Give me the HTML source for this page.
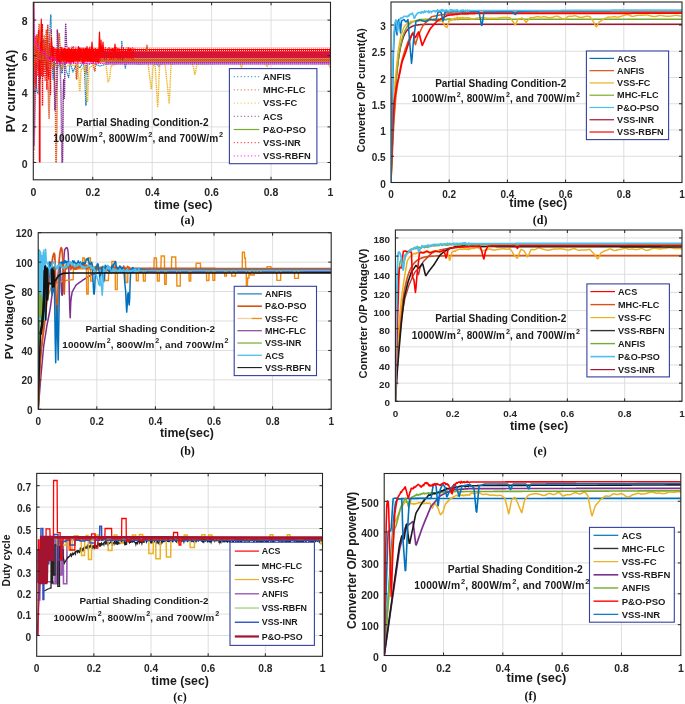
<!DOCTYPE html><html><head><meta charset="utf-8"><style>html,body{margin:0;padding:0;background:#fff;}svg{display:block;will-change:transform;filter:blur(0.3px);}</style></head><body>
<svg width="685" height="704" viewBox="0 0 685 704">
<rect width="685" height="704" fill="#fff"/>
<defs>

<pattern id="pA" patternUnits="userSpaceOnUse" width="2" height="2"><rect width="2" height="2" fill="#FF0000"/><rect x="0" y="0" width="1" height="1" fill="#FFD0D0"/></pattern>
<pattern id="pB" patternUnits="userSpaceOnUse" width="2" height="2"><rect width="2" height="2" fill="#FF0808"/><rect x="1" y="0" width="1" height="1" fill="#8A2A9A"/><rect x="0" y="1" width="1" height="1" fill="#D01840"/></pattern>
<pattern id="pC" patternUnits="userSpaceOnUse" width="2" height="2"><rect width="2" height="2" fill="#F03A10"/><rect x="1" y="0" width="1" height="1" fill="#7AA830"/><rect x="0" y="1" width="1" height="1" fill="#E06020"/></pattern>
<pattern id="pD" patternUnits="userSpaceOnUse" width="2" height="2"><rect width="2" height="2" fill="#C850D0"/><rect x="0" y="0" width="1" height="1" fill="#8E3A9E"/><rect x="1" y="1" width="1" height="1" fill="#E070E0"/></pattern>
<pattern id="pF" patternUnits="userSpaceOnUse" width="2" height="2"><rect width="2" height="2" fill="#FFB0B0"/><rect x="0" y="0" width="1" height="1" fill="#FFFFFF"/></pattern>

<clipPath id="clipa"><rect x="33.3" y="2.3" width="297.2" height="177.5"/></clipPath>
<clipPath id="clipd"><rect x="391" y="2" width="291" height="180.5"/></clipPath>
<clipPath id="clipb"><rect x="38.2" y="232.7" width="293" height="176.6"/></clipPath>
<clipPath id="clipe"><rect x="395.4" y="230" width="286.6" height="171.3"/></clipPath>
<clipPath id="clipc"><rect x="36.7" y="473.4" width="285.8" height="182.9"/></clipPath>
<clipPath id="clipf"><rect x="384.2" y="473.5" width="296.6" height="182"/></clipPath>
</defs>
<path d="M92.74 2.3V179.8M152.18 2.3V179.8M211.62 2.3V179.8M271.06 2.3V179.8M33.3 162.5H330.5M33.3 126.9H330.5M33.3 91.3H330.5M33.3 55.7H330.5M33.3 20.1H330.5" stroke="#D6D6D6" stroke-width="0.8" fill="none"/>
<g clip-path="url(#clipa)">
<polyline points="33.4,2.3 33.8,135.7 34.2,127 34.6,69 35,45.7 35.4,57.1 35.8,69 36.2,81 36.6,90.2 37,91.2 37.4,92.1 37.8,93.1 38.2,94 38.6,77 39,60 39.4,57 39.8,54 40.2,51 40.6,48 41,45 41.4,50 41.8,55 42.2,60 42.6,65 43,70 43.4,67 43.8,64 44.2,61 44.6,58 45,55 45.4,59 45.8,63 46.2,67 46.6,71 47,75 47.4,70 47.8,65 48.2,60 48.6,55 49,50 49.4,41.4 49.8,32.7 50.2,24.1 50.6,15.5 51,14.9 51.4,38.3 51.8,54.3 52.2,62.9 52.6,71.4 53,80 53.4,76.4 53.8,72.8 54.2,69.2 54.6,65.6 55,62 55.4,63.6 55.8,65.2 56.2,66.8 56.6,68.4 57,70 57.4,68.7 57.8,67.3 58.2,66 58.6,64.7 59,63.3 59.4,62 59.8,60.7 60.2,61.5 60.6,64.5 61,67.5 61.4,70.5 61.8,73.5 62.2,73.3 62.6,69.9 63,66.5 63.4,63.1 63.8,59.7 64.2,59.2 64.6,61.6 65,64 65.4,66.4 65.8,68.8 66.2,70.6 66.6,71.7 67,72.9 67.4,74 67.8,75.1 68.2,76.3 68.6,77.4 69,75.3 69.4,70 69.8,64.7 70.2,62.7 70.6,64 71,65.3 71.4,66.7 71.8,68 72.2,69.3 72.6,70.7 73,72 73.4,71.1 73.8,70.1 74.2,69.2 74.6,68.3 75,67.3 75.4,66.4 75.8,65.5 76.2,65.1 76.6,65.4 77,65.7 77.4,66 77.8,66.3 78.2,66.6 78.6,66.9 79,67.2 79.4,67.5 79.8,67.8 80.2,67.6 80.6,66.8 81,66 81.4,65.2 81.8,64.4 82.2,63.6 82.6,62.8 83,62 83.4,64.1 83.8,66.3 84.2,68.4 84.6,72.7 85,83.6 85.4,94.4 85.8,105.3 86.2,104.6 86.6,92.4 87,80.2 87.4,68 87.8,64.9 88.2,64.7 88.6,64.5 89,64.3 89.4,64.2 89.8,64 90.2,63.8 90.6,63.6 91,63.4 91.4,63.3 91.8,63.1 92.2,63.1 92.6,63.2 93,63.4 93.4,63.5 93.8,63.7 94.2,63.8 94.6,64 95,64.1 95.4,64.3 95.8,64.4 96.2,64.6 96.6,64.7 97,64.9 97.4,65 97.8,65.2 98.2,65.3 98.6,65.5 99,65.6 99.4,65.8 99.8,65.9 100.2,65.9 100.6,65.8 101,65.7 101.4,65.6 101.8,65.5 102.2,65.3 102.6,65.2 103,65.1 103.4,65 103.8,64.9 104.2,64.7 104.6,64.6 105,64.5 105.4,64.4 105.8,64.3 106.2,64.1 106.6,64 107,63.9 107.4,63.8 107.8,63.7 108.2,63.5 108.6,63.4 109,63.3 109.4,63.2 109.8,63.1 110.2,63 110.6,62.9 111,62.9 111.4,62.8 111.8,62.8 112.2,62.7 112.6,62.7 113,62.6 113.4,62.6 113.8,62.5 114.2,62.5 114.6,62.4 115,62.4 115.4,62.3 115.8,62.3 116.2,62.2 116.6,62.2 117,62.1 117.4,62.1 117.8,62 118.2,61.6 118.6,60.7 119,59.8 119.4,58.9 119.8,58.1 120.2,57.2 120.6,56.3 121,55.4 121.4,50.5 121.8,41.4 122.2,45.9 122.6,55 123,56.5 123.4,57.9 123.8,59.4 124.2,60.9 124.6,62.8 125,65.8 125.4,68.9 125.8,65.8 126.2,62.8 126.6,62.1 127,62.2 127.4,62.3 127.8,62.4 128.2,62.5 128.6,62.6 129,62.7 129.4,62.8 129.8,62.9 130.2,63 130.6,63.1 131,63.1 131.4,63.1 131.8,63.2 132.2,63.2 132.6,63.3 133,63.3 133.4,63.3 133.8,63.4 134.2,63.4 134.6,63.5 135,63.5 135.4,63.5 135.8,63.6 136.2,63.6 136.6,63.7 137,63.7 137.4,63.7 137.8,63.8 138.2,63.8 138.6,63.9 139,63.9 139.4,63.9 139.8,64 140.2,64 140.6,63.9 141,63.9 141.4,63.9 141.8,63.8 142.2,63.8 142.6,63.7 143,63.7 143.4,63.7 143.8,63.6 144.2,63.6 144.6,63.5 145,63.5 145.4,63.5 145.8,63.4 146.2,63.4 146.6,63.3 147,63.3 147.4,63.3 147.8,63.2 148.2,63.2 148.6,63.1 149,63.1 149.4,63.1 149.8,63 150.2,63 150.6,63.1 151,63.1 151.4,63.2 151.8,63.3 152.2,63.3 152.6,63.4 153,63.4 153.4,63.5 153.8,63.5 154.2,63.6 154.6,63.7 155,63.7 155.4,63.8 155.8,63.8 156.2,63.9 156.6,63.9 157,64 157.4,64.5 157.8,65 158.2,65.5 158.6,66 159,66.5 159.4,65.6 159.8,64.7 160.2,63.8 160.6,62.9 161,62" fill="none" stroke="#0072BD" stroke-width="1.2" stroke-linejoin="round" stroke-dasharray="1.2 0.7"/>
<polyline points="33.5,2.3 33.9,96.7 34.3,83.3 34.7,70 35.1,59.5 35.5,57.5 35.9,55.5 36.3,53.5 36.7,51.5 37.1,48.8 37.5,43.9 37.9,38.9 38.3,34 38.7,29.1 39.1,24.2 39.5,24.1 39.9,38.5 40.3,52.8 40.7,57.3 41.1,52 41.5,46.7 41.9,41.3 42.3,43.7 42.7,48.7 43.1,53.7 43.5,58.7 43.9,63.7 44.3,60.5 44.7,54.4 45.1,48.4 45.5,42.4 45.9,36.3 46.3,30.3 46.7,34.6 47.1,42.3 47.5,50 47.9,74 48.3,92.8 48.7,109.9 49.1,119.1 49.5,104.9 49.9,90.7 50.3,76.3 50.7,61.3 51.1,51 51.5,55 51.9,59 52.3,63 52.7,67 53.1,69.3 53.5,66.7 53.9,64 54.3,61.3 54.7,68.9 55.1,86.7 55.5,115.6 55.9,162.5 56.3,162.5 56.7,141.3 57.1,108 57.5,60 57.9,53.4 58.3,46.8 58.7,40.2 59.1,33.6 59.5,37.3 59.9,44.4 60.3,51.5 60.7,57 61.1,61 61.5,65 61.9,69 62.3,66.7 62.7,62.3 63.1,57.9 63.5,53.5 63.9,49.1 64.3,50.5 64.7,53.9 65.1,57.3 65.5,60.7 65.9,64.1 66.3,62.8 66.7,59.8 67.1,56.8 67.5,53.8 67.9,50.8 68.3,51.8 68.7,54.2 69.1,56.6 69.5,59 69.9,61.4 70.3,60.2 70.7,57.8 71.1,55.4 71.5,53 71.9,50.6 72.3,50.9 72.7,52 73.1,53.1 73.5,54.3 73.9,55.4 74.3,56.6 74.7,57.7 75.1,58.9 75.5,60 75.9,69 76.3,77.9 76.7,79 77.1,72.1 77.5,65.2 77.9,59.8 78.3,58.9 78.7,58 79.1,57 79.5,56.1 79.9,55.2 80.3,55.4 80.7,56 81.1,56.5 81.5,57.1 81.9,57.7 82.3,58.2 82.7,58.8 83.1,59.3 83.5,59.9 83.9,60.5 84.3,61 84.7,61.6 85.1,63.3 85.5,68.5 85.9,73.7 86.3,70.5 86.7,64.5 87.1,59.4 87.5,57 87.9,54.6 88.3,54.4 88.7,55 89.1,55.6 89.5,56.2 89.9,56.8 90.3,57.4 90.7,58 91.1,58.6 91.5,59.2 91.9,59.8 92.3,61.2 92.7,62.8 93.1,64.4 93.5,66 93.9,67.6 94.3,69.2 94.7,70.8 95.1,70.6 95.5,65 95.9,59.4 96.3,57.4 96.7,56.6 97.1,55.8 97.5,55 97.9,54.2 98.3,53.4 98.7,52.6 99.1,51.8 99.5,51 99.9,50.2 100.3,50.7 100.7,51.7 101.1,52.6 101.5,53.6 101.9,54.6 102.3,55.5 102.7,56.5 103.1,57.4 103.5,58.4 103.9,59.4 104.3,60.3 104.7,61.3 105.1,61.8 105.5,61 105.9,60.2 106.3,59.4 106.7,58.6 107.1,57.8 107.5,57 107.9,56.2 108.3,55.4 108.7,54.6 109.1,53.8 109.5,53 109.9,52.2" fill="none" stroke="#D95319" stroke-width="1.5" stroke-linejoin="round" stroke-dasharray="1.3 0.7"/>
<polyline points="33.6,2.3 34,130 34.4,106 34.8,82 35.2,69.7 35.6,69 36,68.4 36.4,67.8 36.8,67.1 37.2,66.5 37.6,65.8 38,65.2 38.4,64.6 38.8,63.9 39.2,63.3 39.6,62.6 40,62 40.4,62.1 40.8,62.2 41.2,62.2 41.6,62.3 42,62.4 42.4,62.5 42.8,62.6 43.2,62.6 43.6,62.7 44,62.8 44.4,62.9 44.8,63 45.2,63 45.6,63.1 46,63.2 46.4,63.3 46.8,63.4 47.2,63.4 47.6,63.5 48,63.6 48.4,63.7 48.8,63.8 49.2,63.8 49.6,63.9 50,64 50.4,64.1 50.8,64.2 51.2,64.2 51.6,64.3 52,64.4 52.4,64.5 52.8,64.6 53.2,64.6 53.6,64.7 54,64.8 54.4,64.9 54.8,65 55.2,65 55.6,65.1 56,65.2 56.4,65.3 56.8,65.4 57.2,65.4 57.6,65.5 58,65.6 58.4,65.7 58.8,65.8 59.2,65.8 59.6,65.9 60,66 60.4,66.2 60.8,66.3 61.2,66.5 61.6,66.6 62,66.8 62.4,67 62.8,67.1 63.2,67.3 63.6,67.4 64,67.6 64.4,67.8 64.8,67.9 65.2,67.8 65.6,67.5 66,67.2 66.4,66.9 66.8,66.6 67.2,66.2 67.6,65.9 68,65.6 68.4,65.3 68.8,65 69.2,64.6 69.6,64.3 70,64 70.4,64.2 70.8,64.3 71.2,64.5 71.6,64.6 72,64.8 72.4,65 72.8,65.1 73.2,65.3 73.6,65.4 74,65.6 74.4,65.8 74.8,65.9 75.2,65.9 75.6,65.6 76,65.3 76.4,65.1 76.8,64.8 77.2,64.5 77.6,64.3 78,64 78.4,70.8 78.8,77.6 79.2,84.4 79.6,91.2 80,90.5 80.4,82.3 80.8,74.1 81.2,69.8 81.6,69.4 82,69 82.4,68.6 82.8,68.2 83.2,67.8 83.6,67.4 84,67 84.4,66.6 84.8,66.2 85.2,69.1 85.6,75.3 86,81.5 86.4,87.7 86.8,93.9 87.2,100.1 87.6,102.3 88,92.5 88.4,82.7 88.8,72.9 89.2,67.9 89.6,67.6 90,67.3 90.4,67.1 90.8,66.8 91.2,66.5 91.6,66.3 92,66 92.4,65.7 92.8,65.5 93.2,65.2 93.6,64.9 94,64.7 94.4,64.4 94.8,64.1 95.2,63.9 95.6,63.8 96,63.6 96.4,63.4 96.8,63.3 97.2,63.1 97.6,63 98,62.8 98.4,62.6 98.8,62.5 99.2,62.3 99.6,62.2 100,62 100.4,62.1 100.8,62.3 101.2,62.4 101.6,62.5 102,62.7 102.4,62.8 102.8,62.9 103.2,63.1 103.6,63.2 104,63.3 104.4,63.5 104.8,63.6 105.2,63.7 105.6,63.9 106,64 106.4,67.6 106.8,71.1 107.2,74.7 107.6,78.2 108,81.8 108.4,81.2 108.8,80.5 109.2,79.9 109.6,78.5 110,74.9 110.4,71.4 110.8,67.8 111.2,65.9 111.6,65.7 112,65.6 112.4,65.4 112.8,65.2 113.2,65 113.6,64.8 114,64.7 114.4,64.5 114.8,64.3 115.2,64.1 115.6,64 116,63.8 116.4,63.6 116.8,63.4 117.2,63.2 117.6,63.1 118,62.9 118.4,62.7 118.8,62.5 119.2,62.4 119.6,62.2 120,62 120.4,62 120.8,62 121.2,62.1 121.6,62.1 122,62.1 122.4,62.1 122.8,62.1 123.2,62.2 123.6,62.2 124,62.2 124.4,62.2 124.8,62.2 125.2,62.3 125.6,62.3 126,62.3 126.4,62.3 126.8,62.3 127.2,62.4 127.6,62.4 128,62.4 128.4,62.4 128.8,62.4 129.2,62.5 129.6,62.5 130,62.5 130.4,62.5 130.8,62.5 131.2,62.6 131.6,62.6 132,62.6 132.4,62.6 132.8,62.6 133.2,62.7 133.6,62.7 134,62.7 134.4,62.7 134.8,62.7 135.2,62.8 135.6,62.8 136,62.8 136.4,62.8 136.8,62.8 137.2,62.9 137.6,62.9 138,62.9 138.4,62.9 138.8,62.9 139.2,63 139.6,63 140,63 140.4,63 140.8,63 141.2,63 141.6,63 142,63 142.4,63 142.8,63 143.2,63 143.6,63 144,63 144.4,63 144.8,63 145.2,63 145.6,63 146,63 146.4,63 146.8,63 147.2,63 147.6,63 148,63 148.4,66.3 148.8,69.5 149.2,72.8 149.6,76 150,79.3 150.4,82.6 150.8,85.8 151.2,89.1 151.6,87.6 152,81.4 152.4,75.3 152.8,69.1 153.2,65.7 153.6,65.1 154,64.5 154.4,63.9 154.8,63.3 155.2,66.4 155.6,73.1 156,79.8 156.4,86.5 156.8,93.2 157.2,99.9 157.6,106.6 158,104.7 158.4,94.1 158.8,83.5 159.2,72.9 159.6,65 160,64.8 160.4,64.7 160.8,64.5 161.2,64.4 161.6,64.2 162,64.1 162.4,63.9 162.8,63.8 163.2,63.7 163.6,63.5 164,63.4 164.4,63.2 164.8,63.1 165.2,64.9 165.6,68.8 166,72.7 166.4,76.6 166.8,80.5 167.2,84.4 167.6,88.3 168,92.2 168.4,96.1 168.8,99.9 169.2,103.8 169.6,97.6 170,88 170.4,78.4 170.8,68.8 171.2,64 171.6,63.9 172,63.9 172.4,63.8 172.8,63.8 173.2,63.8 173.6,63.7 174,63.7 174.4,63.6 174.8,63.6 175.2,63.5 175.6,63.5 176,63.4 176.4,63.4 176.8,63.4 177.2,63.3 177.6,63.3 178,63.2 178.4,63.2 178.8,63.1 179.2,63.1 179.6,63 180,63 180.4,63 180.8,63 181.2,63 181.6,63 182,63 182.4,63 182.8,63 183.2,63 183.6,63 184,63 184.4,63 184.8,63 185.2,63 185.6,63 186,63 186.4,63 186.8,63 187.2,63 187.6,63 188,63 188.4,63 188.8,63 189.2,63 189.6,63 190,63 190.4,63.3 190.8,63.5 191.2,63.8 191.6,64.1 192,64.3 192.4,64.6 192.8,64.9 193.2,66.1 193.6,68.3 194,70.5 194.4,72.7 194.8,74.9 195.2,73.8 195.6,71.6 196,69.4 196.4,67.3 196.8,65.1 197.2,64 197.6,64 198,64 198.4,64 198.8,63.9 199.2,63.9 199.6,63.9 200,63.9 200.4,63.9 200.8,63.9 201.2,63.9 201.6,63.9 202,63.8 202.4,63.8 202.8,63.8 203.2,63.8 203.6,63.8 204,63.8 204.4,63.8 204.8,63.8 205.2,63.8 205.6,63.7 206,63.7 206.4,63.7 206.8,63.7 207.2,63.7 207.6,63.7 208,63.7 208.4,63.7 208.8,63.6 209.2,63.6 209.6,63.6 210,63.6 210.4,63.6 210.8,63.6 211.2,63.6 211.6,63.6 212,63.5 212.4,63.5 212.8,63.5 213.2,63.5 213.6,63.5 214,63.5 214.4,63.5 214.8,63.5 215.2,63.4 215.6,63.4 216,63.4 216.4,63.4 216.8,63.4 217.2,63.4 217.6,63.4 218,63.4 218.4,63.4 218.8,63.3 219.2,63.3 219.6,63.3 220,63.3 220.4,63.3 220.8,63.3 221.2,63.3 221.6,63.3 222,63.2 222.4,63.2 222.8,63.2 223.2,63.2 223.6,63.2 224,63.2 224.4,63.2 224.8,63.2 225.2,63.1 225.6,63.1 226,63.1 226.4,63.1 226.8,63.1 227.2,63.1 227.6,63.1 228,63.1 228.4,63 228.8,63 229.2,63 229.6,63 230,63 230.4,63 230.8,63 231.2,63.1 231.6,63.1 232,63.1 232.4,63.1 232.8,63.1 233.2,63.2 233.6,63.2 234,63.2 234.4,63.2 234.8,63.2 235.2,63.3 235.6,63.3 236,63.3 236.4,63.3 236.8,63.3 237.2,63.4 237.6,63.4 238,63.4 238.4,63.4 238.8,63.4 239.2,63.5 239.6,63.5 240,63.5 240.4,64.8 240.8,66.1 241.2,67.4 241.6,67.4 242,66.1 242.4,64.9 242.8,63.6 243.2,63 243.6,63 244,63 244.4,63 244.8,63 245.2,63 245.6,63 246,63 246.4,63 246.8,63 247.2,63 247.6,63 248,63 248.4,63 248.8,63 249.2,63 249.6,63 250,63 250.4,63 250.8,63 251.2,63 251.6,63 252,63 252.4,63 252.8,63 253.2,63 253.6,63 254,63 254.4,63 254.8,63 255.2,63 255.6,63 256,63 256.4,63 256.8,63 257.2,63 257.6,63 258,63 258.4,63 258.8,63 259.2,63 259.6,63 260,63 260.4,63 260.8,63 261.2,63 261.6,63 262,63 262.4,63 262.8,63 263.2,63 263.6,63 264,63 264.4,63 264.8,63 265.2,63.4 265.6,64.2 266,65 266.4,65.8 266.8,66.6 267.2,66.6 267.6,65.8 268,65 268.4,64.2 268.8,63.4 269.2,63 269.6,63 270,63 270.4,63 270.8,63 271.2,63 271.6,63 272,63 272.4,63 272.8,63 273.2,63 273.6,63 274,63 274.4,63 274.8,63 275.2,63 275.6,63 276,63 276.4,63 276.8,63 277.2,63 277.6,63 278,63 278.4,63 278.8,63 279.2,63 279.6,63 280,63 280.4,63 280.8,63 281.2,63 281.6,63 282,63 282.4,63 282.8,63 283.2,63 283.6,63 284,63 284.4,63 284.8,63 285.2,63 285.6,63 286,63 286.4,63 286.8,63 287.2,63 287.6,63 288,63 288.4,63 288.8,63 289.2,63 289.6,63 290,63 290.4,63 290.8,63 291.2,63 291.6,63 292,63 292.4,63 292.8,63 293.2,63 293.6,63 294,63 294.4,63 294.8,63 295.2,63 295.6,63 296,63 296.4,63 296.8,63 297.2,63 297.6,63 298,63 298.4,63 298.8,63 299.2,63 299.6,63 300,63 300.4,63 300.8,63 301.2,63 301.6,63 302,63 302.4,63 302.8,63 303.2,63 303.6,63 304,63 304.4,63 304.8,63 305.2,63 305.6,63 306,63 306.4,63 306.8,63 307.2,63 307.6,63 308,63 308.4,63 308.8,63 309.2,63 309.6,63 310,63 310.4,63 310.8,63 311.2,63 311.6,63 312,63 312.4,63 312.8,63 313.2,63 313.6,63 314,63 314.4,63 314.8,63 315.2,63 315.6,63 316,63 316.4,63 316.8,63 317.2,63 317.6,63 318,63 318.4,63 318.8,63 319.2,63 319.6,63 320,63 320.4,63 320.8,63 321.2,63 321.6,63 322,63 322.4,63 322.8,63 323.2,63 323.6,63 324,63 324.4,63 324.8,63 325.2,63 325.6,63 326,63 326.4,63 326.8,63 327.2,63 327.6,63 328,63 328.4,64 328.8,65 329.2,66 329.6,67 330,68" fill="none" stroke="#EDB120" stroke-width="1.4" stroke-linejoin="round" stroke-dasharray="1.2 0.7"/>
<polyline points="33.7,2.3 34.1,146 34.5,130 34.9,114 35.3,98 35.7,82 36.1,69.3 36.5,66.3 36.9,63.3 37.3,60.3 37.7,57.3 38.1,56.2 38.5,61.2 38.9,66.2 39.3,71.2 39.7,76.2 40.1,78.5 40.5,72.5 40.9,66.5 41.3,60.5 41.7,54.5 42.1,49.4 42.5,47 42.9,44.6 43.3,42.2 43.7,39.8 44.1,39.6 44.5,46 44.9,52.4 45.3,58.8 45.7,65.2 46.1,69.3 46.5,66.3 46.9,63.3 47.3,60.3 47.7,57.3 48.1,55.2 48.5,56.2 48.9,57.2 49.3,58.2 49.7,59.2 50.1,59.3 50.5,56.3 50.9,53.3 51.3,50.3 51.7,47.3 52.1,45.8 52.5,48.9 52.9,52.1 53.3,55.3 53.7,58.4 54.1,70 54.5,90 54.9,110 55.3,109.5 55.7,102.1 56.1,94.7 56.5,87.4 56.9,80 57.3,30 57.7,36.7 58.1,43.3 58.5,50 58.9,53.2 59.3,56.4 59.7,59.6 60.1,65.2 60.5,77.8 60.9,90.5 61.3,110.4 61.7,152.1 62.1,162.5 62.5,162.5 62.9,131.3 63.3,90 63.7,79.7 64.1,99.2 64.5,95 64.9,67 65.3,40.9 65.7,24.3 66.1,34.6 66.5,45 66.9,46.3 67.3,47.7 67.7,49 68.1,49.9 68.5,49.6 68.9,49.3 69.3,49 69.7,48.7 70.1,48.4 70.5,48.1 70.9,47.8 71.3,47.5 71.7,47.2 72.1,47 72.5,47.1 72.9,47.1 73.3,47.2 73.7,47.2 74.1,47.3 74.5,47.3 74.9,47.4 75.3,47.4 75.7,47.5 76.1,47.5 76.5,47.6 76.9,47.6 77.3,47.7 77.7,47.7 78.1,47.8 78.5,47.8 78.9,47.9 79.3,47.9 79.7,48 80.1,48 80.5,48 80.9,48.1 81.3,48.1 81.7,48.2 82.1,48.2 82.5,48.2 82.9,48.3 83.3,48.3 83.7,48.4 84.1,48.4 84.5,48.4 84.9,48.5 85.3,48.5 85.7,48.6 86.1,48.6 86.5,48.6 86.9,48.7 87.3,48.7 87.7,48.8 88.1,48.8 88.5,48.8 88.9,48.9 89.3,48.9 89.7,49 90.1,49 90.5,49 90.9,49.1 91.3,49.1 91.7,49.2 92.1,49.2 92.5,49.2 92.9,49.3 93.3,49.3 93.7,49.4 94.1,49.4 94.5,49.4 94.9,49.5 95.3,49.5 95.7,49.6 96.1,49.6 96.5,49.6 96.9,49.7 97.3,49.7 97.7,49.8 98.1,49.8 98.5,49.8 98.9,49.9 99.3,49.9 99.7,50 100.1,50 100.5,50.2 100.9,50.3 101.3,50.4 101.7,50.6 102.1,50.7 102.5,50.8 102.9,51 103.3,51.1 103.7,51.2 104.1,51.4 104.5,51.5 104.9,51.6 105.3,51.8 105.7,51.9" fill="none" stroke="#7E2F8E" stroke-width="1.5" stroke-linejoin="round" stroke-dasharray="1.3 0.7"/>
<rect x="60" y="47.3" width="271" height="1.6" fill="url(#pF)"/>
<rect x="60" y="48.8" width="271" height="3" fill="url(#pA)"/>
<rect x="60" y="51.8" width="271" height="6.6" fill="url(#pB)"/>
<rect x="60" y="58.4" width="271" height="3.5" fill="url(#pC)"/>
<rect x="105" y="61.9" width="226" height="2.7" fill="url(#pD)"/>
<polyline points="33.4,38.5 34.3,84 35.2,36.7 36.1,88.5 37,34.8 37.9,76 38.8,29.6 39.7,84.2 40.6,43 41.5,75.4 42.4,23.9 43.3,76.9 44.2,43.8 45.1,81.2 46,40.3 46.9,89.9 47.8,24.5 48.7,79 49.6,42.9 50.5,94.6 51.4,30" fill="none" stroke="#FF0000" stroke-width="1.3" stroke-linejoin="round" stroke-dasharray="1.4 0.8"/>
<polyline points="33.8,37.4 35.1,62.6 36.4,34.6 37.7,69.9 39,36.5 40.3,67.3 41.6,35.1 42.9,65.5 44.2,35.2 45.5,69.6 46.8,35.7 48.1,67 49.4,34.7" fill="none" stroke="#D95319" stroke-width="1.1" stroke-linejoin="round" stroke-dasharray="1.2 0.8"/>
<polyline points="39.7,60 39.7,162.5" fill="none" stroke="#FF0000" stroke-width="1.8" stroke-linejoin="round"/>
<polyline points="42.5,60 42.5,106" fill="none" stroke="#FF0000" stroke-width="1.5" stroke-linejoin="round" stroke-dasharray="1.5 0.5"/>
<polyline points="52,48.8 52.7,61.3 53.4,47.3 54.1,60.6 54.8,47.8 55.5,61 56.2,48.8 56.9,62.9 57.6,48.9 58.3,61.7 59,48.9 59.7,61.9 60.4,46.9 61.1,62.9 61.8,47.5 62.5,60.2 63.2,48.6 63.9,61.2 64.6,48.3 65.3,60.1 66,49 66.7,62.4 67.4,49.5 68.1,62.1 68.8,47.4 69.5,62.2 70.2,49.3 70.9,62.8 71.6,48.7 72.3,61.8 73,47.3 73.7,63 74.4,49.5 75.1,60.4 75.8,48.8 76.5,60.3 77.2,48.7 77.9,61.3 78.6,46.7 79.3,60.7 80,48.2 80.7,60.6 81.4,48.6 82.1,62.6 82.8,48.3 83.5,62.9 84.2,48.8 84.9,61.8 85.6,48.3 86.3,60 87,46.7 87.7,61.2 88.4,48.4 89.1,61 89.8,47.1 90.5,61.7 91.2,49.1 91.9,61.4 92.6,48.6 93.3,62.1 94,48.7 94.7,61.3 95.4,48.1 96.1,62.2 96.8,49.3 97.5,62.5 98.2,48.6 98.9,62.8 99.6,47.6" fill="none" stroke="#FF0000" stroke-width="1.3" stroke-linejoin="round" stroke-dasharray="1.6 0.4"/>
<polyline points="100,48.3 100.9,59.3 101.8,47.5 102.7,58.2 103.6,47.9 104.5,59.1 105.4,47.5 106.3,59 107.2,49 108.1,58.1 109,47.5 109.9,59.3 110.8,48.8 111.7,58.7 112.6,47.7 113.5,58.9 114.4,47.6 115.3,58.9 116.2,47 117.1,59.3 118,47.5 118.9,58.9 119.8,48.7 120.7,59.4 121.6,47.1 122.5,59.9 123.4,47.2 124.3,58.9 125.2,48.8 126.1,58.6 127,47.7 127.9,58.1 128.8,47.2 129.7,58.2 130.6,48.4 131.5,59.1 132.4,47.9 133.3,59.8 134.2,48" fill="none" stroke="#FF0000" stroke-width="1.1" stroke-linejoin="round" stroke-dasharray="1.2 0.8"/>
<polyline points="40.6,52 41.3,19.2 42,52" fill="none" stroke="#FF0000" stroke-width="1.2" stroke-linejoin="round"/>
<polyline points="50.8,52 51.5,37 52.2,52" fill="none" stroke="#FF0000" stroke-width="1.2" stroke-linejoin="round"/>
<polyline points="98.8,52 99.5,32 100.2,52" fill="none" stroke="#FF0000" stroke-width="1.2" stroke-linejoin="round"/>
<polyline points="100.3,52 101,40 101.7,52" fill="none" stroke="#FF0000" stroke-width="1.2" stroke-linejoin="round"/>
<polyline points="102.3,52 103,42 103.7,52" fill="none" stroke="#FF0000" stroke-width="1.2" stroke-linejoin="round"/>
<polyline points="91.3,52 92,42 92.7,52" fill="none" stroke="#FF0000" stroke-width="1.2" stroke-linejoin="round"/>
<polyline points="114.3,52 115,44 115.7,52" fill="none" stroke="#FF0000" stroke-width="1.2" stroke-linejoin="round"/>
<polyline points="146.3,52 147,45 147.7,52" fill="none" stroke="#D95319" stroke-width="1.2" stroke-linejoin="round"/>
<polyline points="33.7,2.5 33.7,162.5" fill="none" stroke="#FF0000" stroke-width="1.2" stroke-linejoin="round" stroke-dasharray="1.2 1.0"/>
<polyline points="34.6,30 34.6,150" fill="none" stroke="#F06080" stroke-width="1.0" stroke-linejoin="round" stroke-dasharray="1 1.2"/>
<polyline points="33.5,2.5 33.9,16.5 34.3,33.2 34.7,42.2 35.1,42.5 35.5,42.9 35.9,43.3 36.3,43.6 36.7,44 37.1,44.6 37.5,45.4 37.9,46.1 38.3,46.8 38.7,47.6 39.1,48.3 39.5,49 39.9,49.7 40.3,50.5 40.7,51.2 41.1,51.3 41.5,51.5 41.9,51.6 42.3,51.7 42.7,51.8 43.1,52 43.5,52.1 43.9,52.2 44.3,52.3 44.7,52.7 45.1,53.3 45.5,53.9 45.9,54.5 46.3,55.1 46.7,55.7 47.1,56.3 47.5,56.9 47.9,57.5 48.3,58.1 48.7,58.7 49.1,59.3 49.5,59.9 49.9,59.8 50.3,59.4 50.7,59 51.1,58.6 51.5,58.2 51.9,57.8 52.3,57.6 52.7,57.8 53.1,58 53.5,58.3 53.9,58.5 54.3,58.8 54.7,59 55.1,59.4 55.5,59.8 55.9,60.1 56.3,60.5 56.7,60.9 57.1,61.3 57.5,61.7 57.9,62 58.3,62.4 58.7,62.7 59.1,62.8 59.5,62.9 59.9,62.9 60.3,63 60.7,63.1 61.1,63.1 61.5,63.2 61.9,63.3 62.3,63.3 62.7,63.3 63.1,63.3 63.5,63.3 63.9,63.3 64.3,63.3 64.7,63.3 65.1,63.3 65.5,63.3 65.9,63.3 66.3,63.3 66.7,63.3 67.1,63.3 67.5,63.3 67.9,63.3 68.3,63.3 68.7,63.3 69.1,63.3 69.5,63.3 69.9,63.3 70.3,63.3 70.7,63.3 71.1,63.3 71.5,63.3 71.9,63.3 72.3,63.3 72.7,63.3 73.1,63.3 73.5,63.3 73.9,63.3 74.3,63.3 74.7,63.3 75.1,63.3 75.5,63.3 75.9,63.3 76.3,63.3 76.7,63.3 77.1,63.3 77.5,63.3 77.9,63.3 78.3,63.3 78.7,63.3 79.1,63.3 79.5,63.3 79.9,63.3 80.3,63.3 80.7,63.3 81.1,63.3 81.5,63.3 81.9,63.3 82.3,63.3 82.7,63.3 83.1,63.3 83.5,63.3 83.9,63.3 84.3,63.3 84.7,63.3 85.1,63.3 85.5,63.3 85.9,63.3 86.3,63.3 86.7,63.3 87.1,63.3 87.5,63.3 87.9,63.3 88.3,63.3 88.7,63.3 89.1,63.3 89.5,63.3 89.9,63.3 90.3,63.3 90.7,63.3 91.1,63.3 91.5,63.3 91.9,63.3 92.3,63.3 92.7,63.3 93.1,63.3 93.5,63.3 93.9,63.3 94.3,63.3 94.7,63.3 95.1,63.3 95.5,63.3 95.9,63.3 96.3,63.3 96.7,63.3 97.1,63.3 97.5,63.3 97.9,63.3 98.3,63.3 98.7,63.3 99.1,63.3 99.5,63.3 99.9,63.3 100.3,63.3 100.7,63.3 101.1,63.3 101.5,63.3 101.9,63.3 102.3,63.3 102.7,63.3 103.1,63.3 103.5,63.3 103.9,63.3 104.3,63.3 104.7,63.3" fill="none" stroke="#FF00FF" stroke-width="1.4" stroke-linejoin="round" stroke-dasharray="1 0.8"/>
</g>
<rect x="33.3" y="2.3" width="297.2" height="177.5" fill="none" stroke="#262626" stroke-width="1.1"/>
<path d="M92.74 179.8v-3M92.74 2.3v3M152.18 179.8v-3M152.18 2.3v3M211.62 179.8v-3M211.62 2.3v3M271.06 179.8v-3M271.06 2.3v3M33.3 162.5h3M330.5 162.5h-3M33.3 126.9h3M330.5 126.9h-3M33.3 91.3h3M330.5 91.3h-3M33.3 55.7h3M330.5 55.7h-3M33.3 20.1h3M330.5 20.1h-3" stroke="#262626" stroke-width="1" fill="none"/>
<text x="33.3" y="195.8" font-size="10.5" text-anchor="middle" font-weight="bold" font-family="Liberation Sans" fill="#262626">0</text>
<text x="92.74" y="195.8" font-size="10.5" text-anchor="middle" font-weight="bold" font-family="Liberation Sans" fill="#262626">0.2</text>
<text x="152.18" y="195.8" font-size="10.5" text-anchor="middle" font-weight="bold" font-family="Liberation Sans" fill="#262626">0.4</text>
<text x="211.62" y="195.8" font-size="10.5" text-anchor="middle" font-weight="bold" font-family="Liberation Sans" fill="#262626">0.6</text>
<text x="271.06" y="195.8" font-size="10.5" text-anchor="middle" font-weight="bold" font-family="Liberation Sans" fill="#262626">0.8</text>
<text x="330.5" y="195.8" font-size="10.5" text-anchor="middle" font-weight="bold" font-family="Liberation Sans" fill="#262626">1</text>
<text x="27.5" y="167.88" font-size="10.5" text-anchor="end" font-weight="bold" font-family="Liberation Sans" fill="#262626">0</text>
<text x="27.5" y="132.28" font-size="10.5" text-anchor="end" font-weight="bold" font-family="Liberation Sans" fill="#262626">2</text>
<text x="27.5" y="96.68" font-size="10.5" text-anchor="end" font-weight="bold" font-family="Liberation Sans" fill="#262626">4</text>
<text x="27.5" y="61.08" font-size="10.5" text-anchor="end" font-weight="bold" font-family="Liberation Sans" fill="#262626">6</text>
<text x="27.5" y="25.48" font-size="10.5" text-anchor="end" font-weight="bold" font-family="Liberation Sans" fill="#262626">8</text>
<text transform="translate(15.21,91) rotate(-90)" font-size="12.8" text-anchor="middle" font-weight="bold" font-family="Liberation Sans" fill="#1a1a1a">PV current(A)</text>
<text x="183.3" y="209" font-size="12.5" text-anchor="middle" font-weight="bold" font-family="Liberation Sans" fill="#1a1a1a">time (sec)</text>
<text x="187.5" y="223.8" font-size="12.0" text-anchor="middle" font-weight="bold" font-family="Liberation Serif" fill="#111">(a)</text>
<rect x="229.4" y="68.6" width="87.5" height="95.1" fill="#fff" stroke="#34409E" stroke-width="1.1"/>
<line x1="233.7" y1="76.7" x2="259.3" y2="76.7" stroke="#0072BD" stroke-width="1" stroke-dasharray="1 2.5"/>
<text x="263.1" y="80.05" font-size="9.3" text-anchor="start" font-weight="bold" font-family="Liberation Sans" fill="#1a1a1a">ANFIS</text>
<line x1="233.7" y1="89.9" x2="259.3" y2="89.9" stroke="#D95319" stroke-width="1" stroke-dasharray="1 2.5"/>
<text x="263.1" y="93.25" font-size="9.3" text-anchor="start" font-weight="bold" font-family="Liberation Sans" fill="#1a1a1a">MHC-FLC</text>
<line x1="233.7" y1="103.1" x2="259.3" y2="103.1" stroke="#EDB120" stroke-width="1" stroke-dasharray="1 2.5"/>
<text x="263.1" y="106.45" font-size="9.3" text-anchor="start" font-weight="bold" font-family="Liberation Sans" fill="#1a1a1a">VSS-FC</text>
<line x1="233.7" y1="116.3" x2="259.3" y2="116.3" stroke="#7E2F8E" stroke-width="1" stroke-dasharray="1 2.5"/>
<text x="263.1" y="119.65" font-size="9.3" text-anchor="start" font-weight="bold" font-family="Liberation Sans" fill="#1a1a1a">ACS</text>
<line x1="233.7" y1="129.5" x2="259.3" y2="129.5" stroke="#77AC30" stroke-width="1.2"/>
<text x="263.1" y="132.85" font-size="9.3" text-anchor="start" font-weight="bold" font-family="Liberation Sans" fill="#1a1a1a">P&amp;O-PSO</text>
<line x1="233.7" y1="142.7" x2="259.3" y2="142.7" stroke="#FF0000" stroke-width="1" stroke-dasharray="1 2.5"/>
<text x="263.1" y="146.05" font-size="9.3" text-anchor="start" font-weight="bold" font-family="Liberation Sans" fill="#1a1a1a">VSS-INR</text>
<line x1="233.7" y1="155.9" x2="259.3" y2="155.9" stroke="#FF00FF" stroke-width="1" stroke-dasharray="1 2.5"/>
<text x="263.1" y="159.25" font-size="9.3" text-anchor="start" font-weight="bold" font-family="Liberation Sans" fill="#1a1a1a">VSS-RBFN</text>
<text x="142.4" y="126.2" font-size="10.1" text-anchor="middle" font-weight="bold" font-family="Liberation Sans" fill="#1a1a1a">Partial Shading Condition-2</text>
<text x="138.3" y="142.4" font-size="10.1" text-anchor="middle" font-weight="bold" font-family="Liberation Sans" fill="#1a1a1a" letter-spacing="0.11">1000W/m<tspan font-size="7.27" dy="-5.05" dx="0.81">2</tspan><tspan dy="5.05">, 800W/m</tspan><tspan font-size="7.27" dy="-5.05" dx="0.81">2</tspan><tspan dy="5.05">, and 700W/m</tspan><tspan font-size="7.27" dy="-5.05" dx="0.81">2</tspan></text>
<path d="M449.2 2V182.5M507.4 2V182.5M565.6 2V182.5M623.8 2V182.5M391 156.25H682M391 130H682M391 103.75H682M391 77.5H682M391 51.25H682M391 25H682" stroke="#D6D6D6" stroke-width="0.8" fill="none"/>
<g clip-path="url(#clipd)">
<polyline points="391,182.5 391.5,167.3 392,153.5 392.5,141.1 393,129.9 393.5,119.7 394,110.5 394.5,102.2 395,94.7 395.5,87.9 396,81.8 396.5,76.3 397,71.3 397.5,66.7 398,62.7 398.5,59 399,55.6 399.5,52.6 400,49.9 400.5,47.4 401,45.2 401.5,43.2 402,41.3 402.5,39.7 403,38.2 403.5,36.9 404,35.6 404.5,34.5 405,33.5 405.5,32.6 406,31.8 406.5,31.1 407,30.4 407.5,29.8 408,29.3 408.5,28.8 409,28.4 409.5,28 410,27.6 410.5,27.3 411,27 411.5,26.7 412,26.5 412.5,26.3 413,26.1 413.5,25.9 414,25.7 414.5,25.6 415,25.4 415.5,25.3 416,25.2 416.5,25.1 417,25 417.5,24.9 418,24.9 418.5,24.8 419,24.8 419.5,24.7 420,24.7 420.5,24.6 421,24.6 421.5,24.5 422,24.5 422.5,24.5 423,24.4 423.5,24.4 424,24.4 424.5,24.4 425,24.4 425.5,24.3 426,24.3 426.5,24.3 427,24.3 427.5,24.3 428,24.3 428.5,24.3 429,24.3 429.5,24.3 430,24.3 430.5,24.3 431,24.2 431.5,24.2 432,24.2 432.5,24.2 433,24.2 433.5,24.2 434,24.2 434.5,24.2 435,24.2 435.5,24.2 436,24.2 436.5,24.2 437,24.2 437.5,24.2 438,24.2 438.5,24.2 439,24.2 439.5,24.2 440,24.2 440.5,24.2 441,24.2 441.5,24.2 442,24.2 442.5,24.2 443,24.2 443.5,24.2 444,24.2 444.5,24.2 445,24.2 445.5,24.2 446,24.2 446.5,24.2 447,24.2 447.5,24.2 448,24.2 448.5,24.2 449,24.2 449.5,24.2 450,24.2 450.5,24.2 451,24.2 451.5,24.2 452,24.2 452.5,24.2 453,24.2 453.5,24.2 454,24.2 454.5,24.2 455,24.2 455.5,24.2 456,24.2 456.5,24.2 457,24.2 457.5,24.2 458,24.2 458.5,24.2 459,24.2 459.5,24.2 460,24.2 460.5,24.2 461,24.2 461.5,24.2 462,24.2 462.5,24.2 463,24.2 463.5,24.2 464,24.2 464.5,24.2 465,24.2 465.5,24.2 466,24.2 466.5,24.2 467,24.2 467.5,24.2 468,24.2 468.5,24.2 469,24.2 469.5,24.2 470,24.2 470.5,24.2 471,24.2 471.5,24.2 472,24.2 472.5,24.2 473,24.2 473.5,24.2 474,24.2 474.5,24.2 475,24.2 475.5,24.2 476,24.2 476.5,24.2 477,24.2 477.5,24.2 478,24.2 478.5,24.2 479,24.2 479.5,24.2 480,24.2 480.5,24.2 481,24.2 481.5,24.2 482,24.2 482.5,24.2 483,24.2 483.5,24.2 484,24.2 484.5,24.2 485,24.2 485.5,24.2 486,24.2 486.5,24.2 487,24.2 487.5,24.2 488,24.2 488.5,24.2 489,24.2 489.5,24.2 490,24.2 490.5,24.2 491,24.2 491.5,24.2 492,24.2 492.5,24.2 493,24.2 493.5,24.2 494,24.2 494.5,24.2 495,24.2 495.5,24.2 496,24.2 496.5,24.2 497,24.2 497.5,24.2 498,24.2 498.5,24.2 499,24.2 499.5,24.2 500,24.2 500.5,24.2 501,24.2 501.5,24.2 502,24.2 502.5,24.2 503,24.2 503.5,24.2 504,24.2 504.5,24.2 505,24.2 505.5,24.2 506,24.2 506.5,24.2 507,24.2 507.5,24.2 508,24.2 508.5,24.2 509,24.2 509.5,24.2 510,24.2 510.5,24.2 511,24.2 511.5,24.2 512,24.2 512.5,24.2 513,24.2 513.5,24.2 514,24.2 514.5,24.2 515,24.2 515.5,24.2 516,24.2 516.5,24.2 517,24.2 517.5,24.2 518,24.2 518.5,24.2 519,24.2 519.5,24.2 520,24.2 520.5,24.2 521,24.2 521.5,24.2 522,24.2 522.5,24.2 523,24.2 523.5,24.2 524,24.2 524.5,24.2 525,24.2 525.5,24.2 526,24.2 526.5,24.2 527,24.2 527.5,24.2 528,24.2 528.5,24.2 529,24.2 529.5,24.2 530,24.2 530.5,24.2 531,24.2 531.5,24.2 532,24.2 532.5,24.2 533,24.2 533.5,24.2 534,24.2 534.5,24.2 535,24.2 535.5,24.2 536,24.2 536.5,24.2 537,24.2 537.5,24.2 538,24.2 538.5,24.2 539,24.2 539.5,24.2 540,24.2 540.5,24.2 541,24.2 541.5,24.2 542,24.2 542.5,24.2 543,24.2 543.5,24.2 544,24.2 544.5,24.2 545,24.2 545.5,24.2 546,24.2 546.5,24.2 547,24.2 547.5,24.2 548,24.2 548.5,24.2 549,24.2 549.5,24.2 550,24.2 550.5,24.2 551,24.2 551.5,24.2 552,24.2 552.5,24.2 553,24.2 553.5,24.2 554,24.2 554.5,24.2 555,24.2 555.5,24.2 556,24.2 556.5,24.2 557,24.2 557.5,24.2 558,24.2 558.5,24.2 559,24.2 559.5,24.2 560,24.2 560.5,24.2 561,24.2 561.5,24.2 562,24.2 562.5,24.2 563,24.2 563.5,24.2 564,24.2 564.5,24.2 565,24.2 565.5,24.2 566,24.2 566.5,24.2 567,24.2 567.5,24.2 568,24.2 568.5,24.2 569,24.2 569.5,24.2 570,24.2 570.5,24.2 571,24.2 571.5,24.2 572,24.2 572.5,24.2 573,24.2 573.5,24.2 574,24.2 574.5,24.2 575,24.2 575.5,24.2 576,24.2 576.5,24.2 577,24.2 577.5,24.2 578,24.2 578.5,24.2 579,24.2 579.5,24.2 580,24.2 580.5,24.2 581,24.2 581.5,24.2 582,24.2 582.5,24.2 583,24.2 583.5,24.2 584,24.2 584.5,24.2 585,24.2 585.5,24.2 586,24.2 586.5,24.2 587,24.2 587.5,24.2 588,24.2 588.5,24.2 589,24.2 589.5,24.2 590,24.2 590.5,24.2 591,24.2 591.5,24.2 592,24.2 592.5,24.2 593,24.2 593.5,24.2 594,24.2 594.5,24.2 595,24.2 595.5,24.2 596,24.2 596.5,24.2 597,24.2 597.5,24.2 598,24.2 598.5,24.2 599,24.2 599.5,24.2 600,24.2 600.5,24.2 601,24.2 601.5,24.2 602,24.2 602.5,24.2 603,24.2 603.5,24.2 604,24.2 604.5,24.2 605,24.2 605.5,24.2 606,24.2 606.5,24.2 607,24.2 607.5,24.2 608,24.2 608.5,24.2 609,24.2 609.5,24.2 610,24.2 610.5,24.2 611,24.2 611.5,24.2 612,24.2 612.5,24.2 613,24.2 613.5,24.2 614,24.2 614.5,24.2 615,24.2 615.5,24.2 616,24.2 616.5,24.2 617,24.2 617.5,24.2 618,24.2 618.5,24.2 619,24.2 619.5,24.2 620,24.2 620.5,24.2 621,24.2 621.5,24.2 622,24.2 622.5,24.2 623,24.2 623.5,24.2 624,24.2 624.5,24.2 625,24.2 625.5,24.2 626,24.2 626.5,24.2 627,24.2 627.5,24.2 628,24.2 628.5,24.2 629,24.2 629.5,24.2 630,24.2 630.5,24.2 631,24.2 631.5,24.2 632,24.2 632.5,24.2 633,24.2 633.5,24.2 634,24.2 634.5,24.2 635,24.2 635.5,24.2 636,24.2 636.5,24.2 637,24.2 637.5,24.2 638,24.2 638.5,24.2 639,24.2 639.5,24.2 640,24.2 640.5,24.2 641,24.2 641.5,24.2 642,24.2 642.5,24.2 643,24.2 643.5,24.2 644,24.2 644.5,24.2 645,24.2 645.5,24.2 646,24.2 646.5,24.2 647,24.2 647.5,24.2 648,24.2 648.5,24.2 649,24.2 649.5,24.2 650,24.2 650.5,24.2 651,24.2 651.5,24.2 652,24.2 652.5,24.2 653,24.2 653.5,24.2 654,24.2 654.5,24.2 655,24.2 655.5,24.2 656,24.2 656.5,24.2 657,24.2 657.5,24.2 658,24.2 658.5,24.2 659,24.2 659.5,24.2 660,24.2 660.5,24.2 661,24.2 661.5,24.2 662,24.2 662.5,24.2 663,24.2 663.5,24.2 664,24.2 664.5,24.2 665,24.2 665.5,24.2 666,24.2 666.5,24.2 667,24.2 667.5,24.2 668,24.2 668.5,24.2 669,24.2 669.5,24.2 670,24.2 670.5,24.2 671,24.2 671.5,24.2 672,24.2 672.5,24.2 673,24.2 673.5,24.2 674,24.2 674.5,24.2 675,24.2 675.5,24.2 676,24.2 676.5,24.2 677,24.2 677.5,24.2 678,24.2 678.5,24.2 679,24.2 679.5,24.2 680,24.2 680.5,24.2 681,24.2 681.5,24.2 682,24.2" fill="none" stroke="#A2142F" stroke-width="1.5" stroke-linejoin="round"/>
<polyline points="391,182.5 391.5,167.6 392,154.1 392.5,141.9 393,130.7 393.5,120.6 394,111.3 394.5,103 395,95.3 395.5,88.4 396,82.1 396.5,76.4 397,71.2 397.5,66.5 398,62.2 398.5,58.3 399,54.7 399.5,51.5 400,48.6 400.5,45.9 401,43.5 401.5,41.3 402,39.3 402.5,37.5 403,35.8 403.5,34.3 404,32.9 404.5,31.7 405,30.6 405.5,29.5 406,28.6 406.5,27.8 407,27 407.5,26.3 408,25.7 408.5,25.1 409,24.6 409.5,24.1 410,23.6 410.5,22.8 411,23 411.5,22.7 412,22.2 412.5,21.7 413,21.8 413.5,21.5 414,21.7 414.5,21.3 415,21 415.5,21.1 416,20.6 416.5,20.3 417,20.6 417.5,20.5 418,20.2 418.5,20 419,20.1 419.5,19.4 420,20.1 420.5,20 421,19.4 421.5,19.8 422,19.5 422.5,19.9 423,19.2 423.5,19.4 424,19.8 424.5,19.9 425,19 425.5,19.4 426,19.6 426.5,19.3 427,19.9 427.5,19.2 428,19.5 428.5,19.2 429,19.8 429.5,19.4 430,19.3 430.5,19 431,19.8 431.5,19.6 432,19.6 432.5,19.6 433,19.4 433.5,19.2 434,19.1 434.5,19.1 435,19.7 435.5,19 436,19.2 436.5,19.2 437,19.4 437.5,19.5 438,19 438.5,18.9 439,19.3 439.5,19.6 440,19.5 440.5,19.4 441,19.2 441.5,19.4 442,19.2 442.5,19.5 443,19.1 443.5,19.3 444,19.3 444.5,19.4 445,19.4 445.5,19.9 446,19.7 446.5,19.7 447,18.8 447.5,19.2 448,19.2 448.5,19.4 449,18.7 449.5,19.6 450,19.6 450.5,19 451,19.1 451.5,19.1 452,19.3 452.5,19.5 453,19.8 453.5,19.3 454,19.5 454.5,19.3 455,19.7 455.5,19.5 456,19.6 456.5,19 457,19.3 457.5,19.1 458,19.7 458.5,19.5 459,19.2 459.5,19.2 460,19.3 460.5,19.3 461,19.3 461.5,19.3 462,19.3 462.5,19.3 463,19.3 463.5,19.3 464,19.3 464.5,19.3 465,19.3 465.5,19.3 466,19.3 466.5,19.3 467,19.3 467.5,19.3 468,19.3 468.5,19.3 469,19.3 469.5,19.3 470,19.3 470.5,19.3 471,19.3 471.5,19.3 472,19.3 472.5,19.3 473,19.3 473.5,19.3 474,19.3 474.5,19.3 475,19.3 475.5,19.3 476,19.3 476.5,19.3 477,19.3 477.5,19.3 478,19.3 478.5,19.3 479,19.3 479.5,19.3 480,19.3 480.5,19.3 481,19.3 481.5,19.3 482,19.3 482.5,19.3 483,19.3 483.5,19.3 484,19.3 484.5,19.3 485,19.3 485.5,19.3 486,19.3 486.5,19.3 487,19.3 487.5,19.3 488,19.3 488.5,19.3 489,19.3 489.5,19.3 490,19.3 490.5,19.3 491,19.3 491.5,19.3 492,19.3 492.5,19.3 493,19.3 493.5,19.3 494,19.3 494.5,19.3 495,19.3 495.5,19.3 496,19.3 496.5,19.3 497,19.3 497.5,19.3 498,19.3 498.5,19.3 499,19.3 499.5,19.3 500,19.3 500.5,19.3 501,19.3 501.5,19.3 502,19.3 502.5,19.3 503,19.3 503.5,19.3 504,19.3 504.5,19.3 505,19.3 505.5,19.3 506,19.3 506.5,19.3 507,19.3 507.5,19.3 508,19.3 508.5,19.3 509,19.3 509.5,19.3 510,19.3 510.5,19.3 511,19.3 511.5,19.3 512,19.3 512.5,19.3 513,19.3 513.5,19.3 514,19.3 514.5,19.3 515,19.3 515.5,19.3 516,19.3 516.5,19.3 517,19.3 517.5,19.3 518,19.3 518.5,19.3 519,19.3 519.5,19.3 520,19.3 520.5,19.3 521,19.3 521.5,19.3 522,19.3 522.5,19.3 523,19.3 523.5,19.3 524,19.3 524.5,19.3 525,19.3 525.5,19.3 526,19.3 526.5,19.3 527,19.3 527.5,19.3 528,19.3 528.5,19.3 529,19.3 529.5,19.3 530,19.3 530.5,19.3 531,19.3 531.5,19.3 532,19.3 532.5,19.3 533,19.3 533.5,19.3 534,19.3 534.5,19.3 535,19.3 535.5,19.3 536,19.3 536.5,19.3 537,19.3 537.5,19.3 538,19.3 538.5,19.3 539,19.3 539.5,19.3 540,19.3 540.5,19.3 541,19.3 541.5,19.3 542,19.3 542.5,19.3 543,19.3 543.5,19.3 544,19.3 544.5,19.3 545,19.3 545.5,19.3 546,19.3 546.5,19.3 547,19.3 547.5,19.3 548,19.3 548.5,19.3 549,19.3 549.5,19.3 550,19.3 550.5,19.3 551,19.3 551.5,19.3 552,19.3 552.5,19.3 553,19.3 553.5,19.3 554,19.3 554.5,19.3 555,19.3 555.5,19.3 556,19.3 556.5,19.3 557,19.3 557.5,19.3 558,19.3 558.5,19.3 559,19.3 559.5,19.3 560,19.3 560.5,19.3 561,19.3 561.5,19.3 562,19.3 562.5,19.3 563,19.3 563.5,19.3 564,19.3 564.5,19.3 565,19.3 565.5,19.3 566,19.3 566.5,19.3 567,19.3 567.5,19.3 568,19.3 568.5,19.3 569,19.3 569.5,19.3 570,19.3 570.5,19.3 571,19.3 571.5,19.3 572,19.3 572.5,19.3 573,19.3 573.5,19.3 574,19.3 574.5,19.3 575,19.3 575.5,19.3 576,19.3 576.5,19.3 577,19.3 577.5,19.3 578,19.3 578.5,19.3 579,19.3 579.5,19.3 580,19.3 580.5,19.3 581,19.3 581.5,19.3 582,19.3 582.5,19.3 583,19.3 583.5,19.3 584,19.3 584.5,19.3 585,19.3 585.5,19.3 586,19.3 586.5,19.3 587,19.3 587.5,19.3 588,19.3 588.5,19.3 589,19.3 589.5,19.3 590,19.3 590.5,19.3 591,19.3 591.5,19.3 592,19.3 592.5,19.3 593,19.3 593.5,19.3 594,19.3 594.5,19.3 595,19.3 595.5,19.3 596,19.3 596.5,19.3 597,19.3 597.5,19.3 598,19.3 598.5,19.3 599,19.3 599.5,19.3 600,19.3 600.5,19.3 601,19.3 601.5,19.3 602,19.3 602.5,19.3 603,19.3 603.5,19.3 604,19.3 604.5,19.3 605,19.3 605.5,19.3 606,19.3 606.5,19.3 607,19.3 607.5,19.3 608,19.3 608.5,19.3 609,19.3 609.5,19.3 610,19.3 610.5,19.3 611,19.3 611.5,19.3 612,19.3 612.5,19.3 613,19.3 613.5,19.3 614,19.3 614.5,19.3 615,19.3 615.5,19.3 616,19.3 616.5,19.3 617,19.3 617.5,19.3 618,19.3 618.5,19.3 619,19.3 619.5,19.3 620,19.3 620.5,19.3 621,19.3 621.5,19.3 622,19.3 622.5,19.3 623,19.3 623.5,19.3 624,19.3 624.5,19.3 625,19.3 625.5,19.3 626,19.3 626.5,19.3 627,19.3 627.5,19.3 628,19.3 628.5,19.3 629,19.3 629.5,19.3 630,19.3 630.5,19.3 631,19.3 631.5,19.3 632,19.3 632.5,19.3 633,19.3 633.5,19.3 634,19.3 634.5,19.3 635,19.3 635.5,19.3 636,19.3 636.5,19.3 637,19.3 637.5,19.3 638,19.3 638.5,19.3 639,19.3 639.5,19.3 640,19.3 640.5,19.3 641,19.3 641.5,19.3 642,19.3 642.5,19.3 643,19.3 643.5,19.3 644,19.3 644.5,19.3 645,19.3 645.5,19.3 646,19.3 646.5,19.3 647,19.3 647.5,19.3 648,19.3 648.5,19.3 649,19.3 649.5,19.3 650,19.3 650.5,19.3 651,19.3 651.5,19.3 652,19.3 652.5,19.3 653,19.3 653.5,19.3 654,19.3 654.5,19.3 655,19.3 655.5,19.3 656,19.3 656.5,19.3 657,19.3 657.5,19.3 658,19.3 658.5,19.3 659,19.3 659.5,19.3 660,19.3 660.5,19.3 661,19.3 661.5,19.3 662,19.3 662.5,19.3 663,19.3 663.5,19.3 664,19.3 664.5,19.3 665,19.3 665.5,19.3 666,19.3 666.5,19.3 667,19.3 667.5,19.3 668,19.3 668.5,19.3 669,19.3 669.5,19.3 670,19.3 670.5,19.3 671,19.3 671.5,19.3 672,19.3 672.5,19.3 673,19.3 673.5,19.3 674,19.3 674.5,19.3 675,19.3 675.5,19.3 676,19.3 676.5,19.3 677,19.3 677.5,19.3 678,19.3 678.5,19.3 679,19.3 679.5,19.3 680,19.3 680.5,19.3 681,19.3 681.5,19.3 682,19.3" fill="none" stroke="#77AC30" stroke-width="1.5" stroke-linejoin="round"/>
<polyline points="391,182.5 391.5,166.2 392,150 392.5,135 393,120 393.5,110.5 394,101 394.5,91.5 395,82 395.5,77 396,72 396.5,67 397,62 397.5,57 398,52 398.5,49.2 399,46.3 399.5,43.5 400,40.7 400.5,37.8 401,35 401.5,33.7 402,32.3 402.5,31 403,29.7 403.5,28.3 404,27 404.5,26.4 405,25.9 405.5,25.3 406,24.8 406.5,24.2 407,23.6 407.5,23.1 408,22.5 408.5,22.4 409,22.3 409.5,22.2 410,22.1 410.5,21.9 411,21 411.5,22 412,21.4 412.5,21.6 413,21.4 413.5,21.6 414,21.1 414.5,20.8 415,21.2 415.5,21.5 416,20.8 416.5,21.4 417,21 417.5,20.7 418,21.4 418.5,20.5 419,21.2 419.5,20.6 420,20.9 420.5,20.3 421,20.4 421.5,21 422,20.7 422.5,20.6 423,20.4 423.5,20.7 424,20.1 424.5,20.1 425,20.4 425.5,20.2 426,20.2 426.5,20.4 427,20.4 427.5,20.3 428,20.9 428.5,20.7 429,20.7 429.5,20.3 430,20.1 430.5,19.7 431,20.1 431.5,19.4 432,19.9 432.5,20.4 433,20.7 433.5,20.4 434,19.7 434.5,20.2 435,19.7 435.5,20.4 436,20.1 436.5,20.5 437,21.2 437.5,20.7 438,21.2 438.5,20.6 439,20.5 439.5,21.1 440,21.3 440.5,20.6 441,20.9 441.5,20.4 442,20.9 442.5,22.1 443,22.6 443.5,23.3 444,23.8 444.5,25.3 445,26.3 445.5,26.7 446,27 446.5,27 447,27.7 447.5,25.5 448,24 448.5,22.8 449,20.2 449.5,20.8 450,20.5 450.5,20.5 451,20.6 451.5,20.1 452,19.1 452.5,19.4 453,19.4 453.5,19.2 454,18.5 454.5,18.1 455,18.7 455.5,18.6 456,18.4 456.5,17.7 457,18.9 457.5,17.2 458,18.1 458.5,18.9 459,18 459.5,18.1 460,17.6 460.5,18.5 461,17.5 461.5,18.1 462,18 462.5,17.6 463,18.3 463.5,17.5 464,17.7 464.5,17.9 465,17.8 465.5,18.1 466,18.3 466.5,17.8 467,17.7 467.5,17.7 468,17.8 468.5,18.2 469,17.8 469.5,18 470,17.9 470.5,18.8 471,18.8 471.5,18.8 472,18.9 472.5,18.9 473,18.9 473.5,18.9 474,18.8 474.5,18.7 475,18.6 475.5,18.4 476,18.3 476.5,18.2 477,18.1 477.5,18 478,17.9 478.5,17.9 479,17.9 479.5,17.8 480,17.8 480.5,17.8 481,17.8 481.5,17.7 482,17.7 482.5,17.7 483,17.7 483.5,17.7 484,17.8 484.5,17.8 485,17.9 485.5,17.9 486,18 486.5,18.1 487,18.2 487.5,18.2 488,18.3 488.5,18.3 489,18.3 489.5,18.3 490,18.2 490.5,18.2 491,18.2 491.5,18.1 492,18.1 492.5,18.1 493,18.2 493.5,18.2 494,18.3 494.5,18.3 495,18.3 495.5,18.3 496,18.3 496.5,18.2 497,18.1 497.5,18.1 498,18 498.5,17.9 499,17.9 499.5,17.8 500,17.8 500.5,17.7 501,17.7 501.5,17.6 502,17.6 502.5,17.5 503,17.5 503.5,17.5 504,17.4 504.5,17.4 505,17.4 505.5,17.4 506,17.4 506.5,17.4 507,17.5 507.5,17.5 508,17.5 508.5,17.6 509,17.6 509.5,17.6 510,17.6 510.5,18.4 511,19.1 511.5,19.8 512,20.4 512.5,21 513,21.6 513.5,22.3 514,23.1 514.5,23.9 515,24.9 515.5,24.9 516,23.7 516.5,22.5 517,21.4 517.5,20.2 518,18.9 518.5,19 519,18.9 519.5,18.9 520,18.7 520.5,18.5 521,18.3 521.5,18.1 522,17.8 522.5,18.3 523,18.7 523.5,19.2 524,19.7 524.5,20.3 525,21 525.5,21.7 526,22.6 526.5,21.9 527,21.3 527.5,20.7 528,20.2 528.5,19.6 529,19 529.5,18.4 530,17.7 530.5,17.8 531,17.8 531.5,17.8 532,17.8 532.5,17.7 533,17.6 533.5,17.5 534,17.4 534.5,17.3 535,17.1 535.5,17 536,16.9 536.5,16.8 537,16.8 537.5,16.8 538,16.8 538.5,16.8 539,16.9 539.5,17 540,17.1 540.5,17.1 541,17.1 541.5,17.1 542,17 542.5,16.9 543,16.9 543.5,16.8 544,16.8 544.5,16.8 545,16.8 545.5,16.9 546,17 546.5,17.1 547,17.3 547.5,17.4 548,17.6 548.5,17.7 549,17.8 549.5,17.8 550,17.8 550.5,17.7 551,17.6 551.5,17.5 552,17.4 552.5,17.3 553,17.1 553.5,17 554,16.8 554.5,16.6 555,16.5 555.5,16.3 556,16.2 556.5,16.1 557,16.1 557.5,16.2 558,16.4 558.5,16.6 559,16.9 559.5,17.2 560,17.4 560.5,17.7 561,18 561.5,18.3 562,18.5 562.5,18.7 563,18.8 563.5,18.9 564,18.9 564.5,18.8 565,18.6 565.5,18.3 566,18 566.5,17.6 567,17.2 567.5,16.9 568,16.6 568.5,16.4 569,16.3 569.5,16.2 570,16.2 570.5,16.2 571,16.3 571.5,16.3 572,16.2 572.5,16.2 573,16.1 573.5,16 574,15.9 574.5,15.8 575,15.8 575.5,15.9 576,16 576.5,16.2 577,16.4 577.5,16.6 578,16.8 578.5,17 579,17.2 579.5,17.3 580,17.3 580.5,17.4 581,17.4 581.5,17.4 582,17.3 582.5,17.3 583,17.2 583.5,17 584,16.9 584.5,16.7 585,16.6 585.5,16.4 586,16.3 586.5,16.2 587,16.2 587.5,16.2 588,16.3 588.5,16.4 589,16.5 589.5,16.6 590,16.7 590.5,17.5 591,18.3 591.5,19.1 592,19.7 592.5,20.4 593,21 593.5,21.9 594,22.8 594.5,23.7 595,24.7 595.5,25.7 596,26.8 596.5,26.7 597,25.7 597.5,24.8 598,23.9 598.5,23 599,22.2 599.5,21.8 600,21.5 600.5,21.2 601,20.8 601.5,20.5 602,20.1 602.5,19.8 603,19.4 603.5,19 604,18.6 604.5,18.5 605,18.4 605.5,18.3 606,18.1 606.5,17.8 607,17.6 607.5,17.3 608,17.2 608.5,17.1 609,17 609.5,17 610,17.1 610.5,17.1 611,17.1 611.5,17.1 612,17 612.5,16.9 613,16.8 613.5,16.7 614,16.7 614.5,16.7 615,16.7 615.5,16.8 616,17 616.5,17 617,17.1 617.5,17.1 618,17.1 618.5,17 619,16.9 619.5,16.8 620,16.7 620.5,16.5 621,16.4 621.5,16.2 622,16 622.5,15.9 623,15.7 623.5,15.5 624,15.4 624.5,15.2 625,15.1 625.5,15 626,14.9 626.5,14.8 627,14.7 627.5,14.8 628,14.8 628.5,14.9 629,15.1 629.5,15.3 630,15.5 630.5,15.8 631,16 631.5,16.2 632,16.3 632.5,16.4 633,16.4 633.5,16.3 634,16.2 634.5,16 635,15.9 635.5,15.7 636,15.6 636.5,15.5 637,15.5 637.5,15.4 638,15.4 638.5,15.4 639,15.4 639.5,15.3 640,15.3 640.5,15.3 641,15.2 641.5,15.2 642,15.2 642.5,15.2 643,15.2 643.5,15.2 644,15.2 644.5,15.1 645,15.1 645.5,15 646,14.9 646.5,14.9 647,15 647.5,15 648,15.1 648.5,15.3 649,15.4 649.5,15.6 650,15.8 650.5,15.9 651,16 651.5,16.2 652,16.2 652.5,16.3 653,16.4 653.5,16.4 654,16.5 654.5,16.5 655,16.5 655.5,16.4 656,16.3 656.5,16.2 657,16.1 657.5,16 658,15.8 658.5,15.7 659,15.5 659.5,15.5 660,15.4 660.5,15.4 661,15.5 661.5,15.6 662,15.6 662.5,15.7 663,15.8 663.5,15.9 664,16 664.5,16 665,16.1 665.5,16.1 666,16.2 666.5,16.3 667,16.3 667.5,16.3 668,16.3 668.5,16.3 669,16.3 669.5,16.2 670,16.2 670.5,16.1 671,16.1 671.5,16 672,16 672.5,15.9 673,15.8 673.5,15.7 674,15.6 674.5,15.5 675,15.5 675.5,15.4 676,15.4 676.5,15.4 677,15.5 677.5,15.5 678,15.6 678.5,15.7 679,15.8 679.5,15.9 680,16 680.5,16.1 681,16.1 681.5,16.1 682,16" fill="none" stroke="#EDB120" stroke-width="1.4" stroke-linejoin="round"/>
<polyline points="391,182.5 391.5,171.7 392,160.8 392.5,150 393,140 393.5,130 394,120 394.5,113.8 395,107.5 395.5,101.2 396,95 396.5,91.7 397,88.3 397.5,85 398,81.7 398.5,78.3 399,75 399.5,72.5 400,70 400.5,67.5 401,65 401.5,62.5 402,60 402.5,58.3 403,56.7 403.5,55 404,53.3 404.5,51.7 405,50 405.5,48.6 406,47.2 406.5,45.9 407,44.5 407.5,43.1 408,41.7 408.5,40.6 409,39.7 409.5,38.8 410,37.9 410.5,37 411,36 411.5,35.1 412,34.2 412.5,33.3 413,32.3 413.5,32.4 414,36.3 414.5,40.2 415,44 415.5,44.6 416,42.9 416.5,41.1 417,39.4 417.5,37.7 418,36 418.5,34.9 419,33.9 419.5,32.8 420,31.8 420.5,30.7 421,29.6 421.5,28.6 422,27.5 422.5,26.5 423,25.4 423.5,24.9 424,24.4 424.5,23.9 425,23.4 425.5,22.9 426,22.4 426.5,21.9 427,21.4 427.5,20.9 428,20.4 428.5,19.9 429,19.4 429.5,18.9 430,18.4 430.5,17.9 431,17.4 431.5,16.9 432,16.6 432.5,16.5 433,16.4 433.5,16.3 434,16.2 434.5,16.1 435,16 435.5,15.9 436,15.8 436.5,15.7 437,15.6 437.5,15.5 438,15.4 438.5,15.3 439,15.2 439.5,15.1 440,15 440.5,14.9 441,14.8 441.5,14.8 442,14.7 442.5,14.6 443,14.6 443.5,14.5 444,14.4 444.5,14.3 445,14.2 445.5,14.2 446,14.1 446.5,14 447,14 447.5,13.9 448,13.8 448.5,13.8 449,13.7 449.5,13.7 450,13.7 450.5,13.6 451,13.6 451.5,13.6 452,13.5 452.5,13.5 453,13.5 453.5,13.5 454,13.4 454.5,13.4 455,13.4 455.5,13.3 456,13.3 456.5,13.3 457,13.2 457.5,13.2 458,13.2 458.5,13.1 459,13.1 459.5,13.1 460,13 460.5,13 461,13 461.5,12.9 462,12.9 462.5,12.9 463,12.8 463.5,12.8 464,12.8 464.5,12.8 465,12.7 465.5,12.7 466,12.7 466.5,12.6 467,12.6 467.5,12.6 468,12.5 468.5,12.5 469,12.5 469.5,12.4 470,12.4 470.5,12.4 471,12.4 471.5,12.4 472,12.4 472.5,12.4 473,12.4 473.5,12.4 474,12.3 474.5,12.3 475,12.3 475.5,12.3 476,12.3 476.5,12.3 477,12.3 477.5,12.3 478,12.3 478.5,12.3 479,12.3 479.5,12.3 480,12.3 480.5,12.3 481,12.3 481.5,12.2 482,12.2 482.5,12.2 483,12.2 483.5,12.2 484,12.2 484.5,12.2 485,12.2 485.5,12.2 486,12.2 486.5,12.2 487,12.2 487.5,12.2 488,12.2 488.5,12.2 489,12.1 489.5,12.1 490,12.1 490.5,12.1 491,12.1 491.5,12.1 492,12.1 492.5,12.1 493,12.1 493.5,12.1 494,12.1 494.5,12.1 495,12.1 495.5,12.1 496,12.1 496.5,12 497,12 497.5,12 498,12 498.5,12 499,12 499.5,12 500,12 500.5,12 501,12 501.5,12 502,12 502.5,12 503,12 503.5,12 504,12 504.5,12 505,12 505.5,12 506,12 506.5,12 507,12 507.5,12 508,12 508.5,12 509,12 509.5,12 510,12 510.5,12 511,12 511.5,12 512,12 512.5,12 513,12 513.5,12 514,12 514.5,12 515,12 515.5,12 516,12 516.5,12 517,12 517.5,12 518,12 518.5,12 519,12 519.5,12 520,12 520.5,12 521,12 521.5,12 522,12 522.5,12 523,12 523.5,12 524,12 524.5,12 525,12 525.5,12 526,12 526.5,12 527,12 527.5,12 528,12 528.5,12 529,12 529.5,12 530,12 530.5,12 531,12 531.5,12 532,12 532.5,12 533,12 533.5,12 534,12 534.5,12 535,12 535.5,12 536,12 536.5,12 537,12 537.5,12 538,12 538.5,12 539,12 539.5,12 540,12 540.5,12 541,12 541.5,12 542,12 542.5,12 543,12 543.5,12 544,12 544.5,12 545,12 545.5,12 546,12 546.5,12 547,12 547.5,12 548,12 548.5,12 549,12 549.5,12 550,12 550.5,12 551,12 551.5,12 552,12 552.5,12 553,12 553.5,12 554,12 554.5,12 555,12 555.5,12 556,12 556.5,12 557,12 557.5,12 558,12 558.5,12 559,12 559.5,12 560,12 560.5,12 561,12 561.5,12 562,12 562.5,12 563,12 563.5,12 564,12 564.5,12 565,12 565.5,12 566,12 566.5,12 567,12 567.5,12 568,12 568.5,12 569,12 569.5,12 570,12 570.5,12 571,12 571.5,12 572,12 572.5,12 573,12 573.5,12 574,12 574.5,12 575,12 575.5,12 576,12 576.5,12 577,12 577.5,12 578,12 578.5,12 579,12 579.5,12 580,12 580.5,12 581,12 581.5,12 582,12 582.5,12 583,12 583.5,12 584,12 584.5,12 585,12 585.5,12 586,12 586.5,12 587,12 587.5,12 588,12 588.5,12 589,12 589.5,12 590,12 590.5,12 591,11.9 591.5,11.9 592,11.9 592.5,11.9 593,11.9 593.5,11.9 594,11.9 594.5,11.9 595,11.9 595.5,11.9 596,11.9 596.5,11.9 597,11.9 597.5,11.9 598,11.9 598.5,11.9 599,11.9 599.5,11.9 600,11.9 600.5,11.9 601,11.9 601.5,11.9 602,11.9 602.5,11.9 603,11.9 603.5,11.9 604,11.9 604.5,11.9 605,11.9 605.5,11.9 606,11.9 606.5,11.9 607,11.9 607.5,11.9 608,11.9 608.5,11.9 609,11.9 609.5,11.9 610,11.9 610.5,11.9 611,11.9 611.5,11.9 612,11.9 612.5,11.9 613,11.9 613.5,11.9 614,11.9 614.5,11.9 615,11.9 615.5,11.9 616,11.9 616.5,11.9 617,11.9 617.5,11.9 618,11.9 618.5,11.9 619,11.9 619.5,11.9 620,11.9 620.5,11.9 621,11.9 621.5,11.9 622,11.9 622.5,11.9 623,11.9 623.5,11.9 624,11.9 624.5,11.9 625,11.9 625.5,11.9 626,11.9 626.5,11.9 627,11.9 627.5,11.9 628,11.9 628.5,11.9 629,11.9 629.5,11.9 630,11.9 630.5,11.9 631,11.9 631.5,11.9 632,11.9 632.5,11.9 633,11.9 633.5,11.9 634,11.9 634.5,11.9 635,11.9 635.5,11.9 636,11.9 636.5,11.9 637,11.9 637.5,11.9 638,11.9 638.5,11.9 639,11.9 639.5,11.9 640,11.9 640.5,11.9 641,11.9 641.5,11.9 642,11.9 642.5,11.9 643,11.9 643.5,11.9 644,11.9 644.5,11.9 645,11.9 645.5,11.9 646,11.9 646.5,11.9 647,11.9 647.5,11.9 648,11.9 648.5,11.9 649,11.9 649.5,11.9 650,11.9 650.5,11.9 651,11.9 651.5,11.9 652,11.9 652.5,11.9 653,11.9 653.5,11.9 654,11.9 654.5,11.9 655,11.9 655.5,11.9 656,11.9 656.5,11.9 657,11.9 657.5,11.9 658,11.9 658.5,11.9 659,11.9 659.5,11.9 660,11.9 660.5,11.9 661,11.9 661.5,11.9 662,11.9 662.5,11.9 663,11.9 663.5,11.9 664,11.9 664.5,11.9 665,11.9 665.5,11.9 666,11.9 666.5,11.9 667,11.9 667.5,11.9 668,11.9 668.5,11.9 669,11.9 669.5,11.9 670,11.9 670.5,11.9 671,11.9 671.5,11.9 672,11.9 672.5,11.9 673,11.9 673.5,11.9 674,11.9 674.5,11.9 675,11.9 675.5,11.9 676,11.9 676.5,11.9 677,11.9 677.5,11.9 678,11.9 678.5,11.9 679,11.9 679.5,11.9 680,11.9 680.5,11.9 681,11.9 681.5,11.9 682,11.9" fill="none" stroke="#D95319" stroke-width="1.5" stroke-linejoin="round"/>
<polyline points="390.8,182.5 391.3,165.6 391.8,150.1 392.3,136.7 392.8,125.4 393.3,117 393.8,108.6 394.3,101.2 394.8,97.8 395.3,94.3 395.8,90.8 396.3,87.4 396.8,84.9 397.3,83 397.8,81.1 398.3,79.2 398.8,77.3 399.3,75.4 399.8,73 400.3,70.5 400.8,68 401.3,65.5 401.8,63 402.3,61.2 402.8,59.9 403.3,58.5 403.8,57.2 404.3,55.9 404.8,54.5 405.3,53.2 405.8,51.8 406.3,50.3 406.8,48.7 407.3,47.2 407.8,45.7 408.3,44.1 408.8,42.6 409.3,41.3 409.8,40 410.3,38.8 410.8,37.5 411.3,36.3 411.8,35 412.3,33.8 412.8,33.8 413.3,34.6 413.8,35.4 414.3,36.2 414.8,37 415.3,37.5 415.8,36.7 416.3,35.8 416.8,34.9 417.3,34 417.8,33.2 418.3,32.3 418.8,32 419.3,34 419.8,36 420.3,38 420.8,40 421.3,42 421.8,44 422.3,45.4 422.8,44.2 423.3,43.1 423.8,42 424.3,40.8 424.8,39.7 425.3,38.6 425.8,37.5 426.3,36.4 426.8,35.4 427.3,34.4 427.8,33.4 428.3,32.5 428.8,31.5 429.3,30.5 429.8,29.5 430.3,28.7 430.8,28.1 431.3,27.5 431.8,27 432.3,26.4 432.8,25.9 433.3,25.3 433.8,24.7 434.3,24.2 434.8,23.6 435.3,23 435.8,22.5 436.3,21.9 436.8,21.3 437.3,20.9 437.8,20.6 438.3,20.3 438.8,20.1 439.3,19.8 439.8,19.5 440.3,19.3 440.8,19 441.3,18.7 441.8,18.4 442.3,18.2 442.8,17.9 443.3,17.6 443.8,17.4 444.3,17.1 444.8,16.8 445.3,16.5 445.8,16.3 446.3,16 446.8,15.7 447.3,15.5 447.8,15.3 448.3,15.2 448.8,15.2 449.3,15.1 449.8,15.1 450.3,15 450.8,15 451.3,14.9 451.8,14.9 452.3,14.8 452.8,14.8 453.3,14.7 453.8,14.7 454.3,14.6 454.8,14.5 455.3,14.5 455.8,14.4 456.3,14.4 456.8,14.3 457.3,14.3 457.8,14.2 458.3,14.2 458.8,14.1 459.3,14.1 459.8,14 460.3,14 460.8,14 461.3,14 461.8,13.9 462.3,13.9 462.8,13.9 463.3,13.9 463.8,13.9 464.3,13.9 464.8,13.9 465.3,13.8 465.8,13.8 466.3,13.8 466.8,13.8 467.3,13.8 467.8,13.8 468.3,13.8 468.8,13.7 469.3,13.7 469.8,13.7 470.3,13.7 470.8,13.7 471.3,13.7 471.8,13.6 472.3,13.6 472.8,13.6 473.3,13.6 473.8,13.6 474.3,13.6 474.8,13.6 475.3,13.5 475.8,13.5 476.3,13.5 476.8,13.5 477.3,13.5 477.8,13.5 478.3,13.5 478.8,13.4 479.3,13.4 479.8,13.4 480.3,13.4 480.8,13.4 481.3,13.4 481.8,13.4 482.3,13.4 482.8,13.4 483.3,13.4 483.8,13.4 484.3,13.4 484.8,13.4 485.3,13.4 485.8,13.4 486.3,13.4 486.8,13.4 487.3,13.4 487.8,13.4 488.3,13.4 488.8,13.4 489.3,13.4 489.8,13.4 490.3,13.4 490.8,13.4 491.3,13.4 491.8,13.4 492.3,13.4 492.8,13.4 493.3,13.4 493.8,13.4 494.3,13.4 494.8,13.4 495.3,13.4 495.8,13.4 496.3,13.4 496.8,13.4 497.3,13.4 497.8,13.4 498.3,13.4 498.8,13.4 499.3,13.4 499.8,13.4 500.3,13.4 500.8,13.4 501.3,13.4 501.8,13.4 502.3,13.4 502.8,13.4 503.3,13.4 503.8,13.4 504.3,13.4 504.8,13.4 505.3,13.4 505.8,13.4 506.3,13.4 506.8,13.4 507.3,13.4 507.8,13.4 508.3,13.4 508.8,13.4 509.3,13.4 509.8,13.4 510.3,13.4 510.8,13.4 511.3,13.4 511.8,13.4 512.3,13.4 512.8,13.4 513.3,13.4 513.8,13.4 514.3,13.4 514.8,13.4 515.3,13.4 515.8,13.4 516.3,13.4 516.8,13.4 517.3,13.4 517.8,13.4 518.3,13.4 518.8,13.4 519.3,13.4 519.8,13.4 520.3,13.4 520.8,13.4 521.3,13.4 521.8,13.4 522.3,13.4 522.8,13.4 523.3,13.4 523.8,13.4 524.3,13.4 524.8,13.4 525.3,13.4 525.8,13.4 526.3,13.4 526.8,13.4 527.3,13.4 527.8,13.4 528.3,13.4 528.8,13.4 529.3,13.4 529.8,13.4 530.3,13.4 530.8,13.3 531.3,13.3 531.8,13.3 532.3,13.3 532.8,13.3 533.3,13.3 533.8,13.3 534.3,13.3 534.8,13.3 535.3,13.3 535.8,13.3 536.3,13.3 536.8,13.3 537.3,13.3 537.8,13.3 538.3,13.3 538.8,13.3 539.3,13.3 539.8,13.3 540.3,13.3 540.8,13.3 541.3,13.3 541.8,13.3 542.3,13.3 542.8,13.3 543.3,13.3 543.8,13.3 544.3,13.3 544.8,13.3 545.3,13.3 545.8,13.3 546.3,13.3 546.8,13.3 547.3,13.3 547.8,13.3 548.3,13.3 548.8,13.3 549.3,13.3 549.8,13.3 550.3,13.3 550.8,13.3 551.3,13.3 551.8,13.3 552.3,13.3 552.8,13.3 553.3,13.3 553.8,13.3 554.3,13.3 554.8,13.3 555.3,13.3 555.8,13.3 556.3,13.3 556.8,13.3 557.3,13.3 557.8,13.3 558.3,13.3 558.8,13.3 559.3,13.3 559.8,13.3 560.3,13.3 560.8,13.3 561.3,13.3 561.8,13.3 562.3,13.3 562.8,13.3 563.3,13.3 563.8,13.3 564.3,13.3 564.8,13.3 565.3,13.3 565.8,13.3 566.3,13.3 566.8,13.3 567.3,13.3 567.8,13.3 568.3,13.3 568.8,13.3 569.3,13.3 569.8,13.3 570.3,13.3 570.8,13.3 571.3,13.3 571.8,13.3 572.3,13.3 572.8,13.3 573.3,13.3 573.8,13.3 574.3,13.3 574.8,13.3 575.3,13.3 575.8,13.3 576.3,13.3 576.8,13.3 577.3,13.3 577.8,13.3 578.3,13.3 578.8,13.3 579.3,13.3 579.8,13.3 580.3,13.3 580.8,13.3 581.3,13.3 581.8,13.3 582.3,13.3 582.8,13.3 583.3,13.3 583.8,13.3 584.3,13.3 584.8,13.3 585.3,13.3 585.8,13.3 586.3,13.3 586.8,13.3 587.3,13.3 587.8,13.3 588.3,13.3 588.8,13.3 589.3,13.3 589.8,13.3 590.3,13.3 590.8,13.3 591.3,13.3 591.8,13.3 592.3,13.3 592.8,13.3 593.3,13.3 593.8,13.3 594.3,13.3 594.8,13.3 595.3,13.3 595.8,13.3 596.3,13.3 596.8,13.3 597.3,13.3 597.8,13.3 598.3,13.3 598.8,13.3 599.3,13.3 599.8,13.3 600.3,13.3 600.8,13.3 601.3,13.3 601.8,13.3 602.3,13.3 602.8,13.3 603.3,13.3 603.8,13.3 604.3,13.3 604.8,13.3 605.3,13.3 605.8,13.3 606.3,13.3 606.8,13.3 607.3,13.3 607.8,13.3 608.3,13.3 608.8,13.3 609.3,13.3 609.8,13.3 610.3,13.3 610.8,13.3 611.3,13.3 611.8,13.3 612.3,13.3 612.8,13.3 613.3,13.3 613.8,13.3 614.3,13.3 614.8,13.3 615.3,13.3 615.8,13.3 616.3,13.3 616.8,13.3 617.3,13.3 617.8,13.3 618.3,13.3 618.8,13.3 619.3,13.3 619.8,13.3 620.3,13.3 620.8,13.3 621.3,13.3 621.8,13.3 622.3,13.3 622.8,13.3 623.3,13.3 623.8,13.3 624.3,13.3 624.8,13.3 625.3,13.3 625.8,13.3 626.3,13.3 626.8,13.3 627.3,13.3 627.8,13.3 628.3,13.3 628.8,13.3 629.3,13.3 629.8,13.3 630.3,13.3 630.8,13.3 631.3,13.3 631.8,13.2 632.3,13.2 632.8,13.2 633.3,13.2 633.8,13.2 634.3,13.2 634.8,13.2 635.3,13.2 635.8,13.2 636.3,13.2 636.8,13.2 637.3,13.2 637.8,13.2 638.3,13.2 638.8,13.2 639.3,13.2 639.8,13.2 640.3,13.2 640.8,13.2 641.3,13.2 641.8,13.2 642.3,13.2 642.8,13.2 643.3,13.2 643.8,13.2 644.3,13.2 644.8,13.2 645.3,13.2 645.8,13.2 646.3,13.2 646.8,13.2 647.3,13.2 647.8,13.2 648.3,13.2 648.8,13.2 649.3,13.2 649.8,13.2 650.3,13.2 650.8,13.2 651.3,13.2 651.8,13.2 652.3,13.2 652.8,13.2 653.3,13.2 653.8,13.2 654.3,13.2 654.8,13.2 655.3,13.2 655.8,13.2 656.3,13.2 656.8,13.2 657.3,13.2 657.8,13.2 658.3,13.2 658.8,13.2 659.3,13.2 659.8,13.2 660.3,13.2 660.8,13.2 661.3,13.2 661.8,13.2 662.3,13.2 662.8,13.2 663.3,13.2 663.8,13.2 664.3,13.2 664.8,13.2 665.3,13.2 665.8,13.2 666.3,13.2 666.8,13.2 667.3,13.2 667.8,13.2 668.3,13.2 668.8,13.2 669.3,13.2 669.8,13.2 670.3,13.2 670.8,13.2 671.3,13.2 671.8,13.2 672.3,13.2 672.8,13.2 673.3,13.2 673.8,13.2 674.3,13.2 674.8,13.2 675.3,13.2 675.8,13.2 676.3,13.2 676.8,13.2 677.3,13.2 677.8,13.2 678.3,13.2 678.8,13.2 679.3,13.2 679.8,13.2 680.3,13.2 680.8,13.2 681.3,13.2 681.8,13.2" fill="none" stroke="#FF0000" stroke-width="1.7" stroke-linejoin="round"/>
<polyline points="391,182.5 391.5,155.9 392,128.6 392.5,100 393,71.4 393.5,52.5 394,40 394.5,32.2 395,27.6 395.5,23 396,21.3 396.5,31.6 397,34.9 397.5,28 398,21 398.5,20.2 399,19.3 399.5,22.2 400,27.6 400.5,33 401,27 401.5,21 402,20.7 402.5,20.4 403,20.1 403.5,19.8 404,19.5 404.5,20.1 405,20.8 405.5,21.4 406,22 406.5,21.4 407,20.8 407.5,20.2 408,19.6 408.5,26.4 409,33.2 409.5,40 410,45.9 410.5,51.7 411,57.6 411.5,63.4 412,59.4 412.5,52.9 413,46.5 413.5,40 414,36.2 414.5,32.4 415,28.6 415.5,24.8 416,21 416.5,20.9 417,20.8 417.5,20.6 418,20.5 418.5,20.4 419,20.2 419.5,20.1 420,20 420.5,20.1 421,20.3 421.5,20.4 422,20.6 422.5,20.8 423,20.9 423.5,21.1 424,21.2 424.5,21.4 425,21.5 425.5,21.3 426,21.1 426.5,20.9 427,20.7 427.5,20.5 428,20.3 428.5,20.1 429,19.9 429.5,19.7 430,19.5 430.5,19.5 431,19.6 431.5,19.6 432,19.7 432.5,19.7 433,19.8 433.5,19.8 434,19.8 434.5,19.9 435,19.9 435.5,20 436,20 436.5,18 437,16 437.5,14 438,12 438.5,12 439,12 439.5,12 440,12 440.5,12 441,12 441.5,14.3 442,16.5 442.5,18.8 443,21.1 443.5,20.3 444,17.6 444.5,14.8 445,12 445.5,12 446,12 446.5,12 447,12 447.5,11.9 448,11.9 448.5,11.9 449,11.9 449.5,11.9 450,11.9 450.5,11.9 451,11.9 451.5,11.9 452,11.9 452.5,11.8 453,11.8 453.5,11.8 454,11.8 454.5,11.8 455,11.8 455.5,11.8 456,11.8 456.5,11.8 457,11.8 457.5,11.8 458,11.7 458.5,11.7 459,11.7 459.5,11.7 460,11.7 460.5,11.7 461,11.7 461.5,11.7 462,11.7 462.5,11.7 463,11.6 463.5,11.6 464,11.6 464.5,11.6 465,11.6 465.5,11.6 466,11.6 466.5,11.6 467,11.6 467.5,11.6 468,11.5 468.5,11.5 469,11.5 469.5,11.5 470,11.5 470.5,11.5 471,11.5 471.5,11.5 472,11.5 472.5,11.6 473,11.6 473.5,11.6 474,11.6 474.5,11.6 475,11.6 475.5,11.6 476,11.6 476.5,11.6 477,11.7 477.5,11.7 478,11.7 478.5,11.7 479,11.7 479.5,14.4 480,17.1 480.5,19.8 481,22.6 481.5,25.3 482,25.5 482.5,22.2 483,18.8 483.5,15.4 484,12 484.5,12 485,12 485.5,12 486,12 486.5,12 487,12 487.5,12 488,12 488.5,12 489,11.9 489.5,11.9 490,11.9 490.5,11.9 491,11.9 491.5,11.9 492,11.9 492.5,11.9 493,11.9 493.5,11.9 494,11.9 494.5,11.9 495,11.9 495.5,11.9 496,11.9 496.5,11.9 497,11.9 497.5,11.9 498,11.8 498.5,11.8 499,11.8 499.5,11.8 500,11.8 500.5,11.8 501,11.8 501.5,11.8 502,11.8 502.5,11.8 503,11.8 503.5,11.8 504,11.8 504.5,11.8 505,11.8 505.5,11.8 506,11.8 506.5,11.8 507,11.8 507.5,11.7 508,11.7 508.5,11.7 509,11.7 509.5,11.7 510,11.7 510.5,11.7 511,11.7 511.5,11.7 512,11.7 512.5,12.1 513,12.6 513.5,13 514,13.5 514.5,13.9 515,14.3 515.5,14.4 516,13.8 516.5,13.2 517,12.6 517.5,12.1 518,11.5 518.5,11.5 519,11.5 519.5,11.5 520,11.4 520.5,11.4 521,11.4 521.5,11.4 522,11.4 522.5,11.4 523,11.3 523.5,11.3 524,11.3 524.5,11.3 525,11.3 525.5,11.3 526,11.2 526.5,11.2 527,11.2 527.5,11.2 528,11.2 528.5,11.2 529,11.2 529.5,11.1 530,11.1 530.5,11.1 531,11.1 531.5,11.1 532,11.1 532.5,11 533,11 533.5,11 534,11 534.5,11 535,11 535.5,10.9 536,10.9 536.5,10.9 537,10.9 537.5,10.9 538,10.9 538.5,10.8 539,10.8 539.5,10.8 540,10.8 540.5,10.8 541,10.8 541.5,10.8 542,10.8 542.5,10.8 543,10.8 543.5,10.8 544,10.8 544.5,10.8 545,10.8 545.5,10.8 546,10.8 546.5,10.8 547,10.8 547.5,10.8 548,10.8 548.5,10.8 549,10.8 549.5,10.8 550,10.8 550.5,10.8 551,10.8 551.5,10.8 552,10.8 552.5,10.8 553,10.8 553.5,10.8 554,10.8 554.5,10.8 555,10.8 555.5,10.8 556,10.8 556.5,10.8 557,10.8 557.5,10.8 558,10.8 558.5,10.8 559,10.8 559.5,10.8 560,10.8 560.5,10.8 561,10.8 561.5,10.8 562,10.8 562.5,10.8 563,10.8 563.5,10.8 564,10.7 564.5,10.7 565,10.7 565.5,10.7 566,10.7 566.5,10.7 567,10.7 567.5,10.7 568,10.7 568.5,10.7 569,10.7 569.5,10.7 570,10.7 570.5,10.7 571,10.7 571.5,10.7 572,10.7 572.5,10.7 573,10.7 573.5,10.7 574,10.7 574.5,10.7 575,10.7 575.5,10.7 576,10.7 576.5,10.7 577,10.7 577.5,10.7 578,10.7 578.5,10.7 579,10.7 579.5,10.7 580,10.7 580.5,10.7 581,10.7 581.5,10.7 582,10.7 582.5,10.7 583,10.7 583.5,10.7 584,10.7 584.5,10.7 585,10.7 585.5,10.7 586,10.7 586.5,10.7 587,10.7 587.5,10.7 588,10.7 588.5,10.7 589,10.7 589.5,10.7 590,10.7 590.5,10.7 591,10.7 591.5,10.7 592,10.7 592.5,10.7 593,10.7 593.5,10.7 594,10.7 594.5,10.7 595,10.7 595.5,10.7 596,10.7 596.5,10.7 597,10.7 597.5,10.7 598,10.7 598.5,10.7 599,10.7 599.5,10.7 600,10.7 600.5,10.7 601,10.7 601.5,10.7 602,10.7 602.5,10.7 603,10.7 603.5,10.7 604,10.7 604.5,10.7 605,10.7 605.5,10.7 606,10.7 606.5,10.7 607,10.7 607.5,10.7 608,10.7 608.5,10.7 609,10.7 609.5,10.7 610,10.7 610.5,10.7 611,10.7 611.5,10.6 612,10.6 612.5,10.6 613,10.6 613.5,10.6 614,10.6 614.5,10.6 615,10.6 615.5,10.6 616,10.6 616.5,10.6 617,10.6 617.5,10.6 618,10.6 618.5,10.6 619,10.6 619.5,10.6 620,10.6 620.5,10.6 621,10.6 621.5,10.6 622,10.6 622.5,10.6 623,10.6 623.5,10.6 624,10.6 624.5,10.6 625,10.6 625.5,10.6 626,10.6 626.5,10.6 627,10.6 627.5,10.6 628,10.6 628.5,10.6 629,10.6 629.5,10.6 630,10.6 630.5,10.6 631,10.6 631.5,10.6 632,10.6 632.5,10.6 633,10.6 633.5,10.6 634,10.6 634.5,10.6 635,10.6 635.5,10.6 636,10.6 636.5,10.6 637,10.6 637.5,10.6 638,10.6 638.5,10.6 639,10.6 639.5,10.6 640,10.6 640.5,10.6 641,10.6 641.5,10.6 642,10.6 642.5,10.6 643,10.6 643.5,10.6 644,10.6 644.5,10.6 645,10.6 645.5,10.6 646,10.6 646.5,10.6 647,10.6 647.5,10.6 648,10.6 648.5,10.6 649,10.6 649.5,10.6 650,10.6 650.5,10.6 651,10.6 651.5,10.6 652,10.6 652.5,10.6 653,10.6 653.5,10.6 654,10.6 654.5,10.6 655,10.6 655.5,10.6 656,10.6 656.5,10.6 657,10.6 657.5,10.6 658,10.6 658.5,10.5 659,10.5 659.5,10.5 660,10.5 660.5,10.5 661,10.5 661.5,10.5 662,10.5 662.5,10.5 663,10.5 663.5,10.5 664,10.5 664.5,10.5 665,10.5 665.5,10.5 666,10.5 666.5,10.5 667,10.5 667.5,10.5 668,10.5 668.5,10.5 669,10.5 669.5,10.5 670,10.5 670.5,10.5 671,10.5 671.5,10.5 672,10.5 672.5,10.5 673,10.5 673.5,10.5 674,10.5 674.5,10.5 675,10.5 675.5,10.5 676,10.5 676.5,10.5 677,10.5 677.5,10.5 678,10.5 678.5,10.5 679,10.5 679.5,10.5 680,10.5 680.5,10.5 681,10.5 681.5,10.5 682,10.5" fill="none" stroke="#0072BD" stroke-width="1.5" stroke-linejoin="round"/>
<polyline points="391,182.5 391.5,120 392,95 392.5,73.3 393,56.7 393.5,43.3 394,32.2 394.5,26.7 395,22.6 395.5,20.5 396,19.8 396.5,21.4 397,26.7 397.5,31.9 398,29.9 398.5,25.9 399,22 399.5,20.6 400,19.2 400.5,18.4 401,17.9 401.5,18.4 402,17.8 402.5,17.3 403,17.6 403.5,17 404,16.2 404.5,16.3 405,16.3 405.5,16.3 406,16.5 406.5,16.7 407,16.3 407.5,16.8 408,16.2 408.5,15.1 409,16 409.5,15.4 410,14.1 410.5,14.2 411,14.4 411.5,13.5 412,13.7 412.5,13 413,14.8 413.5,15.9 414,18 414.5,18.2 415,17.8 415.5,15.3 416,15.4 416.5,14.9 417,13.5 417.5,13 418,13.3 418.5,12.4 419,12.4 419.5,12.6 420,12.6 420.5,13.2 421,12 421.5,13.1 422,11.5 422.5,11.9 423,12.3 423.5,12.9 424,11.8 424.5,10.8 425,12.3 425.5,12 426,11.3 426.5,11.2 427,11.4 427.5,11.8 428,12.1 428.5,10.7 429,12.9 429.5,11.5 430,11.2 430.5,11.8 431,11.4 431.5,12.7 432,11.9 432.5,11 433,10.9 433.5,10.8 434,10.9 434.5,11.4 435,10.6 435.5,11.9 436,10.9 436.5,10.8 437,11.4 437.5,9.6 438,10.2 438.5,11.1 439,10.7 439.5,10.6 440,10.8 440.5,10.2 441,10.4 441.5,9.7 442,9.4 442.5,11.3 443,10 443.5,10.1 444,11.4 444.5,11.2 445,10.2 445.5,10.2 446,10.5 446.5,9.9 447,10.8 447.5,10.6 448,10.6 448.5,11 449,10.9 449.5,11.6 450,11.4 450.5,9.5 451,11 451.5,9.8 452,9.7 452.5,10.9 453,10.1 453.5,10.3 454,11.1 454.5,10.1 455,10 455.5,10.7 456,11.2 456.5,10.8 457,9.6 457.5,10.1 458,10.4 458.5,11.7 459,11 459.5,11 460,11.2 460.5,10.3 461,10.8 461.5,10.8 462,9.9 462.5,10.5 463,10.8 463.5,9.8 464,11 464.5,10.9 465,11.1 465.5,10 466,10.6 466.5,11.4 467,11 467.5,10 468,10.6 468.5,11.3 469,10.4 469.5,10.7 470,10.5 470.5,10.5 471,10.5 471.5,10.5 472,10.5 472.5,10.5 473,10.5 473.5,10.5 474,10.5 474.5,10.5 475,10.5 475.5,10.5 476,10.5 476.5,10.5 477,10.5 477.5,10.5 478,10.5 478.5,10.5 479,10.5 479.5,10.5 480,10.5 480.5,10.5 481,10.4 481.5,10.4 482,10.4 482.5,10.4 483,10.4 483.5,10.4 484,10.4 484.5,10.4 485,10.4 485.5,10.4 486,10.4 486.5,10.4 487,10.4 487.5,10.4 488,10.4 488.5,10.4 489,10.4 489.5,10.4 490,10.4 490.5,10.4 491,10.4 491.5,10.4 492,10.4 492.5,10.4 493,10.4 493.5,10.4 494,10.4 494.5,10.4 495,10.4 495.5,10.4 496,10.4 496.5,10.4 497,10.4 497.5,10.4 498,10.4 498.5,10.4 499,10.4 499.5,10.4 500,10.4 500.5,10.4 501,10.4 501.5,10.4 502,10.4 502.5,10.4 503,10.4 503.5,10.4 504,10.4 504.5,10.4 505,10.4 505.5,10.4 506,10.4 506.5,10.4 507,10.4 507.5,10.4 508,10.4 508.5,10.4 509,10.4 509.5,10.4 510,10.4 510.5,10.4 511,10.4 511.5,10.4 512,10.4 512.5,10.4 513,10.4 513.5,10.4 514,10.4 514.5,10.4 515,10.4 515.5,10.4 516,10.4 516.5,10.4 517,10.4 517.5,10.4 518,10.4 518.5,10.4 519,10.4 519.5,10.4 520,10.4 520.5,10.4 521,10.4 521.5,10.4 522,10.4 522.5,10.4 523,10.4 523.5,10.4 524,10.4 524.5,10.4 525,10.4 525.5,10.4 526,10.4 526.5,10.4 527,10.4 527.5,10.4 528,10.4 528.5,10.4 529,10.4 529.5,10.4 530,10.4 530.5,10.4 531,10.4 531.5,10.4 532,10.4 532.5,10.4 533,10.4 533.5,10.4 534,10.4 534.5,10.4 535,10.4 535.5,10.4 536,10.4 536.5,10.4 537,10.4 537.5,10.4 538,10.4 538.5,10.4 539,10.4 539.5,10.4 540,10.4 540.5,10.4 541,10.4 541.5,10.4 542,10.4 542.5,10.4 543,10.4 543.5,10.4 544,10.4 544.5,10.4 545,10.4 545.5,10.4 546,10.4 546.5,10.4 547,10.4 547.5,10.4 548,10.4 548.5,10.4 549,10.4 549.5,10.4 550,10.4 550.5,10.4 551,10.4 551.5,10.4 552,10.4 552.5,10.4 553,10.4 553.5,10.4 554,10.4 554.5,10.4 555,10.4 555.5,10.4 556,10.4 556.5,10.4 557,10.4 557.5,10.4 558,10.4 558.5,10.4 559,10.4 559.5,10.4 560,10.4 560.5,10.4 561,10.4 561.5,10.3 562,10.3 562.5,10.3 563,10.3 563.5,10.3 564,10.3 564.5,10.3 565,10.3 565.5,10.3 566,10.3 566.5,10.3 567,10.3 567.5,10.3 568,10.3 568.5,10.3 569,10.3 569.5,10.3 570,10.3 570.5,10.3 571,10.3 571.5,10.3 572,10.3 572.5,10.3 573,10.3 573.5,10.3 574,10.3 574.5,10.3 575,10.3 575.5,10.3 576,10.3 576.5,10.3 577,10.3 577.5,10.3 578,10.3 578.5,10.3 579,10.3 579.5,10.3 580,10.3 580.5,10.3 581,10.3 581.5,10.3 582,10.3 582.5,10.3 583,10.3 583.5,10.3 584,10.3 584.5,10.3 585,10.3 585.5,10.3 586,10.3 586.5,10.3 587,10.3 587.5,10.3 588,10.3 588.5,10.3 589,10.3 589.5,10.3 590,10.3 590.5,10.3 591,10.3 591.5,10.3 592,10.3 592.5,10.3 593,10.3 593.5,10.3 594,10.3 594.5,10.3 595,10.3 595.5,10.3 596,10.3 596.5,10.3 597,10.3 597.5,10.3 598,10.3 598.5,10.3 599,10.3 599.5,10.3 600,10.3 600.5,10.3 601,10.3 601.5,10.3 602,10.3 602.5,10.3 603,10.3 603.5,10.3 604,10.3 604.5,10.3 605,10.3 605.5,10.3 606,10.3 606.5,10.3 607,10.3 607.5,10.3 608,10.3 608.5,10.3 609,10.3 609.5,10.3 610,10.3 610.5,10.3 611,10.3 611.5,10.3 612,10.3 612.5,10.3 613,10.3 613.5,10.3 614,10.3 614.5,10.3 615,10.3 615.5,10.3 616,10.3 616.5,10.3 617,10.3 617.5,10.3 618,10.3 618.5,10.3 619,10.3 619.5,10.3 620,10.3 620.5,10.3 621,10.3 621.5,10.3 622,10.3 622.5,10.3 623,10.3 623.5,10.3 624,10.3 624.5,10.3 625,10.3 625.5,10.3 626,10.3 626.5,10.3 627,10.3 627.5,10.3 628,10.3 628.5,10.3 629,10.3 629.5,10.3 630,10.3 630.5,10.3 631,10.3 631.5,10.3 632,10.3 632.5,10.3 633,10.3 633.5,10.3 634,10.3 634.5,10.3 635,10.3 635.5,10.3 636,10.3 636.5,10.3 637,10.3 637.5,10.3 638,10.3 638.5,10.3 639,10.3 639.5,10.3 640,10.3 640.5,10.3 641,10.3 641.5,10.3 642,10.2 642.5,10.2 643,10.2 643.5,10.2 644,10.2 644.5,10.2 645,10.2 645.5,10.2 646,10.2 646.5,10.2 647,10.2 647.5,10.2 648,10.2 648.5,10.2 649,10.2 649.5,10.2 650,10.2 650.5,10.2 651,10.2 651.5,10.2 652,10.2 652.5,10.2 653,10.2 653.5,10.2 654,10.2 654.5,10.2 655,10.2 655.5,10.2 656,10.2 656.5,10.2 657,10.2 657.5,10.2 658,10.2 658.5,10.2 659,10.2 659.5,10.2 660,10.2 660.5,10.2 661,10.2 661.5,10.2 662,10.2 662.5,10.2 663,10.2 663.5,10.2 664,10.2 664.5,10.2 665,10.2 665.5,10.2 666,10.2 666.5,10.2 667,10.2 667.5,10.2 668,10.2 668.5,10.2 669,10.2 669.5,10.2 670,10.2 670.5,10.2 671,10.2 671.5,10.2 672,10.2 672.5,10.2 673,10.2 673.5,10.2 674,10.2 674.5,10.2 675,10.2 675.5,10.2 676,10.2 676.5,10.2 677,10.2 677.5,10.2 678,10.2 678.5,10.2 679,10.2 679.5,10.2 680,10.2 680.5,10.2 681,10.2 681.5,10.2 682,10.2" fill="none" stroke="#4DBEEE" stroke-width="1.5" stroke-linejoin="round"/>
</g>
<rect x="391" y="2" width="291" height="180.5" fill="none" stroke="#262626" stroke-width="1.1"/>
<path d="M449.2 182.5v-3M449.2 2v3M507.4 182.5v-3M507.4 2v3M565.6 182.5v-3M565.6 2v3M623.8 182.5v-3M623.8 2v3M391 182.5h3M682 182.5h-3M391 156.25h3M682 156.25h-3M391 130h3M682 130h-3M391 103.75h3M682 103.75h-3M391 77.5h3M682 77.5h-3M391 51.25h3M682 51.25h-3M391 25h3M682 25h-3" stroke="#262626" stroke-width="1" fill="none"/>
<text x="391" y="197.5" font-size="10.0" text-anchor="middle" font-weight="bold" font-family="Liberation Sans" fill="#262626">0</text>
<text x="449.2" y="197.5" font-size="10.0" text-anchor="middle" font-weight="bold" font-family="Liberation Sans" fill="#262626">0.2</text>
<text x="507.4" y="197.5" font-size="10.0" text-anchor="middle" font-weight="bold" font-family="Liberation Sans" fill="#262626">0.4</text>
<text x="565.6" y="197.5" font-size="10.0" text-anchor="middle" font-weight="bold" font-family="Liberation Sans" fill="#262626">0.6</text>
<text x="623.8" y="197.5" font-size="10.0" text-anchor="middle" font-weight="bold" font-family="Liberation Sans" fill="#262626">0.8</text>
<text x="682" y="197.5" font-size="10.0" text-anchor="middle" font-weight="bold" font-family="Liberation Sans" fill="#262626">1</text>
<text x="385.7" y="187.7" font-size="10.0" text-anchor="end" font-weight="bold" font-family="Liberation Sans" fill="#262626">0</text>
<text x="385.7" y="161.45" font-size="10.0" text-anchor="end" font-weight="bold" font-family="Liberation Sans" fill="#262626">0.5</text>
<text x="385.7" y="135.2" font-size="10.0" text-anchor="end" font-weight="bold" font-family="Liberation Sans" fill="#262626">1</text>
<text x="385.7" y="108.95" font-size="10.0" text-anchor="end" font-weight="bold" font-family="Liberation Sans" fill="#262626">1.5</text>
<text x="385.7" y="82.7" font-size="10.0" text-anchor="end" font-weight="bold" font-family="Liberation Sans" fill="#262626">2</text>
<text x="385.7" y="56.45" font-size="10.0" text-anchor="end" font-weight="bold" font-family="Liberation Sans" fill="#262626">2.5</text>
<text x="385.7" y="30.2" font-size="10.0" text-anchor="end" font-weight="bold" font-family="Liberation Sans" fill="#262626">3</text>
<text transform="translate(364.78,90.2) rotate(-90)" font-size="10.5" text-anchor="middle" font-weight="bold" font-family="Liberation Sans" fill="#1a1a1a">Converter O/P current(A)</text>
<text x="538.2" y="207.4" font-size="12.4" text-anchor="middle" font-weight="bold" font-family="Liberation Sans" fill="#1a1a1a">time (sec)</text>
<text x="540.2" y="223.8" font-size="12.0" text-anchor="middle" font-weight="bold" font-family="Liberation Serif" fill="#111">(d)</text>
<rect x="586.4" y="51" width="82.2" height="88.6" fill="#fff" stroke="#34409E" stroke-width="1.1"/>
<line x1="589.5" y1="58.4" x2="614" y2="58.4" stroke="#0072BD" stroke-width="1.2"/>
<text x="617.1" y="61.68" font-size="9.1" text-anchor="start" font-weight="bold" font-family="Liberation Sans" fill="#1a1a1a">ACS</text>
<line x1="589.5" y1="70.67" x2="614" y2="70.67" stroke="#D95319" stroke-width="1.2"/>
<text x="617.1" y="73.95" font-size="9.1" text-anchor="start" font-weight="bold" font-family="Liberation Sans" fill="#1a1a1a">ANFIS</text>
<line x1="589.5" y1="82.94" x2="614" y2="82.94" stroke="#EDB120" stroke-width="1.2"/>
<text x="617.1" y="86.22" font-size="9.1" text-anchor="start" font-weight="bold" font-family="Liberation Sans" fill="#1a1a1a">VSS-FC</text>
<line x1="589.5" y1="95.21" x2="614" y2="95.21" stroke="#77AC30" stroke-width="1.2"/>
<text x="617.1" y="98.49" font-size="9.1" text-anchor="start" font-weight="bold" font-family="Liberation Sans" fill="#1a1a1a">MHC-FLC</text>
<line x1="589.5" y1="107.48" x2="614" y2="107.48" stroke="#4DBEEE" stroke-width="1.2"/>
<text x="617.1" y="110.76" font-size="9.1" text-anchor="start" font-weight="bold" font-family="Liberation Sans" fill="#1a1a1a">P&amp;O-PSO</text>
<line x1="589.5" y1="119.75" x2="614" y2="119.75" stroke="#A2142F" stroke-width="1.2"/>
<text x="617.1" y="123.03" font-size="9.1" text-anchor="start" font-weight="bold" font-family="Liberation Sans" fill="#1a1a1a">VSS-INR</text>
<line x1="589.5" y1="132.02" x2="614" y2="132.02" stroke="#FF0000" stroke-width="1.2"/>
<text x="617.1" y="135.3" font-size="9.1" text-anchor="start" font-weight="bold" font-family="Liberation Sans" fill="#1a1a1a">VSS-RBFN</text>
<text x="500.7" y="87" font-size="10.0" text-anchor="middle" font-weight="bold" font-family="Liberation Sans" fill="#1a1a1a">Partial Shading Condition-2</text>
<text x="496" y="102" font-size="10.0" text-anchor="middle" font-weight="bold" font-family="Liberation Sans" fill="#1a1a1a" letter-spacing="0.11">1000W/m<tspan font-size="7.2" dy="-5" dx="0.8">2</tspan><tspan dy="5">, 800W/m</tspan><tspan font-size="7.2" dy="-5" dx="0.8">2</tspan><tspan dy="5">, and 700W/m</tspan><tspan font-size="7.2" dy="-5" dx="0.8">2</tspan></text>
<path d="M96.8 232.7V409.3M155.4 232.7V409.3M214 232.7V409.3M272.6 232.7V409.3M38.2 379.87H331.2M38.2 350.43H331.2M38.2 321H331.2M38.2 291.56H331.2M38.2 262.13H331.2" stroke="#D6D6D6" stroke-width="0.8" fill="none"/>
<g clip-path="url(#clipb)">
<polyline points="38.2,409.3 38.7,384.9 39.2,348 39.7,323.3 40.2,308.7 40.7,298 41.2,293 41.7,291.3 42.2,294.7 42.7,298 43.2,297 43.7,289.5 44.2,284 44.7,281.5 45.2,278.5 45.7,277.1 46.2,275.3 46.7,272.3 47.2,270.6 47.7,269.9 48.2,267 48.7,266.2 49.2,268.5 49.7,267.2 50.2,265.7 50.7,267 51.2,267.4 51.7,266.6 52.2,266.2 52.7,268 53.2,268.9 53.7,267.5 54.2,266.8 54.7,268.1 55.2,268.5 55.7,267.2 56.2,268.1 56.7,268.7 57.2,267.1 57.7,266.3 58.2,267.6 58.7,267.5 59.2,268.4 59.7,265.5 60.2,266.2 60.7,266 61.2,264.9 61.7,267.1 62.2,267.5 62.7,266 63.2,268.5 63.7,267.8 64.2,267.5 64.7,267.2 65.2,267.9 65.7,265.1 66.2,267.4 66.7,267.4 67.2,264.5 67.7,267 68.2,266.3 68.7,267.5 69.2,266 69.7,266.5 70.2,266.9 70.7,265.4 71.2,267.2 71.7,266.3 72.2,267 72.7,265.7 73.2,267.6 73.7,267 74.2,266.1 74.7,267 75.2,267.8 75.7,268.4 76.2,264.3 76.7,267.2 77.2,266.7 77.7,266 78.2,264.9 78.7,267.6 79.2,264.5 79.7,266.7 80.2,267.6 80.7,264.2 81.2,265.8 81.7,264.6 82.2,266.6 82.7,268.2 83.2,268.8 83.7,264.3 84.2,265.8 84.7,267.4 85.2,268.5 85.7,267.2 86.2,265.9 86.7,267.2 87.2,266.9 87.7,266.7 88.2,266.1 88.7,267.6 89.2,267.5 89.7,267.1 90.2,267 90.7,265.8 91.2,266.8 91.7,268.9 92.2,267.3 92.7,265.9 93.2,269.3 93.7,268.3 94.2,270.3 94.7,267.9 95.2,267.3 95.7,266.2 96.2,269.6 96.7,271.2 97.2,267.2 97.7,267.4 98.2,269 98.7,267.3 99.2,268.1 99.7,268 100.2,268.8 100.7,269.9 101.2,268.7 101.7,269.8 102.2,268.3 102.7,269.2 103.2,266.3 103.7,267.2 104.2,270 104.7,268.4 105.2,269.8 105.7,269.9 106.2,270.9 106.7,270.3 107.2,270.6 107.7,269.3 108.2,268.7 108.7,268.7 109.2,269.1 109.7,268.4 110.2,269.1 110.7,269.7 111.2,270.2 111.7,269.6 112.2,267.7 112.7,270 113.2,270.4 113.7,271.5 114.2,271 114.7,269.6 115.2,269.5 115.7,272.9 116.2,271.4 116.7,272.8 117.2,273.2 117.7,269.7 118.2,271.2 118.7,271.4 119.2,271.6 119.7,271.6 120.2,271.2 120.7,271.2 121.2,269.2 121.7,270.8 122.2,270.1 122.7,271.2 123.2,270.4 123.7,271.7 124.2,272 124.7,271.4 125.2,271.4 125.7,271.1 126.2,270.5 126.7,270.8 127.2,270.4 127.7,271.5 128.2,271 128.7,271.7 129.2,269.4 129.7,272.1 130.2,270.1 130.7,270.1 131.2,270.8 131.7,270.3 132.2,271.4 132.7,270.3 133.2,269.7 133.7,270 134.2,272.6 134.7,271.1 135.2,269.6 135.7,271 136.2,269.2 136.7,273.2 137.2,269.2 137.7,271.6 138.2,271.7 138.7,269.3 139.2,271.4 139.7,272.2 140.2,271.6 140.7,271.3 141.2,272.2 141.7,271.2 142.2,271.4 142.7,270.9 143.2,271.8 143.7,269.9 144.2,272 144.7,270.4 145.2,269.7 145.7,271.5 146.2,273.1 146.7,272.2 147.2,270.4 147.7,271.9 148.2,270.5 148.7,270.9 149.2,271.1 149.7,268.3 150.2,271 150.7,271 151.2,271 151.7,271 152.2,271 152.7,271 153.2,271 153.7,271 154.2,271 154.7,271 155.2,271.1 155.7,271.1 156.2,271.1 156.7,271.1 157.2,271.1 157.7,271.1 158.2,271.1 158.7,271.1 159.2,271.1 159.7,271.1 160.2,271.1 160.7,271.1 161.2,271.1 161.7,271.1 162.2,271.1 162.7,271.1 163.2,271.1 163.7,271.1 164.2,271.1 164.7,271.1 165.2,271.1 165.7,271.1 166.2,271.1 166.7,271.1 167.2,271.1 167.7,271.1 168.2,271.1 168.7,271.1 169.2,271.1 169.7,271.1 170.2,271.1 170.7,271.1 171.2,271.1 171.7,271.1 172.2,271.1 172.7,271.1 173.2,271.1 173.7,271.1 174.2,271.1 174.7,271.1 175.2,271.1 175.7,271.1 176.2,271.1 176.7,271.1 177.2,271.1 177.7,271.1 178.2,271.1 178.7,271.1 179.2,271.1 179.7,271.1 180.2,271.1 180.7,271.1 181.2,271.1 181.7,271.1 182.2,271.1 182.7,271.1 183.2,271.1 183.7,271.1 184.2,271.1 184.7,271.1 185.2,271.1 185.7,271.1 186.2,271.1 186.7,271.1 187.2,271.1 187.7,271.1 188.2,271.1 188.7,271.1 189.2,271.1 189.7,271.1 190.2,271.1 190.7,271.1 191.2,271.1 191.7,271.1 192.2,271.1 192.7,271.1 193.2,271.1 193.7,271.1 194.2,271.1 194.7,271.1 195.2,271.1 195.7,271.1 196.2,271.1 196.7,271.1 197.2,271.1 197.7,271.1 198.2,271.1 198.7,271.1 199.2,271.1 199.7,271.1 200.2,271.1 200.7,271.1 201.2,271.1 201.7,271.1 202.2,271.1 202.7,271.1 203.2,271.1 203.7,271.1 204.2,271.1 204.7,271.1 205.2,271.1 205.7,271.1 206.2,271.1 206.7,271.1 207.2,271.1 207.7,271.1 208.2,271.1 208.7,271.1 209.2,271.1 209.7,271.1 210.2,271.1 210.7,271.1 211.2,271.1 211.7,271.1 212.2,271.1 212.7,271.1 213.2,271.1 213.7,271.1 214.2,271.1 214.7,271.1 215.2,271.1 215.7,271.1 216.2,271.1 216.7,271.1 217.2,271.1 217.7,271.1 218.2,271.1 218.7,271.1 219.2,271.1 219.7,271.1 220.2,271.1 220.7,271.1 221.2,271.1 221.7,271.1 222.2,271.1 222.7,271.1 223.2,271.1 223.7,271.1 224.2,271.1 224.7,271.1 225.2,271.1 225.7,271.2 226.2,271.2 226.7,271.2 227.2,271.2 227.7,271.2 228.2,271.2 228.7,271.2 229.2,271.2 229.7,271.2 230.2,271.2 230.7,271.2 231.2,271.2 231.7,271.2 232.2,271.2 232.7,271.2 233.2,271.2 233.7,271.2 234.2,271.2 234.7,271.2 235.2,271.2 235.7,271.2 236.2,271.2 236.7,271.2 237.2,271.2 237.7,271.2 238.2,271.2 238.7,271.2 239.2,271.2 239.7,271.2 240.2,271.2 240.7,271.2 241.2,271.2 241.7,271.2 242.2,271.2 242.7,271.2 243.2,271.2 243.7,271.2 244.2,271.2 244.7,271.2 245.2,271.2 245.7,271.2 246.2,271.2 246.7,271.2 247.2,271.2 247.7,271.2 248.2,271.2 248.7,271.2 249.2,271.2 249.7,271.2 250.2,271.2 250.7,271.2 251.2,271.2 251.7,271.2 252.2,271.2 252.7,271.2 253.2,271.2 253.7,271.2 254.2,271.2 254.7,271.2 255.2,271.2 255.7,271.2 256.2,271.2 256.7,271.2 257.2,271.2 257.7,271.2 258.2,271.2 258.7,271.2 259.2,271.2 259.7,271.2 260.2,271.2 260.7,271.2 261.2,271.2 261.7,271.2 262.2,271.2 262.7,271.2 263.2,271.2 263.7,271.2 264.2,271.2 264.7,271.2 265.2,271.2 265.7,271.2 266.2,271.2 266.7,271.2 267.2,271.2 267.7,271.2 268.2,271.2 268.7,271.2 269.2,271.2 269.7,271.2 270.2,271.2 270.7,271.2 271.2,271.2 271.7,271.2 272.2,271.2 272.7,271.2 273.2,271.2 273.7,271.2 274.2,271.2 274.7,271.2 275.2,271.2 275.7,271.2 276.2,271.2 276.7,271.2 277.2,271.2 277.7,271.2 278.2,271.2 278.7,271.2 279.2,271.2 279.7,271.2 280.2,271.2 280.7,271.2 281.2,271.2 281.7,271.2 282.2,271.2 282.7,271.2 283.2,271.2 283.7,271.2 284.2,271.2 284.7,271.2 285.2,271.2 285.7,271.2 286.2,271.2 286.7,271.2 287.2,271.2 287.7,271.2 288.2,271.2 288.7,271.2 289.2,271.2 289.7,271.2 290.2,271.2 290.7,271.2 291.2,271.2 291.7,271.2 292.2,271.2 292.7,271.2 293.2,271.2 293.7,271.2 294.2,271.2 294.7,271.2 295.2,271.2 295.7,271.2 296.2,271.3 296.7,271.3 297.2,271.3 297.7,271.3 298.2,271.3 298.7,271.3 299.2,271.3 299.7,271.3 300.2,271.3 300.7,271.3 301.2,271.3 301.7,271.3 302.2,271.3 302.7,271.3 303.2,271.3 303.7,271.3 304.2,271.3 304.7,271.3 305.2,271.3 305.7,271.3 306.2,271.3 306.7,271.3 307.2,271.3 307.7,271.3 308.2,271.3 308.7,271.3 309.2,271.3 309.7,271.3 310.2,271.3 310.7,271.3 311.2,271.3 311.7,271.3 312.2,271.3 312.7,271.3 313.2,271.3 313.7,271.3 314.2,271.3 314.7,271.3 315.2,271.3 315.7,271.3 316.2,271.3 316.7,271.3 317.2,271.3 317.7,271.3 318.2,271.3 318.7,271.3 319.2,271.3 319.7,271.3 320.2,271.3 320.7,271.3 321.2,271.3 321.7,271.3 322.2,271.3 322.7,271.3 323.2,271.3 323.7,271.3 324.2,271.3 324.7,271.3 325.2,271.3 325.7,271.3 326.2,271.3 326.7,271.3 327.2,271.3 327.7,271.3 328.2,271.3 328.7,271.3 329.2,271.3 329.7,271.3 330.2,271.3 330.7,271.3" fill="none" stroke="#77AC30" stroke-width="1.5" stroke-linejoin="round"/>
<polyline points="38.2,409.3 38.7,403.2 39.2,397.1 39.7,390.9 40.2,384.8 40.7,378.7 41.2,372.9 41.7,367.5 42.2,362.1 42.7,356.7 43.2,351.4 43.7,346 44.2,342.8 44.7,339.6 45.2,336.5 45.7,333.3 46.2,330.1 46.7,326.9 47.2,324 47.7,321.5 48.2,319 48.7,316.5 49.2,314 49.7,311.5 50.2,308.5 50.7,304.8 51.2,301 51.7,297.2 52.2,294.3 52.7,292.7 53.2,291 53.7,289.3 54.2,287.7 54.7,286 55.2,284.3 55.7,282.7 56.2,281 56.7,279.3 57.2,277.7 57.7,276 58.2,273.7 58.7,270.4 59.2,267.2 59.7,263.9 60.2,265.8 60.7,275.3 61.2,284.8 61.7,294.3 62.2,295.3 62.7,283.7 63.2,272 63.7,262 64.2,254.5 64.7,249.7 65.2,249.1 65.7,248.4 66.2,247.8 66.7,247.6 67.2,247.9 67.7,249.4 68.2,252.9 68.7,264 69.2,286.5 69.7,306.9 70.2,317.7 70.7,303 71.2,297.7 71.7,294.8 72.2,291.9 72.7,291 73.2,290.1 73.7,289.2 74.2,288.3 74.7,287.4 75.2,286.5 75.7,285.5 76.2,284.9 76.7,284.5 77.2,284.1 77.7,283.8 78.2,283.4 78.7,283.1 79.2,282.7 79.7,282.3 80.2,282 80.7,281.6 81.2,281.3 81.7,280.9 82.2,280.6 82.7,280.2 83.2,279.9 83.7,279.6 84.2,279.3 84.7,279 85.2,278.6 85.7,278.3 86.2,278 86.7,277.7 87.2,277.4 87.7,277.1 88.2,276.8 88.7,276.5 89.2,276.1 89.7,275.8 90.2,275.5 90.7,275.2 91.2,274.9 91.7,274.6 92.2,274.4 92.7,274.2 93.2,274.1 93.7,274 94.2,273.9 94.7,273.8 95.2,273.6 95.7,273.5 96.2,273.4 96.7,273.3 97.2,273.2 97.7,273 98.2,272.9 98.7,272.8 99.2,272.7 99.7,272.6 100.2,272.5 100.7,272.5 101.2,272.5 101.7,272.5 102.2,272.5 102.7,272.5 103.2,272.5 103.7,272.4 104.2,272.4 104.7,272.4 105.2,272.4 105.7,272.4 106.2,272.4 106.7,272.4 107.2,272.4 107.7,272.4 108.2,272.4 108.7,272.4 109.2,272.4 109.7,272.4 110.2,272.3 110.7,272.3 111.2,272.3 111.7,272.3 112.2,272.3 112.7,272.3 113.2,272.3 113.7,272.3 114.2,272.3 114.7,272.3 115.2,272.3 115.7,272.3 116.2,272.3 116.7,272.2 117.2,272.2 117.7,272.2 118.2,272.2 118.7,272.2 119.2,272.2 119.7,272.2 120.2,272.2 120.7,272.2 121.2,272.2 121.7,272.2 122.2,272.2 122.7,272.2 123.2,272.2 123.7,272.2 124.2,272.2 124.7,272.2 125.2,272.2 125.7,272.2 126.2,272.2 126.7,272.2 127.2,272.2 127.7,272.2 128.2,272.2 128.7,272.2 129.2,272.2 129.7,272.2 130.2,272.2 130.7,272.2 131.2,272.2 131.7,272.2 132.2,272.2 132.7,272.2 133.2,272.2 133.7,272.2 134.2,272.2 134.7,272.2 135.2,272.2 135.7,272.2 136.2,272.2 136.7,272.2 137.2,272.2 137.7,272.2 138.2,272.2 138.7,272.2 139.2,272.2 139.7,272.2 140.2,272.2 140.7,272.2 141.2,272.2 141.7,272.2 142.2,272.2 142.7,272.2 143.2,272.2 143.7,272.2 144.2,272.2 144.7,272.2 145.2,272.2 145.7,272.2 146.2,272.2 146.7,272.1 147.2,272.1 147.7,272.1 148.2,272.1 148.7,272.1 149.2,272.1 149.7,272.1 150.2,272.1 150.7,272.1 151.2,272.1 151.7,272.1 152.2,272.1 152.7,272.1 153.2,272.1 153.7,272.1 154.2,272.1 154.7,272.1 155.2,272.1 155.7,272.1 156.2,272.1 156.7,272.1 157.2,272.1 157.7,272.1 158.2,272.1 158.7,272.1 159.2,272.1 159.7,272.1 160.2,272.1 160.7,272.1 161.2,272.1 161.7,272.1 162.2,272.1 162.7,272.1 163.2,272.1 163.7,272.1 164.2,272.1 164.7,272.1 165.2,272.1 165.7,272.1 166.2,272.1 166.7,272.1 167.2,272.1 167.7,272.1 168.2,272.1 168.7,272.1 169.2,272.1 169.7,272.1 170.2,272.1 170.7,272.1 171.2,272.1 171.7,272.1 172.2,272.1 172.7,272.1 173.2,272.1 173.7,272.1 174.2,272.1 174.7,272.1 175.2,272.1 175.7,272.1 176.2,272.1 176.7,272.1 177.2,272.1 177.7,272.1 178.2,272.1 178.7,272.1 179.2,272.1 179.7,272.1 180.2,272.1 180.7,272.1 181.2,272.1 181.7,272.1 182.2,272.1 182.7,272.1 183.2,272.1 183.7,272.1 184.2,272.1 184.7,272.1 185.2,272.1 185.7,272.1 186.2,272.1 186.7,272.1 187.2,272.1 187.7,272.1 188.2,272.1 188.7,272.1 189.2,272.1 189.7,272.1 190.2,272.1 190.7,272.1 191.2,272.1 191.7,272.1 192.2,272.1 192.7,272.1 193.2,272.1 193.7,272.1 194.2,272.1 194.7,272.1 195.2,272.1 195.7,272.1 196.2,272.1 196.7,272.1 197.2,272.1 197.7,272.1 198.2,272.1 198.7,272.1 199.2,272 199.7,272 200.2,272 200.7,272 201.2,272 201.7,272 202.2,272 202.7,272 203.2,272 203.7,272 204.2,272 204.7,272 205.2,272 205.7,272 206.2,272 206.7,272 207.2,272 207.7,272 208.2,272 208.7,272 209.2,272 209.7,272 210.2,272 210.7,272 211.2,272 211.7,272 212.2,272 212.7,272 213.2,272 213.7,272 214.2,272 214.7,272 215.2,272 215.7,272 216.2,272 216.7,272 217.2,272 217.7,272 218.2,272 218.7,272 219.2,272 219.7,272 220.2,272 220.7,272 221.2,272 221.7,272 222.2,272 222.7,272 223.2,272 223.7,272 224.2,272 224.7,272 225.2,272 225.7,272 226.2,272 226.7,272 227.2,272 227.7,272 228.2,272 228.7,272 229.2,272 229.7,272 230.2,272 230.7,272 231.2,272 231.7,272 232.2,272 232.7,272 233.2,272 233.7,272 234.2,272 234.7,272 235.2,272 235.7,272 236.2,272 236.7,272 237.2,272 237.7,272 238.2,272 238.7,272 239.2,272 239.7,272 240.2,272 240.7,272 241.2,272 241.7,272 242.2,272 242.7,272 243.2,272 243.7,272 244.2,272 244.7,272 245.2,272 245.7,272 246.2,272 246.7,272 247.2,272 247.7,272 248.2,272 248.7,272 249.2,272 249.7,272 250.2,272 250.7,272 251.2,272 251.7,272 252.2,271.9 252.7,271.9 253.2,271.9 253.7,271.9 254.2,271.9 254.7,271.9 255.2,271.9 255.7,271.9 256.2,271.9 256.7,271.9 257.2,271.9 257.7,271.9 258.2,271.9 258.7,271.9 259.2,271.9 259.7,271.9 260.2,271.9 260.7,271.9 261.2,271.9 261.7,271.9 262.2,271.9 262.7,271.9 263.2,271.9 263.7,271.9 264.2,271.9 264.7,271.9 265.2,271.9 265.7,271.9 266.2,271.9 266.7,271.9 267.2,271.9 267.7,271.9 268.2,271.9 268.7,271.9 269.2,271.9 269.7,271.9 270.2,271.9 270.7,271.9 271.2,271.9 271.7,271.9 272.2,271.9 272.7,271.9 273.2,271.9 273.7,271.9 274.2,271.9 274.7,271.9 275.2,271.9 275.7,271.9 276.2,271.9 276.7,271.9 277.2,271.9 277.7,271.9 278.2,271.9 278.7,271.9 279.2,271.9 279.7,271.9 280.2,271.9 280.7,271.9 281.2,271.9 281.7,271.9 282.2,271.9 282.7,271.9 283.2,271.9 283.7,271.9 284.2,271.9 284.7,271.9 285.2,271.9 285.7,271.9 286.2,271.9 286.7,271.9 287.2,271.9 287.7,271.9 288.2,271.9 288.7,271.9 289.2,271.9 289.7,271.9 290.2,271.9 290.7,271.9 291.2,271.9 291.7,271.9 292.2,271.9 292.7,271.9 293.2,271.9 293.7,271.9 294.2,271.9 294.7,271.9 295.2,271.9 295.7,271.9 296.2,271.9 296.7,271.9 297.2,271.9 297.7,271.9 298.2,271.9 298.7,271.9 299.2,271.9 299.7,271.9 300.2,271.9 300.7,271.9 301.2,271.9 301.7,271.9 302.2,271.9 302.7,271.9 303.2,271.9 303.7,271.9 304.2,271.9 304.7,271.8 305.2,271.8 305.7,271.8 306.2,271.8 306.7,271.8 307.2,271.8 307.7,271.8 308.2,271.8 308.7,271.8 309.2,271.8 309.7,271.8 310.2,271.8 310.7,271.8 311.2,271.8 311.7,271.8 312.2,271.8 312.7,271.8 313.2,271.8 313.7,271.8 314.2,271.8 314.7,271.8 315.2,271.8 315.7,271.8 316.2,271.8 316.7,271.8 317.2,271.8 317.7,271.8 318.2,271.8 318.7,271.8 319.2,271.8 319.7,271.8 320.2,271.8 320.7,271.8 321.2,271.8 321.7,271.8 322.2,271.8 322.7,271.8 323.2,271.8 323.7,271.8 324.2,271.8 324.7,271.8 325.2,271.8 325.7,271.8 326.2,271.8 326.7,271.8 327.2,271.8 327.7,271.8 328.2,271.8 328.7,271.8 329.2,271.8 329.7,271.8 330.2,271.8 330.7,271.8" fill="none" stroke="#7E2F8E" stroke-width="1.5" stroke-linejoin="round"/>
<polyline points="38.2,409.3 38.5,403.7 38.7,398 39,392.4 39.2,386.8 39.5,381.1 39.7,376.5 40,372.1 40.2,367.7 40.5,363.4 40.7,359 41,354.6 41.2,350.2 41.5,345.9 41.7,342.8 42,340.1 42.2,337.4 42.5,334.7 42.7,332 43,329.3 43.2,326.6 43.5,323.9 43.7,321.2 44,318.5 44.2,316.8 44.5,315.3 44.7,313.8 45,312.3 45.2,310.8 45.5,309.3 45.7,307.8 46,306.3 46.2,304.8 46.5,303.3 46.7,301.8 47,300.3 47.2,299.3 47.5,298.5 47.7,297.7 48,296.8 48.2,296 48.5,295.2 48.7,294.3 49,293.5 49.2,292.7 49.5,291.8 49.7,291 50,290.2 50.2,289.6 50.5,289.1 50.7,288.6 51,288.1 51.2,287.6 51.5,287.1 51.7,286.6 52,286.1 52.2,285.6 52.5,285.1 52.7,284.6 53,284.1 53.2,283.9 53.5,283.8 53.7,283.8 54,283.7 54.2,283.6 54.5,283.5 54.7,283.4 55,283.3 55.2,283.2 55.5,283.1 55.7,283.1 56,283 56.2,282.9 56.5,282.8 56.7,282.7 57,282.6 57.2,282.6 57.5,282.5 57.7,282.4 58,282.4 58.2,282.3 58.5,282.3 58.7,282.2 59,282.1 59.2,282.1 59.5,282 59.7,282 60,281.9 60.2,281.9 60.5,281.8 60.7,281.7 61,281.7 61.2,281.6 61.5,281.6 61.7,281.5 62,281.4 62.2,281.4 62.5,281.3 62.7,281.3 63,281.2 63.2,281.2 63.5,281.1 63.7,281 64,281 64.2,280.9 64.5,280.9 64.7,280.8 65,280.7 65.2,280.7 65.5,280.6 65.7,280.6 66,280.5 66.2,280.5 66.5,280.4 66.7,280.4 67,280.4 67.2,280.4 67.5,280.3 67.7,280.3 68,280.3 68.2,280.2 68.5,280.2 68.7,280.2 69,280.1 69.2,280.1 69.5,280.1 69.7,280.1 70,280 70.2,280 70.5,280 70.7,279.9 71,279.9 71.2,279.9 71.5,279.8 71.7,279.8 72,279.8 72.2,279.7 72.5,279.7 72.7,279.7 73,279.7 73.2,279.6 73.4,268.8 73.7,268.8 73.9,268.8 74.2,268.8 74.4,268.8 74.7,268.8 74.9,268.8 75.2,268.8 75.4,268.8 75.7,268.8 75.9,268.8 76.2,268.8 76.4,268.8 76.7,268.8 76.9,268.8 77.2,268.8 77.4,268.8 77.7,268.8 77.9,268.8 78.2,268.8 78.4,268.8 78.7,268.8 78.9,268.8 79.2,268.8 79.4,268.8 79.7,268.8 79.9,268.8 80.2,268.8 80.4,268.8 80.7,268.8 80.9,268.8 81.2,268.8 81.4,268.8 81.7,268.8 81.9,268.8 82.2,268.8 82.4,268.8 82.7,258 82.9,258 83.2,258 83.4,258 83.7,258 83.9,258 84.2,258 84.4,258 84.7,266 84.9,266 85.2,266 85.4,266 85.7,266 85.9,266 86.2,266 86.4,266 86.7,294 86.9,294 87.2,294 87.4,294 87.7,294 87.9,294 88.2,294 88.4,258 88.7,258 88.9,258 89.2,258 89.4,258 89.7,258 89.9,258 90.2,258 90.4,258 90.7,281 90.9,281 91.2,281 91.4,281 91.7,281 91.9,281 92.2,281 92.4,281 92.7,268.8 92.9,268.8 93.2,268.8 93.4,268.8 93.7,268.8 93.9,268.8 94.2,268.8 94.4,268.8 94.7,268.8 94.9,268.8 95.2,268.8 95.4,268.8 95.7,268.8 95.9,268.8 96.2,268.8 96.4,268.8 96.7,268.8 96.9,268.8 97.2,268.8 97.4,268.8 97.7,268.8 97.9,268.8 98.2,268.8 98.4,268.8 98.7,268.8 98.9,268.8 99.2,268.8 99.4,268.8 99.7,268.8 99.9,268.8 100.2,268.8 100.4,268.8 100.7,268.8 100.9,268.8 101.2,268.8 101.4,268.8 101.7,268.8 101.9,268.8 102.2,268.8 102.4,268.8 102.7,268.8 102.9,268.8 103.2,268.8 103.4,268.8 103.7,268.8 103.9,268.8 104.2,268.8 104.4,268.8 104.7,268.8 104.9,280.5 105.2,280.5 105.4,280.5 105.7,280.5 105.9,280.5 106.2,280.5 106.4,280.5 106.7,280.5 106.9,280.5 107.2,280.5 107.4,280.5 107.7,280.5 107.9,280.5 108.2,280.5 108.4,280.5 108.7,268.8 108.9,268.8 109.2,268.8 109.4,268.8 109.7,268.8 109.9,268.8 110.2,268.8 110.4,268.8 110.7,268.8 110.9,268.8 111.2,268.8 111.4,268.8 111.7,268.8 111.9,261.5 112.2,261.5 112.4,261.5 112.7,261.5 112.9,261.5 113.2,261.5 113.4,261.5 113.7,261.5 113.9,261.5 114.2,261.5 114.4,261.5 114.7,261.5 114.9,261.5 115.2,261.5 115.4,289.6 115.7,289.6 115.9,289.6 116.2,289.6 116.4,289.6 116.7,289.6 116.9,289.6 117.2,289.6 117.4,268.8 117.7,268.8 117.9,268.8 118.2,268.8 118.4,268.8 118.7,268.8 118.9,268.8 119.2,268.8 119.4,268.8 119.7,268.8 119.9,268.8 120.2,268.8 120.4,268.8 120.7,268.8 120.9,268.8 121.2,268.8 121.4,268.8 121.7,268.8 121.9,268.8 122.2,268.8 122.4,268.8 122.7,268.8 122.9,268.8 123.2,268.8 123.4,268.8 123.7,268.8 123.9,268.8 124.2,268.8 124.4,268.8 124.7,268.8 124.9,268.8 125.2,268.8 125.4,268.8 125.7,268.8 125.9,282.5 126.2,282.5 126.4,282.5 126.7,282.5 126.9,282.5 127.2,282.5 127.4,282.5 127.7,282.5 127.9,268.8 128.2,268.8 128.4,268.8 128.7,268.8 128.9,268.8 129.2,268.8 129.4,268.8 129.7,268.8 129.9,268.8 130.2,268.8 130.4,268.8 130.7,268.8 130.9,268.8 131.2,268.8 131.4,268.8 131.7,268.8 131.9,268.8 132.2,268.8 132.4,268.8 132.7,268.8 132.9,268.8 133.2,268.8 133.4,268.8 133.7,268.8 133.9,268.8 134.2,268.8 134.4,268.8 134.7,268.8 134.9,268.8 135.2,268.8 135.4,268.8 135.7,268.8 135.9,268.8 136.2,268.8 136.4,280.8 136.7,280.8 136.9,280.8 137.2,280.8 137.4,280.8 137.7,280.8 137.9,280.8 138.2,280.8 138.4,268.8 138.7,268.8 138.9,268.8 139.2,268.8 139.4,268.8 139.7,268.8 139.9,268.8 140.2,268.8 140.4,268.8 140.7,268.8 140.9,268.8 141.2,268.8 141.4,268.8 141.7,268.8 141.9,268.8 142.2,268.8 142.4,268.8 142.7,268.8 142.9,268.8 143.2,268.8 143.4,281 143.7,281 143.9,281 144.2,281 144.4,281 144.7,281 144.9,281 145.2,281 145.4,268.8 145.7,268.8 145.9,268.8 146.2,268.8 146.4,268.8 146.7,268.8 146.9,268.8 147.2,268.8 147.4,268.8 147.7,268.8 147.9,268.8 148.2,268.8 148.4,268.8 148.7,268.8 148.9,268.8 149.2,268.8 149.4,268.8 149.7,268.8 149.9,268.8 150.2,268.8 150.4,268.8 150.7,268.8 150.9,268.8 151.2,268.8 151.4,268.8 151.7,268.8 151.9,268.8 152.2,268.8 152.4,268.8 152.7,268.8 152.9,268.8 153.2,268.8 153.4,268.8 153.7,268.8 153.9,268.8 154.2,258 154.4,258 154.7,258 154.9,258 155.2,258 155.4,258 155.7,258 155.9,258 156.2,258 156.4,258 156.7,268.8 156.9,268.8 157.2,268.8 157.4,281 157.7,281 157.9,281 158.2,281 158.4,281 158.7,281 158.9,281 159.2,281 159.4,268.8 159.7,268.8 159.9,268.8 160.2,268.8 160.4,268.8 160.7,268.8 160.9,268.8 161.2,256 161.4,256 161.7,256 161.9,256 162.2,256 162.4,256 162.7,256 162.9,256 163.2,256 163.4,256 163.7,256 163.9,256 164.2,256 164.4,256 164.7,284.3 164.9,284.3 165.2,284.3 165.4,284.3 165.7,284.3 165.9,284.3 166.2,284.3 166.4,268.8 166.7,268.8 166.9,268.8 167.2,268.8 167.4,268.8 167.7,268.8 167.9,268.8 168.2,268.8 168.4,268.8 168.7,268.8 168.9,268.8 169.2,268.8 169.4,268.8 169.7,268.8 169.9,268.8 170.2,268.8 170.4,268.8 170.7,268.8 170.9,268.8 171.2,268.8 171.4,268.8 171.7,257 171.9,257 172.2,257 172.4,257 172.7,257 172.9,257 173.2,257 173.4,257 173.7,257 173.9,257 174.2,257 174.4,257 174.7,257 174.9,257 175.2,257 175.4,257 175.7,257 175.9,268.8 176.2,268.8 176.4,268.8 176.7,268.8 176.9,286 177.2,286 177.4,286 177.7,286 177.9,286 178.2,286 178.4,286 178.7,286 178.9,286 179.2,286 179.4,286 179.7,286 179.9,286 180.2,286 180.4,268.8 180.7,268.8 180.9,268.8 181.2,268.8 181.4,268.8 181.7,268.8 181.9,268.8 182.2,268.8 182.4,268.8 182.7,268.8 182.9,268.8 183.2,268.8 183.4,268.8 183.7,268.8 183.9,268.8 184.2,268.8 184.4,268.8 184.7,268.8 184.9,268.8 185.2,268.8 185.4,268.8 185.7,268.8 185.9,268.8 186.2,268.8 186.4,268.8 186.7,268.8 186.9,268.8 187.2,268.8 187.4,268.8 187.7,268.8 187.9,268.8 188.2,268.8 188.4,268.8 188.7,268.8 188.9,268.8 189.2,281 189.4,281 189.7,281 189.9,281 190.2,281 190.4,281 190.7,281 190.9,268.8 191.2,268.8 191.4,268.8 191.7,268.8 191.9,268.8 192.2,268.8 192.4,268.8 192.7,268.8 192.9,268.8 193.2,268.8 193.4,268.8 193.7,268.8 193.9,268.8 194.2,268.8 194.4,268.8 194.7,268.8 194.9,268.8 195.2,268.8 195.4,268.8 195.7,268.8 195.9,268.8 196.2,263.3 196.4,263.3 196.7,263.3 196.9,263.3 197.2,263.3 197.4,263.3 197.7,263.3 197.9,263.3 198.2,263.3 198.4,263.3 198.7,263.3 198.9,263.3 199.2,263.3 199.4,263.3 199.7,263.3 199.9,263.3 200.2,263.3 200.4,263.3 200.7,268.8 200.9,268.8 201.2,268.8 201.4,268.8 201.7,268.8 201.9,268.8 202.2,268.8 202.4,268.8 202.7,268.8 202.9,268.8 203.2,268.8 203.4,268.8 203.7,268.8 203.9,268.8 204.2,268.8 204.4,268.8 204.7,268.8 204.9,268.8 205.2,268.8 205.4,268.8 205.7,268.8 205.9,268.8 206.2,268.8 206.4,268.8 206.7,280.5 206.9,280.5 207.2,280.5 207.4,280.5 207.7,280.5 207.9,280.5 208.2,280.5 208.4,280.5 208.7,280.5 208.9,280.5 209.2,268.8 209.4,268.8 209.7,268.8 209.9,268.8 210.2,268.8 210.4,268.8 210.7,268.8 210.9,268.8 211.2,268.8 211.4,268.8 211.7,268.8 211.9,268.8 212.2,268.8 212.4,268.8 212.7,268.8 212.9,280.4 213.2,280.4 213.4,280.4 213.7,280.4 213.9,280.4 214.2,280.4 214.4,280.4 214.7,280.4 214.9,268.8 215.2,268.8 215.4,268.8 215.7,268.8 215.9,268.8 216.2,268.8 216.4,268.8 216.7,268.8 216.9,268.8 217.2,268.8 217.4,268.8 217.7,268.8 217.9,268.8 218.2,268.8 218.4,268.8 218.7,268.8 218.9,268.8 219.2,268.8 219.4,268.8 219.7,268.8 219.9,268.8 220.2,268.8 220.4,268.8 220.7,268.8 220.9,268.8 221.2,268.8 221.4,268.8 221.7,268.8 221.9,268.8 222.2,268.8 222.4,268.8 222.7,268.8 222.9,268.8 223.2,268.8 223.4,268.8 223.7,268.8 223.9,268.8 224.2,268.8 224.4,268.8 224.7,276 224.9,276 225.2,276 225.4,276 225.7,276 225.9,276 226.2,276 226.4,276 226.7,268.8 226.9,268.8 227.2,268.8 227.4,268.8 227.7,268.8 227.9,268.8 228.2,268.8 228.4,268.8 228.7,268.8 228.9,268.8 229.2,268.8 229.4,268.8 229.7,268.8 229.9,268.8 230.2,268.8 230.4,268.8 230.7,268.8 230.9,268.8 231.2,268.8 231.4,268.8 231.7,276 231.9,276 232.2,276 232.4,276 232.7,276 232.9,276 233.2,276 233.4,276 233.7,276 233.9,276 234.2,276 234.4,276 234.7,276 234.9,276 235.2,276 235.4,276 235.7,268.8 235.9,268.8 236.2,268.8 236.4,268.8 236.7,268.8 236.9,268.8 237.2,268.8 237.4,268.8 237.7,268.8 237.9,268.8 238.2,268.8 238.4,268.8 238.7,268.8 238.9,268.8 239.2,268.8 239.4,268.8 239.7,268.8 239.9,268.8 240.2,268.8 240.4,268.8 240.7,268.8 240.9,268.8 241.2,268.8 241.4,268.8 241.7,268.8 241.9,268.8 242.2,268.8 242.4,252.2 242.7,252.2 242.9,252.2 243.2,252.2 243.4,252.2 243.7,252.2 243.9,252.2 244.2,252.2 244.4,252.2 244.7,258 244.9,258 245.2,258 245.4,258 245.7,268.8 245.9,268.8 246.2,268.8 246.4,285.3 246.7,285.3 246.9,285.3 247.2,285.3 247.4,285.3 247.7,278 247.9,278 248.2,278 248.4,278 248.7,278 248.9,278 249.2,268.8 249.4,268.8 249.7,268.8 249.9,268.8 250.2,268.8 250.4,275 250.7,275 250.9,275 251.2,275 251.4,275 251.7,275 251.9,275 252.2,275 252.4,275 252.7,275 252.9,275 253.2,275 253.4,275 253.7,275 253.9,275 254.2,275 254.4,268.8 254.7,268.8 254.9,268.8 255.2,268.8 255.4,268.8 255.7,268.8 255.9,268.8 256.1,268.8 256.4,268.8 256.6,268.8 256.9,268.8 257.1,268.8 257.4,273 257.6,273 257.9,273 258.1,273 258.4,273 258.6,273 258.9,273 259.1,273 259.4,273 259.6,273 259.9,273 260.1,273 260.4,273 260.6,273 260.9,273 261.1,268.8 261.4,268.8 261.6,268.8 261.9,268.8 262.1,268.8 262.4,268.8 262.6,268.8 262.9,268.8 263.1,268.8 263.4,268.8 263.6,268.8 263.9,268.8 264.1,268.8 264.4,268.8 264.6,268.8 264.9,268.8 265.1,268.8 265.4,268.8 265.6,268.8 265.9,268.8 266.1,268.8 266.4,268.8 266.6,268.8 266.9,268.8 267.1,266.6 267.4,266.6 267.6,266.6 267.9,266.6 268.1,266.6 268.4,266.6 268.6,266.6 268.9,266.6 269.1,266.6 269.4,266.6 269.6,266.6 269.9,266.6 270.1,266.6 270.4,266.6 270.6,266.6 270.9,266.6 271.1,268.8 271.4,268.8 271.6,268.8 271.9,268.8 272.1,268.8 272.4,268.8 272.6,268.8 272.9,268.8 273.1,268.8 273.4,268.8 273.6,268.8 273.9,268.8 274.1,268.8 274.4,268.8 274.6,268.8 274.9,268.8 275.1,268.8 275.4,268.8 275.6,268.8 275.9,268.8 276.1,268.8 276.4,268.8 276.6,268.8 276.9,280.4 277.1,280.4 277.4,280.4 277.6,280.4 277.9,280.4 278.1,280.4 278.4,280.4 278.6,280.4 278.9,280.4 279.1,280.4 279.4,280.4 279.6,280.4 279.9,280.4 280.1,280.4 280.4,280.4 280.6,280.4 280.9,268.8 281.1,268.8 281.4,268.8 281.6,268.8 281.9,268.8 282.1,268.8 282.4,268.8 282.6,268.8 282.9,268.8 283.1,268.8 283.4,268.8 283.6,268.8 283.9,268.8 284.1,268.8 284.4,268.8 284.6,268.8 284.9,268.8 285.1,268.8 285.4,268.8 285.6,268.8 285.9,268.8 286.1,268.8 286.4,268.8 286.6,268.8 286.9,268.8 287.1,268.8 287.4,268.8 287.6,268.8 287.9,268.8 288.1,268.8 288.4,268.8 288.6,268.8 288.9,268.8 289.1,268.8 289.4,268.8 289.6,268.8 289.9,268.8 290.1,268.8 290.4,268.8 290.6,268.8 290.9,268.8 291.1,268.8 291.4,268.8 291.6,268.8 291.9,268.8 292.1,268.8 292.4,268.8 292.6,268.8 292.9,268.8 293.1,268.8 293.4,268.8 293.6,268.8 293.9,268.8 294.1,268.8 294.4,268.8 294.6,278.4 294.9,278.4 295.1,278.4 295.4,278.4 295.6,278.4 295.9,278.4 296.1,278.4 296.4,278.4 296.6,278.4 296.9,278.4 297.1,278.4 297.4,278.4 297.6,278.4 297.9,278.4 298.1,278.4 298.4,278.4 298.6,268.8 298.9,268.8 299.1,268.8 299.4,268.8 299.6,268.8 299.9,268.8 300.1,268.8 300.4,268.8 300.6,268.8 300.9,268.8 301.1,268.8 301.4,268.8 301.6,268.8 301.9,268.8 302.1,268.8 302.4,268.8 302.6,268.8 302.9,268.8 303.1,268.8 303.4,268.8 303.6,268.8 303.9,268.8 304.1,268.8 304.4,268.8 304.6,268.8 304.9,268.8 305.1,268.8 305.4,268.8 305.6,268.8 305.9,268.8 306.1,268.8 306.4,268.8 306.6,268.8 306.9,268.8 307.1,268.8 307.4,268.8 307.6,268.8 307.9,268.8 308.1,268.8 308.4,268.8 308.6,268.8 308.9,268.8 309.1,268.8 309.4,268.8 309.6,268.8 309.9,268.8 310.1,268.8 310.4,268.8 310.6,268.8 310.9,268.8 311.1,268.8 311.4,268.8 311.6,268.8 311.9,268.8 312.1,268.8 312.4,268.8 312.6,268.8 312.9,268.8 313.1,268.8 313.4,268.8 313.6,268.8 313.9,268.8 314.1,268.8 314.4,268.8 314.6,268.8 314.9,268.8 315.1,268.8 315.4,268.8 315.6,268.8 315.9,268.8 316.1,268.8 316.4,268.8 316.6,268.8 316.9,268.8 317.1,268.8 317.4,268.8 317.6,268.8 317.9,268.8 318.1,268.8 318.4,268.8 318.6,268.8 318.9,268.8 319.1,268.8 319.4,268.8 319.6,268.8 319.9,268.8 320.1,268.8 320.4,268.8 320.6,268.8 320.9,268.8 321.1,268.8 321.4,268.8 321.6,268.8 321.9,268.8 322.1,268.8 322.4,268.8 322.6,268.8 322.9,268.8 323.1,268.8 323.4,268.8 323.6,268.8 323.9,268.8 324.1,268.8 324.4,268.8 324.6,268.8 324.9,268.8 325.1,268.8 325.4,268.8 325.6,268.8 325.9,268.8 326.1,268.8 326.4,268.8 326.6,268.8 326.9,268.8 327.1,268.8 327.4,268.8 327.6,268.8 327.9,268.8 328.1,268.8 328.4,268.8 328.6,268.8 328.9,268.8 329.1,268.8 329.4,268.8 329.6,268.8 329.9,268.8 330.1,268.8 330.4,268.8 330.6,268.8 330.9,268.8 331.1,268.8" fill="none" stroke="#EE8A12" stroke-width="1.4" stroke-linejoin="miter"/>
<polyline points="38.2,409.3 38.7,397.1 39.2,384.9 39.7,372.7 40.2,360.4 40.7,354.8 41.2,350.7 41.7,346.6 42.2,342.6 42.7,338.5 43.2,334.5 43.7,330.5 44.2,326.4 44.7,322.4 45.2,318 45.7,313 46.2,308 46.7,303 47.2,298.5 47.7,294.8 48.2,291 48.7,287.2 49.2,283 49.7,278 50.2,273 50.7,268.9 51.2,266.3 51.7,263.6 52.2,260.8 52.7,257.8 53.2,255.4 53.7,254 54.2,253.2 54.7,254.9 55.2,264.8 55.7,286.8 56.2,306 56.7,321 57.2,322 57.7,302 58.2,284.4 58.7,270.4 59.2,260 59.7,255 60.2,251.2 60.7,249.1 61.2,247.7 61.7,248.5 62.2,251.6 62.7,258.1 63.2,269.6 63.7,288.6 64.2,294 64.7,279 65.2,269.5 65.7,268.2 66.2,267.5 66.7,268.7 67.2,264.4 67.7,265.6 68.2,267.3 68.7,262.9 69.2,263.5 69.7,264.4 70.2,266 70.7,269.5 71.2,267.1 71.7,268.4 72.2,266.8 72.7,264.1 73.2,264.6 73.7,269.2 74.2,268.2 74.7,266.1 75.2,269.1 75.7,265.4 76.2,268.7 76.7,269 77.2,265.9 77.7,265.3 78.2,267.7 78.7,265 79.2,267.4 79.7,264.5 80.2,267.1 80.7,266.2 81.2,265.6 81.7,265 82.2,266.5 82.7,263.8 83.2,266 83.7,265.9 84.2,267.3 84.7,264.8 85.2,268.7 85.7,266.2 86.2,265.1 86.7,268.5 87.2,268.9 87.7,266.5 88.2,265.7 88.7,266.9 89.2,266 89.7,266.6 90.2,269.1 90.7,267.6 91.2,267.4 91.7,267.7 92.2,267.3 92.7,268.5 93.2,268.6 93.7,267.1 94.2,267.8 94.7,270.8 95.2,268.3 95.7,267.6 96.2,270.6 96.7,268 97.2,266.7 97.7,269 98.2,267.1 98.7,267.7 99.2,268.8 99.7,268.3 100.2,267.5 100.7,267.8 101.2,267.7 101.7,270 102.2,267.6 102.7,267.8 103.2,271.2 103.7,267.8 104.2,270.4 104.7,270.2 105.2,268.3 105.7,266.7 106.2,269.1 106.7,269.4 107.2,269.8 107.7,268.6 108.2,270.1 108.7,270.3 109.2,267.1 109.7,270.4 110.2,268.7 110.7,267.8 111.2,268.1 111.7,270.9 112.2,269.8 112.7,266.2 113.2,268.6 113.7,268.3 114.2,268.3 114.7,267.8 115.2,266.6 115.7,269.6 116.2,267.3 116.7,268 117.2,267.7 117.7,267.6 118.2,269.5 118.7,269 119.2,267.6 119.7,267.3 120.2,267.9 120.7,269.8 121.2,268.7 121.7,268.8 122.2,268.1 122.7,268.2 123.2,268.8 123.7,266.1 124.2,270.6 124.7,267.5 125.2,267.8 125.7,270.3 126.2,268.8 126.7,268.6 127.2,267.8 127.7,266.5 128.2,268.8 128.7,270.1 129.2,267.3 129.7,270.3 130.2,268.5 130.7,268.5 131.2,268.5 131.7,268.5 132.2,268.5 132.7,268.5 133.2,268.5 133.7,268.5 134.2,268.5 134.7,268.5 135.2,268.5 135.7,268.5 136.2,268.5 136.7,268.5 137.2,268.5 137.7,268.5 138.2,268.5 138.7,268.5 139.2,268.5 139.7,268.5 140.2,268.5 140.7,268.5 141.2,268.5 141.7,268.5 142.2,268.5 142.7,268.5 143.2,268.5 143.7,268.5 144.2,268.5 144.7,268.5 145.2,268.5 145.7,268.5 146.2,268.5 146.7,268.5 147.2,268.5 147.7,268.5 148.2,268.5 148.7,268.5 149.2,268.5 149.7,268.5 150.2,268.5 150.7,268.5 151.2,268.5 151.7,268.5 152.2,268.5 152.7,268.5 153.2,268.5 153.7,268.5 154.2,268.5 154.7,268.5 155.2,268.5 155.7,268.5 156.2,268.5 156.7,268.5 157.2,268.5 157.7,268.5 158.2,268.5 158.7,268.5 159.2,268.5 159.7,268.5 160.2,268.5 160.7,268.5 161.2,268.5 161.7,268.5 162.2,268.5 162.7,268.5 163.2,268.5 163.7,268.5 164.2,268.5 164.7,268.5 165.2,268.5 165.7,268.5 166.2,268.5 166.7,268.5 167.2,268.5 167.7,268.5 168.2,268.5 168.7,268.5 169.2,268.5 169.7,268.5 170.2,268.5 170.7,268.5 171.2,268.5 171.7,268.5 172.2,268.5 172.7,268.5 173.2,268.5 173.7,268.5 174.2,268.5 174.7,268.5 175.2,268.5 175.7,268.5 176.2,268.5 176.7,268.5 177.2,268.5 177.7,268.5 178.2,268.5 178.7,268.5 179.2,268.5 179.7,268.5 180.2,268.5 180.7,268.5 181.2,268.5 181.7,268.5 182.2,268.5 182.7,268.5 183.2,268.5 183.7,268.5 184.2,268.5 184.7,268.5 185.2,268.5 185.7,268.5 186.2,268.5 186.7,268.5 187.2,268.5 187.7,268.5 188.2,268.5 188.7,268.5 189.2,268.5 189.7,268.5 190.2,268.5 190.7,268.5 191.2,268.5 191.7,268.5 192.2,268.5 192.7,268.5 193.2,268.5 193.7,268.5 194.2,268.5 194.7,268.5 195.2,268.5 195.7,268.5 196.2,268.5 196.7,268.5 197.2,268.5 197.7,268.5 198.2,268.5 198.7,268.5 199.2,268.5 199.7,268.5 200.2,268.5 200.7,268.5 201.2,268.5 201.7,268.5 202.2,268.5 202.7,268.5 203.2,268.5 203.7,268.5 204.2,268.5 204.7,268.5 205.2,268.5 205.7,268.5 206.2,268.5 206.7,268.5 207.2,268.5 207.7,268.5 208.2,268.5 208.7,268.5 209.2,268.5 209.7,268.5 210.2,268.5 210.7,268.5 211.2,268.5 211.7,268.5 212.2,268.5 212.7,268.5 213.2,268.5 213.7,268.5 214.2,268.5 214.7,268.5 215.2,268.5 215.7,268.6 216.2,268.6 216.7,268.6 217.2,268.6 217.7,268.6 218.2,268.6 218.7,268.6 219.2,268.6 219.7,268.6 220.2,268.6 220.7,268.6 221.2,268.6 221.7,268.6 222.2,268.6 222.7,268.6 223.2,268.6 223.7,268.6 224.2,268.6 224.7,268.6 225.2,268.6 225.7,268.6 226.2,268.6 226.7,268.6 227.2,268.6 227.7,268.6 228.2,268.6 228.7,268.6 229.2,268.6 229.7,268.6 230.2,268.6 230.7,268.6 231.2,268.6 231.7,268.6 232.2,268.6 232.7,268.6 233.2,268.6 233.7,268.6 234.2,268.6 234.7,268.6 235.2,268.6 235.7,268.6 236.2,268.6 236.7,268.6 237.2,268.6 237.7,268.6 238.2,268.6 238.7,268.6 239.2,268.6 239.7,268.6 240.2,268.6 240.7,268.6 241.2,268.6 241.7,268.6 242.2,268.6 242.7,268.6 243.2,268.6 243.7,268.6 244.2,268.6 244.7,268.6 245.2,268.6 245.7,268.6 246.2,268.6 246.7,268.6 247.2,268.6 247.7,268.6 248.2,268.6 248.7,268.6 249.2,268.6 249.7,268.6 250.2,268.6 250.7,268.6 251.2,268.6 251.7,268.6 252.2,268.6 252.7,268.6 253.2,268.6 253.7,268.6 254.2,268.6 254.7,268.6 255.2,268.6 255.7,268.6 256.2,268.6 256.7,268.6 257.2,268.6 257.7,268.6 258.2,268.6 258.7,268.6 259.2,268.6 259.7,268.6 260.2,268.6 260.7,268.6 261.2,268.6 261.7,268.6 262.2,268.6 262.7,268.6 263.2,268.6 263.7,268.6 264.2,268.6 264.7,268.6 265.2,268.6 265.7,268.6 266.2,268.6 266.7,268.6 267.2,268.6 267.7,268.6 268.2,268.6 268.7,268.6 269.2,268.6 269.7,268.6 270.2,268.6 270.7,268.6 271.2,268.6 271.7,268.6 272.2,268.6 272.7,268.6 273.2,268.6 273.7,268.6 274.2,268.6 274.7,268.6 275.2,268.6 275.7,268.6 276.2,268.6 276.7,268.6 277.2,268.6 277.7,268.6 278.2,268.6 278.7,268.6 279.2,268.6 279.7,268.6 280.2,268.6 280.7,268.6 281.2,268.6 281.7,268.6 282.2,268.6 282.7,268.6 283.2,268.6 283.7,268.6 284.2,268.6 284.7,268.6 285.2,268.6 285.7,268.6 286.2,268.6 286.7,268.6 287.2,268.6 287.7,268.6 288.2,268.6 288.7,268.6 289.2,268.6 289.7,268.6 290.2,268.6 290.7,268.6 291.2,268.6 291.7,268.6 292.2,268.6 292.7,268.6 293.2,268.6 293.7,268.6 294.2,268.6 294.7,268.6 295.2,268.6 295.7,268.6 296.2,268.6 296.7,268.6 297.2,268.6 297.7,268.6 298.2,268.6 298.7,268.6 299.2,268.6 299.7,268.6 300.2,268.6 300.7,268.6 301.2,268.6 301.7,268.6 302.2,268.6 302.7,268.6 303.2,268.6 303.7,268.6 304.2,268.6 304.7,268.6 305.2,268.6 305.7,268.6 306.2,268.6 306.7,268.6 307.2,268.6 307.7,268.6 308.2,268.6 308.7,268.6 309.2,268.6 309.7,268.6 310.2,268.6 310.7,268.6 311.2,268.6 311.7,268.6 312.2,268.6 312.7,268.6 313.2,268.6 313.7,268.6 314.2,268.6 314.7,268.6 315.2,268.6 315.7,268.6 316.2,268.6 316.7,268.6 317.2,268.6 317.7,268.6 318.2,268.6 318.7,268.6 319.2,268.6 319.7,268.6 320.2,268.6 320.7,268.6 321.2,268.6 321.7,268.6 322.2,268.6 322.7,268.6 323.2,268.6 323.7,268.6 324.2,268.6 324.7,268.6 325.2,268.6 325.7,268.6 326.2,268.6 326.7,268.6 327.2,268.6 327.7,268.6 328.2,268.6 328.7,268.6 329.2,268.6 329.7,268.6 330.2,268.6 330.7,268.6" fill="none" stroke="#D95319" stroke-width="1.8" stroke-linejoin="round"/>
<polyline points="38.2,409.3 38.7,249.8 39.2,250.7 39.7,251.5 40.2,254 40.7,259 41.2,269.6 41.7,288.6 42.2,293 42.7,275.5 43.2,264.4 43.7,262.9 44.2,262.8 44.7,264.8 45.2,266.8 45.7,268.8 46.2,274 46.7,284 47.2,294 47.7,294.9 48.2,282.3 48.7,269.6 49.2,262 49.7,262 50.2,262 50.7,267.1 51.2,279.7 51.7,292.4 52.2,294.9 52.7,282.3 53.2,269.6 53.7,267.6 54.2,281.6 54.7,304.3 55.2,339.9 55.7,362.7 56.2,334.2 56.7,305.7 57.2,317.1 57.7,338.5 58.2,359.9 58.7,329.9 59.2,300 59.7,276.2 60.2,262.5 60.7,262.9 61.2,263.1 61.7,262 62.2,264 62.7,262.2 63.2,263 63.7,263.3 64.2,261.9 64.7,260.5 65.2,262.9 65.7,261.1 66.2,261.7 66.7,261.8 67.2,264.5 67.7,263.6 68.2,261.2 68.7,264.5 69.2,265.9 69.7,265.3 70.2,262.2 70.7,262.7 71.2,263 71.7,263.2 72.2,262.1 72.7,260.8 73.2,263.2 73.7,263.2 74.2,260.9 74.7,262.2 75.2,263.1 75.7,262.9 76.2,263.6 76.7,263.8 77.2,263.3 77.7,262.4 78.2,260.8 78.7,263.1 79.2,263.9 79.7,264.4 80.2,262 80.7,262.2 81.2,264.2 81.7,264.4 82.2,263.3 82.7,263.9 83.2,262.4 83.7,264.2 84.2,262.7 84.7,263.7 85.2,263.4 85.7,262 86.2,259 86.7,259.6 87.2,260 87.7,258.5 88.2,258.2 88.7,260.9 89.2,263 89.7,265 90.2,263.8 90.7,264.3 91.2,263.4 91.7,262.2 92.2,264.8 92.7,275.5 93.2,283.5 93.7,293.8 94.2,294.1 94.7,288.2 95.2,276.4 95.7,271.7 96.2,266.9 96.7,266.4 97.2,264.3 97.7,263.7 98.2,264.6 98.7,270.2 99.2,271.5 99.7,277.4 100.2,280.7 100.7,275.2 101.2,272.6 101.7,268.7 102.2,266.5 102.7,273.8 103.2,279.6 103.7,281.9 104.2,278.8 104.7,271.3 105.2,265.3 105.7,266.9 106.2,267.3 106.7,266.4 107.2,267.7 107.7,265.5 108.2,269.7 108.7,269.6 109.2,271.7 109.7,272.7 110.2,271.2 110.7,270.4 111.2,268.5 111.7,266.1 112.2,267.4 112.7,266.8 113.2,264.3 113.7,265.4 114.2,263.7 114.7,263.1 115.2,261.6 115.7,261.7 116.2,266.1 116.7,267.2 117.2,267.7 117.7,268.7 118.2,269.4 118.7,269.1 119.2,268.2 119.7,265.9 120.2,269 120.7,266.5 121.2,268.2 121.7,268.5 122.2,269.4 122.7,267.4 123.2,271 123.7,270.6 124.2,273.9 124.7,282 125.2,287 125.7,291.7 126.2,303.4 126.7,312.1 127.2,306 127.7,294.8 128.2,292.7 128.7,300.3 129.2,305 129.7,298.3 130.2,280.1 130.7,271.8 131.2,269.1 131.7,271.6 132.2,269.6 132.7,267.5 133.2,272.1 133.7,268.1 134.2,269.9 134.7,271.1 135.2,269 135.7,269 136.2,269.1 136.7,269.1 137.2,269.1 137.7,269.2 138.2,269.2 138.7,269.2 139.2,269.3 139.7,269.3 140.2,269.3 140.7,269.4 141.2,269.4 141.7,269.4 142.2,269.5 142.7,269.5 143.2,269.5 143.7,269.6 144.2,269.6 144.7,269.6 145.2,269.7 145.7,269.7 146.2,269.7 146.7,269.8 147.2,269.8 147.7,269.8 148.2,269.9 148.7,269.9 149.2,269.9 149.7,270 150.2,270 150.7,270 151.2,270 151.7,270 152.2,270 152.7,270 153.2,270 153.7,270 154.2,270 154.7,270 155.2,270 155.7,270 156.2,270 156.7,270 157.2,270 157.7,270 158.2,270 158.7,270 159.2,270 159.7,270 160.2,270 160.7,270 161.2,270 161.7,270 162.2,270 162.7,270 163.2,270 163.7,270 164.2,270 164.7,270 165.2,270 165.7,270 166.2,270 166.7,270 167.2,270 167.7,270 168.2,270 168.7,270 169.2,270 169.7,270 170.2,270 170.7,270 171.2,270 171.7,270 172.2,270 172.7,270 173.2,270 173.7,270 174.2,270 174.7,270 175.2,270 175.7,270 176.2,270 176.7,270 177.2,270 177.7,270 178.2,270 178.7,270 179.2,270 179.7,270 180.2,270 180.7,270 181.2,270 181.7,270 182.2,270 182.7,270 183.2,270 183.7,270 184.2,270 184.7,270 185.2,270 185.7,270 186.2,270 186.7,270 187.2,270 187.7,270 188.2,270 188.7,270 189.2,270 189.7,270 190.2,270 190.7,270 191.2,270 191.7,270 192.2,270 192.7,270 193.2,270 193.7,270 194.2,270 194.7,270 195.2,270 195.7,270 196.2,270 196.7,270 197.2,270 197.7,270 198.2,270 198.7,270 199.2,270 199.7,270 200.2,270 200.7,270 201.2,270 201.7,270 202.2,270 202.7,270 203.2,270 203.7,270 204.2,270 204.7,270 205.2,270 205.7,270 206.2,270 206.7,270 207.2,270 207.7,270 208.2,270 208.7,270 209.2,270 209.7,270 210.2,270 210.7,270 211.2,270 211.7,270 212.2,270 212.7,270 213.2,270 213.7,270 214.2,270 214.7,270 215.2,270 215.7,270 216.2,270 216.7,270 217.2,270 217.7,270 218.2,270 218.7,270 219.2,270 219.7,270 220.2,270 220.7,270 221.2,270 221.7,270 222.2,270 222.7,270 223.2,270 223.7,270 224.2,270 224.7,270 225.2,270 225.7,270 226.2,270 226.7,270 227.2,270 227.7,270 228.2,270 228.7,270 229.2,270 229.7,270 230.2,270 230.7,270 231.2,270 231.7,270 232.2,270 232.7,270 233.2,270 233.7,270 234.2,270 234.7,270 235.2,270 235.7,270 236.2,270 236.7,270 237.2,270 237.7,270 238.2,270 238.7,270 239.2,270 239.7,270 240.2,270 240.7,270 241.2,270 241.7,270 242.2,270 242.7,270 243.2,270 243.7,270 244.2,270 244.7,270 245.2,270 245.7,270 246.2,270 246.7,270 247.2,270 247.7,270 248.2,270 248.7,270 249.2,270 249.7,270 250.2,270 250.7,270 251.2,270 251.7,270 252.2,270 252.7,270 253.2,270 253.7,270 254.2,270 254.7,270 255.2,270 255.7,270 256.2,270 256.7,270 257.2,270 257.7,270 258.2,270 258.7,270 259.2,270 259.7,270 260.2,270 260.7,270 261.2,270 261.7,270 262.2,270 262.7,270 263.2,270 263.7,270 264.2,270 264.7,270 265.2,270 265.7,270 266.2,270 266.7,270 267.2,270 267.7,270 268.2,270 268.7,270 269.2,270 269.7,270 270.2,270 270.7,270 271.2,270 271.7,270 272.2,270 272.7,270 273.2,270 273.7,270 274.2,270 274.7,270 275.2,270 275.7,270 276.2,270 276.7,270 277.2,270 277.7,270 278.2,270 278.7,270 279.2,270 279.7,270 280.2,270 280.7,270 281.2,270 281.7,270 282.2,270 282.7,270 283.2,270 283.7,270 284.2,270 284.7,270 285.2,270 285.7,270 286.2,270 286.7,270 287.2,270 287.7,270 288.2,270 288.7,270 289.2,270 289.7,270 290.2,270 290.7,270 291.2,270 291.7,270 292.2,270 292.7,270 293.2,270 293.7,270 294.2,270 294.7,270 295.2,270 295.7,270 296.2,270 296.7,270 297.2,270 297.7,270 298.2,270 298.7,270 299.2,270 299.7,270 300.2,270 300.7,270 301.2,270 301.7,270 302.2,270 302.7,270 303.2,270 303.7,270 304.2,270 304.7,270 305.2,270 305.7,270 306.2,270 306.7,270 307.2,270 307.7,270 308.2,270 308.7,270 309.2,270 309.7,270 310.2,270 310.7,270 311.2,270 311.7,270 312.2,270 312.7,270 313.2,270 313.7,270 314.2,270 314.7,270 315.2,270 315.7,270 316.2,270 316.7,270 317.2,270 317.7,270 318.2,270 318.7,270 319.2,270 319.7,270 320.2,270 320.7,270 321.2,270 321.7,270 322.2,270 322.7,270 323.2,270 323.7,270 324.2,270 324.7,270 325.2,270 325.7,270 326.2,270 326.7,270 327.2,270 327.7,270 328.2,270 328.7,270 329.2,270 329.7,270 330.2,270 330.7,270" fill="none" stroke="#0072BD" stroke-width="1.5" stroke-linejoin="round"/>
<polyline points="38.4,250.4 38.8,315.2 39.2,250.8 39.6,319.6 40,251.1 40.4,313.7 40.8,252.6 41.2,321.4 41.6,255.5 42,314.9 42.4,255.8 42.8,312.7 43.2,251.9 43.6,318.1 44,249.7 44.4,320.1 44.8,253.9 45.2,317.7" fill="none" stroke="#4DBEEE" stroke-width="1.4" stroke-linejoin="round"/>
<polyline points="45.2,300 45.7,249.2 46.2,260.5 46.7,261.8 47.2,263 47.7,264.2 48.2,264.5 48.7,267.9 49.2,268.5 49.7,269 50.2,267.8 50.7,267.5 51.2,266.7 51.7,266.2 52.2,263.7 52.7,263.8 53.2,262.5 53.7,262.6 54.2,261.5 54.7,264.1 55.2,264.8 55.7,267.2 56.2,268.1 56.7,268.8 57.2,267 57.7,265.5 58.2,268.6 58.7,266.2 59.2,265.3 59.7,264.9 60.2,263.7 60.7,266 61.2,266 61.7,267.5 62.2,267.3 62.7,267.4 63.2,268.1 63.7,266.9 64.2,267 64.7,267.7 65.2,266.5 65.7,267.1 66.2,266.4 66.7,266.9 67.2,265.7 67.7,263.3 68.2,264.8 68.7,265.7 69.2,261.9 69.7,262.5 70.2,263.1 70.7,262 71.2,263.1 71.7,264 72.2,262.9 72.7,264.9 73.2,265.3 73.7,263.9 74.2,265.5 74.7,266.9 75.2,265.7 75.7,266.1 76.2,266.1 76.7,265 77.2,266.1 77.7,265.3 78.2,263.7 78.7,265 79.2,265.1 79.7,264.9 80.2,263.5 80.7,265 81.2,266.3 81.7,265.6 82.2,266.9 82.7,267.4 83.2,266.5 83.7,267.6 84.2,267 84.7,268.8 85.2,267.8 85.7,267 86.2,267.2 86.7,266.9 87.2,267 87.7,266.8 88.2,264.9 88.7,265.1 89.2,265.8 89.7,265.6 90.2,265.3 90.7,268.3 91.2,267.3 91.7,266.6 92.2,267.9 92.7,269 93.2,268.6 93.7,266.9 94.2,269.3 94.7,269.7 95.2,272.8 95.7,270.6 96.2,275.7 96.7,275.8 97.2,278.6 97.7,279.1 98.2,281.3 98.7,284 99.2,284.7 99.7,285.8 100.2,278.6 100.7,277 101.2,283.2 101.7,288.9 102.2,295.3 102.7,289.1 103.2,275.5 103.7,268.3 104.2,269.7 104.7,271.2 105.2,270.3 105.7,270.4 106.2,270.1 106.7,267.9 107.2,268.5 107.7,265.5 108.2,267.6 108.7,269.2 109.2,267.4 109.7,267.2 110.2,268.4 110.7,270.3 111.2,271.6 111.7,273.4 112.2,272.4 112.7,269.4 113.2,268.6 113.7,271 114.2,271.8 114.7,269.1 115.2,270.1 115.7,270.1 116.2,270.6 116.7,270.3 117.2,270.9 117.7,271.4 118.2,270.3 118.7,271 119.2,272.1 119.7,269.1 120.2,269 120.7,270.6 121.2,272 121.7,270.3 122.2,271.3 122.7,269.9 123.2,271.1 123.7,269.6 124.2,271 124.7,270.7 125.2,270.7 125.7,271.7 126.2,271.5 126.7,269.8 127.2,271.3 127.7,268.8 128.2,271.5 128.7,273.3 129.2,271.1 129.7,271.1 130.2,270.7 130.7,271.4 131.2,270.2 131.7,271.3 132.2,270.3 132.7,270.2 133.2,270.7 133.7,270.6 134.2,268.9 134.7,272.7 135.2,270.8 135.7,268.9 136.2,271.7 136.7,270.6 137.2,270.8 137.7,271.3 138.2,269.7 138.7,267.7 139.2,270.5 139.7,270.9 140.2,270.5 140.7,270.5 141.2,270.5 141.7,270.5 142.2,270.5 142.7,270.5 143.2,270.5 143.7,270.5 144.2,270.5 144.7,270.5 145.2,270.5 145.7,270.5 146.2,270.5 146.7,270.5 147.2,270.5 147.7,270.5 148.2,270.5 148.7,270.5 149.2,270.5 149.7,270.5 150.2,270.5 150.7,270.5 151.2,270.5 151.7,270.5 152.2,270.5 152.7,270.5 153.2,270.5 153.7,270.5 154.2,270.5 154.7,270.5 155.2,270.5 155.7,270.5 156.2,270.5 156.7,270.5 157.2,270.5 157.7,270.5 158.2,270.5 158.7,270.5 159.2,270.5 159.7,270.5 160.2,270.5 160.7,270.5 161.2,270.5 161.7,270.5 162.2,270.5 162.7,270.5 163.2,270.5 163.7,270.5 164.2,270.5 164.7,270.5 165.2,270.5 165.7,270.5 166.2,270.5 166.7,270.5 167.2,270.5 167.7,270.5 168.2,270.5 168.7,270.5 169.2,270.5 169.7,270.5 170.2,270.5 170.7,270.5 171.2,270.5 171.7,270.5 172.2,270.5 172.7,270.5 173.2,270.5 173.7,270.5 174.2,270.5 174.7,270.5 175.2,270.5 175.7,270.5 176.2,270.5 176.7,270.5 177.2,270.5 177.7,270.5 178.2,270.5 178.7,270.5 179.2,270.5 179.7,270.5 180.2,270.5 180.7,270.5 181.2,270.5 181.7,270.5 182.2,270.5 182.7,270.5 183.2,270.5 183.7,270.5 184.2,270.5 184.7,270.5 185.2,270.5 185.7,270.5 186.2,270.5 186.7,270.5 187.2,270.5 187.7,270.5 188.2,270.5 188.7,270.5 189.2,270.5 189.7,270.5 190.2,270.5 190.7,270.5 191.2,270.5 191.7,270.5 192.2,270.5 192.7,270.5 193.2,270.5 193.7,270.5 194.2,270.5 194.7,270.5 195.2,270.5 195.7,270.5 196.2,270.5 196.7,270.5 197.2,270.5 197.7,270.5 198.2,270.5 198.7,270.5 199.2,270.5 199.7,270.5 200.2,270.5 200.7,270.5 201.2,270.5 201.7,270.5 202.2,270.5 202.7,270.5 203.2,270.5 203.7,270.5 204.2,270.5 204.7,270.5 205.2,270.5 205.7,270.5 206.2,270.5 206.7,270.5 207.2,270.5 207.7,270.5 208.2,270.5 208.7,270.5 209.2,270.5 209.7,270.5 210.2,270.5 210.7,270.5 211.2,270.5 211.7,270.5 212.2,270.5 212.7,270.5 213.2,270.5 213.7,270.5 214.2,270.5 214.7,270.5 215.2,270.5 215.7,270.5 216.2,270.5 216.7,270.5 217.2,270.5 217.7,270.5 218.2,270.5 218.7,270.5 219.2,270.5 219.7,270.5 220.2,270.5 220.7,270.5 221.2,270.5 221.7,270.5 222.2,270.5 222.7,270.5 223.2,270.5 223.7,270.5 224.2,270.5 224.7,270.5 225.2,270.5 225.7,270.5 226.2,270.5 226.7,270.5 227.2,270.5 227.7,270.5 228.2,270.5 228.7,270.5 229.2,270.5 229.7,270.5 230.2,270.5 230.7,270.5 231.2,270.5 231.7,270.5 232.2,270.5 232.7,270.5 233.2,270.5 233.7,270.5 234.2,270.5 234.7,270.5 235.2,270.5 235.7,270.5 236.2,270.5 236.7,270.5 237.2,270.5 237.7,270.5 238.2,270.5 238.7,270.5 239.2,270.5 239.7,270.5 240.2,270.5 240.7,270.5 241.2,270.5 241.7,270.5 242.2,270.5 242.7,270.5 243.2,270.5 243.7,270.5 244.2,270.5 244.7,270.5 245.2,270.5 245.7,270.5 246.2,270.5 246.7,270.5 247.2,270.5 247.7,270.5 248.2,270.5 248.7,270.5 249.2,270.5 249.7,270.5 250.2,270.5 250.7,270.5 251.2,270.5 251.7,270.5 252.2,270.5 252.7,270.5 253.2,270.5 253.7,270.5 254.2,270.5 254.7,270.5 255.2,270.5 255.7,270.5 256.2,270.5 256.7,270.5 257.2,270.5 257.7,270.5 258.2,270.5 258.7,270.5 259.2,270.5 259.7,270.5 260.2,270.5 260.7,270.5 261.2,270.5 261.7,270.5 262.2,270.5 262.7,270.5 263.2,270.5 263.7,270.5 264.2,270.5 264.7,270.5 265.2,270.5 265.7,270.5 266.2,270.5 266.7,270.5 267.2,270.5 267.7,270.5 268.2,270.5 268.7,270.5 269.2,270.5 269.7,270.5 270.2,270.5 270.7,270.5 271.2,270.5 271.7,270.5 272.2,270.5 272.7,270.5 273.2,270.5 273.7,270.5 274.2,270.5 274.7,270.5 275.2,270.5 275.7,270.5 276.2,270.5 276.7,270.5 277.2,270.5 277.7,270.5 278.2,270.5 278.7,270.5 279.2,270.5 279.7,270.5 280.2,270.5 280.7,270.5 281.2,270.5 281.7,270.5 282.2,270.5 282.7,270.5 283.2,270.5 283.7,270.5 284.2,270.5 284.7,270.5 285.2,270.5 285.7,270.5 286.2,270.5 286.7,270.5 287.2,270.5 287.7,270.5 288.2,270.5 288.7,270.5 289.2,270.5 289.7,270.5 290.2,270.5 290.7,270.5 291.2,270.5 291.7,270.5 292.2,270.5 292.7,270.5 293.2,270.5 293.7,270.5 294.2,270.5 294.7,270.5 295.2,270.5 295.7,270.5 296.2,270.5 296.7,270.5 297.2,270.5 297.7,270.5 298.2,270.5 298.7,270.5 299.2,270.5 299.7,270.5 300.2,270.5 300.7,270.5 301.2,270.5 301.7,270.5 302.2,270.5 302.7,270.5 303.2,270.5 303.7,270.5 304.2,270.5 304.7,270.5 305.2,270.5 305.7,270.5 306.2,270.5 306.7,270.5 307.2,270.5 307.7,270.5 308.2,270.5 308.7,270.5 309.2,270.5 309.7,270.5 310.2,270.5 310.7,270.5 311.2,270.5 311.7,270.5 312.2,270.5 312.7,270.5 313.2,270.5 313.7,270.5 314.2,270.5 314.7,270.5 315.2,270.5 315.7,270.5 316.2,270.5 316.7,270.5 317.2,270.5 317.7,270.5 318.2,270.5 318.7,270.5 319.2,270.5 319.7,270.5 320.2,270.5 320.7,270.5 321.2,270.5 321.7,270.5 322.2,270.5 322.7,270.5 323.2,270.5 323.7,270.5 324.2,270.5 324.7,270.5 325.2,270.5 325.7,270.5 326.2,270.5 326.7,270.5 327.2,270.5 327.7,270.5 328.2,270.5 328.7,270.5 329.2,270.5 329.7,270.5 330.2,270.5 330.7,270.5" fill="none" stroke="#4DBEEE" stroke-width="1.5" stroke-linejoin="round"/>
<polyline points="38.8,318 39.5,292 40.2,318 41,295 41.8,318 42.5,300" fill="none" stroke="#77AC30" stroke-width="1.3" stroke-linejoin="round"/>
<polyline points="38.2,409.3 39.4,361.6 40.5,334.5 42,325 43.5,310 44.3,290 44.8,266.4 45.6,266 46.2,300 45.8,320 46.6,285 47.2,268 47.7,300 48.3,283 50,283.5 51.6,284 52.1,268.6 52.8,286.8 53.4,270 54,286.8 54.7,281.4 57,278 59.4,275 62.9,273.4 70,273 331,272.9" fill="none" stroke="#111" stroke-width="1.6" stroke-linejoin="round"/>
<polyline points="40.5,334.5 42,325 43.5,310 44.3,290 44.8,270" fill="none" stroke="#111" stroke-width="2.6" stroke-linejoin="round"/>
<polyline points="52.1,270 52.8,286.8 53.4,271 54,286" fill="none" stroke="#111" stroke-width="2.2" stroke-linejoin="round"/>
</g>
<rect x="38.2" y="232.7" width="293" height="176.6" fill="none" stroke="#262626" stroke-width="1.1"/>
<path d="M96.8 409.3v-3M96.8 232.7v3M155.4 409.3v-3M155.4 232.7v3M214 409.3v-3M214 232.7v3M272.6 409.3v-3M272.6 232.7v3M38.2 409.3h3M331.2 409.3h-3M38.2 379.87h3M331.2 379.87h-3M38.2 350.43h3M331.2 350.43h-3M38.2 321h3M331.2 321h-3M38.2 291.56h3M331.2 291.56h-3M38.2 262.13h3M331.2 262.13h-3M38.2 232.7h3M331.2 232.7h-3" stroke="#262626" stroke-width="1" fill="none"/>
<text x="38.2" y="424.7" font-size="10.0" text-anchor="middle" font-weight="bold" font-family="Liberation Sans" fill="#262626">0</text>
<text x="96.8" y="424.7" font-size="10.0" text-anchor="middle" font-weight="bold" font-family="Liberation Sans" fill="#262626">0.2</text>
<text x="155.4" y="424.7" font-size="10.0" text-anchor="middle" font-weight="bold" font-family="Liberation Sans" fill="#262626">0.4</text>
<text x="214" y="424.7" font-size="10.0" text-anchor="middle" font-weight="bold" font-family="Liberation Sans" fill="#262626">0.6</text>
<text x="272.6" y="424.7" font-size="10.0" text-anchor="middle" font-weight="bold" font-family="Liberation Sans" fill="#262626">0.8</text>
<text x="331.2" y="424.7" font-size="10.0" text-anchor="middle" font-weight="bold" font-family="Liberation Sans" fill="#262626">1</text>
<text x="32.5" y="413.7" font-size="10.0" text-anchor="end" font-weight="bold" font-family="Liberation Sans" fill="#262626">0</text>
<text x="32.5" y="384.27" font-size="10.0" text-anchor="end" font-weight="bold" font-family="Liberation Sans" fill="#262626">20</text>
<text x="32.5" y="354.83" font-size="10.0" text-anchor="end" font-weight="bold" font-family="Liberation Sans" fill="#262626">40</text>
<text x="32.5" y="325.4" font-size="10.0" text-anchor="end" font-weight="bold" font-family="Liberation Sans" fill="#262626">60</text>
<text x="32.5" y="295.96" font-size="10.0" text-anchor="end" font-weight="bold" font-family="Liberation Sans" fill="#262626">80</text>
<text x="32.5" y="266.53" font-size="10.0" text-anchor="end" font-weight="bold" font-family="Liberation Sans" fill="#262626">100</text>
<text x="32.5" y="237.1" font-size="10.0" text-anchor="end" font-weight="bold" font-family="Liberation Sans" fill="#262626">120</text>
<text transform="translate(13.21,321.6) rotate(-90)" font-size="11.7" text-anchor="middle" font-weight="bold" font-family="Liberation Sans" fill="#1a1a1a">PV voltage(V)</text>
<text x="186.9" y="437.4" font-size="12.3" text-anchor="middle" font-weight="bold" font-family="Liberation Sans" fill="#1a1a1a">time(sec)</text>
<text x="187.5" y="454.6" font-size="12.0" text-anchor="middle" font-weight="bold" font-family="Liberation Serif" fill="#111">(b)</text>
<rect x="234.2" y="286.3" width="82.3" height="89.3" fill="#fff" stroke="#34409E" stroke-width="1.1"/>
<line x1="237.4" y1="293.9" x2="261.9" y2="293.9" stroke="#0072BD" stroke-width="1.1"/>
<text x="265.1" y="297.14" font-size="9.0" text-anchor="start" font-weight="bold" font-family="Liberation Sans" fill="#1a1a1a">ANFIS</text>
<line x1="237.4" y1="306.18" x2="261.9" y2="306.18" stroke="#D95319" stroke-width="1.6"/>
<text x="265.1" y="309.42" font-size="9.0" text-anchor="start" font-weight="bold" font-family="Liberation Sans" fill="#1a1a1a">P&amp;O-PSO</text>
<line x1="237.4" y1="318.46" x2="251.65" y2="318.46" stroke="#F6CFA0" stroke-width="1.3"/>
<line x1="251.65" y1="318.46" x2="261.9" y2="318.46" stroke="#EE8A12" stroke-width="1.3"/>
<text x="265.1" y="321.7" font-size="9.0" text-anchor="start" font-weight="bold" font-family="Liberation Sans" fill="#1a1a1a">VSS-FC</text>
<line x1="237.4" y1="330.74" x2="261.9" y2="330.74" stroke="#7E2F8E" stroke-width="1.1"/>
<text x="265.1" y="333.98" font-size="9.0" text-anchor="start" font-weight="bold" font-family="Liberation Sans" fill="#1a1a1a">MHC-FLC</text>
<line x1="237.4" y1="343.02" x2="261.9" y2="343.02" stroke="#77AC30" stroke-width="1.2"/>
<text x="265.1" y="346.26" font-size="9.0" text-anchor="start" font-weight="bold" font-family="Liberation Sans" fill="#1a1a1a">VSS-INR</text>
<line x1="237.4" y1="355.3" x2="261.9" y2="355.3" stroke="#4DBEEE" stroke-width="1.3"/>
<text x="265.1" y="358.54" font-size="9.0" text-anchor="start" font-weight="bold" font-family="Liberation Sans" fill="#1a1a1a">ACS</text>
<line x1="237.4" y1="367.58" x2="261.9" y2="367.58" stroke="#1a1a1a" stroke-width="1.1"/>
<text x="265.1" y="370.82" font-size="9.0" text-anchor="start" font-weight="bold" font-family="Liberation Sans" fill="#1a1a1a">VSS-RBFN</text>
<text x="150.2" y="331.8" font-size="9.9" text-anchor="middle" font-weight="bold" font-family="Liberation Sans" fill="#1a1a1a">Partial Shading Condition-2</text>
<text x="145.5" y="348.4" font-size="9.9" text-anchor="middle" font-weight="bold" font-family="Liberation Sans" fill="#1a1a1a" letter-spacing="0.11">1000W/m<tspan font-size="7.13" dy="-4.95" dx="0.79">2</tspan><tspan dy="4.95">, 800W/m</tspan><tspan font-size="7.13" dy="-4.95" dx="0.79">2</tspan><tspan dy="4.95">, and 700W/m</tspan><tspan font-size="7.13" dy="-4.95" dx="0.79">2</tspan></text>
<path d="M452.72 230V401.3M510.04 230V401.3M567.36 230V401.3M624.68 230V401.3M395.4 383.15H682M395.4 365H682M395.4 346.85H682M395.4 328.7H682M395.4 310.55H682M395.4 292.4H682M395.4 274.25H682M395.4 256.1H682M395.4 237.95H682" stroke="#D6D6D6" stroke-width="0.8" fill="none"/>
<g clip-path="url(#clipe)">
<polyline points="395.4,401.3 395.9,390.2 396.4,380 396.9,370.5 397.4,361.8 397.9,353.7 398.4,346.2 398.9,339.3 399.4,333 399.9,327.1 400.4,321.7 400.9,316.6 401.4,312 401.9,307.7 402.4,303.7 402.9,300.1 403.4,296.7 403.9,293.6 404.4,290.7 404.9,288 405.4,285.6 405.9,283.3 406.4,281.2 406.9,279.3 407.4,277.5 407.9,275.8 408.4,274.3 408.9,272.9 409.4,271.6 409.9,270.3 410.4,269.2 410.9,268.2 411.4,267.3 411.9,266.4 412.4,265.6 412.9,264.8 413.4,264.1 413.9,263.5 414.4,262.9 414.9,262.3 415.4,261.8 415.9,261.4 416.4,260.9 416.9,260.5 417.4,260.2 417.9,259.8 418.4,259.5 418.9,259.2 419.4,259 419.9,258.7 420.4,258.5 420.9,258.3 421.4,258.1 421.9,257.9 422.4,257.7 422.9,257.6 423.4,257.4 423.9,257.3 424.4,257.2 424.9,257.1 425.4,257 425.9,256.9 426.4,256.8 426.9,256.7 427.4,256.6 427.9,256.5 428.4,256.5 428.9,256.4 429.4,256.4 429.9,256.3 430.4,256.3 430.9,256.2 431.4,256.2 431.9,256.1 432.4,256.1 432.9,256.1 433.4,256.1 433.9,256 434.4,256 434.9,256 435.4,256 435.9,255.9 436.4,255.9 436.9,255.9 437.4,255.9 437.9,255.9 438.4,255.9 438.9,255.8 439.4,255.8 439.9,255.8 440.4,255.8 440.9,255.8 441.4,255.8 441.9,255.8 442.4,255.8 442.9,255.8 443.4,255.8 443.9,255.8 444.4,255.8 444.9,255.8 445.4,255.8 445.9,255.7 446.4,255.7 446.9,255.7 447.4,255.7 447.9,255.7 448.4,255.7 448.9,255.7 449.4,255.7 449.9,255.7 450.4,255.7 450.9,255.7 451.4,255.7 451.9,255.7 452.4,255.7 452.9,255.7 453.4,255.7 453.9,255.7 454.4,255.7 454.9,255.7 455.4,255.7 455.9,255.7 456.4,255.7 456.9,255.7 457.4,255.7 457.9,255.7 458.4,255.7 458.9,255.7 459.4,255.7 459.9,255.7 460.4,255.7 460.9,255.7 461.4,255.7 461.9,255.7 462.4,255.7 462.9,255.7 463.4,255.7 463.9,255.7 464.4,255.7 464.9,255.7 465.4,255.7 465.9,255.7 466.4,255.7 466.9,255.7 467.4,255.7 467.9,255.7 468.4,255.7 468.9,255.7 469.4,255.7 469.9,255.7 470.4,255.7 470.9,255.7 471.4,255.7 471.9,255.7 472.4,255.7 472.9,255.7 473.4,255.7 473.9,255.7 474.4,255.7 474.9,255.7 475.4,255.7 475.9,255.7 476.4,255.7 476.9,255.7 477.4,255.7 477.9,255.7 478.4,255.7 478.9,255.7 479.4,255.7 479.9,255.7 480.4,255.7 480.9,255.7 481.4,255.7 481.9,255.7 482.4,255.7 482.9,255.7 483.4,255.7 483.9,255.7 484.4,255.7 484.9,255.7 485.4,255.7 485.9,255.7 486.4,255.7 486.9,255.7 487.4,255.7 487.9,255.7 488.4,255.7 488.9,255.7 489.4,255.7 489.9,255.7 490.4,255.7 490.9,255.7 491.4,255.7 491.9,255.7 492.4,255.7 492.9,255.7 493.4,255.7 493.9,255.7 494.4,255.7 494.9,255.7 495.4,255.7 495.9,255.7 496.4,255.7 496.9,255.7 497.4,255.7 497.9,255.7 498.4,255.7 498.9,255.7 499.4,255.7 499.9,255.7 500.4,255.7 500.9,255.7 501.4,255.7 501.9,255.7 502.4,255.7 502.9,255.7 503.4,255.7 503.9,255.7 504.4,255.7 504.9,255.7 505.4,255.7 505.9,255.7 506.4,255.7 506.9,255.7 507.4,255.7 507.9,255.7 508.4,255.7 508.9,255.7 509.4,255.7 509.9,255.7 510.4,255.7 510.9,255.7 511.4,255.7 511.9,255.7 512.4,255.7 512.9,255.7 513.4,255.7 513.9,255.7 514.4,255.7 514.9,255.7 515.4,255.7 515.9,255.7 516.4,255.7 516.9,255.7 517.4,255.7 517.9,255.7 518.4,255.7 518.9,255.7 519.4,255.7 519.9,255.7 520.4,255.7 520.9,255.7 521.4,255.7 521.9,255.7 522.4,255.7 522.9,255.7 523.4,255.7 523.9,255.7 524.4,255.7 524.9,255.7 525.4,255.7 525.9,255.7 526.4,255.7 526.9,255.7 527.4,255.7 527.9,255.7 528.4,255.7 528.9,255.7 529.4,255.7 529.9,255.7 530.4,255.7 530.9,255.7 531.4,255.7 531.9,255.7 532.4,255.7 532.9,255.7 533.4,255.7 533.9,255.7 534.4,255.7 534.9,255.7 535.4,255.7 535.9,255.7 536.4,255.7 536.9,255.7 537.4,255.7 537.9,255.7 538.4,255.7 538.9,255.7 539.4,255.7 539.9,255.7 540.4,255.7 540.9,255.7 541.4,255.7 541.9,255.7 542.4,255.7 542.9,255.7 543.4,255.7 543.9,255.7 544.4,255.7 544.9,255.7 545.4,255.7 545.9,255.7 546.4,255.7 546.9,255.7 547.4,255.7 547.9,255.7 548.4,255.7 548.9,255.7 549.4,255.7 549.9,255.7 550.4,255.7 550.9,255.7 551.4,255.7 551.9,255.7 552.4,255.7 552.9,255.7 553.4,255.7 553.9,255.7 554.4,255.7 554.9,255.7 555.4,255.7 555.9,255.7 556.4,255.7 556.9,255.7 557.4,255.7 557.9,255.7 558.4,255.7 558.9,255.7 559.4,255.7 559.9,255.7 560.4,255.7 560.9,255.7 561.4,255.7 561.9,255.7 562.4,255.7 562.9,255.7 563.4,255.7 563.9,255.7 564.4,255.7 564.9,255.7 565.4,255.7 565.9,255.7 566.4,255.7 566.9,255.7 567.4,255.7 567.9,255.7 568.4,255.7 568.9,255.7 569.4,255.7 569.9,255.7 570.4,255.7 570.9,255.7 571.4,255.7 571.9,255.7 572.4,255.7 572.9,255.7 573.4,255.7 573.9,255.7 574.4,255.7 574.9,255.7 575.4,255.7 575.9,255.7 576.4,255.7 576.9,255.7 577.4,255.7 577.9,255.7 578.4,255.7 578.9,255.7 579.4,255.7 579.9,255.7 580.4,255.7 580.9,255.7 581.4,255.7 581.9,255.7 582.4,255.7 582.9,255.7 583.4,255.7 583.9,255.7 584.4,255.7 584.9,255.7 585.4,255.7 585.9,255.7 586.4,255.7 586.9,255.7 587.4,255.7 587.9,255.7 588.4,255.7 588.9,255.7 589.4,255.7 589.9,255.7 590.4,255.7 590.9,255.7 591.4,255.7 591.9,255.7 592.4,255.7 592.9,255.7 593.4,255.7 593.9,255.7 594.4,255.7 594.9,255.7 595.4,255.7 595.9,255.7 596.4,255.7 596.9,255.7 597.4,255.7 597.9,255.7 598.4,255.7 598.9,255.7 599.4,255.7 599.9,255.7 600.4,255.7 600.9,255.7 601.4,255.7 601.9,255.7 602.4,255.7 602.9,255.7 603.4,255.7 603.9,255.7 604.4,255.7 604.9,255.7 605.4,255.7 605.9,255.7 606.4,255.7 606.9,255.7 607.4,255.7 607.9,255.7 608.4,255.7 608.9,255.7 609.4,255.7 609.9,255.7 610.4,255.7 610.9,255.7 611.4,255.7 611.9,255.7 612.4,255.7 612.9,255.7 613.4,255.7 613.9,255.7 614.4,255.7 614.9,255.7 615.4,255.7 615.9,255.7 616.4,255.7 616.9,255.7 617.4,255.7 617.9,255.7 618.4,255.7 618.9,255.7 619.4,255.7 619.9,255.7 620.4,255.7 620.9,255.7 621.4,255.7 621.9,255.7 622.4,255.7 622.9,255.7 623.4,255.7 623.9,255.7 624.4,255.7 624.9,255.7 625.4,255.7 625.9,255.7 626.4,255.7 626.9,255.7 627.4,255.7 627.9,255.7 628.4,255.7 628.9,255.7 629.4,255.7 629.9,255.7 630.4,255.7 630.9,255.7 631.4,255.7 631.9,255.7 632.4,255.7 632.9,255.7 633.4,255.7 633.9,255.7 634.4,255.7 634.9,255.7 635.4,255.7 635.9,255.7 636.4,255.7 636.9,255.7 637.4,255.7 637.9,255.7 638.4,255.7 638.9,255.7 639.4,255.7 639.9,255.7 640.4,255.7 640.9,255.7 641.4,255.7 641.9,255.7 642.4,255.7 642.9,255.7 643.4,255.7 643.9,255.7 644.4,255.7 644.9,255.7 645.4,255.7 645.9,255.7 646.4,255.7 646.9,255.7 647.4,255.7 647.9,255.7 648.4,255.7 648.9,255.7 649.4,255.7 649.9,255.7 650.4,255.7 650.9,255.7 651.4,255.7 651.9,255.7 652.4,255.7 652.9,255.7 653.4,255.7 653.9,255.7 654.4,255.7 654.9,255.7 655.4,255.7 655.9,255.7 656.4,255.7 656.9,255.7 657.4,255.7 657.9,255.7 658.4,255.7 658.9,255.7 659.4,255.7 659.9,255.7 660.4,255.7 660.9,255.7 661.4,255.7 661.9,255.7 662.4,255.7 662.9,255.7 663.4,255.7 663.9,255.7 664.4,255.7 664.9,255.7 665.4,255.7 665.9,255.7 666.4,255.7 666.9,255.7 667.4,255.7 667.9,255.7 668.4,255.7 668.9,255.7 669.4,255.7 669.9,255.7 670.4,255.7 670.9,255.7 671.4,255.7 671.9,255.7 672.4,255.7 672.9,255.7 673.4,255.7 673.9,255.7 674.4,255.7 674.9,255.7 675.4,255.7 675.9,255.7 676.4,255.7 676.9,255.7 677.4,255.7 677.9,255.7 678.4,255.7 678.9,255.7 679.4,255.7 679.9,255.7 680.4,255.7 680.9,255.7 681.4,255.7 681.9,255.7" fill="none" stroke="#D95319" stroke-width="1.7" stroke-linejoin="round"/>
<polyline points="395.4,401.3 395.9,391.5 396.4,381.7 396.9,372 397.4,364 397.9,356.5 398.4,349 398.9,341.5 399.4,336.7 399.9,332.5 400.4,328.3 400.9,324.2 401.4,320 401.9,315.8 402.4,312.7 402.9,309.9 403.4,307.1 403.9,304.2 404.4,301.4 404.9,298.6 405.4,296.7 405.9,295.1 406.4,293.5 406.9,291.8 407.4,290.2 407.9,288.6 408.4,287 408.9,285.3 409.4,284.1 409.9,282.9 410.4,281.7 410.9,280.6 411.4,279.4 411.9,278.2 412.4,277.2 412.9,276.2 413.4,275.2 413.9,274.2 414.4,273.2 414.9,272.2 415.4,271.6 415.9,271.1 416.4,270.6 416.9,270.1 417.4,271.3 417.9,273 418.4,274.7 418.9,273.1 419.4,270.8 419.9,268.5 420.4,267.2 420.9,266.2 421.4,265.2 421.9,264.2 422.4,263.2 422.9,262.2 423.4,261.6 423.9,261.1 424.4,260.6 424.9,260.1 425.4,259.6 425.9,259.1 426.4,258.6 426.9,258.1 427.4,257.6 427.9,257.1 428.4,256.6 428.9,256.1 429.4,255.6 429.9,255.1 430.4,254.6 430.9,254.1 431.4,253.6 431.9,253.1 432.4,252.9 432.9,252.7 433.4,252.5 433.9,252.3 434.4,252.1 434.9,251.9 435.4,251.7 435.9,251.5 436.4,251.4 436.9,251.2 437.4,251 437.9,250.8 438.4,250.6 438.9,250.4 439.4,250.2 439.9,250 440.4,249.9 440.9,249.8 441.4,249.7 441.9,249.6 442.4,249.5 442.9,249.4 443.4,249.3 443.9,249.2 444.4,249.1 444.9,249 445.4,248.9 445.9,248.8 446.4,248.7 446.9,248.6 447.4,248.5 447.9,248.4 448.4,248.3 448.9,248.2 449.4,248.1 449.9,248 450.4,248 450.9,247.9 451.4,247.9 451.9,247.9 452.4,247.8 452.9,247.8 453.4,247.7 453.9,247.7 454.4,247.7 454.9,247.6 455.4,247.6 455.9,247.6 456.4,247.5 456.9,247.5 457.4,247.4 457.9,247.4 458.4,247.4 458.9,247.3 459.4,247.3 459.9,247.3 460.4,247.2 460.9,247.2 461.4,247.1 461.9,247.1 462.4,247.1 462.9,247 463.4,247 463.9,247 464.4,246.9 464.9,246.9 465.4,246.8 465.9,246.8 466.4,246.8 466.9,246.7 467.4,246.7 467.9,246.7 468.4,246.6 468.9,246.6 469.4,246.5 469.9,246.5 470.4,246.5 470.9,246.5 471.4,246.5 471.9,246.5 472.4,246.5 472.9,246.5 473.4,246.5 473.9,246.5 474.4,246.5 474.9,246.5 475.4,246.5 475.9,246.5 476.4,246.5 476.9,246.5 477.4,246.5 477.9,246.5 478.4,246.5 478.9,246.5 479.4,246.5 479.9,246.5 480.4,246.5 480.9,246.5 481.4,246.5 481.9,246.5 482.4,246.5 482.9,246.5 483.4,246.5 483.9,246.5 484.4,246.5 484.9,246.5 485.4,246.4 485.9,246.4 486.4,246.4 486.9,246.4 487.4,246.4 487.9,246.4 488.4,246.4 488.9,246.4 489.4,246.4 489.9,246.4 490.4,246.4 490.9,246.4 491.4,246.4 491.9,246.4 492.4,246.4 492.9,246.4 493.4,246.4 493.9,246.4 494.4,246.4 494.9,246.4 495.4,246.4 495.9,246.4 496.4,246.4 496.9,246.4 497.4,246.4 497.9,246.4 498.4,246.4 498.9,246.4 499.4,246.4 499.9,246.4 500.4,246.4 500.9,246.4 501.4,246.4 501.9,246.4 502.4,246.4 502.9,246.4 503.4,246.4 503.9,246.4 504.4,246.4 504.9,246.4 505.4,246.4 505.9,246.4 506.4,246.4 506.9,246.4 507.4,246.4 507.9,246.4 508.4,246.4 508.9,246.4 509.4,246.4 509.9,246.4 510.4,246.4 510.9,246.4 511.4,246.4 511.9,246.4 512.4,246.4 512.9,246.4 513.4,246.4 513.9,246.4 514.4,246.4 514.9,246.4 515.4,246.4 515.9,246.3 516.4,246.3 516.9,246.3 517.4,246.3 517.9,246.3 518.4,246.3 518.9,246.3 519.4,246.3 519.9,246.3 520.4,246.3 520.9,246.3 521.4,246.3 521.9,246.3 522.4,246.3 522.9,246.3 523.4,246.3 523.9,246.3 524.4,246.3 524.9,246.3 525.4,246.3 525.9,246.3 526.4,246.3 526.9,246.3 527.4,246.3 527.9,246.3 528.4,246.3 528.9,246.3 529.4,246.3 529.9,246.3 530.4,246.3 530.9,246.3 531.4,246.3 531.9,246.3 532.4,246.3 532.9,246.3 533.4,246.3 533.9,246.3 534.4,246.3 534.9,246.3 535.4,246.3 535.9,246.3 536.4,246.3 536.9,246.3 537.4,246.3 537.9,246.3 538.4,246.3 538.9,246.3 539.4,246.3 539.9,246.3 540.4,246.3 540.9,246.3 541.4,246.3 541.9,246.3 542.4,246.3 542.9,246.3 543.4,246.3 543.9,246.3 544.4,246.3 544.9,246.3 545.4,246.3 545.9,246.2 546.4,246.2 546.9,246.2 547.4,246.2 547.9,246.2 548.4,246.2 548.9,246.2 549.4,246.2 549.9,246.2 550.4,246.2 550.9,246.2 551.4,246.2 551.9,246.2 552.4,246.2 552.9,246.2 553.4,246.2 553.9,246.2 554.4,246.2 554.9,246.2 555.4,246.2 555.9,246.2 556.4,246.2 556.9,246.2 557.4,246.2 557.9,246.2 558.4,246.2 558.9,246.2 559.4,246.2 559.9,246.2 560.4,246.2 560.9,246.2 561.4,246.2 561.9,246.2 562.4,246.2 562.9,246.2 563.4,246.2 563.9,246.2 564.4,246.2 564.9,246.2 565.4,246.2 565.9,246.2 566.4,246.2 566.9,246.2 567.4,246.2 567.9,246.2 568.4,246.2 568.9,246.2 569.4,246.2 569.9,246.2 570.4,246.2 570.9,246.2 571.4,246.2 571.9,246.2 572.4,246.2 572.9,246.2 573.4,246.2 573.9,246.2 574.4,246.2 574.9,246.2 575.4,246.2 575.9,246.2 576.4,246.1 576.9,246.1 577.4,246.1 577.9,246.1 578.4,246.1 578.9,246.1 579.4,246.1 579.9,246.1 580.4,246.1 580.9,246.1 581.4,246.1 581.9,246.1 582.4,246.1 582.9,246.1 583.4,246.1 583.9,246.1 584.4,246.1 584.9,246.1 585.4,246.1 585.9,246.1 586.4,246.1 586.9,246.1 587.4,246.1 587.9,246.1 588.4,246.1 588.9,246.1 589.4,246.1 589.9,246.1 590.4,246.1 590.9,246.1 591.4,246.1 591.9,246.1 592.4,246.1 592.9,246.1 593.4,246.1 593.9,246.1 594.4,246.1 594.9,246.1 595.4,246.1 595.9,246.1 596.4,246.1 596.9,246.1 597.4,246.1 597.9,246.1 598.4,246.1 598.9,246.1 599.4,246.1 599.9,246.1 600.4,246.1 600.9,246.1 601.4,246.1 601.9,246.1 602.4,246.1 602.9,246.1 603.4,246.1 603.9,246.1 604.4,246.1 604.9,246.1 605.4,246.1 605.9,246.1 606.4,246 606.9,246 607.4,246 607.9,246 608.4,246 608.9,246 609.4,246 609.9,246 610.4,246 610.9,246 611.4,246 611.9,246 612.4,246 612.9,246 613.4,246 613.9,246 614.4,246 614.9,246 615.4,246 615.9,246 616.4,246 616.9,246 617.4,246 617.9,246 618.4,246 618.9,246 619.4,246 619.9,246 620.4,246 620.9,246 621.4,246 621.9,246 622.4,246 622.9,246 623.4,246 623.9,246 624.4,246 624.9,246 625.4,246 625.9,246 626.4,246 626.9,246 627.4,246 627.9,246 628.4,246 628.9,246 629.4,246 629.9,246 630.4,246 630.9,246 631.4,246 631.9,246 632.4,246 632.9,246 633.4,246 633.9,246 634.4,246 634.9,246 635.4,246 635.9,246 636.4,246 636.9,245.9 637.4,245.9 637.9,245.9 638.4,245.9 638.9,245.9 639.4,245.9 639.9,245.9 640.4,245.9 640.9,245.9 641.4,245.9 641.9,245.9 642.4,245.9 642.9,245.9 643.4,245.9 643.9,245.9 644.4,245.9 644.9,245.9 645.4,245.9 645.9,245.9 646.4,245.9 646.9,245.9 647.4,245.9 647.9,245.9 648.4,245.9 648.9,245.9 649.4,245.9 649.9,245.9 650.4,245.9 650.9,245.9 651.4,245.9 651.9,245.9 652.4,245.9 652.9,245.9 653.4,245.9 653.9,245.9 654.4,245.9 654.9,245.9 655.4,245.9 655.9,245.9 656.4,245.9 656.9,245.9 657.4,245.9 657.9,245.9 658.4,245.9 658.9,245.9 659.4,245.9 659.9,245.9 660.4,245.9 660.9,245.9 661.4,245.9 661.9,245.9 662.4,245.9 662.9,245.9 663.4,245.9 663.9,245.9 664.4,245.9 664.9,245.9 665.4,245.9 665.9,245.9 666.4,245.9 666.9,245.8 667.4,245.8 667.9,245.8 668.4,245.8 668.9,245.8 669.4,245.8 669.9,245.8 670.4,245.8 670.9,245.8 671.4,245.8 671.9,245.8 672.4,245.8 672.9,245.8 673.4,245.8 673.9,245.8 674.4,245.8 674.9,245.8 675.4,245.8 675.9,245.8 676.4,245.8 676.9,245.8 677.4,245.8 677.9,245.8 678.4,245.8 678.9,245.8 679.4,245.8 679.9,245.8 680.4,245.8 680.9,245.8 681.4,245.8 681.9,245.8" fill="none" stroke="#C0392B" stroke-width="1.4" stroke-linejoin="round"/>
<polyline points="395.4,401.3 395.9,388.4 396.4,375.5 396.9,362.6 397.4,353 397.9,344.3 398.4,335.5 398.9,326.8 399.4,320.7 399.9,315.3 400.4,309.9 400.9,304.5 401.4,299.1 401.9,295.1 402.4,291.5 402.9,287.9 403.4,284.3 403.9,280.7 404.4,277.7 404.9,274.7 405.4,271.6 405.9,269.1 406.4,265.9 406.9,262.9 407.4,260.7 407.9,260.1 408.4,258.7 408.9,258.4 409.4,257.5 409.9,257.1 410.4,256.3 410.9,256.2 411.4,255.8 411.9,255.2 412.4,254.6 412.9,254.3 413.4,253.7 413.9,253.5 414.4,253.8 414.9,253.3 415.4,253.9 415.9,253.6 416.4,252.7 416.9,253.3 417.4,252.8 417.9,253 418.4,252.9 418.9,252.2 419.4,252.6 419.9,252.4 420.4,252.8 420.9,252.1 421.4,252.7 421.9,252.1 422.4,252.3 422.9,252.1 423.4,252.8 423.9,252.5 424.4,253 424.9,252.4 425.4,252.5 425.9,252.5 426.4,252 426.9,252.1 427.4,252.5 427.9,252 428.4,252.1 428.9,252 429.4,252.2 429.9,251.9 430.4,251.9 430.9,252 431.4,251.9 431.9,251.6 432.4,252 432.9,251.3 433.4,251.3 433.9,251.2 434.4,251.9 434.9,251.4 435.4,251.2 435.9,251.1 436.4,251.5 436.9,251 437.4,250.9 437.9,251.4 438.4,250.8 438.9,251 439.4,251.1 439.9,250.9 440.4,251 440.9,251.3 441.4,250.7 441.9,250.5 442.4,250.3 442.9,250.7 443.4,250.7 443.9,250.8 444.4,250.5 444.9,250.5 445.4,250.4 445.9,250.4 446.4,250.6 446.9,250.4 447.4,252 447.9,254.5 448.4,255.9 448.9,257.2 449.4,260.1 449.9,260 450.4,257.8 450.9,256.4 451.4,254.3 451.9,252.2 452.4,251.7 452.9,251.4 453.4,251.5 453.9,251.6 454.4,251 454.9,251 455.4,251.3 455.9,250.2 456.4,250.4 456.9,250.1 457.4,249.7 457.9,249.5 458.4,249.6 458.9,249.5 459.4,249.1 459.9,249.1 460.4,249.2 460.9,249.1 461.4,249.3 461.9,249.1 462.4,249.1 462.9,249.5 463.4,249.2 463.9,249 464.4,249.2 464.9,248.7 465.4,248.9 465.9,249.2 466.4,249.2 466.9,249.5 467.4,249 467.9,248.6 468.4,249.6 468.9,249.3 469.4,248.7 469.9,249.4 470.4,248.3 470.9,248.3 471.4,248.4 471.9,248.4 472.4,248.5 472.9,248.5 473.4,248.4 473.9,248.4 474.4,248.3 474.9,248.1 475.4,248 475.9,247.8 476.4,247.7 476.9,247.7 477.4,247.7 477.9,247.8 478.4,248 478.9,248.2 479.4,248.5 479.9,248.9 480.4,249.2 480.9,249.5 481.4,249.8 481.9,250.1 482.4,250.3 482.9,250.4 483.4,250.5 483.9,250.5 484.4,250.4 484.9,250.3 485.4,250.2 485.9,250 486.4,249.8 486.9,249.7 487.4,249.5 487.9,249.3 488.4,249.1 488.9,249 489.4,249 489.9,249 490.4,249.1 490.9,249.3 491.4,249.5 491.9,249.7 492.4,249.9 492.9,250 493.4,250.1 493.9,250.1 494.4,250.1 494.9,250 495.4,249.9 495.9,249.8 496.4,249.7 496.9,249.6 497.4,249.6 497.9,249.5 498.4,249.4 498.9,249.3 499.4,249.3 499.9,249.2 500.4,249.1 500.9,249.1 501.4,249 501.9,248.9 502.4,248.8 502.9,248.7 503.4,248.7 503.9,248.7 504.4,248.8 504.9,248.9 505.4,249 505.9,249.2 506.4,249.3 506.9,249.3 507.4,249.3 507.9,249.3 508.4,249.1 508.9,249 509.4,248.8 509.9,248.7 510.4,249.2 510.9,249.9 511.4,250.6 511.9,251.4 512.4,252.2 512.9,253 513.4,253.8 513.9,254.6 514.4,255.3 514.9,255.8 515.4,256.4 515.9,256.9 516.4,257.4 516.9,257.8 517.4,258.3 517.9,257 518.4,255.7 518.9,254.4 519.4,253.1 519.9,251.9 520.4,250.6 520.9,249.5 521.4,249.4 521.9,249.7 522.4,249.9 522.9,250.2 523.4,250.4 523.9,250.6 524.4,251.4 524.9,252.3 525.4,253.2 525.9,254 526.4,255 526.9,255.9 527.4,256.9 527.9,256.6 528.4,255.5 528.9,254.3 529.4,253.2 529.9,252 530.4,250.9 530.9,249.7 531.4,249.5 531.9,249.5 532.4,249.6 532.9,249.7 533.4,249.7 533.9,249.7 534.4,249.7 534.9,249.6 535.4,249.4 535.9,249.1 536.4,248.9 536.9,248.6 537.4,248.4 537.9,248.2 538.4,248 538.9,248 539.4,248 539.9,248.1 540.4,248.2 540.9,248.4 541.4,248.6 541.9,248.8 542.4,249 542.9,249.2 543.4,249.3 543.9,249.4 544.4,249.5 544.9,249.6 545.4,249.7 545.9,249.8 546.4,249.9 546.9,250 547.4,250.1 547.9,250.2 548.4,250.2 548.9,250.2 549.4,250.1 549.9,250 550.4,249.8 550.9,249.7 551.4,249.5 551.9,249.4 552.4,249.3 552.9,249.2 553.4,249.1 553.9,249.1 554.4,249 554.9,249 555.4,249 555.9,249 556.4,249 556.9,249 557.4,248.9 557.9,248.9 558.4,248.9 558.9,248.8 559.4,248.8 559.9,248.8 560.4,248.8 560.9,248.8 561.4,248.9 561.9,248.9 562.4,248.9 562.9,249 563.4,249.1 563.9,249.2 564.4,249.3 564.9,249.4 565.4,249.5 565.9,249.7 566.4,249.8 566.9,249.9 567.4,249.9 567.9,249.9 568.4,249.9 568.9,249.9 569.4,249.8 569.9,249.7 570.4,249.6 570.9,249.5 571.4,249.3 571.9,249.1 572.4,248.9 572.9,248.8 573.4,248.7 573.9,248.7 574.4,248.7 574.9,248.8 575.4,249 575.9,249.2 576.4,249.4 576.9,249.7 577.4,249.9 577.9,250.1 578.4,250.2 578.9,250.2 579.4,250.2 579.9,250.2 580.4,250.1 580.9,250.1 581.4,250 581.9,250 582.4,249.9 582.9,249.9 583.4,249.9 583.9,249.9 584.4,249.9 584.9,249.9 585.4,249.9 585.9,249.9 586.4,249.8 586.9,249.8 587.4,249.7 587.9,249.7 588.4,249.6 588.9,249.6 589.4,249.5 589.9,249.4 590.4,249.9 590.9,250.5 591.4,251.1 591.9,251.6 592.4,252.2 592.9,252.7 593.4,253.2 593.9,253.8 594.4,254.4 594.9,255 595.4,255.6 595.9,256.3 596.4,257.1 596.9,257.9 597.4,258.7 597.9,258.8 598.4,257.9 598.9,257 599.4,256 599.9,255.1 600.4,254 600.9,253 601.4,252.6 601.9,252.3 602.4,252.1 602.9,251.8 603.4,251.5 603.9,251.3 604.4,251.1 604.9,250.8 605.4,250.6 605.9,250.4 606.4,250.3 606.9,250.1 607.4,249.9 607.9,249.7 608.4,249.5 608.9,249.3 609.4,249.1 609.9,248.9 610.4,249 610.9,249.1 611.4,249.3 611.9,249.5 612.4,249.7 612.9,250 613.4,250.2 613.9,250.4 614.4,250.5 614.9,250.5 615.4,250.4 615.9,250.3 616.4,250.2 616.9,250 617.4,249.9 617.9,249.8 618.4,249.7 618.9,249.6 619.4,249.6 619.9,249.5 620.4,249.5 620.9,249.4 621.4,249.3 621.9,249.1 622.4,248.9 622.9,248.8 623.4,248.6 623.9,248.4 624.4,248.3 624.9,248.3 625.4,248.3 625.9,248.4 626.4,248.5 626.9,248.7 627.4,248.9 627.9,249 628.4,249.2 628.9,249.3 629.4,249.3 629.9,249.3 630.4,249.3 630.9,249.2 631.4,249.1 631.9,249.1 632.4,249.1 632.9,249.1 633.4,249.2 633.9,249.3 634.4,249.4 634.9,249.5 635.4,249.6 635.9,249.6 636.4,249.6 636.9,249.5 637.4,249.4 637.9,249.3 638.4,249.2 638.9,249.1 639.4,248.9 639.9,248.8 640.4,248.6 640.9,248.5 641.4,248.5 641.9,248.5 642.4,248.6 642.9,248.8 643.4,249.1 643.9,249.4 644.4,249.6 644.9,249.9 645.4,250.1 645.9,250.3 646.4,250.3 646.9,250.3 647.4,250.3 647.9,250.2 648.4,250 648.9,249.9 649.4,249.7 649.9,249.5 650.4,249.3 650.9,249.1 651.4,248.9 651.9,248.7 652.4,248.5 652.9,248.4 653.4,248.3 653.9,248.2 654.4,248.2 654.9,248.2 655.4,248.3 655.9,248.3 656.4,248.4 656.9,248.5 657.4,248.6 657.9,248.6 658.4,248.7 658.9,248.8 659.4,248.8 659.9,248.9 660.4,248.9 660.9,248.8 661.4,248.8 661.9,248.7 662.4,248.7 662.9,248.6 663.4,248.6 663.9,248.5 664.4,248.5 664.9,248.4 665.4,248.3 665.9,248.3 666.4,248.2 666.9,248.1 667.4,248 667.9,247.9 668.4,247.8 668.9,247.7 669.4,247.7 669.9,247.7 670.4,247.7 670.9,247.7 671.4,247.8 671.9,247.9 672.4,248 672.9,248.2 673.4,248.3 673.9,248.4 674.4,248.5 674.9,248.6 675.4,248.6 675.9,248.6 676.4,248.6 676.9,248.6 677.4,248.6 677.9,248.6 678.4,248.6 678.9,248.6 679.4,248.6 679.9,248.6 680.4,248.6 680.9,248.7 681.4,248.7 681.9,248.7" fill="none" stroke="#EDB120" stroke-width="1.5" stroke-linejoin="round"/>
<polyline points="395.4,401.3 395.9,393.1 396.4,384.9 396.9,376.6 397.4,370 397.9,363.8 398.4,357.5 398.9,351.3 399.4,345.5 399.9,339.9 400.4,334.3 400.9,328.7 401.4,323.1 401.9,318.4 402.4,313.8 402.9,309.3 403.4,304.8 403.9,300.2 404.4,296.7 404.9,294.6 405.4,292.6 405.9,290.6 406.4,288.5 406.9,286.5 407.4,284.4 407.9,282.4 408.4,280.8 408.9,279.4 409.4,277.9 409.9,276.4 410.4,274.9 410.9,273.5 411.4,272 411.9,271.3 412.4,270.5 412.9,269.8 413.4,269.1 413.9,268.4 414.4,267.6 414.9,266.9 415.4,266.2 415.9,265.4 416.4,265.8 416.9,266.4 417.4,267 417.9,267.7 418.4,268.3 418.9,267.9 419.4,267.3 419.9,266.7 420.4,266 420.9,265.4 421.4,264.8 421.9,264.2 422.4,263.5 422.9,264.5 423.4,266.6 423.9,268.6 424.4,270.7 424.9,272.7 425.4,274.8 425.9,275.7 426.4,274.9 426.9,274.2 427.4,273.4 427.9,272.7 428.4,271.9 428.9,271.2 429.4,270.5 429.9,269.9 430.4,269.2 430.9,268.6 431.4,268 431.9,267.3 432.4,266.7 432.9,266.1 433.4,265.4 433.9,264.8 434.4,264 434.9,263.2 435.4,262.4 435.9,261.6 436.4,260.8 436.9,260 437.4,259.2 437.9,258.4 438.4,257.6 438.9,256.8 439.4,256 439.9,255.2 440.4,254.7 440.9,254.3 441.4,253.9 441.9,253.5 442.4,253.1 442.9,252.7 443.4,252.3 443.9,251.9 444.4,251.5 444.9,251.1 445.4,250.8 445.9,250.6 446.4,250.3 446.9,250.1 447.4,249.8 447.9,249.6 448.4,249.3 448.9,249.1 449.4,248.8 449.9,248.6 450.4,248.3 450.9,248.2 451.4,248 451.9,247.9 452.4,247.7 452.9,247.6 453.4,247.4 453.9,247.3 454.4,247.1 454.9,246.9 455.4,246.8 455.9,246.6 456.4,246.6 456.9,246.5 457.4,246.4 457.9,246.4 458.4,246.3 458.9,246.3 459.4,246.2 459.9,246.2 460.4,246.1 460.9,246 461.4,246 461.9,245.9 462.4,245.9 462.9,245.8 463.4,245.8 463.9,245.9 464.4,245.9 464.9,245.9 465.4,245.9 465.9,246 466.4,246 466.9,246 467.4,246.1 467.9,246.1 468.4,246.1 468.9,246.1 469.4,246.2 469.9,246.2 470.4,246.2 470.9,246.3 471.4,246.3 471.9,246.3 472.4,246.3 472.9,246.4 473.4,246.4 473.9,246.4 474.4,246.5 474.9,246.5 475.4,246.5 475.9,246.5 476.4,246.5 476.9,246.5 477.4,246.5 477.9,246.5 478.4,246.5 478.9,246.5 479.4,246.5 479.9,246.5 480.4,246.5 480.9,246.5 481.4,246.5 481.9,246.5 482.4,246.5 482.9,246.5 483.4,246.5 483.9,246.5 484.4,246.5 484.9,246.5 485.4,246.5 485.9,246.5 486.4,246.5 486.9,246.5 487.4,246.5 487.9,246.5 488.4,246.5 488.9,246.5 489.4,246.5 489.9,246.5 490.4,246.5 490.9,246.5 491.4,246.5 491.9,246.5 492.4,246.5 492.9,246.5 493.4,246.5 493.9,246.5 494.4,246.5 494.9,246.5 495.4,246.5 495.9,246.6 496.4,246.6 496.9,246.6 497.4,246.6 497.9,246.6 498.4,246.6 498.9,246.6 499.4,246.6 499.9,246.6 500.4,246.6 500.9,246.6 501.4,246.6 501.9,246.6 502.4,246.6 502.9,246.6 503.4,246.6 503.9,246.6 504.4,246.6 504.9,246.6 505.4,246.6 505.9,246.6 506.4,246.6 506.9,246.6 507.4,246.6 507.9,246.6 508.4,246.6 508.9,246.6 509.4,246.6 509.9,246.6 510.4,246.6 510.9,246.6 511.4,246.6 511.9,246.6 512.4,246.6 512.9,246.6 513.4,246.6 513.9,246.6 514.4,246.6 514.9,246.6 515.4,246.6 515.9,246.6 516.4,246.6 516.9,246.6 517.4,246.6 517.9,246.6 518.4,246.6 518.9,246.6 519.4,246.6 519.9,246.6 520.4,246.6 520.9,246.6 521.4,246.6 521.9,246.6 522.4,246.6 522.9,246.6 523.4,246.6 523.9,246.6 524.4,246.6 524.9,246.6 525.4,246.6 525.9,246.6 526.4,246.6 526.9,246.6 527.4,246.6 527.9,246.6 528.4,246.6 528.9,246.6 529.4,246.6 529.9,246.6 530.4,246.6 530.9,246.6 531.4,246.6 531.9,246.6 532.4,246.6 532.9,246.6 533.4,246.6 533.9,246.6 534.4,246.6 534.9,246.6 535.4,246.6 535.9,246.6 536.4,246.6 536.9,246.6 537.4,246.7 537.9,246.7 538.4,246.7 538.9,246.7 539.4,246.7 539.9,246.7 540.4,246.7 540.9,246.7 541.4,246.7 541.9,246.7 542.4,246.7 542.9,246.7 543.4,246.7 543.9,246.7 544.4,246.7 544.9,246.7 545.4,246.7 545.9,246.7 546.4,246.7 546.9,246.7 547.4,246.7 547.9,246.7 548.4,246.7 548.9,246.7 549.4,246.7 549.9,246.7 550.4,246.7 550.9,246.7 551.4,246.7 551.9,246.7 552.4,246.7 552.9,246.7 553.4,246.7 553.9,246.7 554.4,246.7 554.9,246.7 555.4,246.7 555.9,246.7 556.4,246.7 556.9,246.7 557.4,246.7 557.9,246.7 558.4,246.7 558.9,246.7 559.4,246.7 559.9,246.7 560.4,246.7 560.9,246.7 561.4,246.7 561.9,246.7 562.4,246.7 562.9,246.7 563.4,246.7 563.9,246.7 564.4,246.7 564.9,246.7 565.4,246.7 565.9,246.7 566.4,246.7 566.9,246.7 567.4,246.7 567.9,246.7 568.4,246.7 568.9,246.7 569.4,246.7 569.9,246.7 570.4,246.7 570.9,246.7 571.4,246.7 571.9,246.7 572.4,246.7 572.9,246.7 573.4,246.7 573.9,246.7 574.4,246.7 574.9,246.7 575.4,246.7 575.9,246.7 576.4,246.7 576.9,246.7 577.4,246.7 577.9,246.7 578.4,246.7 578.9,246.8 579.4,246.8 579.9,246.8 580.4,246.8 580.9,246.8 581.4,246.8 581.9,246.8 582.4,246.8 582.9,246.8 583.4,246.8 583.9,246.8 584.4,246.8 584.9,246.8 585.4,246.8 585.9,246.8 586.4,246.8 586.9,246.8 587.4,246.8 587.9,246.8 588.4,246.8 588.9,246.8 589.4,246.8 589.9,246.8 590.4,246.8 590.9,246.8 591.4,246.8 591.9,246.8 592.4,246.8 592.9,246.8 593.4,246.8 593.9,246.8 594.4,246.8 594.9,246.8 595.4,246.8 595.9,246.8 596.4,246.8 596.9,246.8 597.4,246.8 597.9,246.8 598.4,246.8 598.9,246.8 599.4,246.8 599.9,246.8 600.4,246.8 600.9,246.8 601.4,246.8 601.9,246.8 602.4,246.8 602.9,246.8 603.4,246.8 603.9,246.8 604.4,246.8 604.9,246.8 605.4,246.8 605.9,246.8 606.4,246.8 606.9,246.8 607.4,246.8 607.9,246.8 608.4,246.8 608.9,246.8 609.4,246.8 609.9,246.8 610.4,246.8 610.9,246.8 611.4,246.8 611.9,246.8 612.4,246.8 612.9,246.8 613.4,246.8 613.9,246.8 614.4,246.8 614.9,246.8 615.4,246.8 615.9,246.8 616.4,246.8 616.9,246.8 617.4,246.8 617.9,246.8 618.4,246.8 618.9,246.8 619.4,246.8 619.9,246.8 620.4,246.9 620.9,246.9 621.4,246.9 621.9,246.9 622.4,246.9 622.9,246.9 623.4,246.9 623.9,246.9 624.4,246.9 624.9,246.9 625.4,246.9 625.9,246.9 626.4,246.9 626.9,246.9 627.4,246.9 627.9,246.9 628.4,246.9 628.9,246.9 629.4,246.9 629.9,246.9 630.4,246.9 630.9,246.9 631.4,246.9 631.9,246.9 632.4,246.9 632.9,246.9 633.4,246.9 633.9,246.9 634.4,246.9 634.9,246.9 635.4,246.9 635.9,246.9 636.4,246.9 636.9,246.9 637.4,246.9 637.9,246.9 638.4,246.9 638.9,246.9 639.4,246.9 639.9,246.9 640.4,246.9 640.9,246.9 641.4,246.9 641.9,246.9 642.4,246.9 642.9,246.9 643.4,246.9 643.9,246.9 644.4,246.9 644.9,246.9 645.4,246.9 645.9,246.9 646.4,246.9 646.9,246.9 647.4,246.9 647.9,246.9 648.4,246.9 648.9,246.9 649.4,246.9 649.9,246.9 650.4,246.9 650.9,246.9 651.4,246.9 651.9,246.9 652.4,246.9 652.9,246.9 653.4,246.9 653.9,246.9 654.4,246.9 654.9,246.9 655.4,246.9 655.9,246.9 656.4,246.9 656.9,246.9 657.4,246.9 657.9,246.9 658.4,246.9 658.9,246.9 659.4,246.9 659.9,246.9 660.4,246.9 660.9,246.9 661.4,247 661.9,247 662.4,247 662.9,247 663.4,247 663.9,247 664.4,247 664.9,247 665.4,247 665.9,247 666.4,247 666.9,247 667.4,247 667.9,247 668.4,247 668.9,247 669.4,247 669.9,247 670.4,247 670.9,247 671.4,247 671.9,247 672.4,247 672.9,247 673.4,247 673.9,247 674.4,247 674.9,247 675.4,247 675.9,247 676.4,247 676.9,247 677.4,247 677.9,247 678.4,247 678.9,247 679.4,247 679.9,247 680.4,247 680.9,247 681.4,247 681.9,247" fill="none" stroke="#1a1a1a" stroke-width="1.6" stroke-linejoin="round"/>
<polyline points="395.4,401.3 395.9,373.4 396.4,345.6 396.9,324 397.4,304 397.9,290 398.4,277.5 398.9,271.5 399.4,267.2 399.9,262.9 400.4,261.2 400.9,260.2 401.4,259.2 401.9,258.2 402.4,259.9 402.9,262.2 403.4,264.5 403.9,263.1 404.4,260.8 404.9,258.5 405.4,256.7 405.9,255.6 406.4,253.4 406.9,252.4 407.4,252.1 407.9,251.3 408.4,251.8 408.9,250.5 409.4,250.5 409.9,249.9 410.4,249.6 410.9,249.2 411.4,249.2 411.9,249.2 412.4,248.8 412.9,249.1 413.4,249.2 413.9,247.9 414.4,248.5 414.9,248.1 415.4,248 415.9,248.8 416.4,248.3 416.9,247.9 417.4,247.8 417.9,247 418.4,247.9 418.9,247.3 419.4,247.6 419.9,247.5 420.4,247.8 420.9,248.1 421.4,247.6 421.9,247.7 422.4,247.1 422.9,247.2 423.4,247.3 423.9,246.4 424.4,247.6 424.9,246.5 425.4,246.2 425.9,247.2 426.4,247.3 426.9,246.2 427.4,246.2 427.9,247.4 428.4,246.3 428.9,245.5 429.4,245.9 429.9,246.7 430.4,246.2 430.9,246.2 431.4,246.3 431.9,246 432.4,245.6 432.9,245.2 433.4,245.8 433.9,245.2 434.4,245.5 434.9,246.1 435.4,245.6 435.9,245.4 436.4,245.4 436.9,245.6 437.4,245.6 437.9,244.7 438.4,245.2 438.9,245.7 439.4,245.3 439.9,244.7 440.4,244.8 440.9,244.3 441.4,244.7 441.9,245.5 442.4,244.9 442.9,244.6 443.4,244.7 443.9,244.9 444.4,244.9 444.9,244.8 445.4,244.6 445.9,245.1 446.4,245.4 446.9,244.6 447.4,244.6 447.9,245.2 448.4,244.3 448.9,244.6 449.4,244.6 449.9,244.8 450.4,244.6 450.9,244.4 451.4,244.8 451.9,244.3 452.4,244.1 452.9,244 453.4,244.9 453.9,244 454.4,244.8 454.9,244.9 455.4,244.9 455.9,244.5 456.4,244.4 456.9,244.6 457.4,244.4 457.9,244.1 458.4,245 458.9,244.2 459.4,245.1 459.9,244.7 460.4,244.3 460.9,244.7 461.4,244.9 461.9,244 462.4,244.2 462.9,244.1 463.4,244.6 463.9,244.6 464.4,244.5 464.9,244.2 465.4,244.3 465.9,244.9 466.4,244.9 466.9,244.5 467.4,244 467.9,244.7 468.4,244.6 468.9,244.6 469.4,245.1 469.9,244.8 470.4,244.5 470.9,244.5 471.4,244.5 471.9,244.5 472.4,244.5 472.9,244.5 473.4,244.5 473.9,244.5 474.4,244.5 474.9,244.5 475.4,244.5 475.9,244.5 476.4,244.5 476.9,244.5 477.4,244.5 477.9,244.5 478.4,244.5 478.9,244.5 479.4,244.5 479.9,244.5 480.4,244.5 480.9,244.5 481.4,244.5 481.9,244.5 482.4,244.5 482.9,244.5 483.4,244.5 483.9,244.5 484.4,244.5 484.9,244.5 485.4,244.5 485.9,244.5 486.4,244.5 486.9,244.5 487.4,244.5 487.9,244.5 488.4,244.5 488.9,244.5 489.4,244.5 489.9,244.5 490.4,244.5 490.9,244.5 491.4,244.5 491.9,244.5 492.4,244.5 492.9,244.5 493.4,244.5 493.9,244.5 494.4,244.5 494.9,244.5 495.4,244.5 495.9,244.5 496.4,244.5 496.9,244.5 497.4,244.5 497.9,244.5 498.4,244.5 498.9,244.5 499.4,244.5 499.9,244.5 500.4,244.5 500.9,244.5 501.4,244.5 501.9,244.5 502.4,244.5 502.9,244.5 503.4,244.5 503.9,244.5 504.4,244.5 504.9,244.5 505.4,244.5 505.9,244.5 506.4,244.5 506.9,244.5 507.4,244.5 507.9,244.5 508.4,244.5 508.9,244.5 509.4,244.5 509.9,244.5 510.4,244.5 510.9,244.5 511.4,244.5 511.9,244.5 512.4,244.5 512.9,244.5 513.4,244.5 513.9,244.5 514.4,244.5 514.9,244.5 515.4,244.5 515.9,244.4 516.4,244.4 516.9,244.4 517.4,244.4 517.9,244.4 518.4,244.4 518.9,244.4 519.4,244.4 519.9,244.4 520.4,244.4 520.9,244.4 521.4,244.4 521.9,244.4 522.4,244.4 522.9,244.4 523.4,244.4 523.9,244.4 524.4,244.4 524.9,244.4 525.4,244.4 525.9,244.4 526.4,244.4 526.9,244.4 527.4,244.4 527.9,244.4 528.4,244.4 528.9,244.4 529.4,244.4 529.9,244.4 530.4,244.4 530.9,244.4 531.4,244.4 531.9,244.4 532.4,244.4 532.9,244.4 533.4,244.4 533.9,244.4 534.4,244.4 534.9,244.4 535.4,244.4 535.9,244.4 536.4,244.4 536.9,244.4 537.4,244.4 537.9,244.4 538.4,244.4 538.9,244.4 539.4,244.4 539.9,244.4 540.4,244.4 540.9,244.4 541.4,244.4 541.9,244.4 542.4,244.4 542.9,244.4 543.4,244.4 543.9,244.4 544.4,244.4 544.9,244.4 545.4,244.4 545.9,244.4 546.4,244.4 546.9,244.4 547.4,244.4 547.9,244.4 548.4,244.4 548.9,244.4 549.4,244.4 549.9,244.4 550.4,244.4 550.9,244.4 551.4,244.4 551.9,244.4 552.4,244.4 552.9,244.4 553.4,244.4 553.9,244.4 554.4,244.4 554.9,244.4 555.4,244.4 555.9,244.4 556.4,244.4 556.9,244.4 557.4,244.4 557.9,244.4 558.4,244.4 558.9,244.4 559.4,244.4 559.9,244.4 560.4,244.4 560.9,244.4 561.4,244.4 561.9,244.4 562.4,244.4 562.9,244.4 563.4,244.4 563.9,244.4 564.4,244.4 564.9,244.4 565.4,244.4 565.9,244.4 566.4,244.4 566.9,244.4 567.4,244.4 567.9,244.4 568.4,244.4 568.9,244.4 569.4,244.4 569.9,244.4 570.4,244.4 570.9,244.4 571.4,244.4 571.9,244.4 572.4,244.4 572.9,244.4 573.4,244.4 573.9,244.4 574.4,244.4 574.9,244.4 575.4,244.4 575.9,244.4 576.4,244.4 576.9,244.4 577.4,244.4 577.9,244.4 578.4,244.4 578.9,244.4 579.4,244.4 579.9,244.4 580.4,244.4 580.9,244.4 581.4,244.4 581.9,244.4 582.4,244.4 582.9,244.4 583.4,244.4 583.9,244.4 584.4,244.4 584.9,244.4 585.4,244.4 585.9,244.4 586.4,244.4 586.9,244.4 587.4,244.4 587.9,244.4 588.4,244.4 588.9,244.4 589.4,244.4 589.9,244.4 590.4,244.4 590.9,244.4 591.4,244.4 591.9,244.4 592.4,244.4 592.9,244.4 593.4,244.4 593.9,244.4 594.4,244.4 594.9,244.4 595.4,244.4 595.9,244.4 596.4,244.4 596.9,244.4 597.4,244.4 597.9,244.4 598.4,244.4 598.9,244.4 599.4,244.4 599.9,244.4 600.4,244.4 600.9,244.4 601.4,244.4 601.9,244.4 602.4,244.4 602.9,244.4 603.4,244.4 603.9,244.4 604.4,244.4 604.9,244.4 605.4,244.4 605.9,244.4 606.4,244.4 606.9,244.4 607.4,244.4 607.9,244.4 608.4,244.4 608.9,244.4 609.4,244.4 609.9,244.4 610.4,244.4 610.9,244.4 611.4,244.4 611.9,244.4 612.4,244.4 612.9,244.4 613.4,244.4 613.9,244.4 614.4,244.4 614.9,244.4 615.4,244.4 615.9,244.4 616.4,244.4 616.9,244.4 617.4,244.4 617.9,244.4 618.4,244.4 618.9,244.4 619.4,244.4 619.9,244.4 620.4,244.4 620.9,244.4 621.4,244.4 621.9,244.4 622.4,244.4 622.9,244.4 623.4,244.4 623.9,244.4 624.4,244.4 624.9,244.4 625.4,244.4 625.9,244.4 626.4,244.4 626.9,244.3 627.4,244.3 627.9,244.3 628.4,244.3 628.9,244.3 629.4,244.3 629.9,244.3 630.4,244.3 630.9,244.3 631.4,244.3 631.9,244.3 632.4,244.3 632.9,244.3 633.4,244.3 633.9,244.3 634.4,244.3 634.9,244.3 635.4,244.3 635.9,244.3 636.4,244.3 636.9,244.3 637.4,244.3 637.9,244.3 638.4,244.3 638.9,244.3 639.4,244.3 639.9,244.3 640.4,244.3 640.9,244.3 641.4,244.3 641.9,244.3 642.4,244.3 642.9,244.3 643.4,244.3 643.9,244.3 644.4,244.3 644.9,244.3 645.4,244.3 645.9,244.3 646.4,244.3 646.9,244.3 647.4,244.3 647.9,244.3 648.4,244.3 648.9,244.3 649.4,244.3 649.9,244.3 650.4,244.3 650.9,244.3 651.4,244.3 651.9,244.3 652.4,244.3 652.9,244.3 653.4,244.3 653.9,244.3 654.4,244.3 654.9,244.3 655.4,244.3 655.9,244.3 656.4,244.3 656.9,244.3 657.4,244.3 657.9,244.3 658.4,244.3 658.9,244.3 659.4,244.3 659.9,244.3 660.4,244.3 660.9,244.3 661.4,244.3 661.9,244.3 662.4,244.3 662.9,244.3 663.4,244.3 663.9,244.3 664.4,244.3 664.9,244.3 665.4,244.3 665.9,244.3 666.4,244.3 666.9,244.3 667.4,244.3 667.9,244.3 668.4,244.3 668.9,244.3 669.4,244.3 669.9,244.3 670.4,244.3 670.9,244.3 671.4,244.3 671.9,244.3 672.4,244.3 672.9,244.3 673.4,244.3 673.9,244.3 674.4,244.3 674.9,244.3 675.4,244.3 675.9,244.3 676.4,244.3 676.9,244.3 677.4,244.3 677.9,244.3 678.4,244.3 678.9,244.3 679.4,244.3 679.9,244.3 680.4,244.3 680.9,244.3 681.4,244.3 681.9,244.3" fill="none" stroke="#77AC30" stroke-width="1.6" stroke-linejoin="round"/>
<polyline points="395.4,401.3 395.9,382.5 396.4,363.8 396.9,344 397.4,324 397.9,308 398.4,293 398.9,275.3 399.4,267.9 399.9,267.7 400.4,267.5 400.9,267.7 401.4,267.9 401.9,264.1 402.4,259.3 402.9,254.4 403.4,251.4 403.9,251.3 404.4,251.2 404.9,251 405.4,251.1 405.9,251.3 406.4,251.5 406.9,251.6 407.4,251.8 407.9,252 408.4,252 408.9,252 409.4,252 409.9,252 410.4,252 410.9,252 411.4,252 411.9,264.5 412.4,277 412.9,277.9 413.4,278.9 413.9,279.8 414.4,283.6 414.9,288 415.4,292.5 415.9,288.5 416.4,282.4 416.9,276.2 417.4,271.5 417.9,267 418.4,262.6 418.9,258.2 419.4,253.8 419.9,252.1 420.4,252.2 420.9,252.4 421.4,252.5 421.9,252.7 422.4,252.8 422.9,253 423.4,252.8 423.9,252.6 424.4,252.3 424.9,252.1 425.4,251.8 425.9,251.6 426.4,251.3 426.9,251.1 427.4,251.3 427.9,251.6 428.4,251.9 428.9,252.3 429.4,252.6 429.9,252.9 430.4,252.8 430.9,252.6 431.4,252.4 431.9,252.2 432.4,252 432.9,251.8 433.4,251.6 433.9,251.4 434.4,251.2 434.9,251 435.4,251.1 435.9,251.2 436.4,251.3 436.9,251.4 437.4,251.5 437.9,251.6 438.4,251.7 438.9,251.8 439.4,251.9 439.9,252 440.4,251.8 440.9,251.6 441.4,251.3 441.9,251.1 442.4,250.8 442.9,250.6 443.4,250.3 443.9,250.1 444.4,251.7 444.9,253.7 445.4,255.8 445.9,257.9 446.4,257.3 446.9,255 447.4,252.7 447.9,250.5 448.4,249.6 448.9,249.2 449.4,248.7 449.9,248.3 450.4,248 450.9,247.9 451.4,247.9 451.9,247.8 452.4,247.8 452.9,247.7 453.4,247.7 453.9,247.6 454.4,247.6 454.9,247.5 455.4,247.5 455.9,247.4 456.4,247.4 456.9,247.3 457.4,247.3 457.9,247.2 458.4,247.2 458.9,247.1 459.4,247.1 459.9,247 460.4,247 460.9,247 461.4,246.9 461.9,246.9 462.4,246.9 462.9,246.9 463.4,246.8 463.9,246.8 464.4,246.8 464.9,246.8 465.4,246.7 465.9,246.7 466.4,246.7 466.9,246.7 467.4,246.6 467.9,246.6 468.4,246.6 468.9,246.6 469.4,246.5 469.9,246.5 470.4,246.5 470.9,246.5 471.4,246.4 471.9,246.4 472.4,246.4 472.9,246.4 473.4,246.3 473.9,246.3 474.4,246.3 474.9,246.3 475.4,246.2 475.9,246.2 476.4,246.2 476.9,246.2 477.4,246.1 477.9,246.1 478.4,246.1 478.9,246.1 479.4,246 479.9,246 480.4,247.2 480.9,248.7 481.4,250.2 481.9,251.7 482.4,253.7 482.9,255.7 483.4,257.8 483.9,259 484.4,256.5 484.9,254 485.4,251.5 485.9,250.2 486.4,249.2 486.9,248.2 487.4,247.2 487.9,246.2 488.4,246 488.9,246 489.4,246 489.9,246 490.4,246 490.9,246 491.4,245.9 491.9,245.9 492.4,245.9 492.9,245.9 493.4,245.9 493.9,245.9 494.4,245.9 494.9,245.9 495.4,245.9 495.9,245.9 496.4,245.9 496.9,245.9 497.4,245.9 497.9,245.9 498.4,245.8 498.9,245.8 499.4,245.8 499.9,245.8 500.4,245.8 500.9,245.8 501.4,245.8 501.9,245.8 502.4,245.8 502.9,245.8 503.4,245.8 503.9,245.8 504.4,245.8 504.9,245.7 505.4,245.7 505.9,245.7 506.4,245.7 506.9,245.7 507.4,245.7 507.9,245.7 508.4,245.7 508.9,245.7 509.4,245.7 509.9,245.7 510.4,245.7 510.9,245.7 511.4,245.7 511.9,245.6 512.4,245.6 512.9,245.6 513.4,245.6 513.9,245.6 514.4,245.6 514.9,245.6 515.4,246.1 515.9,246.6 516.4,247.2 516.9,247.8 517.4,248.4 517.9,247.7 518.4,247.1 518.9,246.4 519.4,245.7 519.9,245.6 520.4,245.6 520.9,245.6 521.4,245.6 521.9,245.6 522.4,245.6 522.9,245.6 523.4,245.6 523.9,245.6 524.4,245.6 524.9,245.6 525.4,245.6 525.9,245.6 526.4,245.6 526.9,245.6 527.4,245.6 527.9,245.6 528.4,245.6 528.9,245.6 529.4,245.6 529.9,245.6 530.4,245.6 530.9,245.6 531.4,245.6 531.9,245.6 532.4,245.6 532.9,245.6 533.4,245.6 533.9,245.6 534.4,245.6 534.9,245.6 535.4,245.6 535.9,245.6 536.4,245.6 536.9,245.6 537.4,245.6 537.9,245.6 538.4,245.6 538.9,245.6 539.4,245.6 539.9,245.6 540.4,245.6 540.9,245.6 541.4,245.6 541.9,245.6 542.4,245.6 542.9,245.6 543.4,245.6 543.9,245.6 544.4,245.6 544.9,245.6 545.4,245.6 545.9,245.6 546.4,245.6 546.9,245.6 547.4,245.6 547.9,245.6 548.4,245.6 548.9,245.6 549.4,245.6 549.9,245.6 550.4,245.6 550.9,245.6 551.4,245.6 551.9,245.6 552.4,245.6 552.9,245.6 553.4,245.6 553.9,245.6 554.4,245.6 554.9,245.6 555.4,245.6 555.9,245.6 556.4,245.6 556.9,245.6 557.4,245.6 557.9,245.6 558.4,245.6 558.9,245.6 559.4,245.6 559.9,245.6 560.4,245.6 560.9,245.6 561.4,245.6 561.9,245.6 562.4,245.6 562.9,245.6 563.4,245.6 563.9,245.6 564.4,245.6 564.9,245.6 565.4,245.6 565.9,245.6 566.4,245.6 566.9,245.6 567.4,245.6 567.9,245.6 568.4,245.6 568.9,245.6 569.4,245.6 569.9,245.6 570.4,245.6 570.9,245.6 571.4,245.6 571.9,245.6 572.4,245.6 572.9,245.6 573.4,245.6 573.9,245.6 574.4,245.6 574.9,245.6 575.4,245.6 575.9,245.6 576.4,245.6 576.9,245.6 577.4,245.6 577.9,245.6 578.4,245.6 578.9,245.6 579.4,245.6 579.9,245.6 580.4,245.6 580.9,245.6 581.4,245.6 581.9,245.6 582.4,245.6 582.9,245.6 583.4,245.6 583.9,245.6 584.4,245.6 584.9,245.6 585.4,245.6 585.9,245.6 586.4,245.6 586.9,245.6 587.4,245.6 587.9,245.6 588.4,245.6 588.9,245.6 589.4,245.6 589.9,245.6 590.4,245.6 590.9,245.6 591.4,245.6 591.9,245.6 592.4,245.6 592.9,245.6 593.4,245.6 593.9,245.6 594.4,245.6 594.9,245.6 595.4,245.6 595.9,245.6 596.4,245.6 596.9,245.6 597.4,245.6 597.9,245.6 598.4,245.6 598.9,245.6 599.4,245.6 599.9,245.6 600.4,245.6 600.9,245.5 601.4,245.5 601.9,245.5 602.4,245.5 602.9,245.5 603.4,245.5 603.9,245.5 604.4,245.5 604.9,245.5 605.4,245.5 605.9,245.5 606.4,245.5 606.9,245.5 607.4,245.5 607.9,245.5 608.4,245.5 608.9,245.5 609.4,245.5 609.9,245.5 610.4,245.5 610.9,245.5 611.4,245.5 611.9,245.5 612.4,245.5 612.9,245.5 613.4,245.5 613.9,245.5 614.4,245.5 614.9,245.5 615.4,245.5 615.9,245.5 616.4,245.5 616.9,245.5 617.4,245.5 617.9,245.5 618.4,245.5 618.9,245.5 619.4,245.5 619.9,245.5 620.4,245.5 620.9,245.5 621.4,245.5 621.9,245.5 622.4,245.5 622.9,245.5 623.4,245.5 623.9,245.5 624.4,245.5 624.9,245.5 625.4,245.5 625.9,245.5 626.4,245.5 626.9,245.5 627.4,245.5 627.9,245.5 628.4,245.5 628.9,245.5 629.4,245.5 629.9,245.5 630.4,245.5 630.9,245.5 631.4,245.5 631.9,245.5 632.4,245.5 632.9,245.5 633.4,245.5 633.9,245.5 634.4,245.5 634.9,245.5 635.4,245.5 635.9,245.5 636.4,245.5 636.9,245.5 637.4,245.5 637.9,245.5 638.4,245.5 638.9,245.5 639.4,245.5 639.9,245.5 640.4,245.5 640.9,245.5 641.4,245.5 641.9,245.5 642.4,245.5 642.9,245.5 643.4,245.5 643.9,245.5 644.4,245.5 644.9,245.5 645.4,245.5 645.9,245.5 646.4,245.5 646.9,245.5 647.4,245.5 647.9,245.5 648.4,245.5 648.9,245.5 649.4,245.5 649.9,245.5 650.4,245.5 650.9,245.5 651.4,245.5 651.9,245.5 652.4,245.5 652.9,245.5 653.4,245.5 653.9,245.5 654.4,245.5 654.9,245.5 655.4,245.5 655.9,245.5 656.4,245.5 656.9,245.5 657.4,245.5 657.9,245.5 658.4,245.5 658.9,245.5 659.4,245.5 659.9,245.5 660.4,245.5 660.9,245.5 661.4,245.5 661.9,245.5 662.4,245.5 662.9,245.5 663.4,245.5 663.9,245.5 664.4,245.5 664.9,245.5 665.4,245.5 665.9,245.5 666.4,245.5 666.9,245.5 667.4,245.5 667.9,245.5 668.4,245.5 668.9,245.5 669.4,245.5 669.9,245.5 670.4,245.5 670.9,245.5 671.4,245.5 671.9,245.5 672.4,245.5 672.9,245.5 673.4,245.5 673.9,245.5 674.4,245.5 674.9,245.5 675.4,245.5 675.9,245.5 676.4,245.5 676.9,245.5 677.4,245.5 677.9,245.5 678.4,245.5 678.9,245.5 679.4,245.5 679.9,245.5 680.4,245.5 680.9,245.5 681.4,245.5 681.9,245.5" fill="none" stroke="#FF0000" stroke-width="1.6" stroke-linejoin="round"/>
<polyline points="395.4,401.3 395.9,350.2 396.4,315 396.9,286 397.4,266 397.9,255.7 398.4,252.4 398.9,252.2 399.4,252 399.9,253.1 400.4,254.4 400.9,255.7 401.4,258.9 401.9,262.5 402.4,266.2 402.9,269.8 403.4,269.9 403.9,264.6 404.4,259.3 404.9,255 405.4,254.8 405.9,254.6 406.4,254.3 406.9,254.1 407.4,253.7 407.9,253 408.4,252.5 408.9,251.4 409.4,251.1 409.9,250.8 410.4,250.6 410.9,249.9 411.4,250.4 411.9,249 412.4,248.7 412.9,248.8 413.4,248.8 413.9,248.9 414.4,248.3 414.9,247.4 415.4,247.3 415.9,247.6 416.4,247 416.9,247 417.4,246.4 417.9,248.6 418.4,250.4 418.9,252.1 419.4,251.3 419.9,249.5 420.4,248.7 420.9,248.4 421.4,247.6 421.9,245.6 422.4,246.5 422.9,247.2 423.4,247 423.9,246.2 424.4,246.6 424.9,246.3 425.4,246 425.9,246.5 426.4,246.5 426.9,245.7 427.4,245.4 427.9,245.2 428.4,245.1 428.9,246.2 429.4,246.4 429.9,245.6 430.4,245.9 430.9,245 431.4,245.2 431.9,245.6 432.4,245.3 432.9,245 433.4,244.3 433.9,244.3 434.4,244.7 434.9,244.6 435.4,244.8 435.9,244.5 436.4,244.6 436.9,244.7 437.4,244.9 437.9,244.6 438.4,244.3 438.9,244.4 439.4,244.9 439.9,244.3 440.4,244 440.9,243.9 441.4,244.4 441.9,244.5 442.4,244.8 442.9,244 443.4,244.7 443.9,244 444.4,244 444.9,243.8 445.4,244.2 445.9,244.4 446.4,244 446.9,243.7 447.4,243.3 447.9,244 448.4,243.8 448.9,243.8 449.4,243.6 449.9,243.5 450.4,243.7 450.9,244 451.4,244.3 451.9,243.8 452.4,244 452.9,243.7 453.4,243.7 453.9,243.2 454.4,244.1 454.9,244 455.4,244.4 455.9,243.5 456.4,243.8 456.9,243.3 457.4,243.8 457.9,243.6 458.4,243.9 458.9,243.6 459.4,243.9 459.9,243.4 460.4,243.9 460.9,243.5 461.4,243.4 461.9,243.6 462.4,243.8 462.9,243 463.4,242.9 463.9,243.7 464.4,243.6 464.9,242.7 465.4,242.9 465.9,243.3 466.4,243.7 466.9,243.7 467.4,244 467.9,244.1 468.4,244.6 468.9,243 469.4,243.6 469.9,244.1 470.4,243.6 470.9,243.6 471.4,243.6 471.9,243.6 472.4,243.6 472.9,243.6 473.4,243.6 473.9,243.6 474.4,243.6 474.9,243.6 475.4,243.6 475.9,243.6 476.4,243.6 476.9,243.6 477.4,243.6 477.9,243.6 478.4,243.6 478.9,243.6 479.4,243.6 479.9,243.6 480.4,243.6 480.9,243.6 481.4,243.6 481.9,243.6 482.4,243.6 482.9,243.6 483.4,243.6 483.9,243.6 484.4,243.6 484.9,243.6 485.4,243.6 485.9,243.6 486.4,243.6 486.9,243.6 487.4,243.6 487.9,243.6 488.4,243.6 488.9,243.6 489.4,243.6 489.9,243.6 490.4,243.6 490.9,243.6 491.4,243.6 491.9,243.6 492.4,243.6 492.9,243.6 493.4,243.6 493.9,243.6 494.4,243.6 494.9,243.6 495.4,243.6 495.9,243.6 496.4,243.6 496.9,243.6 497.4,243.6 497.9,243.6 498.4,243.6 498.9,243.6 499.4,243.6 499.9,243.6 500.4,243.6 500.9,243.6 501.4,243.6 501.9,243.6 502.4,243.6 502.9,243.6 503.4,243.6 503.9,243.6 504.4,243.6 504.9,243.6 505.4,243.6 505.9,243.6 506.4,243.6 506.9,243.6 507.4,243.6 507.9,243.6 508.4,243.6 508.9,243.6 509.4,243.6 509.9,243.6 510.4,243.6 510.9,243.6 511.4,243.6 511.9,243.6 512.4,243.6 512.9,243.6 513.4,243.6 513.9,243.6 514.4,243.6 514.9,243.6 515.4,243.6 515.9,243.5 516.4,243.5 516.9,243.5 517.4,243.5 517.9,243.5 518.4,243.5 518.9,243.5 519.4,243.5 519.9,243.5 520.4,243.5 520.9,243.5 521.4,243.5 521.9,243.5 522.4,243.5 522.9,243.5 523.4,243.5 523.9,243.5 524.4,243.5 524.9,243.5 525.4,243.5 525.9,243.5 526.4,243.5 526.9,243.5 527.4,243.5 527.9,243.5 528.4,243.5 528.9,243.5 529.4,243.5 529.9,243.5 530.4,243.5 530.9,243.5 531.4,243.5 531.9,243.5 532.4,243.5 532.9,243.5 533.4,243.5 533.9,243.5 534.4,243.5 534.9,243.5 535.4,243.5 535.9,243.5 536.4,243.5 536.9,243.5 537.4,243.5 537.9,243.5 538.4,243.5 538.9,243.5 539.4,243.5 539.9,243.5 540.4,243.5 540.9,243.5 541.4,243.5 541.9,243.5 542.4,243.5 542.9,243.5 543.4,243.5 543.9,243.5 544.4,243.5 544.9,243.5 545.4,243.5 545.9,243.5 546.4,243.5 546.9,243.5 547.4,243.5 547.9,243.5 548.4,243.5 548.9,243.5 549.4,243.5 549.9,243.5 550.4,243.5 550.9,243.5 551.4,243.5 551.9,243.5 552.4,243.5 552.9,243.5 553.4,243.5 553.9,243.5 554.4,243.5 554.9,243.5 555.4,243.5 555.9,243.5 556.4,243.5 556.9,243.5 557.4,243.5 557.9,243.5 558.4,243.5 558.9,243.5 559.4,243.5 559.9,243.5 560.4,243.5 560.9,243.5 561.4,243.5 561.9,243.5 562.4,243.5 562.9,243.5 563.4,243.5 563.9,243.5 564.4,243.5 564.9,243.5 565.4,243.5 565.9,243.5 566.4,243.5 566.9,243.5 567.4,243.5 567.9,243.5 568.4,243.5 568.9,243.5 569.4,243.5 569.9,243.5 570.4,243.5 570.9,243.5 571.4,243.5 571.9,243.5 572.4,243.5 572.9,243.5 573.4,243.5 573.9,243.5 574.4,243.5 574.9,243.5 575.4,243.5 575.9,243.5 576.4,243.5 576.9,243.5 577.4,243.5 577.9,243.5 578.4,243.5 578.9,243.5 579.4,243.5 579.9,243.5 580.4,243.5 580.9,243.5 581.4,243.5 581.9,243.5 582.4,243.5 582.9,243.5 583.4,243.5 583.9,243.5 584.4,243.5 584.9,243.5 585.4,243.5 585.9,243.5 586.4,243.5 586.9,243.5 587.4,243.5 587.9,243.5 588.4,243.5 588.9,243.5 589.4,243.5 589.9,243.5 590.4,243.5 590.9,243.5 591.4,243.5 591.9,243.5 592.4,243.5 592.9,243.5 593.4,243.5 593.9,243.5 594.4,243.5 594.9,243.5 595.4,243.5 595.9,243.5 596.4,243.5 596.9,243.5 597.4,243.5 597.9,243.5 598.4,243.5 598.9,243.5 599.4,243.5 599.9,243.5 600.4,243.5 600.9,243.5 601.4,243.5 601.9,243.5 602.4,243.5 602.9,243.5 603.4,243.5 603.9,243.5 604.4,243.5 604.9,243.5 605.4,243.5 605.9,243.5 606.4,243.5 606.9,243.5 607.4,243.5 607.9,243.5 608.4,243.5 608.9,243.5 609.4,243.5 609.9,243.5 610.4,243.5 610.9,243.5 611.4,243.5 611.9,243.5 612.4,243.5 612.9,243.5 613.4,243.5 613.9,243.5 614.4,243.5 614.9,243.5 615.4,243.5 615.9,243.5 616.4,243.5 616.9,243.5 617.4,243.5 617.9,243.5 618.4,243.5 618.9,243.5 619.4,243.5 619.9,243.5 620.4,243.5 620.9,243.5 621.4,243.5 621.9,243.5 622.4,243.5 622.9,243.5 623.4,243.5 623.9,243.5 624.4,243.5 624.9,243.5 625.4,243.5 625.9,243.5 626.4,243.5 626.9,243.4 627.4,243.4 627.9,243.4 628.4,243.4 628.9,243.4 629.4,243.4 629.9,243.4 630.4,243.4 630.9,243.4 631.4,243.4 631.9,243.4 632.4,243.4 632.9,243.4 633.4,243.4 633.9,243.4 634.4,243.4 634.9,243.4 635.4,243.4 635.9,243.4 636.4,243.4 636.9,243.4 637.4,243.4 637.9,243.4 638.4,243.4 638.9,243.4 639.4,243.4 639.9,243.4 640.4,243.4 640.9,243.4 641.4,243.4 641.9,243.4 642.4,243.4 642.9,243.4 643.4,243.4 643.9,243.4 644.4,243.4 644.9,243.4 645.4,243.4 645.9,243.4 646.4,243.4 646.9,243.4 647.4,243.4 647.9,243.4 648.4,243.4 648.9,243.4 649.4,243.4 649.9,243.4 650.4,243.4 650.9,243.4 651.4,243.4 651.9,243.4 652.4,243.4 652.9,243.4 653.4,243.4 653.9,243.4 654.4,243.4 654.9,243.4 655.4,243.4 655.9,243.4 656.4,243.4 656.9,243.4 657.4,243.4 657.9,243.4 658.4,243.4 658.9,243.4 659.4,243.4 659.9,243.4 660.4,243.4 660.9,243.4 661.4,243.4 661.9,243.4 662.4,243.4 662.9,243.4 663.4,243.4 663.9,243.4 664.4,243.4 664.9,243.4 665.4,243.4 665.9,243.4 666.4,243.4 666.9,243.4 667.4,243.4 667.9,243.4 668.4,243.4 668.9,243.4 669.4,243.4 669.9,243.4 670.4,243.4 670.9,243.4 671.4,243.4 671.9,243.4 672.4,243.4 672.9,243.4 673.4,243.4 673.9,243.4 674.4,243.4 674.9,243.4 675.4,243.4 675.9,243.4 676.4,243.4 676.9,243.4 677.4,243.4 677.9,243.4 678.4,243.4 678.9,243.4 679.4,243.4 679.9,243.4 680.4,243.4 680.9,243.4 681.4,243.4 681.9,243.4" fill="none" stroke="#4DBEEE" stroke-width="1.8" stroke-linejoin="round"/>
</g>
<rect x="395.4" y="230" width="286.6" height="171.3" fill="none" stroke="#262626" stroke-width="1.1"/>
<path d="M452.72 401.3v-3M452.72 230v3M510.04 401.3v-3M510.04 230v3M567.36 401.3v-3M567.36 230v3M624.68 401.3v-3M624.68 230v3M395.4 401.3h3M682 401.3h-3M395.4 383.15h3M682 383.15h-3M395.4 365h3M682 365h-3M395.4 346.85h3M682 346.85h-3M395.4 328.7h3M682 328.7h-3M395.4 310.55h3M682 310.55h-3M395.4 292.4h3M682 292.4h-3M395.4 274.25h3M682 274.25h-3M395.4 256.1h3M682 256.1h-3M395.4 237.95h3M682 237.95h-3" stroke="#262626" stroke-width="1" fill="none"/>
<text x="395.4" y="417.4" font-size="9.9" text-anchor="middle" font-weight="bold" font-family="Liberation Sans" fill="#262626">0</text>
<text x="452.72" y="417.4" font-size="9.9" text-anchor="middle" font-weight="bold" font-family="Liberation Sans" fill="#262626">0.2</text>
<text x="510.04" y="417.4" font-size="9.9" text-anchor="middle" font-weight="bold" font-family="Liberation Sans" fill="#262626">0.4</text>
<text x="567.36" y="417.4" font-size="9.9" text-anchor="middle" font-weight="bold" font-family="Liberation Sans" fill="#262626">0.6</text>
<text x="624.68" y="417.4" font-size="9.9" text-anchor="middle" font-weight="bold" font-family="Liberation Sans" fill="#262626">0.8</text>
<text x="682" y="417.4" font-size="9.9" text-anchor="middle" font-weight="bold" font-family="Liberation Sans" fill="#262626">1</text>
<text x="390" y="406.46" font-size="9.9" text-anchor="end" font-weight="bold" font-family="Liberation Sans" fill="#262626">0</text>
<text x="390" y="388.31" font-size="9.9" text-anchor="end" font-weight="bold" font-family="Liberation Sans" fill="#262626">20</text>
<text x="390" y="370.16" font-size="9.9" text-anchor="end" font-weight="bold" font-family="Liberation Sans" fill="#262626">40</text>
<text x="390" y="352.01" font-size="9.9" text-anchor="end" font-weight="bold" font-family="Liberation Sans" fill="#262626">60</text>
<text x="390" y="333.86" font-size="9.9" text-anchor="end" font-weight="bold" font-family="Liberation Sans" fill="#262626">80</text>
<text x="390" y="315.71" font-size="9.9" text-anchor="end" font-weight="bold" font-family="Liberation Sans" fill="#262626">100</text>
<text x="390" y="297.56" font-size="9.9" text-anchor="end" font-weight="bold" font-family="Liberation Sans" fill="#262626">120</text>
<text x="390" y="279.41" font-size="9.9" text-anchor="end" font-weight="bold" font-family="Liberation Sans" fill="#262626">140</text>
<text x="390" y="261.26" font-size="9.9" text-anchor="end" font-weight="bold" font-family="Liberation Sans" fill="#262626">160</text>
<text x="390" y="243.11" font-size="9.9" text-anchor="end" font-weight="bold" font-family="Liberation Sans" fill="#262626">180</text>
<text transform="translate(366.96,313.5) rotate(-90)" font-size="11.0" text-anchor="middle" font-weight="bold" font-family="Liberation Sans" fill="#1a1a1a">Converter O/P voltage(V)</text>
<text x="539.1" y="430" font-size="12.5" text-anchor="middle" font-weight="bold" font-family="Liberation Sans" fill="#1a1a1a">time (sec)</text>
<text x="540.2" y="454.9" font-size="12.0" text-anchor="middle" font-weight="bold" font-family="Liberation Serif" fill="#111">(e)</text>
<rect x="586.9" y="283.9" width="82.5" height="93" fill="#fff" stroke="#34409E" stroke-width="1.1"/>
<line x1="590.4" y1="291.6" x2="615" y2="291.6" stroke="#FF0000" stroke-width="1.2"/>
<text x="618" y="294.88" font-size="9.1" text-anchor="start" font-weight="bold" font-family="Liberation Sans" fill="#1a1a1a">ACS</text>
<line x1="590.4" y1="304.6" x2="615" y2="304.6" stroke="#D95319" stroke-width="1.4"/>
<text x="618" y="307.88" font-size="9.1" text-anchor="start" font-weight="bold" font-family="Liberation Sans" fill="#1a1a1a">MHC-FLC</text>
<line x1="590.4" y1="317.6" x2="615" y2="317.6" stroke="#EDB120" stroke-width="1.2"/>
<text x="618" y="320.88" font-size="9.1" text-anchor="start" font-weight="bold" font-family="Liberation Sans" fill="#1a1a1a">VSS-FC</text>
<line x1="590.4" y1="330.6" x2="615" y2="330.6" stroke="#333" stroke-width="1.4"/>
<text x="618" y="333.88" font-size="9.1" text-anchor="start" font-weight="bold" font-family="Liberation Sans" fill="#1a1a1a">VSS-RBFN</text>
<line x1="590.4" y1="343.6" x2="615" y2="343.6" stroke="#77AC30" stroke-width="1.4"/>
<text x="618" y="346.88" font-size="9.1" text-anchor="start" font-weight="bold" font-family="Liberation Sans" fill="#1a1a1a">ANFIS</text>
<line x1="590.4" y1="356.6" x2="615" y2="356.6" stroke="#4DBEEE" stroke-width="1.6"/>
<text x="618" y="359.88" font-size="9.1" text-anchor="start" font-weight="bold" font-family="Liberation Sans" fill="#1a1a1a">P&amp;O-PSO</text>
<line x1="590.4" y1="369.6" x2="615" y2="369.6" stroke="#A2142F" stroke-width="1.2"/>
<text x="618" y="372.88" font-size="9.1" text-anchor="start" font-weight="bold" font-family="Liberation Sans" fill="#1a1a1a">VSS-INR</text>
<text x="500.7" y="322" font-size="10.0" text-anchor="middle" font-weight="bold" font-family="Liberation Sans" fill="#1a1a1a">Partial Shading Condition-2</text>
<text x="496" y="338.5" font-size="10.0" text-anchor="middle" font-weight="bold" font-family="Liberation Sans" fill="#1a1a1a" letter-spacing="0.11">1000W/m<tspan font-size="7.2" dy="-5" dx="0.8">2</tspan><tspan dy="5">, 800W/m</tspan><tspan font-size="7.2" dy="-5" dx="0.8">2</tspan><tspan dy="5">, and 700W/m</tspan><tspan font-size="7.2" dy="-5" dx="0.8">2</tspan></text>
<path d="M93.86 473.4V656.3M151.02 473.4V656.3M208.18 473.4V656.3M265.34 473.4V656.3M36.7 635.5H322.5M36.7 614.1H322.5M36.7 592.7H322.5M36.7 571.3H322.5M36.7 549.9H322.5M36.7 528.5H322.5M36.7 507.1H322.5M36.7 485.7H322.5" stroke="#D6D6D6" stroke-width="0.8" fill="none"/>
<g clip-path="url(#clipc)">
<polyline points="39,560 39.2,560 39.5,560 39.8,560 40,560 40.2,560 40.5,560 40.8,560 41,545 41.2,545 41.5,545 41.8,545 42,545 42.2,545 42.5,545 42.8,545 43,545 43.2,545 43.5,545 43.8,545 44,545 44.2,540.5 44.5,540.5 44.8,540.5 45,540.5 45.2,540.5 45.5,540.5 45.8,540.5 46,540.5 46.2,540.5 46.5,540.5 46.8,540.5 47,540.5 47.2,540.5 47.5,540.5 47.8,540.5 48,540.5 48.2,540.5 48.5,540.5 48.8,540.5 49,540.5 49.2,540.5 49.5,540.5 49.8,540.5 50,540.5 50.2,540.5 50.5,540.5 50.8,540.5 51,540.5 51.2,540.5 51.5,540.5 51.8,540.5 52,540.5 52.2,540.5 52.5,540.5 52.8,540.5 53,540.5 53.2,540.5 53.5,540.5 53.8,540.5 54,540.5 54.2,540.5 54.5,540.5 54.8,540.5 55,540.5 55.2,540.5 55.5,540.5 55.8,540.5 56,540.5 56.2,540.5 56.5,540.5 56.8,540.5 57,540.5 57.2,540.5 57.5,540.5 57.8,540.5 58,540.5 58.2,540.5 58.5,540.5 58.8,540.5 59,540.5 59.2,540.5 59.5,540.5 59.8,540.5 60,540.5 60.2,540.5 60.5,540.5 60.8,540.5 61,540.5 61.2,540.5 61.5,540.5 61.8,540.5 62,540.5 62.2,540.5 62.5,540.5 62.8,540.5 63,540.5 63.2,540.5 63.5,540.5 63.8,540.5 64,540.5 64.2,540.5 64.5,540.5 64.8,540.5 65,540.5 65.2,540.5 65.5,540.5 65.8,540.5 66,540.5 66.2,540.5 66.5,540.5 66.8,540.5 67,540.5 67.2,540.5 67.5,540.5 67.8,540.5 68,540.5 68.2,540.5 68.5,540.5 68.8,540.5 69,540.5 69.2,540.5 69.5,540.5 69.8,540.5 70,540.5 70.2,540.5 70.5,540.5 70.8,540.5 71,540.5 71.2,540.5 71.5,540.5 71.8,540.5 72,540.5 72.2,540.5 72.5,540.5 72.8,540.5 73,540.5 73.2,540.5 73.5,540.5 73.8,540.5 74,540.5 74.2,540.5 74.5,540.5 74.8,540.5 75,540.5 75.2,540.5 75.5,540.5 75.8,540.5 76,540.5 76.2,540.5 76.5,540.5 76.8,540.5 77,540.5 77.2,540.5 77.5,540.5 77.8,540.5 78,540.5 78.2,540.5 78.5,540.5 78.8,540.5 79,540.5 79.2,540.5 79.5,540.5 79.8,540.5 80,540.5 80.2,540.5 80.5,540.5 80.8,540.5 81,540.5 81.2,540.5 81.5,540.5 81.8,540.5 82,540.5 82.2,540.5 82.5,540.5 82.8,540.5 83,540.5 83.2,540.5 83.5,540.5 83.8,540.5 84,540.5 84.2,540.5 84.5,540.5 84.8,540.5 85,540.5 85.2,540.5 85.5,540.5 85.8,540.5 86,540.5 86.2,540.5 86.5,540.5 86.8,540.5 87,540.5 87.2,540.5 87.5,540.5 87.8,540.5 88,540.5 88.2,540.5 88.5,540.5 88.8,540.5 89,540.5 89.2,540.5 89.5,540.5 89.8,540.5 90,540.5 90.2,540.5 90.5,540.5 90.8,540.5 91,540.5 91.2,540.5 91.5,540.5 91.8,540.5 92,540.5 92.2,540.5 92.5,540.5 92.8,540.5 93,540.5 93.2,540.5 93.5,540.5 93.8,540.5 94,540.5 94.2,540.5 94.5,540.5 94.8,540.5 95,540.5 95.2,540.5 95.5,540.5 95.8,540.5 96,540.5 96.2,540.5 96.5,540.5 96.8,540.5 97,540.5 97.2,540.5 97.5,540.5 97.8,540.5 98,540.5 98.2,540.5 98.5,540.5 98.8,540.5 99,540.5 99.2,540.5 99.5,540.5 99.8,540.5 100,540.5 100.2,540.5 100.5,540.5 100.8,540.5 101,540.5 101.2,540.5 101.5,540.5 101.8,540.5 102,540.5 102.2,540.5 102.5,540.5 102.8,540.5 103,540.5 103.2,540.5 103.5,540.5 103.8,540.5 104,540.5 104.2,540.5 104.5,540.5 104.8,540.5 105,540.5 105.2,540.5 105.5,540.5 105.8,540.5 106,540.5 106.2,540.5 106.5,540.5 106.8,540.5 107,540.5 107.2,540.5 107.5,540.5 107.8,540.5 108,540.5 108.2,540.5 108.5,540.5 108.8,540.5 109,540.5 109.2,540.5 109.5,540.5 109.8,540.5 110,540.5 110.2,540.5 110.5,540.5 110.8,540.5 111,540.5 111.2,540.5 111.5,540.5 111.8,540.5 112,540.5 112.2,540.5 112.5,540.5 112.8,540.5 113,540.5 113.2,540.5 113.5,540.5 113.8,540.5 114,540.5 114.2,540.5 114.5,540.5 114.8,540.5 115,540.5 115.2,540.5 115.5,540.5 115.8,540.5 116,540.5 116.2,540.5 116.5,540.5 116.8,540.5 117,540.5 117.2,540.5 117.5,540.5 117.8,540.5 118,540.5 118.2,540.5 118.5,540.5 118.8,540.5 119,540.5 119.2,540.5 119.5,540.5 119.8,540.5 120,540.5 120.2,540.5 120.5,540.5 120.8,540.5 121,540.5 121.2,540.5 121.5,540.5 121.8,540.5 122,540.5 122.2,540.5 122.5,540.5 122.8,540.5 123,540.5 123.2,540.5 123.5,540.5 123.8,540.5 124,540.5 124.2,540.5 124.5,540.5 124.8,540.5 125,540.5 125.2,540.5 125.5,540.5 125.8,540.5 126,540.5 126.2,540.5 126.5,540.5 126.8,540.5 127,540.5 127.2,540.5 127.5,540.5 127.8,540.5 128,540.5 128.2,540.5 128.5,540.5 128.8,540.5 129,540.5 129.2,540.5 129.5,540.5 129.8,540.5 130,540.5 130.2,540.5 130.5,540.5 130.8,540.5 131,540.5 131.2,540.5 131.5,540.5 131.8,540.5 132,540.5 132.2,540.5 132.5,540.5 132.8,540.5 133,540.5 133.2,540.5 133.5,540.5 133.8,540.5 134,540.5 134.2,540.5 134.5,540.5 134.8,540.5 135,540.5 135.2,540.5 135.5,540.5 135.8,540.5 136,540.5 136.2,540.5 136.5,540.5 136.8,540.5 137,540.5 137.2,540.5 137.5,540.5 137.8,540.5 138,540.5 138.2,540.5 138.5,540.5 138.8,540.5 139,540.5 139.2,540.5 139.5,540.5 139.8,540.5 140,540.5 140.2,540.5 140.5,540.5 140.8,540.5 141,540.5 141.2,540.5 141.5,540.5 141.8,540.5 142,540.5 142.2,540.5 142.5,540.5 142.8,540.5 143,540.5 143.2,540.5 143.5,540.5 143.8,540.5 144,540.5 144.2,540.5 144.5,540.5 144.8,540.5 145,540.5 145.2,540.5 145.5,540.5 145.8,540.5 146,540.5 146.2,540.5 146.5,540.5 146.8,540.5 147,540.5 147.2,540.5 147.5,540.5 147.8,540.5 148,540.5 148.2,540.5 148.5,540.5 148.8,540.5 149,540.5 149.2,540.5 149.5,540.5 149.8,540.5 150,540.5 150.2,540.5 150.5,540.5 150.8,540.5 151,540.5 151.2,540.5 151.5,540.5 151.8,540.5 152,540.5 152.2,540.5 152.5,540.5 152.8,540.5 153,540.5 153.2,540.5 153.5,540.5 153.8,540.5 154,540.5 154.2,540.5 154.5,540.5 154.8,540.5 155,540.5 155.2,540.5 155.5,540.5 155.8,540.5 156,540.5 156.2,540.5 156.5,540.5 156.8,540.5 157,540.5 157.2,540.5 157.5,540.5 157.8,540.5 158,540.5 158.2,540.5 158.5,540.5 158.8,540.5 159,540.5 159.2,540.5 159.5,540.5 159.8,540.5 160,540.5 160.2,540.5 160.5,540.5 160.8,540.5 161,540.5 161.2,540.5 161.5,540.5 161.8,540.5 162,540.5 162.2,540.5 162.5,540.5 162.8,540.5 163,540.5 163.2,540.5 163.5,540.5 163.8,540.5 164,540.5 164.2,540.5 164.5,540.5 164.8,540.5 165,540.5 165.2,540.5 165.5,540.5 165.8,540.5 166,540.5 166.2,540.5 166.5,540.5 166.8,540.5 167,540.5 167.2,540.5 167.5,540.5 167.8,540.5 168,540.5 168.2,540.5 168.5,540.5 168.8,540.5 169,540.5 169.2,540.5 169.5,540.5 169.8,540.5 170,540.5 170.2,540.5 170.5,540.5 170.8,540.5 171,540.5 171.2,540.5 171.5,540.5 171.8,540.5 172,540.5 172.2,540.5 172.5,540.5 172.8,540.5 173,540.5 173.2,540.5 173.5,540.5 173.8,540.5 174,540.5 174.2,540.5 174.5,540.5 174.8,540.5 175,540.5 175.2,540.5 175.5,540.5 175.8,540.5 176,540.5 176.2,540.5 176.5,540.5 176.8,540.5 177,540.5 177.2,540.5 177.5,540.5 177.8,540.5 178,540.5 178.2,540.5 178.5,540.5 178.8,540.5 179,540.5 179.2,540.5 179.5,540.5 179.8,540.5 180,540.5 180.2,540.5 180.5,540.5 180.8,540.5 181,540.5 181.2,540.5 181.5,540.5 181.8,540.5 182,540.5 182.2,540.5 182.5,540.5 182.8,540.5 183,540.5 183.2,540.5 183.5,540.5 183.8,540.5 184,540.5 184.2,540.5 184.5,540.5 184.8,540.5 185,540.5 185.2,540.5 185.5,540.5 185.8,540.5 186,540.5 186.2,540.5 186.5,540.5 186.8,540.5 187,540.5 187.2,540.5 187.5,540.5 187.8,540.5 188,540.5 188.2,540.5 188.5,540.5 188.8,540.5 189,540.5 189.2,540.5 189.5,540.5 189.8,540.5 190,540.5 190.2,540.5 190.5,540.5 190.8,540.5 191,540.5 191.2,540.5 191.5,540.5 191.8,540.5 192,540.5 192.2,540.5 192.5,540.5 192.8,540.5 193,540.5 193.2,540.5 193.5,540.5 193.8,540.5 194,540.5 194.2,540.5 194.5,540.5 194.8,540.5 195,540.5 195.2,540.5 195.5,540.5 195.8,540.5 196,540.5 196.2,540.5 196.5,540.5 196.8,540.5 197,540.5 197.2,540.5 197.5,540.5 197.8,540.5 198,540.5 198.2,540.5 198.5,540.5 198.8,540.5 199,540.5 199.2,540.5 199.5,540.5 199.8,540.5 200,540.5 200.2,540.5 200.5,540.5 200.8,540.5 201,540.5 201.2,540.5 201.5,540.5 201.8,540.5 202,540.5 202.2,540.5 202.5,540.5 202.8,540.5 203,540.5 203.2,540.5 203.5,540.5 203.8,540.5 204,540.5 204.2,540.5 204.5,540.5 204.8,540.5 205,540.5 205.2,540.5 205.5,540.5 205.8,540.5 206,540.5 206.2,540.5 206.5,540.5 206.8,540.5 207,540.5 207.2,540.5 207.5,540.5 207.8,540.5 208,540.5 208.2,540.5 208.5,540.5 208.8,540.5 209,540.5 209.2,540.5 209.5,540.5 209.8,540.5 210,540.5 210.2,540.5 210.5,540.5 210.8,540.5 211,540.5 211.2,540.5 211.5,540.5 211.8,540.5 212,540.5 212.2,540.5 212.5,540.5 212.8,540.5 213,540.5 213.2,540.5 213.5,540.5 213.8,540.5 214,540.5 214.2,540.5 214.5,540.5 214.8,540.5 215,540.5 215.2,540.5 215.5,540.5 215.8,540.5 216,540.5 216.2,540.5 216.5,540.5 216.8,540.5 217,540.5 217.2,540.5 217.5,540.5 217.8,540.5 218,540.5 218.2,540.5 218.5,540.5 218.8,540.5 219,540.5 219.2,540.5 219.5,540.5 219.8,540.5 220,540.5 220.2,540.5 220.5,540.5 220.8,540.5 221,540.5 221.2,540.5 221.5,540.5 221.8,540.5 222,540.5 222.2,540.5 222.5,540.5 222.8,540.5 223,540.5 223.2,540.5 223.5,540.5 223.8,540.5 224,540.5 224.2,540.5 224.5,540.5 224.8,540.5 225,540.5 225.2,540.5 225.5,540.5 225.8,540.5 226,540.5 226.2,540.5 226.5,540.5 226.8,540.5 227,540.5 227.2,540.5 227.5,540.5 227.8,540.5 228,540.5 228.2,540.5 228.5,540.5 228.8,540.5 229,540.5 229.2,540.5 229.5,540.5 229.8,540.5 230,540.5 230.2,540.5 230.5,540.5 230.8,540.5 231,540.5 231.2,540.5 231.5,540.5 231.8,540.5 232,540.5 232.2,540.5 232.5,540.5 232.8,540.5 233,540.5 233.2,540.5 233.5,540.5 233.8,540.5 234,540.5 234.2,540.5 234.5,540.5 234.8,540.5 235,540.5 235.2,540.5 235.5,540.5 235.8,540.5 236,540.5 236.2,540.5 236.5,540.5 236.8,540.5 237,540.5 237.2,540.5 237.5,540.5 237.8,540.5 238,540.5 238.2,540.5 238.5,540.5 238.8,540.5 239,540.5 239.2,540.5 239.5,540.5 239.8,540.5 240,540.5 240.2,540.5 240.5,540.5 240.8,540.5 241,540.5 241.2,540.5 241.5,540.5 241.8,540.5 242,540.5 242.2,540.5 242.5,540.5 242.8,540.5 243,540.5 243.2,540.5 243.5,540.5 243.8,540.5 244,540.5 244.2,540.5 244.5,540.5 244.8,540.5 245,540.5 245.2,540.5 245.5,540.5 245.8,540.5 246,540.5 246.2,540.5 246.5,540.5 246.8,540.5 247,540.5 247.2,540.5 247.5,540.5 247.8,540.5 248,540.5 248.2,540.5 248.5,540.5 248.8,540.5 249,540.5 249.2,540.5 249.5,540.5 249.8,540.5 250,540.5 250.2,540.5 250.5,540.5 250.8,540.5 251,540.5 251.2,540.5 251.5,540.5 251.8,540.5 252,540.5 252.2,540.5 252.5,540.5 252.8,540.5 253,540.5 253.2,540.5 253.5,540.5 253.8,540.5 254,540.5 254.2,540.5 254.5,540.5 254.8,540.5 255,540.5 255.2,540.5 255.5,540.5 255.8,540.5 256,540.5 256.2,540.5 256.5,540.5 256.8,540.5 257,540.5 257.2,540.5 257.5,540.5 257.8,540.5 258,540.5 258.2,540.5 258.5,540.5 258.8,540.5 259,540.5 259.2,540.5 259.5,540.5 259.8,540.5 260,540.5 260.2,540.5 260.5,540.5 260.8,540.5 261,540.5 261.2,540.5 261.5,540.5 261.8,540.5 262,540.5 262.2,540.5 262.5,540.5 262.8,540.5 263,540.5 263.2,540.5 263.5,540.5 263.8,540.5 264,540.5 264.2,540.5 264.5,540.5 264.8,540.5 265,540.5 265.2,540.5 265.5,540.5 265.8,540.5 266,540.5 266.2,540.5 266.5,540.5 266.8,540.5 267,540.5 267.2,540.5 267.5,540.5 267.8,540.5 268,540.5 268.2,540.5 268.5,540.5 268.8,540.5 269,540.5 269.2,540.5 269.5,540.5 269.8,540.5 270,540.5 270.2,540.5 270.5,540.5 270.8,540.5 271,540.5 271.2,540.5 271.5,540.5 271.8,540.5 272,540.5 272.2,540.5 272.5,540.5 272.8,540.5 273,540.5 273.2,540.5 273.5,540.5 273.8,540.5 274,540.5 274.2,540.5 274.5,540.5 274.8,540.5 275,540.5 275.2,540.5 275.5,540.5 275.8,540.5 276,540.5 276.2,540.5 276.5,540.5 276.8,540.5 277,540.5 277.2,540.5 277.5,540.5 277.8,540.5 278,540.5 278.2,540.5 278.5,540.5 278.8,540.5 279,540.5 279.2,540.5 279.5,540.5 279.8,540.5 280,540.5 280.2,540.5 280.5,540.5 280.8,540.5 281,540.5 281.2,540.5 281.5,540.5 281.8,540.5 282,540.5 282.2,540.5 282.5,540.5 282.8,540.5 283,540.5 283.2,540.5 283.5,540.5 283.8,540.5 284,540.5 284.2,540.5 284.5,540.5 284.8,540.5 285,540.5 285.2,540.5 285.5,540.5 285.8,540.5 286,540.5 286.2,540.5 286.5,540.5 286.8,540.5 287,540.5 287.2,540.5 287.5,540.5 287.8,540.5 288,540.5 288.2,540.5 288.5,540.5 288.8,540.5 289,540.5 289.2,540.5 289.5,540.5 289.8,540.5 290,540.5 290.2,540.5 290.5,540.5 290.8,540.5 291,540.5 291.2,540.5 291.5,540.5 291.8,540.5 292,540.5 292.2,540.5 292.5,540.5 292.8,540.5 293,540.5 293.2,540.5 293.5,540.5 293.8,540.5 294,540.5 294.2,540.5 294.5,540.5 294.8,540.5 295,540.5 295.2,540.5 295.5,540.5 295.8,540.5 296,540.5 296.2,540.5 296.5,540.5 296.8,540.5 297,540.5 297.2,540.5 297.5,540.5 297.8,540.5 298,540.5 298.2,540.5 298.5,540.5 298.8,540.5 299,540.5 299.2,540.5 299.5,540.5 299.8,540.5 300,540.5 300.2,540.5 300.5,540.5 300.8,540.5 301,540.5 301.2,540.5 301.5,540.5 301.8,540.5 302,540.5 302.2,540.5 302.5,540.5 302.8,540.5 303,540.5 303.2,540.5 303.5,540.5 303.8,540.5 304,540.5 304.2,540.5 304.5,540.5 304.8,540.5 305,540.5 305.2,540.5 305.5,540.5 305.8,540.5 306,540.5 306.2,540.5 306.5,540.5 306.8,540.5 307,540.5 307.2,540.5 307.5,540.5 307.8,540.5 308,540.5 308.2,540.5 308.5,540.5 308.8,540.5 309,540.5 309.2,540.5 309.5,540.5 309.8,540.5 310,540.5 310.2,540.5 310.5,540.5 310.8,540.5 311,540.5 311.2,540.5 311.5,540.5 311.8,540.5 312,540.5 312.2,540.5 312.5,540.5 312.8,540.5 313,540.5 313.2,540.5 313.5,540.5 313.8,540.5 314,540.5 314.2,540.5 314.5,540.5 314.8,540.5 315,540.5 315.2,540.5 315.5,540.5 315.8,540.5 316,540.5 316.2,540.5 316.5,540.5 316.8,540.5 317,540.5 317.2,540.5 317.5,540.5 317.8,540.5 318,540.5 318.2,540.5 318.5,540.5 318.8,540.5 319,540.5 319.2,540.5 319.5,540.5 319.8,540.5 320,540.5 320.2,540.5 320.5,540.5 320.8,540.5 321,540.5 321.2,540.5 321.5,540.5 321.8,540.5 322,540.5 322.2,540.5 322.5,540.5" fill="none" stroke="#9DC97A" stroke-width="1.2" stroke-linejoin="miter"/>
<polyline points="37.5,600 37.8,600 38,600 38.2,600 38.5,600 38.8,600 39,600 39.2,600 39.5,600 39.8,600 40,581.7 40.2,581.7 40.5,581.7 40.8,581.7 41,581.7 41.2,581.7 41.5,581.7 41.8,581.7 42,581.7 42.2,581.7 42.5,581.7 42.8,581.7 43,581.7 43.2,581.7 43.5,581.7 43.8,581.7 44,581.7 44.2,581.7 44.5,581.7 44.8,581.7 45,581.7 45.2,581.7 45.5,581.7 45.8,581.7 46,581.7 46.2,581.7 46.5,581.7 46.8,581.7 47,581.7 47.2,581.7 47.5,581.7 47.8,581.7 48,581.7 48.2,581.7 48.5,581.7 48.8,581.7 49,581.7 49.2,581.7 49.5,581.7 49.8,581.7 50,581.7 50.2,581.7 50.5,581.7 50.8,581.7 51,581.7 51.2,581.7 51.5,581.7 51.8,581.7 52,581.7 52.2,581.7 52.5,581.7 52.8,581.7 53,581.7 53.2,583.7 53.5,583.7 53.8,583.7 54,583.7 54.2,583.7 54.5,583.7 54.8,583.7 55,583.7 55.2,539.5 55.5,539.5 55.8,539.5 56,539.5 56.2,539.5 56.5,583.7 56.8,583.7 57,583.7 57.2,583.7 57.5,583.7 57.8,583.7 58,583.7 58.2,583.7 58.5,539.5 58.8,539.5 59,539.5 59.2,539.5 59.5,539.5 59.8,539.5 60,575 60.2,575 60.5,575 60.8,575 61,575 61.2,575 61.5,575 61.8,575 62,539.5 62.2,539.5 62.5,539.5 62.8,539.5 63,539.5 63.2,539.5 63.5,583.7 63.8,583.7 64,583.7 64.2,583.7 64.5,583.7 64.8,583.7 65,583.7 65.2,583.7 65.5,583.7 65.8,583.7 66,583.7 66.2,583.7 66.5,583.7 66.8,583.7 67,539.5 67.2,539.5 67.5,539.5 67.8,539.5 68,539.5 68.2,539.5 68.5,539.5 68.8,539.5 69,539.5 69.2,539.5 69.5,539.5 69.8,539.5 70,539.5 70.2,539.5 70.5,539.5 70.8,539.5 71,539.5 71.2,539.5 71.5,539.5 71.8,539.5 72,539.5 72.2,539.5 72.5,539.5 72.8,539.5 73,539.5 73.2,539.5 73.5,539.5 73.8,539.5 74,539.5 74.2,539.5 74.5,539.5 74.8,539.5 75,539.5 75.2,539.5 75.5,539.5 75.8,539.5 76,539.5 76.2,539.5 76.5,539.5 76.8,539.5 77,539.5 77.2,539.5 77.5,539.5 77.8,539.5 78,539.5 78.2,539.5 78.5,539.5 78.8,539.5 79,539.5 79.2,539.5 79.5,539.5 79.8,539.5 80,539.5 80.2,539.5 80.5,539.5 80.8,539.5 81,539.5 81.2,539.5 81.5,539.5 81.8,539.5 82,539.5 82.2,539.5 82.5,539.5 82.8,539.5 83,539.5 83.2,539.5 83.5,539.5 83.8,539.5 84,539.5 84.2,539.5 84.5,539.5 84.8,539.5 85,539.5 85.2,539.5 85.5,539.5 85.8,539.5 86,539.5 86.2,539.5 86.5,539.5 86.8,539.5 87,539.5 87.2,539.5 87.5,539.5 87.8,539.5 88,539.5 88.2,539.5 88.5,539.5 88.8,539.5 89,539.5 89.2,539.5 89.5,539.5 89.8,539.5 90,539.5 90.2,539.5 90.5,539.5 90.8,539.5 91,539.5 91.2,539.5 91.5,539.5 91.8,539.5 92,539.5 92.2,539.5 92.5,539.5 92.8,539.5 93,539.5 93.2,539.5 93.5,539.5 93.8,539.5 94,539.5 94.2,539.5 94.5,539.5 94.8,539.5 95,539.5 95.2,539.5 95.5,539.5 95.8,539.5 96,539.5 96.2,539.5 96.5,539.5 96.8,539.5 97,539.5 97.2,539.5 97.5,539.5 97.8,539.5 98,539.5 98.2,539.5 98.5,539.5 98.8,539.5 99,539.5 99.2,539.5 99.5,539.5 99.8,539.5 100,539.5 100.2,539.5 100.5,539.5 100.8,539.5 101,539.5 101.2,539.5 101.5,539.5 101.8,539.5 102,539.5 102.2,539.5 102.5,539.5 102.8,539.5 103,539.5 103.2,539.5 103.5,539.5 103.8,539.5 104,539.5 104.2,539.5 104.5,539.5 104.8,539.5 105,539.5 105.2,539.5 105.5,539.5 105.8,539.5 106,539.5 106.2,539.5 106.5,539.5 106.8,539.5 107,539.5 107.2,539.5 107.5,539.5 107.8,539.5 108,539.5 108.2,539.5 108.5,539.5 108.8,539.5 109,539.5 109.2,539.5 109.5,539.5 109.8,539.5 110,539.5 110.2,539.5 110.5,539.5 110.8,539.5 111,539.5 111.2,539.5 111.5,539.5 111.8,539.5 112,539.5 112.2,539.5 112.5,539.5 112.8,539.5 113,539.5 113.2,539.5 113.5,539.5 113.8,539.5 114,539.5 114.2,539.5 114.5,539.5 114.8,539.5 115,539.5 115.2,539.5 115.5,539.5 115.8,539.5 116,539.5 116.2,539.5 116.5,539.5 116.8,539.5 117,539.5 117.2,539.5 117.5,539.5 117.8,539.5 118,539.5 118.2,539.5 118.5,539.5 118.8,539.5 119,539.5 119.2,539.5 119.5,539.5 119.8,539.5 120,539.5 120.2,539.5 120.5,539.5 120.8,539.5 121,539.5 121.2,539.5 121.5,539.5 121.8,539.5 122,539.5 122.2,539.5 122.5,539.5 122.8,539.5 123,539.5 123.2,539.5 123.5,539.5 123.8,539.5 124,539.5 124.2,539.5 124.5,539.5 124.8,539.5 125,539.5 125.2,539.5 125.5,539.5 125.8,539.5 126,539.5 126.2,539.5 126.5,539.5 126.8,539.5 127,539.5 127.2,539.5 127.5,539.5 127.8,539.5 128,539.5 128.2,539.5 128.5,539.5 128.8,539.5 129,539.5 129.2,539.5 129.5,539.5 129.8,539.5 130,539.5 130.2,539.5 130.5,539.5 130.8,539.5 131,539.5 131.2,539.5 131.5,539.5 131.8,539.5 132,539.5 132.2,539.5 132.5,539.5 132.8,539.5 133,539.5 133.2,539.5 133.5,539.5 133.8,539.5 134,539.5 134.2,539.5 134.5,539.5 134.8,539.5 135,539.5 135.2,539.5 135.5,539.5 135.8,539.5 136,539.5 136.2,539.5 136.5,539.5 136.8,539.5 137,539.5 137.2,539.5 137.5,539.5 137.8,539.5 138,539.5 138.2,539.5 138.5,539.5 138.8,539.5 139,539.5 139.2,539.5 139.5,539.5 139.8,539.5 140,539.5 140.2,539.5 140.5,539.5 140.8,539.5 141,539.5 141.2,539.5 141.5,539.5 141.8,539.5 142,539.5 142.2,539.5 142.5,539.5 142.8,539.5 143,539.5 143.2,539.5 143.5,539.5 143.8,539.5 144,539.5 144.2,539.5 144.5,539.5 144.8,539.5 145,539.5 145.2,539.5 145.5,539.5 145.8,539.5 146,539.5 146.2,539.5 146.5,539.5 146.8,539.5 147,539.5 147.2,539.5 147.5,539.5 147.8,539.5 148,539.5 148.2,539.5 148.5,539.5 148.8,539.5 149,539.5 149.2,539.5 149.5,539.5 149.8,539.5 150,539.5 150.2,539.5 150.5,539.5 150.8,539.5 151,539.5 151.2,539.5 151.5,539.5 151.8,539.5 152,539.5 152.2,539.5 152.5,539.5 152.8,539.5 153,539.5 153.2,539.5 153.5,539.5 153.8,539.5 154,539.5 154.2,539.5 154.5,539.5 154.8,539.5 155,539.5 155.2,539.5 155.5,539.5 155.8,539.5 156,539.5 156.2,539.5 156.5,539.5 156.8,539.5 157,539.5 157.2,539.5 157.5,539.5 157.8,539.5 158,539.5 158.2,539.5 158.5,539.5 158.8,539.5 159,539.5 159.2,539.5 159.5,539.5 159.8,539.5 160,539.5 160.2,539.5 160.5,539.5 160.8,539.5 161,539.5 161.2,539.5 161.5,539.5 161.8,539.5 162,539.5 162.2,539.5 162.5,539.5 162.8,539.5 163,539.5 163.2,539.5 163.5,539.5 163.8,539.5 164,539.5 164.2,539.5 164.5,539.5 164.8,539.5 165,539.5 165.2,539.5 165.5,539.5 165.8,539.5 166,539.5 166.2,539.5 166.5,539.5 166.8,539.5 167,539.5 167.2,539.5 167.5,539.5 167.8,539.5 168,539.5 168.2,539.5 168.5,539.5 168.8,539.5 169,539.5 169.2,539.5 169.5,539.5 169.8,539.5 170,539.5 170.2,539.5 170.5,539.5 170.8,539.5 171,539.5 171.2,539.5 171.5,539.5 171.8,539.5 172,539.5 172.2,539.5 172.5,539.5 172.8,539.5 173,539.5 173.2,539.5 173.5,539.5 173.8,539.5 174,539.5 174.2,539.5 174.5,539.5 174.8,539.5 175,539.5 175.2,539.5 175.5,539.5 175.8,539.5 176,539.5 176.2,539.5 176.5,539.5 176.8,539.5 177,539.5 177.2,539.5 177.5,539.5 177.8,539.5 178,539.5 178.2,539.5 178.5,539.5 178.8,539.5 179,539.5 179.2,539.5 179.5,539.5 179.8,539.5 180,539.5 180.2,539.5 180.5,539.5 180.8,539.5 181,539.5 181.2,539.5 181.5,539.5 181.8,539.5 182,539.5 182.2,539.5 182.5,539.5 182.8,539.5 183,539.5 183.2,539.5 183.5,539.5 183.8,539.5 184,539.5 184.2,539.5 184.5,539.5 184.8,539.5 185,539.5 185.2,539.5 185.5,539.5 185.8,539.5 186,539.5 186.2,539.5 186.5,539.5 186.8,539.5 187,539.5 187.2,539.5 187.5,539.5 187.8,539.5 188,539.5 188.2,539.5 188.5,539.5 188.8,539.5 189,539.5 189.2,539.5 189.5,539.5 189.8,539.5 190,539.5 190.2,539.5 190.5,539.5 190.8,539.5 191,539.5 191.2,539.5 191.5,539.5 191.8,539.5 192,539.5 192.2,539.5 192.5,539.5 192.8,539.5 193,539.5 193.2,539.5 193.5,539.5 193.8,539.5 194,539.5 194.2,539.5 194.5,539.5 194.8,539.5 195,539.5 195.2,539.5 195.5,539.5 195.8,539.5 196,539.5 196.2,539.5 196.5,539.5 196.8,539.5 197,539.5 197.2,539.5 197.5,539.5 197.8,539.5 198,539.5 198.2,539.5 198.5,539.5 198.8,539.5 199,539.5 199.2,539.5 199.5,539.5 199.8,539.5 200,539.5 200.2,539.5 200.5,539.5 200.8,539.5 201,539.5 201.2,539.5 201.5,539.5 201.8,539.5 202,539.5 202.2,539.5 202.5,539.5 202.8,539.5 203,539.5 203.2,539.5 203.5,539.5 203.8,539.5 204,539.5 204.2,539.5 204.5,539.5 204.8,539.5 205,539.5 205.2,539.5 205.5,539.5 205.8,539.5 206,539.5 206.2,539.5 206.5,539.5 206.8,539.5 207,539.5 207.2,539.5 207.5,539.5 207.8,539.5 208,539.5 208.2,539.5 208.5,539.5 208.8,539.5 209,539.5 209.2,539.5 209.5,539.5 209.8,539.5 210,539.5 210.2,539.5 210.5,539.5 210.8,539.5 211,539.5 211.2,539.5 211.5,539.5 211.8,539.5 212,539.5 212.2,539.5 212.5,539.5 212.8,539.5 213,539.5 213.2,539.5 213.5,539.5 213.8,539.5 214,539.5 214.2,539.5 214.5,539.5 214.8,539.5 215,539.5 215.2,539.5 215.5,539.5 215.8,539.5 216,539.5 216.2,539.5 216.5,539.5 216.8,539.5 217,539.5 217.2,539.5 217.5,539.5 217.8,539.5 218,539.5 218.2,539.5 218.5,539.5 218.8,539.5 219,539.5 219.2,539.5 219.5,539.5 219.8,539.5 220,539.5 220.2,539.5 220.5,539.5 220.8,539.5 221,539.5 221.2,539.5 221.5,539.5 221.8,539.5 222,539.5 222.2,539.5 222.5,539.5 222.8,539.5 223,539.5 223.2,539.5 223.5,539.5 223.8,539.5 224,539.5 224.2,539.5 224.5,539.5 224.8,539.5 225,539.5 225.2,539.5 225.5,539.5 225.8,539.5 226,539.5 226.2,539.5 226.5,539.5 226.8,539.5 227,539.5 227.2,539.5 227.5,539.5 227.8,539.5 228,539.5 228.2,539.5 228.5,539.5 228.8,539.5 229,539.5 229.2,539.5 229.5,539.5 229.8,539.5 230,539.5 230.2,539.5 230.5,539.5 230.8,539.5 231,539.5 231.2,539.5 231.5,539.5 231.8,539.5 232,539.5 232.2,539.5 232.5,539.5 232.8,539.5 233,539.5 233.2,539.5 233.5,539.5 233.8,539.5 234,539.5 234.2,539.5 234.5,539.5 234.8,539.5 235,539.5 235.2,539.5 235.5,539.5 235.8,539.5 236,539.5 236.2,539.5 236.5,539.5 236.8,539.5 237,539.5 237.2,539.5 237.5,539.5 237.8,539.5 238,539.5 238.2,539.5 238.5,539.5 238.8,539.5 239,539.5 239.2,539.5 239.5,539.5 239.8,539.5 240,539.5 240.2,539.5 240.5,539.5 240.8,539.5 241,539.5 241.2,539.5 241.5,539.5 241.8,539.5 242,539.5 242.2,539.5 242.5,539.5 242.8,539.5 243,539.5 243.2,539.5 243.5,539.5 243.8,539.5 244,539.5 244.2,539.5 244.5,539.5 244.8,539.5 245,539.5 245.2,539.5 245.5,539.5 245.8,539.5 246,539.5 246.2,539.5 246.5,539.5 246.8,539.5 247,539.5 247.2,539.5 247.5,539.5 247.8,539.5 248,539.5 248.2,539.5 248.5,539.5 248.8,539.5 249,539.5 249.2,539.5 249.5,539.5 249.8,539.5 250,539.5 250.2,539.5 250.5,539.5 250.8,539.5 251,539.5 251.2,539.5 251.5,539.5 251.8,539.5 252,539.5 252.2,539.5 252.5,539.5 252.8,539.5 253,539.5 253.2,539.5 253.5,539.5 253.8,539.5 254,539.5 254.2,539.5 254.5,539.5 254.8,539.5 255,539.5 255.2,539.5 255.5,539.5 255.8,539.5 256,539.5 256.2,539.5 256.5,539.5 256.8,539.5 257,539.5 257.2,539.5 257.5,539.5 257.8,539.5 258,539.5 258.2,539.5 258.5,539.5 258.8,539.5 259,539.5 259.2,539.5 259.5,539.5 259.8,539.5 260,539.5 260.2,539.5 260.5,539.5 260.8,539.5 261,539.5 261.2,539.5 261.5,539.5 261.8,539.5 262,539.5 262.2,539.5 262.5,539.5 262.8,539.5 263,539.5 263.2,539.5 263.5,539.5 263.8,539.5 264,539.5 264.2,539.5 264.5,539.5 264.8,539.5 265,539.5 265.2,539.5 265.5,539.5 265.8,539.5 266,539.5 266.2,539.5 266.5,539.5 266.8,539.5 267,539.5 267.2,539.5 267.5,539.5 267.8,539.5 268,539.5 268.2,539.5 268.5,539.5 268.8,539.5 269,539.5 269.2,539.5 269.5,539.5 269.8,539.5 270,539.5 270.2,539.5 270.5,539.5 270.8,539.5 271,539.5 271.2,539.5 271.5,539.5 271.8,539.5 272,539.5 272.2,539.5 272.5,539.5 272.8,539.5 273,539.5 273.2,539.5 273.5,539.5 273.8,539.5 274,539.5 274.2,539.5 274.5,539.5 274.8,539.5 275,539.5 275.2,539.5 275.5,539.5 275.8,539.5 276,539.5 276.2,539.5 276.5,539.5 276.8,539.5 277,539.5 277.2,539.5 277.5,539.5 277.8,539.5 278,539.5 278.2,539.5 278.5,539.5 278.8,539.5 279,539.5 279.2,539.5 279.5,539.5 279.8,539.5 280,539.5 280.2,539.5 280.5,539.5 280.8,539.5 281,539.5 281.2,539.5 281.5,539.5 281.8,539.5 282,539.5 282.2,539.5 282.5,539.5 282.8,539.5 283,539.5 283.2,539.5 283.5,539.5 283.8,539.5 284,539.5 284.2,539.5 284.5,539.5 284.8,539.5 285,539.5 285.2,539.5 285.5,539.5 285.8,539.5 286,539.5 286.2,539.5 286.5,539.5 286.8,539.5 287,539.5 287.2,539.5 287.5,539.5 287.8,539.5 288,539.5 288.2,539.5 288.5,539.5 288.8,539.5 289,539.5 289.2,539.5 289.5,539.5 289.8,539.5 290,539.5 290.2,539.5 290.5,539.5 290.8,539.5 291,539.5 291.2,539.5 291.5,539.5 291.8,539.5 292,539.5 292.2,539.5 292.5,539.5 292.8,539.5 293,539.5 293.2,539.5 293.5,539.5 293.8,539.5 294,539.5 294.2,539.5 294.5,539.5 294.8,539.5 295,539.5 295.2,539.5 295.5,539.5 295.8,539.5 296,539.5 296.2,539.5 296.5,539.5 296.8,539.5 297,539.5 297.2,539.5 297.5,539.5 297.8,539.5 298,539.5 298.2,539.5 298.5,539.5 298.8,539.5 299,539.5 299.2,539.5 299.5,539.5 299.8,539.5 300,539.5 300.2,539.5 300.5,539.5 300.8,539.5 301,539.5 301.2,539.5 301.5,539.5 301.8,539.5 302,539.5 302.2,539.5 302.5,539.5 302.8,539.5 303,539.5 303.2,539.5 303.5,539.5 303.8,539.5 304,539.5 304.2,539.5 304.5,539.5 304.8,539.5 305,539.5 305.2,539.5 305.5,539.5 305.8,539.5 306,539.5 306.2,539.5 306.5,539.5 306.8,539.5 307,539.5 307.2,539.5 307.5,539.5 307.8,539.5 308,539.5 308.2,539.5 308.5,539.5 308.8,539.5 309,539.5 309.2,539.5 309.5,539.5 309.8,539.5 310,539.5 310.2,539.5 310.5,539.5 310.8,539.5 311,539.5 311.2,539.5 311.5,539.5 311.8,539.5 312,539.5 312.2,539.5 312.5,539.5 312.8,539.5 313,539.5 313.2,539.5 313.5,539.5 313.8,539.5 314,539.5 314.2,539.5 314.5,539.5 314.8,539.5 315,539.5 315.2,539.5 315.5,539.5 315.8,539.5 316,539.5 316.2,539.5 316.5,539.5 316.8,539.5 317,539.5 317.2,539.5 317.5,539.5 317.8,539.5 318,539.5 318.2,539.5 318.5,539.5 318.8,539.5 319,539.5 319.2,539.5 319.5,539.5 319.8,539.5 320,539.5 320.2,539.5 320.5,539.5 320.8,539.5 321,539.5 321.2,539.5 321.5,539.5 321.8,539.5 322,539.5 322.2,539.5 322.5,539.5" fill="none" stroke="#9B59B6" stroke-width="1.6" stroke-linejoin="miter"/>
<polyline points="44.2,591 48,589 49.5,588.5 50.5,588 51,588 51,537 51.8,537 51.8,583 52.7,583 52.7,540 53.5,540 53.5,575 55,575 55,545 57.8,545 57.8,586.4 59.5,586.4 59.5,540 60.5,540 60.5,550 63,550 63,556 64.4,563.1 64.9,562.2 65.4,561.4 65.9,560.5 66.4,559.6 66.9,558.8 67.4,557.9 67.9,557.1 68.4,557.5 68.9,556.6 69.4,556.5 69.9,555.9 70.4,554.4 70.9,555.5 71.4,556.2 71.9,554.1 72.4,554.6 72.9,553.3 73.4,554.4 73.9,553.6 74.4,553.5 74.9,552.5 75.4,553.9 75.9,551.4 76.4,551.3 76.9,550.9 77.4,552.3 77.9,550.7 78.4,550.5 78.9,552.1 79.4,552.5 79.9,551.7 80.4,547.5 80.9,549.3 81.4,548.9 81.9,548.4 82.4,549.1 82.9,551.4 83.4,548.6 83.9,547.8 84.4,549.2 84.9,548.1 85.4,548.1 85.9,547 86.4,547.7 86.9,548.1 87.4,545.2 87.9,545.5 88.4,548.6 88.9,548.2 89.4,546.5 89.9,545.8 90.4,546.7 90.9,545.4 91.4,546.3 91.9,548.6 92.4,546.7 92.9,547.8 93.4,546.1 93.9,546.7 94.4,547.8 94.9,544.4 95.4,545.5 95.9,545.5 96.4,545.9 96.9,547.3 97.4,546.1 97.9,543.3 98.4,544.7 98.9,543.8 99.4,543.6 99.9,547 100.4,543.1 100.9,544.5 101.4,543.2 101.9,545 102.4,544.2 102.9,543.8 103.4,543.4 103.9,544.7 104.4,542.1 104.9,542.2 105.4,541.7 105.9,544.6 106.4,542.6 106.9,541.7 107.4,542.4 107.9,545.9 108.4,542.8 108.9,543.9 109.4,543.4 109.9,542.9 110.4,542 110.9,542.5 111.4,542.4 111.9,540.2 112.4,545.9 112.9,543.9 113.4,542.9 113.9,542.5 114.4,541.7 114.9,543.8 115.4,542.4 115.9,543.2 116.4,540.9 116.9,543 117.4,544.9 117.9,542.1 118.4,543.3 118.9,542.4 119.4,543.6 119.9,543.6 120.4,542.3 120.9,541.5 121.4,542.5 121.9,542.2 122.4,541.3 122.9,542.6 123.4,542.5 123.9,540.9 124.4,541.8 124.9,545.4 125.4,542.8 125.9,541.9 126.4,544.8 126.9,541.2 127.4,538.7 127.9,539.4 128.4,539.8 128.9,541.9 129.4,542.7 129.9,538.9 130.4,542.8 130.9,540 131.4,541.8 131.9,542 132.4,542 132.9,541.5 133.4,541.6 133.9,540.1 134.4,541.8 134.9,542.6 135.4,542.5 135.9,544.5 136.4,542.7 136.9,542.3 137.4,543.4 137.9,541.7 138.4,539.8 138.9,538.7 139.4,542.9 139.9,542 140.4,542.3 140.9,540.9 141.4,541.7 141.9,543.6 142.4,541.7 142.9,539.9 143.4,540.8 143.9,542.9 144.4,540 144.9,538.2 145.4,538.5 145.9,539.6 146.4,542.2 146.9,541.3 147.4,540.3 147.9,539.7 148.4,541.1 148.9,541 149.4,540.5 149.9,540.9 150.4,540.2 150.9,543.3 151.4,538.3 151.9,541.3 152.4,539.9 152.9,542 153.4,540.8 153.9,541.5 154.4,541.7 154.9,541.3 155.4,542.3 155.9,539.4 156.4,542.2 156.9,540.8 157.4,541.5 157.9,542.9 158.4,542.4 158.9,543.4 159.4,538.3 159.9,539.9 160.4,542.2 160.9,539.6 161.4,540.8 161.9,543 162.4,542 162.9,539.8 163.4,541.5 163.9,541.7 164.4,541 164.9,540.8 165.4,541.1 165.9,539.1 166.4,541.1 166.9,539.8 167.4,541.4 167.9,541.4 168.4,539.8 168.9,541.6 169.4,541.3 169.9,540.8 170.4,541.7 170.9,540.5 171.4,540.5 171.9,540.9 172.4,540.8 172.9,542.2 173.4,538 173.9,540.5 174.4,538.4 174.9,540.2 175.4,541.1 175.9,540.8 176.4,541.9 176.9,541.1 177.4,537.5 177.9,539.4 178.4,542.6 178.9,542.6 179.4,540.8 179.9,538.8 180.4,543.3 180.9,538.2 181.4,541 181.9,540.6 182.4,540.9 182.9,539.2 183.4,540.1 183.9,541.9 184.4,540 184.9,538.9 185.4,540.6 185.9,540.7 186.4,540.4 186.9,539.6 187.4,541.2 187.9,540.4 188.4,539.1 188.9,540.8 189.4,540.5 189.9,540.7 190.4,538.5 190.9,539.6 191.4,541.1 191.9,541.6 192.4,540.9 192.9,540.7 193.4,541.4 193.9,541.7 194.4,542.6 194.9,541.1 195.4,539.8 195.9,541.1 196.4,538.2 196.9,540.6 197.4,540 197.9,540.5 198.4,541.1 198.9,540.5 199.4,538.7 199.9,540 200.4,539.5 200.9,540.5 201.4,540.9 201.9,539.3 202.4,541.4 202.9,542.1 203.4,540.2 203.9,541.4 204.4,538.7 204.9,539.8 205.4,541.6 205.9,538.4 206.4,539.9 206.9,539.4 207.4,541.9 207.9,541.9 208.4,539.7 208.9,540.6 209.4,537.4 209.9,541.5 210.4,540.9 210.9,542.1 211.4,537.6 211.9,540.9 212.4,540.1 212.9,537.4 213.4,539.7 213.9,540.4 214.4,541.5 214.9,540.7 215.4,539.9 215.9,541 216.4,540.4 216.9,539.7 217.4,539.3 217.9,540.7 218.4,540.7 218.9,542.7 219.4,540 219.9,542.4 220.4,540.9 220.9,541.9 221.4,539.4 221.9,539.4 222.4,540.1 222.9,541.6 223.4,540.7 223.9,541.4 224.4,540.9 224.9,541.7 225.4,540.7 225.9,539.9 226.4,541.1 226.9,540.6 227.4,542.6 227.9,540.3 228.4,540.6 228.9,540.1 229.4,541.9 229.9,541.5 230.4,541.3 230.9,539 231.4,538.7 231.9,540.8 232.4,541.4 232.9,542.3 233.4,538.3 233.9,540.3 234.4,538.5 234.9,539.3 235.4,540.2 235.9,541.7 236.4,539.9 236.9,539.6 237.4,540.1 237.9,542 238.4,543.4 238.9,538.6 239.4,540.2 239.9,540 240.4,541.9 240.9,541 241.4,542.3 241.9,539.3 242.4,540.5 242.9,540 243.4,539.2 243.9,540.3 244.4,539.1 244.9,543.1 245.4,541 245.9,539.3 246.4,539.8 246.9,542.6 247.4,539.9 247.9,541.3 248.4,541.2 248.9,541.8 249.4,541.3 249.9,540.2 250.4,539.8 250.9,538.4 251.4,540.4 251.9,540.7 252.4,540.1 252.9,540.3 253.4,539 253.9,543.1 254.4,539.9 254.9,539.3 255.4,539.8 255.9,540.3 256.4,541.4 256.9,537.6 257.4,541.1 257.9,539.8 258.4,540.3 258.9,541.7 259.4,541.4 259.9,539.7 260.4,540.4 260.9,542.7 261.4,542.1 261.9,541.5 262.4,540.5 262.9,541.7 263.4,541 263.9,539.8 264.4,539.3 264.9,541.1 265.4,541 265.9,542 266.4,539.9 266.9,542.2 267.4,540.1 267.9,542 268.4,541.2 268.9,539.8 269.4,539.4 269.9,540.4 270.4,540.2 270.9,541.6 271.4,539.7 271.9,538.7 272.4,540.5 272.9,542.8 273.4,542.5 273.9,539.8 274.4,540.2 274.9,540.9 275.4,539.7 275.9,540.2 276.4,540.2 276.9,539.2 277.4,539.8 277.9,539.9 278.4,540.8 278.9,539.1 279.4,540.6 279.9,539.3 280.4,539.5 280.9,539.2 281.4,545.3 281.9,542 282.4,542.1 282.9,541.5 283.4,540.2 283.9,540.6 284.4,540.9 284.9,541 285.4,541.2 285.9,542.3 286.4,537 286.9,539.8 287.4,541.3 287.9,540.1 288.4,540.3 288.9,542.3 289.4,540.7 289.9,542.6 290.4,540.5 290.9,540.8 291.4,539.2 291.9,538.1 292.4,540 292.9,540.6 293.4,540.1 293.9,538.9 294.4,541.3 294.9,540.6 295.4,540.5 295.9,539.6 296.4,542.5 296.9,542.3 297.4,540.9 297.9,540.4 298.4,540.8 298.9,542.5 299.4,543.9 299.9,540.5 300.4,540 300.9,538.3 301.4,543.9 301.9,539.2 302.4,541.5 302.9,541.1 303.4,542.1 303.9,539.5 304.4,538.6 304.9,540.7 305.4,541 305.9,541.9 306.4,538.5 306.9,540 307.4,540.2 307.9,538.9 308.4,540.3 308.9,541.5 309.4,540.5 309.9,538.8 310.4,540.9 310.9,541.5 311.4,541.1 311.9,541.5 312.4,538.5 312.9,541.1 313.4,541.2 313.9,540.1 314.4,540.4 314.9,539.6 315.4,542 315.9,540.1 316.4,539.4 316.9,540.7 317.4,540.6 317.9,541.3 318.4,539.5 318.9,539.7 319.4,541 319.9,543.2 320.4,541.1 320.9,538.9 321.4,540.7 321.9,539.6 322.4,538.3" fill="none" stroke="#222" stroke-width="1.3" stroke-linejoin="miter"/>
<polyline points="36.7,560.8 37,560.8 37.2,560.8 37.5,560.8 37.7,560.8 38,560.8 38.2,560.8 38.5,560.8 38.7,560.8 39,560.8 39.2,560.8 39.5,560.8 39.7,560.8 40,560.8 40.2,560.8 40.5,560.8 40.7,560.8 41,560.8 41.2,560.8 41.5,560.8 41.7,560.8 42,560.8 42.2,560.8 42.5,560.8 42.7,560.8 43,560.8 43.2,560.8 43.5,560.8 43.7,560.8 44,560.8 44.2,560.8 44.5,560.8 44.7,560.8 45,560.8 45.2,560.8 45.5,560.8 45.7,560.8 46,560.8 46.2,560.8 46.5,560.8 46.7,560.8 47,560.8 47.2,560.8 47.5,560.8 47.7,560.8 48,560.8 48.2,560 48.5,560 48.7,560 49,560 49.2,560 49.5,560 49.7,560 50,560 50.2,560 50.5,560 50.7,560 51,560 51.2,560 51.5,560 51.7,560 52,560 52.2,538.5 52.5,538.5 52.7,538.5 53,538.5 53.2,538.5 53.5,538.5 53.7,538.5 54,538.5 54.2,538.5 54.5,538.5 54.7,538.5 55,538.5 55.2,538.5 55.5,538.5 55.7,538.5 56,538.5 56.2,538.5 56.5,538.5 56.7,538.5 57,538.5 57.2,545 57.5,545 57.7,545 58,545 58.2,545 58.5,545 58.7,545 59,545 59.2,545 59.5,545 59.7,545 60,545 60.2,538.5 60.5,538.5 60.7,538.5 61,538.5 61.2,538.5 61.5,538.5 61.7,538.5 62,538.5 62.2,545 62.5,545 62.7,545 63,545 63.2,545 63.5,545 63.7,545 64,545 64.2,545 64.5,545 64.7,545 65,545 65.2,545 65.5,545 65.7,545 66,545 66.2,538.5 66.5,538.5 66.7,538.5 67,538.5 67.2,538.5 67.5,538.5 67.7,538.5 68,538.5 68.2,550 68.5,550 68.7,550 69,550 69.2,550 69.5,550 69.7,550 70,550 70.2,550 70.5,550 70.7,550 71,550 71.2,550 71.5,550 71.7,550 72,550 72.2,538.5 72.5,538.5 72.7,538.5 73,538.5 73.2,538.5 73.5,538.5 73.7,538.5 74,538.5 74.2,535.8 74.5,535.8 74.7,535.8 75,535.8 75.2,535.8 75.5,535.8 75.7,535.8 76,535.8 76.2,535.8 76.5,535.8 76.7,535.8 77,535.8 77.2,535.8 77.5,535.8 77.7,535.8 78,535.8 78.2,538.5 78.5,538.5 78.7,538.5 79,538.5 79.2,538.5 79.5,538.5 79.7,538.5 80,538.5 80.2,538.5 80.5,538.5 80.7,538.5 81,538.5 81.2,538.5 81.5,555.6 81.7,555.6 82,555.6 82.2,555.6 82.5,555.6 82.7,555.6 83,555.6 83.2,555.6 83.5,555.6 83.7,555.6 84,555.6 84.2,555.6 84.5,555.6 84.7,538.5 85,538.5 85.2,538.5 85.5,538.5 85.7,538.5 86,538.5 86.2,535.5 86.5,535.5 86.7,535.5 87,535.5 87.2,535.5 87.5,535.5 87.7,535.5 88,535.5 88.2,538.5 88.5,559.5 88.7,559.5 89,559.5 89.2,559.5 89.5,559.5 89.7,559.5 90,559.5 90.2,559.5 90.5,559.5 90.7,559.5 91,559.5 91.2,559.5 91.5,559.5 91.7,538.5 92,538.5 92.2,538.5 92.5,538.5 92.7,538.5 93,538.5 93.2,538.5 93.5,538.5 93.7,538.5 94,538.5 94.2,538.5 94.5,538.5 94.7,538.5 95,538.5 95.2,535 95.5,535 95.7,535 96,535 96.2,535 96.5,535 96.7,535 97,535 97.2,535 97.5,535 97.7,535 98,535 98.2,538.5 98.5,538.5 98.7,538.5 99,538.5 99.2,538.5 99.5,538.5 99.7,538.5 100,538.5 100.2,538.5 100.5,538.5 100.7,538.5 101,538.5 101.2,538.5 101.5,538.5 101.7,538.5 102,538.5 102.2,538.5 102.5,538.5 102.7,538.5 103,538.5 103.2,538.5 103.5,538.5 103.7,538.5 104,538.5 104.2,538.5 104.5,538.5 104.7,538.5 105,538.5 105.2,538.5 105.5,538.5 105.7,538.5 106,538.5 106.2,538.5 106.5,538.5 106.7,538.5 107,538.5 107.2,538.5 107.5,538.5 107.7,538.5 108,538.5 108.2,550.5 108.5,550.5 108.7,550.5 109,550.5 109.2,550.5 109.5,550.5 109.7,550.5 110,550.5 110.2,550.5 110.5,550.5 110.7,550.5 111,550.5 111.2,550.5 111.5,550.5 111.7,550.5 112,550.5 112.2,538.5 112.5,538.5 112.7,538.5 113,538.5 113.2,538.5 113.5,538.5 113.7,538.5 114,538.5 114.2,535 114.5,535 114.7,535 115,535 115.2,535 115.5,535 115.7,535 116,535 116.2,535 116.5,535 116.7,535 117,535 117.2,538.5 117.5,538.5 117.7,538.5 118,538.5 118.2,538.5 118.5,538.5 118.7,538.5 119,538.5 119.2,538.5 119.5,538.5 119.7,538.5 120,538.5 120.2,543 120.5,543 120.7,543 121,543 121.2,543 121.5,543 121.7,543 122,543 122.2,543 122.5,543 122.7,543 123,543 123.2,538.5 123.5,538.5 123.7,538.5 124,538.5 124.2,538.5 124.5,538.5 124.7,538.5 125,538.5 125.2,538.5 125.5,538.5 125.7,538.5 126,538.5 126.2,538.5 126.5,538.5 126.7,538.5 127,538.5 127.2,538.5 127.5,538.5 127.7,538.5 128,538.5 128.2,538.5 128.4,538.5 128.7,538.5 128.9,538.5 129.2,538.5 129.4,538.5 129.7,538.5 129.9,538.5 130.2,538.5 130.4,538.5 130.7,538.5 130.9,538.5 131.2,538.5 131.4,538.5 131.7,538.5 131.9,538.5 132.2,538.5 132.4,535.1 132.7,535.1 132.9,535.1 133.2,535.1 133.4,535.1 133.7,535.1 133.9,535.1 134.2,535.1 134.4,535.1 134.7,535.1 134.9,535.1 135.2,535.1 135.4,535.1 135.7,535.1 135.9,538.5 136.2,538.5 136.4,538.5 136.7,538.5 136.9,538.5 137.2,538.5 137.4,538.5 137.7,538.5 137.9,538.5 138.2,538.5 138.4,538.5 138.7,538.5 138.9,538.5 139.2,538.5 139.4,534.6 139.7,534.6 139.9,534.6 140.2,534.6 140.4,534.6 140.7,534.6 140.9,534.6 141.2,534.6 141.4,534.6 141.7,534.6 141.9,534.6 142.2,534.6 142.4,534.6 142.7,534.6 142.9,538.5 143.2,538.5 143.4,538.5 143.7,538.5 143.9,538.5 144.2,538.5 144.4,538.5 144.7,538.5 144.9,538.5 145.2,538.5 145.4,538.5 145.7,538.5 145.9,538.5 146.2,538.5 146.4,538.5 146.7,538.5 146.9,538.5 147.2,538.5 147.4,538.5 147.7,538.5 147.9,538.5 148.2,538.5 148.4,538.5 148.7,538.5 148.9,553.5 149.2,553.5 149.4,553.5 149.7,553.5 149.9,553.5 150.2,553.5 150.4,553.5 150.7,553.5 150.9,553.5 151.2,553.5 151.4,553.5 151.7,553.5 151.9,553.5 152.2,553.5 152.4,553.5 152.7,553.5 152.9,553.5 153.2,553.5 153.4,538.5 153.7,538.5 153.9,538.5 154.2,538.5 154.4,538.5 154.7,538.5 154.9,538.5 155.2,538.5 155.4,538.5 155.7,538.5 155.9,558.8 156.2,558.8 156.4,558.8 156.7,558.8 156.9,558.8 157.2,558.8 157.4,558.8 157.7,558.8 157.9,558.8 158.2,558.8 158.4,558.8 158.7,558.8 158.9,558.8 159.2,558.8 159.4,558.8 159.7,558.8 159.9,558.8 160.2,558.8 160.4,538.5 160.7,538.5 160.9,538.5 161.2,538.5 161.4,538.5 161.7,538.5 161.9,538.5 162.2,538.5 162.4,538.5 162.7,538.5 162.9,538.5 163.2,538.5 163.4,538.5 163.7,538.5 163.9,538.5 164.2,538.5 164.4,538.5 164.7,538.5 164.9,538.5 165.2,538.5 165.4,538.5 165.7,538.5 165.9,538.5 166.2,538.5 166.4,557 166.7,557 166.9,557 167.2,557 167.4,557 167.7,557 167.9,557 168.2,557 168.4,557 168.7,557 168.9,557 169.2,557 169.4,557 169.7,557 169.9,557 170.2,557 170.4,557 170.7,557 170.9,538.5 171.2,538.5 171.4,538.5 171.7,538.5 171.9,538.5 172.2,538.5 172.4,538.5 172.7,538.5 172.9,538.5 173.2,538.5 173.4,538.5 173.7,538.5 173.9,538.5 174.2,538.5 174.4,538.5 174.7,538.5 174.9,538.5 175.2,538.5 175.4,538.5 175.7,538.5 175.9,538.5 176.2,538.5 176.4,538.5 176.7,538.5 176.9,538.5 177.2,538.5 177.4,538.5 177.7,538.5 177.9,543 178.2,543 178.4,543 178.7,543 178.9,543 179.2,543 179.4,543 179.7,543 179.9,543 180.2,543 180.4,538.5 180.7,538.5 180.9,538.5 181.2,538.5 181.4,538.5 181.7,538.5 181.9,538.5 182.2,538.5 182.4,538.5 182.7,538.5 182.9,538.5 183.2,538.5 183.4,538.5 183.7,538.5 183.9,538.5 184.2,535.1 184.4,535.1 184.7,535.1 184.9,535.1 185.2,535.1 185.4,535.1 185.7,535.1 185.9,535.1 186.2,535.1 186.4,535.1 186.7,535.1 186.9,535.1 187.2,535.1 187.4,538.5 187.7,538.5 187.9,538.5 188.2,538.5 188.4,538.5 188.7,538.5 188.9,538.5 189.2,538.5 189.4,538.5 189.7,538.5 189.9,538.5 190.2,547.4 190.4,547.4 190.7,547.4 190.9,547.4 191.2,547.4 191.4,547.4 191.7,547.4 191.9,547.4 192.2,547.4 192.4,547.4 192.7,547.4 192.9,547.4 193.2,547.4 193.4,547.4 193.7,547.4 193.9,547.4 194.2,547.4 194.4,547.4 194.7,538.5 194.9,538.5 195.2,538.5 195.4,538.5 195.7,538.5 195.9,538.5 196.2,538.5 196.4,538.5 196.7,538.5 196.9,538.5 197.2,538.5 197.4,538.5 197.7,538.5 197.9,538.5 198.2,538.5 198.4,538.5 198.7,538.5 198.9,538.5 199.2,538.5 199.4,538.5 199.7,538.5 199.9,538.5 200.2,538.5 200.4,538.5 200.7,538.5 200.9,538.5 201.2,538.5 201.4,538.5 201.7,535.1 201.9,535.1 202.2,534.8 202.4,534.8 202.7,534.8 202.9,534.8 203.2,534.8 203.4,534.8 203.7,534.8 203.9,534.8 204.2,534.8 204.4,534.8 204.7,534.8 204.9,534.8 205.2,538.5 205.4,538.5 205.7,538.5 205.9,538.5 206.2,538.5 206.4,538.5 206.7,538.5 206.9,538.5 207.2,538.5 207.4,538.5 207.7,538.5 207.9,538.5 208.2,538.5 208.4,538.5 208.7,535.1 208.9,535.1 209.2,535.1 209.4,535.1 209.7,535.1 209.9,535.1 210.2,535.1 210.4,535.1 210.7,535.1 210.9,535.1 211.2,535.1 211.4,535.1 211.7,535.1 211.9,535.1 212.2,538.5 212.4,538.5 212.7,538.5 212.9,538.5 213.2,538.5 213.4,538.5 213.7,538.5 213.9,538.5 214.2,538.5 214.4,538.5 214.7,538.5 214.9,538.5 215.2,541 215.4,541 215.7,541 215.9,541 216.2,541 216.4,541 216.7,541 216.9,541 217.2,541 217.4,541 217.7,541 217.9,541 218.2,538.5 218.4,538.5 218.7,538.5 218.9,538.5 219.2,538.5 219.4,538.5 219.7,538.5 219.9,538.5 220.2,538.5 220.4,538.5 220.7,538.5 220.9,538.5 221.2,538.5 221.4,538.5 221.7,538.5 221.9,538.5 222.2,538.5 222.4,538.5 222.7,538.5 222.9,538.5 223.2,538.5 223.4,538.5 223.7,538.5 223.9,538.5 224.2,538.5 224.4,538.5 224.7,538.5 224.9,538.5 225.2,538.5 225.4,538.5 225.7,538.5 225.9,538.5 226.2,538.5 226.4,538.5 226.7,538.5 226.9,538.5 227.2,538.5 227.4,538.5 227.7,538.5 227.9,538.5 228.2,538.5 228.4,538.5 228.7,538.5 228.9,538.5 229.2,538.5 229.4,538.5 229.7,538.5 229.9,538.5 230.2,540 230.4,540 230.7,540 230.9,540 231.2,540 231.4,540 231.7,540 231.9,540 232.2,540 232.4,540 232.7,540 232.9,540 233.2,538.5 233.4,538.5 233.7,538.5 233.9,538.5 234.2,538.5 234.4,538.5 234.7,538.5 234.9,538.5 235.2,538.5 235.4,538.5 235.7,538.5 235.9,538.5 236.2,538.5 236.4,538.5 236.7,538.5 236.9,538.5 237.2,538.5 237.4,538.5 237.7,538.5 237.9,538.5 238.2,538.5 238.4,538.5 238.7,538.5 238.9,538.5 239.2,538.5 239.4,538.5 239.7,538.5 239.9,538.5 240.2,538.5 240.4,538.5 240.7,538.5 240.9,538.5 241.2,538.5 241.4,538.5 241.7,538.5 241.9,538.5 242.2,538.5 242.4,538.5 242.7,538.5 242.9,538.5 243.2,538.5 243.4,538.5 243.7,538.5 243.9,538.5 244.2,538.5 244.4,538.5 244.7,538.5 244.9,538.5 245.2,541 245.4,541 245.7,541 245.9,541 246.2,541 246.4,541 246.7,541 246.9,541 247.2,541 247.4,541 247.7,541 247.9,541 248.2,538.5 248.4,538.5 248.7,538.5 248.9,538.5 249.2,538.5 249.4,538.5 249.7,538.5 249.9,538.5 250.2,538.5 250.4,538.5 250.7,538.5 250.9,538.5 251.2,538.5 251.4,538.5 251.7,538.5 251.9,538.5 252.2,538.5 252.4,538.5 252.7,538.5 252.9,538.5 253.2,538.5 253.4,538.5 253.7,538.5 253.9,538.5 254.2,538.5 254.4,538.5 254.7,538.5 254.9,538.5 255.2,538.5 255.4,538.5 255.7,538.5 255.9,538.5 256.2,538.5 256.4,538.5 256.7,538.5 256.9,538.5 257.2,538.5 257.4,538.5 257.7,538.5 257.9,538.5 258.2,538.5 258.4,538.5 258.7,538.5 258.9,538.5 259.2,538.5 259.4,538.5 259.7,538.5 259.9,538.5 260.2,538.5 260.4,538.5 260.7,538.5 260.9,538.5 261.2,538.5 261.4,538.5 261.7,538.5 261.9,538.5 262.2,538.5 262.4,538.5 262.7,538.5 262.9,538.5 263.2,538.5 263.4,538.5 263.7,538.5 263.9,538.5 264.2,538.5 264.4,538.5 264.7,538.5 264.9,538.5 265.2,538.5 265.4,538.5 265.7,538.5 265.9,538.5 266.2,538.5 266.4,538.5 266.7,538.5 266.9,538.5 267.2,538.5 267.4,538.5 267.7,538.5 267.9,538.5 268.2,538.5 268.4,538.5 268.7,538.5 268.9,538.5 269.2,538.5 269.4,538.5 269.7,538.5 269.9,538.5 270.2,534.8 270.4,534.8 270.7,534.8 270.9,534.8 271.2,534.8 271.4,534.8 271.7,534.8 271.9,534.8 272.2,534.8 272.4,534.8 272.7,534.8 272.9,534.8 273.2,538.5 273.4,538.5 273.7,538.5 273.9,538.5 274.2,538.5 274.4,538.5 274.7,538.5 274.9,538.5 275.2,538.5 275.4,538.5 275.7,538.5 275.9,538.5 276.2,538.5 276.4,538.5 276.7,538.5 276.9,538.5 277.2,538.5 277.4,538.5 277.7,538.5 277.9,538.5 278.2,538.5 278.4,538.5 278.7,538.5 278.9,538.5 279.2,538.5 279.4,538.5 279.7,538.5 279.9,538.5 280.2,538.5 280.4,538.5 280.7,538.5 280.9,538.5 281.2,538.5 281.4,538.5 281.7,538.5 281.9,538.5 282.2,538.5 282.4,538.5 282.7,538.5 282.9,538.5 283.2,538.5 283.4,538.5 283.7,538.5 283.9,538.5 284.2,538.5 284.4,538.5 284.7,538.5 284.9,538.5 285.2,538.5 285.4,538.5 285.7,538.5 285.9,538.5 286.2,538.5 286.4,538.5 286.7,538.5 286.9,538.5 287.2,538.5 287.4,534.8 287.7,534.8 287.9,534.8 288.2,534.8 288.4,534.8 288.7,534.8 288.9,534.8 289.2,534.8 289.4,534.8 289.7,534.8 289.9,534.8 290.2,538.5 290.4,538.5 290.7,538.5 290.9,538.5 291.2,538.5 291.4,538.5 291.7,538.5 291.9,538.5 292.2,538.5 292.4,538.5 292.7,538.5 292.9,538.5 293.2,538.5 293.4,538.5 293.7,538.5 293.9,538.5 294.2,538.5 294.4,538.5 294.7,538.5 294.9,538.5 295.2,538.5 295.4,538.5 295.7,538.5 295.9,538.5 296.2,538.5 296.4,538.5 296.7,538.5 296.9,538.5 297.2,538.5 297.4,538.5 297.7,538.5 297.9,538.5 298.2,538.5 298.4,538.5 298.7,538.5 298.9,538.5 299.2,538.5 299.4,538.5 299.7,538.5 299.9,538.5 300.2,539 300.4,539 300.7,539 300.9,539 301.2,539 301.4,539 301.7,539 301.9,539 302.2,539 302.4,539 302.7,539 302.9,539 303.2,538.5 303.4,538.5 303.7,538.5 303.9,538.5 304.2,538.5 304.4,538.5 304.7,538.5 304.9,538.5 305.2,538.5 305.4,538.5 305.7,538.5 305.9,538.5 306.2,538.5 306.4,538.5 306.7,538.5 306.9,538.5 307.2,538.5 307.4,538.5 307.7,538.5 307.9,538.5 308.2,538.5 308.4,538.5 308.7,538.5 308.9,538.5 309.2,538.5 309.4,538.5 309.7,538.5 309.9,538.5 310.2,538.5 310.4,538.5 310.7,538.5 310.9,538.5 311.2,538.5 311.4,538.5 311.7,538.5 311.9,538.5 312.2,538.5 312.4,538.5 312.7,538.5 312.9,538.5 313.2,538.5 313.4,538.5 313.7,538.5 313.9,538.5 314.2,538.5 314.4,538.5 314.7,538.5 314.9,538.5 315.2,538.5 315.4,538.5 315.7,538.5 315.9,538.5 316.2,538.5 316.4,538.5 316.7,538.5 316.9,538.5 317.2,538.5 317.4,538.5 317.7,538.5 317.9,538.5 318.2,538.5 318.4,538.5 318.7,538.5 318.9,538.5 319.2,538.5 319.4,538.5 319.7,538.5 319.9,538.5 320.2,538.5 320.4,538.5 320.7,543.7 320.9,543.7 321.2,543.7 321.4,543.7 321.7,543.7 321.9,543.7 322.2,543.7 322.4,543.7" fill="none" stroke="#EDB120" stroke-width="1.5" stroke-linejoin="miter"/>
<polyline points="37.3,635.4 37.5,630 37.8,624.6 38,619.2 38.3,613.9 38.5,608.5 38.8,603.1 39,597.7 39.3,592.3 39.5,586.9 39.8,581.5 40,576.2 40.3,570.8 40.5,565.4 40.8,560 41,528.5 41.3,528.5 41.5,528.5 41.8,528.5 42,528.5 42.3,528.5 42.5,528.5 42.8,528.5 43,599.6 43.3,599.6 43.5,599.6 43.8,599.6 44,545 44.3,545 44.5,545 44.8,545 45,545 45.3,545 45.5,545 45.8,545 46,545 46.3,545 46.5,545 46.8,545 47,540.2 47.3,540.2 47.5,540.2 47.8,540.2 48,563.8 48.3,563.8 48.5,563.8 48.8,563.8 49,545 49.3,545 49.5,545 49.8,545 50,545 50.3,545 50.5,545 50.8,545 51,545 51.3,545 51.5,545 51.8,545 52,545 52.3,545 52.5,545 52.8,545 53,545 53.3,545 53.5,545 53.8,534.5 54,534.5 54.3,534.5 54.5,534.5 54.8,534.5 55,534.5 55.3,534.5 55.5,534.5 55.8,534.5 56,534.5 56.3,534.5 56.5,534.5 56.8,534.5 57,534.5 57.3,534.5 57.5,534.5 57.8,534.5 58,534.5 58.3,560 58.5,560 58.8,560 59,560 59.3,560 59.5,560 59.8,560 60,560 60.3,560 60.5,560 60.8,560 61,560 61.3,560 61.5,560 61.8,560 62,541.6 62.3,541.6 62.5,541.6 62.8,541.6 63,541.6 63.3,541.6 63.5,541.6 63.8,541.6 64,541.6 64.3,541.6 64.5,541.6 64.8,541.6 65,541.6 65.3,541.6 65.5,541.6 65.8,541.6 66,540.2 66.3,540.2 66.5,540.2 66.8,540.2 67,540.2 67.3,540.2 67.5,540.2 67.8,540.2 68,540.2 68.3,540.2 68.5,540.2 68.8,540.2 69,540.2 69.3,540.2 69.5,540.2 69.8,540.2 70,545 70.3,545 70.5,545 70.8,545 71,545 71.3,545 71.5,545 71.8,545 72,545 72.3,545 72.5,545 72.8,545 73,545 73.3,545 73.5,545 73.8,545 74,545 74.3,545 74.5,545 74.8,545 75,540.2 75.3,540.2 75.5,540.2 75.8,540.2 76,540.2 76.3,540.2 76.5,540.2 76.8,540.2 77,540.2 77.3,540.2 77.5,540.2 77.8,540.2 78,540.2 78.3,540.2 78.5,540.2 78.8,540.2 79,540.2 79.3,540.2 79.5,540.2 79.8,540.2 80,541 80.3,541 80.5,541 80.8,541 81,541 81.3,541 81.5,541 81.8,541 82,541 82.3,541 82.5,541 82.8,541 83,541 83.3,541 83.5,541 83.8,541 84,541 84.3,541 84.5,541 84.8,541 85,540.2 85.3,540.2 85.5,540.2 85.8,540.2 86,540.2 86.3,540.2 86.5,540.2 86.8,540.2 87,540.2 87.3,540.2 87.5,540.2 87.8,540.2 88,540.2 88.3,540.2 88.5,540.2 88.8,540.2 89,540.2 89.3,540.2 89.5,540.2 89.8,540.2 90,543 90.3,543 90.5,543 90.8,543 91,543 91.3,543 91.5,543 91.8,543 92,543 92.3,543 92.5,543 92.8,543 93,543 93.3,543 93.5,543 93.8,543 94,543 94.3,543 94.5,543 94.8,543 95,540.2 95.3,540.2 95.5,540.2 95.8,540.2 96,540.2 96.3,540.2 96.5,540.2 96.8,540.2 97,540.2 97.3,540.2 97.5,540.2 97.8,540.2 98,540.2 98.3,540.2 98.5,540.2 98.8,540.2 99,540.2 99.3,540.2 99.5,540.2 99.8,526.2 100,526.2 100.3,526.2 100.5,526.2 100.8,526.2 101,526.2 101.3,526.2 101.5,526.2 101.8,540.2 102,540.2 102.3,540.2 102.5,540.2 102.8,540.2 103,539 103.3,539 103.5,539 103.8,539 104,539 104.3,539 104.5,539 104.8,539 105,539 105.3,539 105.5,539 105.8,539 106,540.2 106.3,540.2 106.5,540.2 106.8,540.2 107,540.2 107.3,540.2 107.5,540.2 107.8,540.2 108,540.2 108.3,540.2 108.5,540.2 108.8,540.2 109,540.2 109.3,540.2 109.5,540.2 109.8,540.2 110,540.2 110.3,540.2 110.5,540.2 110.8,540.2 111,540.2 111.3,540.2 111.5,540.2 111.8,540.2 112,540.2 112.3,540.2 112.5,540.2 112.8,540.2 113,540.2 113.3,540.2 113.5,540.2 113.8,540.2 114,540.2 114.3,540.2 114.5,540.2 114.8,540.2 115,540.2 115.3,540.2 115.5,540.2 115.8,540.2 116,540.2 116.3,540.2 116.5,540.2 116.8,540.2 117,540.2 117.3,540.2 117.5,540.2 117.8,540.2 118,540.2 118.3,540.2 118.5,540.2 118.8,540.2 119,540.2 119.3,540.2 119.5,540.2 119.8,540.2 120,540.2 120.3,540.2 120.5,540.2 120.8,540.2 121,540.2 121.3,540.2 121.5,540.2 121.8,540.2 122,540.2 122.3,540.2 122.5,540.2 122.8,540.2 123,540.2 123.3,540.2 123.5,540.2 123.8,540.2 124,540.2 124.3,540.2 124.5,540.2 124.8,540.2 125,540.2 125.3,540.2 125.5,540.2 125.8,540.2 126,540.2 126.3,540.2 126.5,540.2 126.8,540.2 127,540.2 127.3,540.2 127.5,540.2 127.8,540.2 128.1,540.2 128.3,540.2 128.6,540.2 128.8,540.2 129.1,540.2 129.3,540.2 129.6,540.2 129.8,540.2 130.1,540.2 130.3,540.2 130.6,540.2 130.8,540.2 131.1,540.2 131.3,540.2 131.6,540.2 131.8,540.2 132.1,540.2 132.3,540.2 132.6,540.2 132.8,540.2 133.1,540.2 133.3,540.2 133.6,540.2 133.8,540.2 134.1,540.2 134.3,540.2 134.6,540.2 134.8,540.2 135.1,540.2 135.3,540.2 135.6,540.2 135.8,540.2 136.1,540.2 136.3,540.2 136.6,540.2 136.8,540.2 137.1,540.2 137.3,540.2 137.6,540.2 137.8,540.2 138.1,540.2 138.3,540.2 138.6,540.2 138.8,540.2 139.1,540.2 139.3,540.2 139.6,540.2 139.8,540.2 140.1,540.2 140.3,540.2 140.6,540.2 140.8,540.2 141.1,540.2 141.3,540.2 141.6,540.2 141.8,540.2 142.1,540.2 142.3,540.2 142.6,540.2 142.8,540.2 143.1,540.2 143.3,540.2 143.6,540.2 143.8,540.2 144.1,540.2 144.3,540.2 144.6,540.2 144.8,540.2 145.1,540.2 145.3,540.2 145.6,540.2 145.8,540.2 146.1,540.2 146.3,540.2 146.6,540.2 146.8,540.2 147.1,540.2 147.3,540.2 147.6,540.2 147.8,540.2 148.1,540.2 148.3,540.2 148.6,540.2 148.8,540.2 149.1,540.2 149.3,540.2 149.6,540.2 149.8,540.2 150.1,540.2 150.3,540.2 150.6,540.2 150.8,540.2 151.1,540.2 151.3,540.2 151.6,540.2 151.8,540.2 152.1,540.2 152.3,540.2 152.6,540.2 152.8,540.2 153.1,540.2 153.3,540.2 153.6,540.2 153.8,540.2 154.1,540.2 154.3,540.2 154.6,540.2 154.8,540.2 155.1,540.2 155.3,540.2 155.6,540.2 155.8,540.2 156.1,540.2 156.3,540.2 156.6,540.2 156.8,540.2 157.1,540.2 157.3,540.2 157.6,540.2 157.8,540.2 158.1,540.2 158.3,540.2 158.6,540.2 158.8,540.2 159.1,540.2 159.3,540.2 159.6,540.2 159.8,540.2 160.1,540.2 160.3,540.2 160.6,540.2 160.8,540.2 161.1,540.2 161.3,540.2 161.6,540.2 161.8,540.2 162.1,540.2 162.3,540.2 162.6,540.2 162.8,540.2 163.1,540.2 163.3,540.2 163.6,540.2 163.8,540.2 164.1,540.2 164.3,540.2 164.6,540.2 164.8,540.2 165.1,540.2 165.3,540.2 165.6,540.2 165.8,540.2 166.1,540.2 166.3,540.2 166.6,540.2 166.8,540.2 167.1,540.2 167.3,540.2 167.6,540.2 167.8,540.2 168.1,540.2 168.3,540.2 168.6,540.2 168.8,540.2 169.1,540.2 169.3,540.2 169.6,540.2 169.8,540.2 170.1,540.2 170.3,540.2 170.6,540.2 170.8,540.2 171.1,540.2 171.3,540.2 171.6,540.2 171.8,540.2 172.1,540.2 172.3,540.2 172.6,540.2 172.8,540.2 173.1,540.2 173.3,540.2 173.6,540.2 173.8,540.2 174.1,540.2 174.3,540.2 174.6,540.2 174.8,540.2 175.1,540.2 175.3,540.2 175.6,540.2 175.8,540.2 176.1,540.2 176.3,540.2 176.6,540.2 176.8,540.2 177.1,540.2 177.3,540.2 177.6,540.2 177.8,540.2 178.1,540.2 178.3,540.2 178.6,540.2 178.8,540.2 179.1,540.2 179.3,540.2 179.6,540.2 179.8,540.2 180.1,540.2 180.3,540.2 180.6,540.2 180.8,540.2 181.1,540.2 181.3,540.2 181.6,540.2 181.8,540.2 182.1,540.2 182.3,540.2 182.6,540.2 182.8,540.2 183.1,540.2 183.3,540.2 183.6,540.2 183.8,540.2 184.1,540.2 184.3,540.2 184.6,540.2 184.8,540.2 185.1,540.2 185.3,540.2 185.6,540.2 185.8,540.2 186.1,540.2 186.3,540.2 186.6,540.2 186.8,540.2 187.1,540.2 187.3,540.2 187.6,540.2 187.8,540.2 188.1,540.2 188.3,540.2 188.6,540.2 188.8,540.2 189.1,540.2 189.3,540.2 189.6,540.2 189.8,540.2 190.1,540.2 190.3,540.2 190.6,540.2 190.8,540.2 191.1,540.2 191.3,540.2 191.6,540.2 191.8,540.2 192.1,540.2 192.3,540.2 192.6,540.2 192.8,540.2 193.1,540.2 193.3,540.2 193.6,540.2 193.8,540.2 194.1,540.2 194.3,540.2 194.6,540.2 194.8,540.2 195.1,540.2 195.3,540.2 195.6,540.2 195.8,540.2 196.1,540.2 196.3,540.2 196.6,540.2 196.8,540.2 197.1,540.2 197.3,540.2 197.6,540.2 197.8,540.2 198.1,540.2 198.3,540.2 198.6,540.2 198.8,540.2 199.1,540.2 199.3,540.2 199.6,540.2 199.8,540.2 200.1,540.2 200.3,540.2 200.6,540.2 200.8,540.2 201.1,540.2 201.3,540.2 201.6,540.2 201.8,540.2 202.1,540.2 202.3,540.2 202.6,540.2 202.8,540.2 203.1,540.2 203.3,540.2 203.6,540.2 203.8,540.2 204.1,540.2 204.3,540.2 204.6,540.2 204.8,540.2 205.1,540.2 205.3,540.2 205.6,540.2 205.8,540.2 206.1,540.2 206.3,540.2 206.6,540.2 206.8,540.2 207.1,540.2 207.3,540.2 207.6,540.2 207.8,540.2 208.1,540.2 208.3,540.2 208.6,540.2 208.8,540.2 209.1,540.2 209.3,540.2 209.6,540.2 209.8,540.2 210.1,540.2 210.3,540.2 210.6,540.2 210.8,540.2 211.1,540.2 211.3,540.2 211.6,540.2 211.8,540.2 212.1,540.2 212.3,540.2 212.6,540.2 212.8,540.2 213.1,540.2 213.3,540.2 213.6,540.2 213.8,540.2 214.1,540.2 214.3,540.2 214.6,540.2 214.8,540.2 215.1,540.2 215.3,540.2 215.6,540.2 215.8,540.2 216.1,540.2 216.3,540.2 216.6,540.2 216.8,540.2 217.1,540.2 217.3,540.2 217.6,540.2 217.8,540.2 218.1,540.2 218.3,540.2 218.6,540.2 218.8,540.2 219.1,540.2 219.3,540.2 219.6,540.2 219.8,540.2 220.1,540.2 220.3,540.2 220.6,540.2 220.8,540.2 221.1,540.2 221.3,540.2 221.6,540.2 221.8,540.2 222.1,540.2 222.3,540.2 222.6,540.2 222.8,540.2 223.1,540.2 223.3,540.2 223.6,540.2 223.8,540.2 224.1,540.2 224.3,540.2 224.6,540.2 224.8,540.2 225.1,540.2 225.3,540.2 225.6,540.2 225.8,540.2 226.1,540.2 226.3,540.2 226.6,540.2 226.8,540.2 227.1,540.2 227.3,540.2 227.6,540.2 227.8,540.2 228.1,540.2 228.3,540.2 228.6,540.2 228.8,540.2 229.1,540.2 229.3,540.2 229.6,540.2 229.8,540.2 230.1,540.2 230.3,540.2 230.6,540.2 230.8,540.2 231.1,540.2 231.3,540.2 231.6,540.2 231.8,540.2 232.1,540.2 232.3,540.2 232.6,540.2 232.8,540.2 233.1,540.2 233.3,540.2 233.6,540.2 233.8,540.2 234.1,540.2 234.3,540.2 234.6,540.2 234.8,540.2 235.1,540.2 235.3,540.2 235.6,540.2 235.8,540.2 236.1,540.2 236.3,540.2 236.6,540.2 236.8,540.2 237.1,540.2 237.3,540.2 237.6,540.2 237.8,540.2 238.1,540.2 238.3,540.2 238.6,540.2 238.8,540.2 239.1,540.2 239.3,540.2 239.6,540.2 239.8,540.2 240.1,540.2 240.3,540.2 240.6,540.2 240.8,540.2 241.1,540.2 241.3,540.2 241.6,540.2 241.8,540.2 242.1,540.2 242.3,540.2 242.6,540.2 242.8,540.2 243.1,540.2 243.3,540.2 243.6,540.2 243.8,540.2 244.1,540.2 244.3,540.2 244.6,540.2 244.8,540.2 245.1,540.2 245.3,540.2 245.6,540.2 245.8,540.2 246.1,540.2 246.3,540.2 246.6,540.2 246.8,540.2 247.1,540.2 247.3,540.2 247.6,540.2 247.8,540.2 248.1,540.2 248.3,540.2 248.6,540.2 248.8,540.2 249.1,540.2 249.3,540.2 249.6,540.2 249.8,540.2 250.1,540.2 250.3,540.2 250.6,540.2 250.8,540.2 251.1,540.2 251.3,540.2 251.6,540.2 251.8,540.2 252.1,540.2 252.3,540.2 252.6,540.2 252.8,540.2 253.1,540.2 253.3,540.2 253.6,540.2 253.8,540.2 254.1,540.2 254.3,540.2 254.6,540.2 254.8,540.2 255.1,540.2 255.3,540.2 255.6,540.2 255.8,540.2 256.1,540.2 256.3,540.2 256.6,540.2 256.8,540.2 257.1,540.2 257.3,540.2 257.6,540.2 257.8,540.2 258.1,540.2 258.3,540.2 258.6,540.2 258.8,540.2 259.1,540.2 259.3,540.2 259.6,540.2 259.8,540.2 260.1,540.2 260.3,540.2 260.6,540.2 260.8,540.2 261.1,540.2 261.3,540.2 261.6,540.2 261.8,540.2 262.1,540.2 262.3,540.2 262.6,540.2 262.8,540.2 263.1,540.2 263.3,540.2 263.6,540.2 263.8,540.2 264.1,540.2 264.3,540.2 264.6,540.2 264.8,540.2 265.1,540.2 265.3,540.2 265.6,540.2 265.8,540.2 266.1,540.2 266.3,540.2 266.6,540.2 266.8,540.2 267.1,540.2 267.3,540.2 267.6,540.2 267.8,540.2 268.1,540.2 268.3,540.2 268.6,540.2 268.8,540.2 269.1,540.2 269.3,540.2 269.6,540.2 269.8,540.2 270.1,540.2 270.3,540.2 270.6,540.2 270.8,540.2 271.1,540.2 271.3,540.2 271.6,540.2 271.8,540.2 272.1,540.2 272.3,540.2 272.6,540.2 272.8,540.2 273.1,540.2 273.3,540.2 273.6,540.2 273.8,540.2 274.1,540.2 274.3,540.2 274.6,540.2 274.8,540.2 275.1,540.2 275.3,540.2 275.6,540.2 275.8,540.2 276.1,540.2 276.3,540.2 276.6,540.2 276.8,540.2 277.1,540.2 277.3,540.2 277.6,540.2 277.8,540.2 278.1,540.2 278.3,540.2 278.6,540.2 278.8,540.2 279.1,540.2 279.3,540.2 279.6,540.2 279.8,540.2 280.1,540.2 280.3,540.2 280.6,540.2 280.8,540.2 281.1,540.2 281.3,540.2 281.6,540.2 281.8,540.2 282.1,540.2 282.3,540.2 282.6,540.2 282.8,540.2 283.1,540.2 283.3,540.2 283.6,540.2 283.8,540.2 284.1,540.2 284.3,540.2 284.6,540.2 284.8,540.2 285.1,540.2 285.3,540.2 285.6,540.2 285.8,540.2 286.1,540.2 286.3,540.2 286.6,540.2 286.8,540.2 287.1,540.2 287.3,540.2 287.6,540.2 287.8,540.2 288.1,540.2 288.3,540.2 288.6,540.2 288.8,540.2 289.1,540.2 289.3,540.2 289.6,540.2 289.8,540.2 290.1,540.2 290.3,540.2 290.6,540.2 290.8,540.2 291.1,540.2 291.3,540.2 291.6,540.2 291.8,540.2 292.1,540.2 292.3,540.2 292.6,540.2 292.8,540.2 293.1,540.2 293.3,540.2 293.6,540.2 293.8,540.2 294.1,540.2 294.3,540.2 294.6,540.2 294.8,540.2 295.1,540.2 295.3,540.2 295.6,540.2 295.8,540.2 296.1,540.2 296.3,540.2 296.6,540.2 296.8,540.2 297.1,540.2 297.3,540.2 297.6,540.2 297.8,540.2 298.1,540.2 298.3,540.2 298.6,540.2 298.8,540.2 299.1,540.2 299.3,540.2 299.6,540.2 299.8,540.2 300.1,540.2 300.3,540.2 300.6,540.2 300.8,540.2 301.1,540.2 301.3,540.2 301.6,540.2 301.8,540.2 302.1,540.2 302.3,540.2 302.6,540.2 302.8,540.2 303.1,540.2 303.3,540.2 303.6,540.2 303.8,540.2 304.1,540.2 304.3,540.2 304.6,540.2 304.8,540.2 305.1,540.2 305.3,540.2 305.6,540.2 305.8,540.2 306.1,540.2 306.3,540.2 306.6,540.2 306.8,540.2 307.1,540.2 307.3,540.2 307.6,540.2 307.8,540.2 308.1,540.2 308.3,540.2 308.6,540.2 308.8,540.2 309.1,540.2 309.3,540.2 309.6,540.2 309.8,540.2 310.1,540.2 310.3,540.2 310.6,540.2 310.8,540.2 311.1,540.2 311.3,540.2 311.6,540.2 311.8,540.2 312.1,540.2 312.3,540.2 312.6,540.2 312.8,540.2 313.1,540.2 313.3,540.2 313.6,540.2 313.8,540.2 314.1,540.2 314.3,540.2 314.6,540.2 314.8,540.2 315.1,540.2 315.3,540.2 315.6,540.2 315.8,540.2 316.1,540.2 316.3,540.2 316.6,540.2 316.8,540.2 317.1,540.2 317.3,540.2 317.6,540.2 317.8,540.2 318.1,540.2 318.3,540.2 318.6,540.2 318.8,540.2 319.1,540.2 319.3,540.2 319.6,540.2 319.8,540.2 320.1,540.2 320.3,540.2 320.6,540.2 320.8,540.2 321.1,540.2 321.3,540.2 321.6,540.2 321.8,540.2 322.1,540.2 322.3,540.2" fill="none" stroke="#3050C0" stroke-width="1.5" stroke-linejoin="miter"/>
<polyline points="37.6,635.4 37.9,635.4 38.1,635.4 38.4,540 38.6,540 38.9,540 39.1,540 39.4,560 39.6,560 39.9,560 40.1,560 40.4,560 40.6,560 40.9,560 41.1,560 41.4,560 41.6,560 41.9,560 42.1,560 42.4,560 42.6,560 42.9,560 43.1,560 43.4,560 43.6,560 43.9,560 44.1,560 44.4,560 44.6,560 44.9,560 45.1,560 45.4,560 45.6,560 45.9,560 46.1,528.8 46.4,528.8 46.6,528.8 46.9,528.8 47.1,528.8 47.4,528.8 47.6,528.8 47.9,528.8 48.1,528.8 48.4,528.8 48.6,528.8 48.9,528.8 49.1,528.8 49.4,528.8 49.6,528.8 49.9,528.8 50.1,545 50.4,545 50.6,545 50.9,545 51.1,545 51.4,545 51.6,545 51.9,545 52.1,545 52.4,545 52.6,545 52.9,545 53.1,545 53.4,545 53.6,480.5 53.9,480.5 54.1,480.5 54.4,480.5 54.6,480.5 54.9,480.5 55.1,480.5 55.4,480.5 55.6,480.5 55.9,480.5 56.1,480.5 56.4,480.5 56.6,480.5 56.9,480.5 57.1,480.5 57.4,532.6 57.6,532.6 57.9,532.6 58.1,532.6 58.4,532.6 58.6,532.6 58.9,532.6 59.1,532.6 59.4,532.6 59.6,532.6 59.9,532.6 60.1,532.6 60.4,560 60.6,560 60.9,560 61.1,560 61.4,560 61.6,560 61.9,560 62.1,538.8 62.4,538.8 62.6,538.8 62.9,538.8 63.1,538.8 63.4,538.8 63.6,538.8 63.9,538.8 64.1,538.8 64.3,538.8 64.6,538.8 64.8,538.8 65.1,538.8 65.3,538.8 65.6,538.8 65.8,538.8 66.1,538.8 66.3,538.8 66.6,538.8 66.8,538.8 67.1,538.8 67.3,538.8 67.6,538.8 67.8,538.8 68.1,538.8 68.3,538.8 68.6,538.8 68.8,538.8 69.1,538.8 69.3,538.8 69.6,538.8 69.8,538.8 70.1,550 70.3,550 70.6,550 70.8,550 71.1,550 71.3,550 71.6,550 71.8,550 72.1,550 72.3,550 72.6,550 72.8,550 73.1,550 73.3,550 73.6,550 73.8,550 74.1,550 74.3,550 74.6,550 74.8,550 75.1,538.8 75.3,538.8 75.6,538.8 75.8,538.8 76.1,538.8 76.3,538.8 76.6,538.8 76.8,538.8 77.1,538.8 77.3,538.8 77.6,538.8 77.8,538.8 78.1,538.8 78.3,538.8 78.6,538.8 78.8,538.8 79.1,538.8 79.3,538.8 79.6,538.8 79.8,538.8 80.1,538.8 80.3,538.8 80.6,538.8 80.8,538.8 81.1,538.8 81.3,538.8 81.6,538.8 81.8,538.8 82.1,538.8 82.3,538.8 82.6,538.8 82.8,538.8 83.1,538.8 83.3,538.8 83.6,538.8 83.8,538.8 84.1,538.8 84.3,538.8 84.6,538.8 84.8,538.8 85.1,538.8 85.3,538.8 85.6,538.8 85.8,538.8 86.1,538.8 86.3,538.8 86.6,538.8 86.8,538.8 87.1,538.8 87.3,538.8 87.6,538.8 87.8,538.8 88.1,538.8 88.3,538.8 88.6,538.8 88.8,538.8 89.1,538.8 89.3,538.8 89.6,538.8 89.8,538.8 90.1,538.8 90.3,538.8 90.6,538.8 90.8,538.8 91.1,538.8 91.3,538.8 91.6,533.9 91.8,533.9 92.1,533.9 92.3,533.9 92.6,533.9 92.8,533.9 93.1,533.9 93.3,533.9 93.6,533.9 93.8,533.9 94.1,533.9 94.3,533.9 94.6,533.9 94.8,533.9 95.1,533.9 95.3,548 95.6,548 95.8,548 96.1,548 96.3,548 96.6,548 96.8,548 97.1,548 97.3,548 97.6,548 97.8,548 98.1,538.8 98.3,538.8 98.6,538.8 98.8,538.8 99.1,538.8 99.3,538.8 99.6,538.8 99.8,538.8 100.1,538.8 100.3,538.8 100.6,538.8 100.8,538.8 101.1,538.8 101.3,538.8 101.6,538.8 101.8,538.8 102.1,538.8 102.3,538.8 102.6,538.8 102.8,538.8 103.1,538.8 103.3,538.8 103.6,538.8 103.8,538.8 104.1,538.8 104.3,538.8 104.6,538.8 104.8,538.8 105.1,528.5 105.3,528.5 105.6,528.5 105.8,528.5 106.1,528.5 106.3,528.5 106.6,528.5 106.8,528.5 107.1,528.5 107.3,528.5 107.6,528.5 107.8,528.5 108.1,528.5 108.3,528.5 108.6,528.5 108.8,528.5 109.1,528.5 109.3,528.5 109.6,528.5 109.8,528.5 110.1,528.5 110.3,528.5 110.6,528.5 110.8,528.5 111.1,528.5 111.3,528.5 111.6,528.5 111.8,538.8 112.1,538.8 112.3,538.8 112.6,538.8 112.8,538.8 113.1,538.8 113.3,538.8 113.6,538.8 113.8,538.8 114.1,538.8 114.3,538.8 114.6,538.8 114.8,538.8 115.1,538.8 115.3,538.8 115.6,538.8 115.8,538.8 116.1,538.8 116.3,538.8 116.6,538.8 116.8,538.8 117.1,538.8 117.3,538.8 117.6,538.8 117.8,538.8 118.1,538.8 118.3,538.8 118.6,538.8 118.8,538.8 119.1,538.8 119.3,538.8 119.6,538.8 119.8,538.8 120.1,538.8 120.3,538.8 120.6,538.8 120.8,538.8 121.1,538.8 121.3,538.8 121.6,538.8 121.8,518.5 122.1,518.5 122.3,518.5 122.6,518.5 122.8,518.5 123.1,518.5 123.3,518.5 123.6,518.5 123.8,518.5 124.1,518.5 124.3,518.5 124.6,518.5 124.8,518.5 125.1,518.5 125.3,518.5 125.6,518.5 125.8,518.5 126.1,518.5 126.3,538.8 126.6,538.8 126.8,538.8 127.1,541 127.3,541 127.6,541 127.8,541 128.1,541 128.3,541 128.6,541 128.8,541 129.1,541 129.3,541 129.6,541 129.8,541 130.1,538.8 130.3,538.8 130.6,538.8 130.8,538.8 131.1,538.8 131.3,538.8 131.6,538.8 131.8,538.8 132.1,538.8 132.3,538.8 132.6,538.8 132.8,538.8 133.1,538.8 133.3,538.8 133.6,538.8 133.8,538.8 134.1,538.8 134.3,538.8 134.6,538.8 134.8,538.8 135.1,538.8 135.3,538.8 135.6,538.8 135.8,538.8 136.1,538.8 136.3,538.8 136.6,538.8 136.8,538.8 137.1,538.8 137.3,538.8 137.6,538.8 137.8,538.8 138.1,538.8 138.3,538.8 138.6,538.8 138.8,538.8 139.1,538.8 139.3,538.8 139.6,538.8 139.8,538.8 140.1,541 140.3,541 140.6,541 140.8,541 141.1,541 141.3,541 141.6,541 141.8,541 142.1,541 142.3,541 142.6,541 142.8,541 143.1,538.8 143.3,538.8 143.6,538.8 143.8,538.8 144.1,538.8 144.3,538.8 144.6,538.8 144.8,538.8 145.1,538.8 145.3,538.8 145.6,538.8 145.8,538.8 146.1,538.8 146.3,538.8 146.6,538.8 146.8,538.8 147.1,538.8 147.3,538.8 147.6,538.8 147.8,538.8 148.1,538.8 148.3,538.8 148.6,538.8 148.8,538.8 149.1,538.8 149.3,538.8 149.6,538.8 149.8,538.8 150.1,538.8 150.3,538.8 150.6,538.8 150.8,538.8 151.1,538.8 151.3,538.8 151.6,538.8 151.8,538.8 152.1,538.8 152.3,538.8 152.6,538.8 152.8,538.8 153.1,538.8 153.3,538.8 153.6,538.8 153.8,538.8 154.1,538.8 154.3,538.8 154.6,538.8 154.8,538.8 155.1,538.8 155.3,538.8 155.6,538.8 155.8,538.8 156.1,538.8 156.3,538.8 156.6,538.8 156.8,538.8 157.1,538.8 157.3,538.8 157.6,538.8 157.8,538.8 158.1,538.8 158.3,538.8 158.6,538.8 158.8,538.8 159.1,538.8 159.3,538.8 159.6,538.8 159.8,538.8 160.1,538.8 160.3,538.8 160.6,538.8 160.8,538.8 161.1,538.8 161.3,538.8 161.6,538.8 161.8,538.8 162.1,538.8 162.3,538.8 162.6,538.8 162.8,538.8 163.1,538.8 163.3,538.8 163.6,538.8 163.8,538.8 164.1,538.8 164.3,538.8 164.6,538.8 164.8,538.8 165.1,538.8 165.3,538.8 165.6,538.8 165.8,538.8 166.1,538.8 166.3,538.8 166.6,538.8 166.8,538.8 167.1,538.8 167.3,538.8 167.6,538.8 167.8,538.8 168.1,538.8 168.3,538.8 168.6,538.8 168.8,538.8 169.1,538.8 169.3,538.8 169.6,538.8 169.8,538.8 170.1,538.8 170.3,538.8 170.6,538.8 170.8,538.8 171.1,538.8 171.3,538.8 171.6,538.8 171.8,538.8 172.1,538.8 172.3,538.8 172.6,538.8 172.8,538.8 173.1,538.8 173.3,538.8 173.6,532.5 173.8,532.5 174.1,532.5 174.3,532.5 174.6,532.5 174.8,532.5 175.1,532.5 175.3,532.5 175.6,532.5 175.8,532.5 176.1,532.5 176.3,532.5 176.6,532.5 176.8,532.5 177.1,532.5 177.3,532.5 177.6,532.5 177.8,538.8 178.1,538.8 178.3,538.8 178.6,538.8 178.8,538.8 179.1,545 179.3,545 179.6,545 179.8,545 180.1,545 180.3,545 180.6,545 180.8,545 181.1,538.8 181.3,538.8 181.6,538.8 181.8,538.8 182.1,538.8 182.3,538.8 182.6,538.8 182.8,538.8 183.1,538.8 183.3,538.8 183.6,538.8 183.8,538.8 184.1,538.8 184.3,538.8 184.6,538.8 184.8,538.8 185.1,538.8 185.3,538.8 185.6,538.8 185.8,538.8 186.1,538.8 186.3,538.8 186.6,538.8 186.8,538.8 187.1,538.8 187.3,538.8 187.6,538.8 187.8,538.8 188.1,538.8 188.3,538.8 188.6,538.8 188.8,538.8 189.1,538.8 189.3,538.8 189.6,538.8 189.8,538.8 190.1,538.8 190.3,538.8 190.6,538.8 190.8,538.8 191.1,538.8 191.3,538.8 191.6,538.8 191.8,538.8 192.1,538.8 192.3,538.8 192.6,538.8 192.8,538.8 193.1,538.8 193.3,538.8 193.6,538.8 193.8,538.8 194.1,538.8 194.3,538.8 194.6,538.8 194.8,538.8 195.1,538.8 195.3,538.8 195.6,538.8 195.8,538.8 196.1,538.8 196.3,538.8 196.6,538.8 196.8,538.8 197.1,538.8 197.3,538.8 197.6,538.8 197.8,538.8 198.1,538.8 198.3,538.8 198.6,538.8 198.8,538.8 199.1,538.8 199.3,538.8 199.6,538.8 199.8,538.8 200.1,538.8 200.3,538.8 200.6,538.8 200.8,538.8 201.1,538.8 201.3,538.8 201.6,538.8 201.8,538.8 202.1,538.8 202.3,538.8 202.6,538.8 202.8,538.8 203.1,538.8 203.3,538.8 203.6,538.8 203.8,538.8 204.1,538.8 204.3,538.8 204.6,538.8 204.8,538.8 205.1,538.8 205.3,538.8 205.6,538.8 205.8,538.8 206.1,538.8 206.3,538.8 206.6,538.8 206.8,538.8 207.1,538.8 207.3,538.8 207.6,538.8 207.8,538.8 208.1,538.8 208.3,538.8 208.6,538.8 208.8,538.8 209.1,538.8 209.3,538.8 209.6,538.8 209.8,538.8 210.1,538.8 210.3,538.8 210.6,538.8 210.8,538.8 211.1,538.8 211.3,538.8 211.6,538.8 211.8,538.8 212.1,538.8 212.3,538.8 212.6,538.8 212.8,538.8 213.1,538.8 213.3,538.8 213.6,538.8 213.8,538.8 214.1,538.8 214.3,538.8 214.6,538.8 214.8,538.8 215.1,538.8 215.3,538.8 215.6,538.8 215.8,538.8 216.1,538.8 216.3,538.8 216.6,538.8 216.8,538.8 217.1,538.8 217.3,538.8 217.6,538.8 217.8,538.8 218.1,538.8 218.3,538.8 218.6,538.8 218.8,538.8 219.1,538.8 219.3,538.8 219.6,538.8 219.8,538.8 220.1,538.8 220.3,538.8 220.6,538.8 220.8,538.8 221.1,538.8 221.3,538.8 221.6,538.8 221.8,538.8 222.1,538.8 222.3,538.8 222.6,538.8 222.8,538.8 223.1,538.8 223.3,538.8 223.6,538.8 223.8,538.8 224.1,538.8 224.3,538.8 224.6,538.8 224.8,538.8 225.1,538.8 225.3,538.8 225.6,538.8 225.8,538.8 226.1,538.8 226.3,538.8 226.6,538.8 226.8,538.8 227.1,538.8 227.3,538.8 227.6,538.8 227.8,538.8 228.1,538.8 228.3,538.8 228.6,538.8 228.8,538.8 229.1,538.8 229.3,538.8 229.6,538.8 229.8,538.8 230.1,538.8 230.3,538.8 230.6,538.8 230.8,538.8 231.1,538.8 231.3,538.8 231.6,538.8 231.8,538.8 232.1,538.8 232.3,538.8 232.6,538.8 232.8,538.8 233.1,538.8 233.3,538.8 233.6,538.8 233.8,538.8 234.1,538.8 234.3,538.8 234.6,538.8 234.8,538.8 235.1,538.8 235.3,538.8 235.6,538.8 235.8,538.8 236.1,538.8 236.3,538.8 236.6,538.8 236.8,538.8 237.1,538.8 237.3,538.8 237.6,538.8 237.8,538.8 238.1,538.8 238.3,538.8 238.6,538.8 238.8,538.8 239.1,538.8 239.3,538.8 239.6,538.8 239.8,538.8 240.1,538.8 240.3,538.8 240.6,538.8 240.8,538.8 241.1,538.8 241.3,538.8 241.6,538.8 241.8,538.8 242.1,538.8 242.3,538.8 242.6,538.8 242.8,538.8 243.1,538.8 243.3,538.8 243.6,538.8 243.8,538.8 244.1,538.8 244.3,538.8 244.6,538.8 244.8,538.8 245.1,538.8 245.3,538.8 245.6,538.8 245.8,538.8 246.1,538.8 246.3,538.8 246.6,538.8 246.8,538.8 247.1,538.8 247.3,538.8 247.6,538.8 247.8,538.8 248.1,538.8 248.3,538.8 248.6,538.8 248.8,538.8 249.1,538.8 249.3,538.8 249.6,538.8 249.8,538.8 250.1,538.8 250.3,538.8 250.6,538.8 250.8,538.8 251.1,538.8 251.3,538.8 251.6,538.8 251.8,538.8 252.1,538.8 252.3,538.8 252.6,538.8 252.8,538.8 253.1,538.8 253.3,538.8 253.6,538.8 253.8,538.8 254.1,538.8 254.3,538.8 254.6,538.8 254.8,538.8 255.1,538.8 255.3,538.8 255.6,538.8 255.8,538.8 256.1,538.8 256.4,538.8 256.6,538.8 256.9,538.8 257.1,538.8 257.4,538.8 257.6,538.8 257.9,538.8 258.1,538.8 258.4,538.8 258.6,538.8 258.9,538.8 259.1,538.8 259.4,538.8 259.6,538.8 259.9,538.8 260.1,538.8 260.4,538.8 260.6,538.8 260.9,538.8 261.1,538.8 261.4,538.8 261.6,538.8 261.9,538.8 262.1,538.8 262.4,538.8 262.6,538.8 262.9,538.8 263.1,538.8 263.4,538.8 263.6,538.8 263.9,538.8 264.1,538.8 264.4,538.8 264.6,538.8 264.9,538.8 265.1,538.8 265.4,538.8 265.6,538.8 265.9,538.8 266.1,538.8 266.4,538.8 266.6,538.8 266.9,538.8 267.1,538.8 267.4,538.8 267.6,538.8 267.9,538.8 268.1,538.8 268.4,538.8 268.6,538.8 268.9,538.8 269.1,538.8 269.4,538.8 269.6,538.8 269.9,538.8 270.1,538.8 270.4,538.8 270.6,538.8 270.9,538.8 271.1,538.8 271.4,538.8 271.6,538.8 271.9,538.8 272.1,538.8 272.4,538.8 272.6,538.8 272.9,538.8 273.1,538.8 273.4,538.8 273.6,538.8 273.9,538.8 274.1,538.8 274.4,538.8 274.6,538.8 274.9,538.8 275.1,538.8 275.4,538.8 275.6,538.8 275.9,538.8 276.1,538.8 276.4,538.8 276.6,538.8 276.9,538.8 277.1,538.8 277.4,538.8 277.6,538.8 277.9,538.8 278.1,538.8 278.4,538.8 278.6,538.8 278.9,538.8 279.1,538.8 279.4,538.8 279.6,538.8 279.9,538.8 280.1,538.8 280.4,538.8 280.6,538.8 280.9,538.8 281.1,538.8 281.4,538.8 281.6,538.8 281.9,538.8 282.1,538.8 282.4,538.8 282.6,538.8 282.9,538.8 283.1,538.8 283.4,538.8 283.6,538.8 283.9,538.8 284.1,538.8 284.4,538.8 284.6,538.8 284.9,538.8 285.1,538.8 285.4,538.8 285.6,538.8 285.9,538.8 286.1,538.8 286.4,538.8 286.6,538.8 286.9,538.8 287.1,538.8 287.4,538.8 287.6,538.8 287.9,538.8 288.1,538.8 288.4,538.8 288.6,538.8 288.9,538.8 289.1,538.8 289.4,538.8 289.6,538.8 289.9,538.8 290.1,538.8 290.4,538.8 290.6,538.8 290.9,538.8 291.1,538.8 291.4,538.8 291.6,538.8 291.9,538.8 292.1,538.8 292.4,538.8 292.6,538.8 292.9,538.8 293.1,538.8 293.4,538.8 293.6,538.8 293.9,538.8 294.1,538.8 294.4,538.8 294.6,538.8 294.9,538.8 295.1,538.8 295.4,538.8 295.6,538.8 295.9,538.8 296.1,538.8 296.4,538.8 296.6,538.8 296.9,538.8 297.1,538.8 297.4,538.8 297.6,538.8 297.9,538.8 298.1,538.8 298.4,538.8 298.6,538.8 298.9,538.8 299.1,538.8 299.4,538.8 299.6,538.8 299.9,538.8 300.1,538.8 300.4,538.8 300.6,538.8 300.9,538.8 301.1,538.8 301.4,538.8 301.6,538.8 301.9,538.8 302.1,538.8 302.4,538.8 302.6,538.8 302.9,538.8 303.1,538.8 303.4,538.8 303.6,538.8 303.9,538.8 304.1,538.8 304.4,538.8 304.6,538.8 304.9,538.8 305.1,538.8 305.4,538.8 305.6,538.8 305.9,538.8 306.1,538.8 306.4,538.8 306.6,538.8 306.9,538.8 307.1,538.8 307.4,538.8 307.6,538.8 307.9,538.8 308.1,538.8 308.4,538.8 308.6,538.8 308.9,538.8 309.1,538.8 309.4,538.8 309.6,538.8 309.9,538.8 310.1,538.8 310.4,538.8 310.6,538.8 310.9,538.8 311.1,538.8 311.4,538.8 311.6,538.8 311.9,538.8 312.1,538.8 312.4,538.8 312.6,538.8 312.9,538.8 313.1,538.8 313.4,538.8 313.6,538.8 313.9,538.8 314.1,538.8 314.4,538.8 314.6,538.8 314.9,538.8 315.1,538.8 315.4,538.8 315.6,538.8 315.9,538.8 316.1,538.8 316.4,538.8 316.6,538.8 316.9,538.8 317.1,538.8 317.4,538.8 317.6,538.8 317.9,538.8 318.1,538.8 318.4,538.8 318.6,538.8 318.9,538.8 319.1,538.8 319.4,538.8 319.6,538.8 319.9,538.8 320.1,538.8 320.4,538.8 320.6,538.8 320.9,538.8 321.1,538.8 321.4,538.8 321.6,538.8 321.9,538.8 322.1,538.8 322.4,538.8" fill="none" stroke="#FF0000" stroke-width="1.3" stroke-linejoin="miter"/>
<polyline points="38.6,583 38.6,550.6 39.6,550.6 39.6,583 41.2,583 41.2,583 41.2,537.1 41.7,537.1 41.7,583 42.2,583 42.2,537.1 42.7,537.1 42.7,583 43.2,583 43.2,537.1 43.7,537.1 43.7,583 44.2,583 44.2,537.1 44.7,537.1 44.7,583 45.2,583 45.2,537.1 45.7,537.1 45.7,583 46.2,583 46.2,537.1 46.7,537.1 46.7,583 47.2,560 47.2,537.1 47.7,537.1 47.7,560 48.2,560 48.2,537.1 48.7,537.1 48.7,560 49.2,560 49.2,537.1 49.7,537.1 49.7,560 50.2,560 50.2,537.1 50.7,537.1 50.7,560 51.2,560 51.2,537.1 51.7,537.1 51.7,560 52.2,560 52.2,537.1 52.7,537.1 52.7,560 52.5,560 52.5,537.1 322.5,537.6" fill="none" stroke="#A2142F" stroke-width="2.6" stroke-linejoin="miter"/>
</g>
<rect x="36.7" y="473.4" width="285.8" height="182.9" fill="none" stroke="#262626" stroke-width="1.1"/>
<path d="M93.86 656.3v-3M93.86 473.4v3M151.02 656.3v-3M151.02 473.4v3M208.18 656.3v-3M208.18 473.4v3M265.34 656.3v-3M265.34 473.4v3M36.7 635.5h3M322.5 635.5h-3M36.7 614.1h3M322.5 614.1h-3M36.7 592.7h3M322.5 592.7h-3M36.7 571.3h3M322.5 571.3h-3M36.7 549.9h3M322.5 549.9h-3M36.7 528.5h3M322.5 528.5h-3M36.7 507.1h3M322.5 507.1h-3M36.7 485.7h3M322.5 485.7h-3" stroke="#262626" stroke-width="1" fill="none"/>
<text x="36.7" y="672" font-size="10.2" text-anchor="middle" font-weight="bold" font-family="Liberation Sans" fill="#262626">0</text>
<text x="93.86" y="672" font-size="10.2" text-anchor="middle" font-weight="bold" font-family="Liberation Sans" fill="#262626">0.2</text>
<text x="151.02" y="672" font-size="10.2" text-anchor="middle" font-weight="bold" font-family="Liberation Sans" fill="#262626">0.4</text>
<text x="208.18" y="672" font-size="10.2" text-anchor="middle" font-weight="bold" font-family="Liberation Sans" fill="#262626">0.6</text>
<text x="265.34" y="672" font-size="10.2" text-anchor="middle" font-weight="bold" font-family="Liberation Sans" fill="#262626">0.8</text>
<text x="322.5" y="672" font-size="10.2" text-anchor="middle" font-weight="bold" font-family="Liberation Sans" fill="#262626">1</text>
<text x="31.1" y="640.77" font-size="10.2" text-anchor="end" font-weight="bold" font-family="Liberation Sans" fill="#262626">0</text>
<text x="31.1" y="619.37" font-size="10.2" text-anchor="end" font-weight="bold" font-family="Liberation Sans" fill="#262626">0.1</text>
<text x="31.1" y="597.97" font-size="10.2" text-anchor="end" font-weight="bold" font-family="Liberation Sans" fill="#262626">0.2</text>
<text x="31.1" y="576.57" font-size="10.2" text-anchor="end" font-weight="bold" font-family="Liberation Sans" fill="#262626">0.3</text>
<text x="31.1" y="555.17" font-size="10.2" text-anchor="end" font-weight="bold" font-family="Liberation Sans" fill="#262626">0.4</text>
<text x="31.1" y="533.77" font-size="10.2" text-anchor="end" font-weight="bold" font-family="Liberation Sans" fill="#262626">0.5</text>
<text x="31.1" y="512.37" font-size="10.2" text-anchor="end" font-weight="bold" font-family="Liberation Sans" fill="#262626">0.6</text>
<text x="31.1" y="490.97" font-size="10.2" text-anchor="end" font-weight="bold" font-family="Liberation Sans" fill="#262626">0.7</text>
<text transform="translate(9.94,560.5) rotate(-90)" font-size="10.4" text-anchor="middle" font-weight="bold" font-family="Liberation Sans" fill="#1a1a1a">Duty cycle</text>
<text x="180.2" y="684.6" font-size="12.3" text-anchor="middle" font-weight="bold" font-family="Liberation Sans" fill="#1a1a1a">time (sec)</text>
<text x="180" y="700.5" font-size="12.0" text-anchor="middle" font-weight="bold" font-family="Liberation Serif" fill="#111">(c)</text>
<rect x="230" y="542.2" width="84.4" height="103.2" fill="#fff" stroke="#34409E" stroke-width="1.1"/>
<line x1="234.8" y1="551.1" x2="259" y2="551.1" stroke="#FF0000" stroke-width="1.2"/>
<text x="261.8" y="554.29" font-size="8.85" text-anchor="start" font-weight="bold" font-family="Liberation Sans" fill="#1a1a1a">ACS</text>
<line x1="234.8" y1="565.33" x2="259" y2="565.33" stroke="#333" stroke-width="1.4"/>
<text x="261.8" y="568.52" font-size="8.85" text-anchor="start" font-weight="bold" font-family="Liberation Sans" fill="#1a1a1a">MHC-FLC</text>
<line x1="234.8" y1="579.56" x2="259" y2="579.56" stroke="#EDB120" stroke-width="1.2"/>
<text x="261.8" y="582.75" font-size="8.85" text-anchor="start" font-weight="bold" font-family="Liberation Sans" fill="#1a1a1a">VSS-FC</text>
<line x1="234.8" y1="593.79" x2="259" y2="593.79" stroke="#9B59B6" stroke-width="1.4"/>
<text x="261.8" y="596.98" font-size="8.85" text-anchor="start" font-weight="bold" font-family="Liberation Sans" fill="#1a1a1a">ANFIS</text>
<line x1="234.8" y1="608.02" x2="259" y2="608.02" stroke="#9DC97A" stroke-width="1.2"/>
<text x="261.8" y="611.21" font-size="8.85" text-anchor="start" font-weight="bold" font-family="Liberation Sans" fill="#1a1a1a">VSS-RBFN</text>
<line x1="234.8" y1="622.25" x2="259" y2="622.25" stroke="#3050C0" stroke-width="1.4"/>
<text x="261.8" y="625.44" font-size="8.85" text-anchor="start" font-weight="bold" font-family="Liberation Sans" fill="#1a1a1a">VSS-INR</text>
<line x1="234.8" y1="636.48" x2="259" y2="636.48" stroke="#A2142F" stroke-width="2.2"/>
<text x="261.8" y="639.67" font-size="8.85" text-anchor="start" font-weight="bold" font-family="Liberation Sans" fill="#1a1a1a">P&amp;O-PSO</text>
<text x="144" y="603.5" font-size="9.85" text-anchor="middle" font-weight="bold" font-family="Liberation Sans" fill="#1a1a1a">Partial Shading Condition-2</text>
<text x="136.4" y="620.9" font-size="9.85" text-anchor="middle" font-weight="bold" font-family="Liberation Sans" fill="#1a1a1a" letter-spacing="0.11">1000W/m<tspan font-size="7.09" dy="-4.92" dx="0.79">2</tspan><tspan dy="4.92">, 800W/m</tspan><tspan font-size="7.09" dy="-4.92" dx="0.79">2</tspan><tspan dy="4.92">, and 700W/m</tspan><tspan font-size="7.09" dy="-4.92" dx="0.79">2</tspan></text>
<path d="M443.52 473.5V655.5M502.84 473.5V655.5M562.16 473.5V655.5M621.48 473.5V655.5M384.2 624.65H680.8M384.2 593.8H680.8M384.2 562.95H680.8M384.2 532.1H680.8M384.2 501.25H680.8" stroke="#D6D6D6" stroke-width="0.8" fill="none"/>
<g clip-path="url(#clipf)">
<polyline points="384.2,655.5 384.7,648.2 385.2,640.9 385.7,633.6 386.2,626.4 386.7,619.1 387.2,611.8 387.7,604.5 388.2,597.2 388.7,589.9 389.2,582.7 389.7,575.4 390.2,568.1 390.7,560.8 391.2,553.5 391.7,546.2 392.2,538.9 392.7,531.7 393.2,524.4 393.7,518.2 394.2,513.7 394.7,509.2 395.2,504.7 395.7,501.8 396.2,501.2 396.7,500.6 397.2,500 397.7,499.4 398.2,499 398.7,498.9 399.2,498.9 399.7,498.8 400.2,498.8 400.7,498.7 401.2,498.7 401.7,498.6 402.2,498.6 402.7,498.6 403.2,498.6 403.7,498.6 404.2,498.6 404.7,498.6 405.2,498.6 405.7,498.6 406.2,498.5 406.7,498.5 407.2,498.5 407.7,498.5 408.2,498.5 408.7,498.5 409.2,498.5 409.7,498.5 410.2,498.5 410.7,498.5 411.2,498.5 411.7,498.5 412.2,498.5 412.7,498.5 413.2,498.5 413.7,498.5 414.2,498.5 414.7,498.5 415.2,498.5 415.7,498.5 416.2,498.5 416.7,498.5 417.2,498.5 417.7,498.5 418.2,498.5 418.7,498.5 419.2,498.5 419.7,498.5 420.2,498.5 420.7,498.5 421.2,498.5 421.7,498.5 422.2,498.5 422.7,498.5 423.2,498.5 423.7,498.5 424.2,498.5 424.7,498.5 425.2,498.5 425.7,498.5 426.2,498.5 426.7,498.5 427.2,498.5 427.7,498.5 428.2,498.5 428.7,498.5 429.2,498.5 429.7,498.5 430.2,498.5 430.7,498.5 431.2,498.5 431.7,498.5 432.2,498.5 432.7,498.5 433.2,498.5 433.7,498.5 434.2,498.5 434.7,498.5 435.2,498.5 435.7,498.5 436.2,498.5 436.7,498.5 437.2,498.5 437.7,498.5 438.2,498.5 438.7,498.5 439.2,498.5 439.7,498.5 440.2,498.5 440.7,498.5 441.2,498.5 441.7,498.5 442.2,498.5 442.7,498.5 443.2,498.5 443.7,498.5 444.2,498.5 444.7,498.5 445.2,498.5 445.7,498.5 446.2,498.5 446.7,498.5 447.2,498.5 447.7,498.5 448.2,498.5 448.7,498.5 449.2,498.5 449.7,498.5 450.2,498.5 450.7,498.5 451.2,498.5 451.7,498.5 452.2,498.5 452.7,498.5 453.2,498.5 453.7,498.5 454.2,498.5 454.7,498.5 455.2,498.5 455.7,498.5 456.2,498.5 456.7,498.5 457.2,498.5 457.7,498.5 458.2,498.5 458.7,498.5 459.2,498.5 459.7,498.5 460.2,498.5 460.7,498.5 461.2,498.5 461.7,498.5 462.2,498.5 462.7,498.5 463.2,498.5 463.7,498.5 464.2,498.5 464.7,498.5 465.2,498.5 465.7,498.5 466.2,498.5 466.7,498.5 467.2,498.5 467.7,498.5 468.2,498.5 468.7,498.5 469.2,498.5 469.7,498.5 470.2,498.5 470.7,498.5 471.2,498.5 471.7,498.5 472.2,498.5 472.7,498.5 473.2,498.5 473.7,498.5 474.2,498.5 474.7,498.5 475.2,498.5 475.7,498.5 476.2,498.5 476.7,498.5 477.2,498.5 477.7,498.5 478.2,498.5 478.7,498.5 479.2,498.5 479.7,498.5 480.2,498.5 480.7,498.5 481.2,498.5 481.7,498.5 482.2,498.5 482.7,498.5 483.2,498.5 483.7,498.5 484.2,498.5 484.7,498.5 485.2,498.5 485.7,498.5 486.2,498.5 486.7,498.5 487.2,498.5 487.7,498.5 488.2,498.5 488.7,498.5 489.2,498.5 489.7,498.5 490.2,498.5 490.7,498.5 491.2,498.5 491.7,498.5 492.2,498.5 492.7,498.5 493.2,498.5 493.7,498.5 494.2,498.5 494.7,498.5 495.2,498.5 495.7,498.5 496.2,498.5 496.7,498.5 497.2,498.5 497.7,498.5 498.2,498.5 498.7,498.5 499.2,498.5 499.7,498.5 500.2,498.5 500.7,498.5 501.2,498.5 501.7,498.5 502.2,498.5 502.7,498.5 503.2,498.5 503.7,498.5 504.2,498.5 504.7,498.5 505.2,498.5 505.7,498.5 506.2,498.5 506.7,498.5 507.2,498.5 507.7,498.5 508.2,498.5 508.7,498.5 509.2,498.5 509.7,498.5 510.2,498.5 510.7,498.5 511.2,498.5 511.7,498.5 512.2,498.5 512.7,498.5 513.2,498.5 513.7,498.5 514.2,498.5 514.7,498.5 515.2,498.5 515.7,498.5 516.2,498.5 516.7,498.5 517.2,498.5 517.7,498.5 518.2,498.5 518.7,498.5 519.2,498.5 519.7,498.5 520.2,498.5 520.7,498.5 521.2,498.5 521.7,498.5 522.2,498.5 522.7,498.5 523.2,498.5 523.7,498.5 524.2,498.5 524.7,498.5 525.2,498.5 525.7,498.5 526.2,498.5 526.7,498.5 527.2,498.5 527.7,498.5 528.2,498.5 528.7,498.5 529.2,498.5 529.7,498.5 530.2,498.5 530.7,498.5 531.2,498.5 531.7,498.5 532.2,498.5 532.7,498.5 533.2,498.5 533.7,498.5 534.2,498.5 534.7,498.5 535.2,498.5 535.7,498.5 536.2,498.5 536.7,498.5 537.2,498.5 537.7,498.5 538.2,498.5 538.7,498.5 539.2,498.5 539.7,498.5 540.2,498.5 540.7,498.5 541.2,498.5 541.7,498.5 542.2,498.5 542.7,498.5 543.2,498.5 543.7,498.5 544.2,498.5 544.7,498.5 545.2,498.5 545.7,498.5 546.2,498.4 546.7,498.4 547.2,498.4 547.7,498.4 548.2,498.4 548.7,498.4 549.2,498.4 549.7,498.4 550.2,498.4 550.7,498.4 551.2,498.4 551.7,498.4 552.2,498.4 552.7,498.4 553.2,498.4 553.7,498.4 554.2,498.4 554.7,498.4 555.2,498.4 555.7,498.4 556.2,498.4 556.7,498.4 557.2,498.4 557.7,498.4 558.2,498.4 558.7,498.4 559.2,498.4 559.7,498.4 560.2,498.4 560.7,498.4 561.2,498.4 561.7,498.4 562.2,498.4 562.7,498.4 563.2,498.4 563.7,498.4 564.2,498.4 564.7,498.4 565.2,498.4 565.7,498.4 566.2,498.4 566.7,498.4 567.2,498.4 567.7,498.4 568.2,498.4 568.7,498.4 569.2,498.4 569.7,498.4 570.2,498.4 570.7,498.4 571.2,498.4 571.7,498.4 572.2,498.4 572.7,498.4 573.2,498.4 573.7,498.4 574.2,498.4 574.7,498.4 575.2,498.4 575.7,498.4 576.2,498.4 576.7,498.4 577.2,498.4 577.7,498.4 578.2,498.4 578.7,498.4 579.2,498.4 579.7,498.4 580.2,498.4 580.7,498.4 581.2,498.4 581.7,498.4 582.2,498.4 582.7,498.4 583.2,498.4 583.7,498.4 584.2,498.4 584.7,498.4 585.2,498.4 585.7,498.4 586.2,498.4 586.7,498.4 587.2,498.4 587.7,498.4 588.2,498.4 588.7,498.4 589.2,498.4 589.7,498.4 590.2,498.4 590.7,498.4 591.2,498.4 591.7,498.4 592.2,498.4 592.7,498.4 593.2,498.4 593.7,498.4 594.2,498.4 594.7,498.4 595.2,498.4 595.7,498.4 596.2,498.4 596.7,498.4 597.2,498.4 597.7,498.4 598.2,498.4 598.7,498.4 599.2,498.4 599.7,498.4 600.2,498.4 600.7,498.4 601.2,498.4 601.7,498.4 602.2,498.4 602.7,498.4 603.2,498.4 603.7,498.4 604.2,498.4 604.7,498.4 605.2,498.4 605.7,498.4 606.2,498.4 606.7,498.4 607.2,498.4 607.7,498.4 608.2,498.4 608.7,498.4 609.2,498.4 609.7,498.4 610.2,498.4 610.7,498.4 611.2,498.4 611.7,498.4 612.2,498.4 612.7,498.4 613.2,498.4 613.7,498.4 614.2,498.4 614.7,498.4 615.2,498.4 615.7,498.4 616.2,498.4 616.7,498.4 617.2,498.4 617.7,498.4 618.2,498.4 618.7,498.4 619.2,498.4 619.7,498.4 620.2,498.4 620.7,498.4 621.2,498.4 621.7,498.4 622.2,498.4 622.7,498.4 623.2,498.4 623.7,498.4 624.2,498.4 624.7,498.4 625.2,498.4 625.7,498.4 626.2,498.4 626.7,498.4 627.2,498.4 627.7,498.4 628.2,498.4 628.7,498.4 629.2,498.4 629.7,498.4 630.2,498.4 630.7,498.4 631.2,498.4 631.7,498.4 632.2,498.4 632.7,498.4 633.2,498.4 633.7,498.4 634.2,498.4 634.7,498.4 635.2,498.4 635.7,498.4 636.2,498.4 636.7,498.4 637.2,498.4 637.7,498.4 638.2,498.4 638.7,498.4 639.2,498.4 639.7,498.4 640.2,498.4 640.7,498.4 641.2,498.4 641.7,498.4 642.2,498.4 642.7,498.4 643.2,498.4 643.7,498.4 644.2,498.4 644.7,498.4 645.2,498.4 645.7,498.4 646.2,498.4 646.7,498.4 647.2,498.4 647.7,498.4 648.2,498.4 648.7,498.4 649.2,498.4 649.7,498.4 650.2,498.4 650.7,498.4 651.2,498.4 651.7,498.4 652.2,498.4 652.7,498.4 653.2,498.4 653.7,498.4 654.2,498.4 654.7,498.4 655.2,498.4 655.7,498.4 656.2,498.4 656.7,498.4 657.2,498.4 657.7,498.4 658.2,498.4 658.7,498.4 659.2,498.4 659.7,498.4 660.2,498.4 660.7,498.4 661.2,498.4 661.7,498.4 662.2,498.4 662.7,498.4 663.2,498.4 663.7,498.4 664.2,498.4 664.7,498.4 665.2,498.4 665.7,498.4 666.2,498.4 666.7,498.4 667.2,498.4 667.7,498.4 668.2,498.4 668.7,498.4 669.2,498.4 669.7,498.4 670.2,498.4 670.7,498.4 671.2,498.4 671.7,498.4 672.2,498.4 672.7,498.4 673.2,498.4 673.7,498.4 674.2,498.4 674.7,498.4 675.2,498.4 675.7,498.4 676.2,498.4 676.7,498.4 677.2,498.4 677.7,498.4 678.2,498.4 678.7,498.4 679.2,498.4 679.7,498.4 680.2,498.4 680.7,498.4 681.2,498.4 681.7,498.4" fill="none" stroke="#0072BD" stroke-width="1.6" stroke-linejoin="round"/>
<polyline points="384.2,655.5 384.7,648.7 385.2,642 385.7,635.2 386.2,628.5 386.7,621.7 387.2,614.9 387.7,608.2 388.2,601.4 388.7,594.7 389.2,587.9 389.7,581.1 390.2,574.4 390.7,567.6 391.2,560.9 391.7,554.1 392.2,547.3 392.7,540.6 393.2,533.8 393.7,527.1 394.2,522.7 394.7,522 395.2,521.3 395.7,520.6 396.2,519.7 396.7,518.4 397.2,517.1 397.7,515.9 398.2,514.6 398.7,513.3 399.2,512 399.7,510.8 400.2,509.7 400.7,508.9 401.2,508.1 401.7,507.3 402.2,506.5 402.7,505.8 403.2,505 403.7,504.2 404.2,503.4 404.7,502.6 405.2,501.4 405.7,501.6 406.2,502.2 406.7,501.5 407.2,502.5 407.7,502.4 408.2,502.4 408.7,503.4 409.2,503.2 409.7,502.8 410.2,503.4 410.7,503.6 411.2,503.4 411.7,503.7 412.2,503.6 412.7,503.9 413.2,504.2 413.7,503.6 414.2,503.9 414.7,503.8 415.2,504 415.7,503.4 416.2,503.5 416.7,503.4 417.2,503.6 417.7,503.5 418.2,502.6 418.7,502.7 419.2,502.9 419.7,502 420.2,502.4 420.7,502.6 421.2,503.1 421.7,503 422.2,502.8 422.7,502.9 423.2,503.1 423.7,503.7 424.2,503.2 424.7,503.3 425.2,503.6 425.7,503.4 426.2,503.3 426.7,503 427.2,503.3 427.7,503.1 428.2,503.5 428.7,503.3 429.2,503.1 429.7,503.2 430.2,503.4 430.7,505.1 431.2,506 431.7,507.4 432.2,508.1 432.7,507.6 433.2,506 433.7,504.9 434.2,504.5 434.7,503.3 435.2,503.4 435.7,504.8 436.2,504.8 436.7,505.6 437.2,506.7 437.7,507.6 438.2,508.5 438.7,510 439.2,511.7 439.7,513.1 440.2,514.1 440.7,514.6 441.2,514.1 441.7,513.2 442.2,513 442.7,512.1 443.2,511.6 443.7,509.6 444.2,507.8 444.7,505.9 445.2,504.7 445.7,503.6 446.2,503.2 446.7,503.1 447.2,501.7 447.7,502 448.2,500.6 448.7,500.8 449.2,499.7 449.7,499.6 450.2,498.9 450.7,498.1 451.2,498.7 451.7,498.4 452.2,497.7 452.7,497.3 453.2,497.1 453.7,496.5 454.2,496.9 454.7,496.1 455.2,495.9 455.7,495.5 456.2,495.5 456.7,495.3 457.2,496 457.7,495.6 458.2,495.9 458.7,495.6 459.2,495.3 459.7,495.4 460.2,495.3 460.7,495.5 461.2,495.3 461.7,495.3 462.2,495 462.7,495.1 463.2,495.8 463.7,495.1 464.2,495 464.7,495.4 465.2,495.7 465.7,494.8 466.2,495.1 466.7,495 467.2,494.6 467.7,495.3 468.2,495.1 468.7,495.1 469.2,494.8 469.7,495.2 470.2,493.7 470.7,493.5 471.2,493.3 471.7,493.3 472.2,493.3 472.7,493.3 473.2,493.4 473.7,493.5 474.2,493.5 474.7,493.5 475.2,493.4 475.7,493.3 476.2,493.1 476.7,492.9 477.2,492.8 477.7,492.7 478.2,492.7 478.7,492.7 479.2,492.9 479.7,493 480.2,493.3 480.7,493.6 481.2,493.9 481.7,494.1 482.2,494.3 482.7,494.4 483.2,494.4 483.7,494.4 484.2,494.4 484.7,494.3 485.2,494.2 485.7,494.2 486.2,494.2 486.7,494.3 487.2,494.4 487.7,494.5 488.2,494.7 488.7,494.8 489.2,495 489.7,495.1 490.2,495.1 490.7,495.2 491.2,495.2 491.7,495.1 492.2,495.1 492.7,495.1 493.2,495.1 493.7,495.2 494.2,495.2 494.7,495.3 495.2,495.3 495.7,495.4 496.2,495.5 496.7,495.5 497.2,495.5 497.7,495.5 498.2,495.5 498.7,495.4 499.2,495.3 499.7,495.2 500.2,495.2 500.7,495.4 501.2,495.6 501.7,495.9 502.2,496.2 502.7,496.6 503.2,497 503.7,497.4 504.2,497.8 504.7,498.2 505.2,499.3 505.7,501.4 506.2,503.5 506.7,505.5 507.2,507.6 507.7,509.7 508.2,511.8 508.7,513.9 509.2,512.2 509.7,509.6 510.2,506.9 510.7,504.3 511.2,501.6 511.7,499.8 512.2,499.3 512.7,498.9 513.2,498.4 513.7,498 514.2,497.7 514.7,497.4 515.2,497.6 515.7,498.7 516.2,499.8 516.7,500.9 517.2,502 517.7,503 518.2,504.2 518.7,505.5 519.2,506.8 519.7,508 520.2,509.2 520.7,510.4 521.2,511.6 521.7,512.8 522.2,511.1 522.7,508.8 523.2,506.4 523.7,504 524.2,501.6 524.7,499.9 525.2,499.4 525.7,498.8 526.2,498.2 526.7,497.5 527.2,496.7 527.7,496 528.2,495.4 528.7,495.1 529.2,494.9 529.7,494.7 530.2,494.5 530.7,494.4 531.2,494.3 531.7,494.2 532.2,494.1 532.7,494 533.2,493.9 533.7,493.8 534.2,493.7 534.7,493.7 535.2,493.7 535.7,493.7 536.2,493.7 536.7,493.8 537.2,493.9 537.7,493.9 538.2,494 538.7,494.1 539.2,494.2 539.7,494.3 540.2,494.4 540.7,494.6 541.2,494.8 541.7,495 542.2,495.2 542.7,495.3 543.2,495.4 543.7,495.5 544.2,495.4 544.7,495.4 545.2,495.2 545.7,495 546.2,494.8 546.7,494.5 547.2,494.2 547.7,493.9 548.2,493.6 548.7,493.5 549.2,493.4 549.7,493.5 550.2,493.6 550.7,493.8 551.2,493.9 551.7,494.1 552.2,494.3 552.7,494.4 553.2,494.5 553.7,494.5 554.2,494.4 554.7,494.3 555.2,494.1 555.7,493.9 556.2,493.6 556.7,493.2 557.2,492.9 557.7,492.6 558.2,492.4 558.7,492.4 559.2,492.6 559.7,492.9 560.2,493.4 560.7,493.9 561.2,494.5 561.7,495 562.2,495.5 562.7,495.7 563.2,495.9 563.7,495.8 564.2,495.7 564.7,495.5 565.2,495.3 565.7,495 566.2,494.9 566.7,494.7 567.2,494.7 567.7,494.6 568.2,494.7 568.7,494.7 569.2,494.7 569.7,494.7 570.2,494.7 570.7,494.6 571.2,494.4 571.7,494.1 572.2,493.9 572.7,493.6 573.2,493.3 573.7,493.1 574.2,492.9 574.7,492.8 575.2,492.7 575.7,492.7 576.2,492.8 576.7,492.9 577.2,493.1 577.7,493.4 578.2,493.6 578.7,493.9 579.2,494 579.7,494 580.2,494 580.7,493.8 581.2,493.6 581.7,493.3 582.2,493.1 582.7,492.8 583.2,492.6 583.7,492.5 584.2,492.3 584.7,492.2 585.2,492.4 585.7,492.9 586.2,493.5 586.7,494.1 587.2,494.8 587.7,495.4 588.2,497 588.7,499.8 589.2,502.7 589.7,505.5 590.2,508.2 590.7,510.5 591.2,512.8 591.7,515 592.2,515.7 592.7,514.1 593.2,512.4 593.7,510.7 594.2,509.1 594.7,507.5 595.2,506.2 595.7,505.3 596.2,504.6 596.7,504 597.2,503.5 597.7,503 598.2,502.4 598.7,501.8 599.2,501.1 599.7,500.2 600.2,499.6 600.7,499.4 601.2,499.1 601.7,498.7 602.2,498.4 602.7,498 603.2,497.6 603.7,497.2 604.2,496.8 604.7,496.5 605.2,496.2 605.7,496 606.2,496 606.7,496 607.2,496 607.7,496.2 608.2,496.3 608.7,496.3 609.2,496.3 609.7,496.1 610.2,495.8 610.7,495.5 611.2,495.2 611.7,494.8 612.2,494.4 612.7,494.1 613.2,493.9 613.7,493.8 614.2,493.9 614.7,493.9 615.2,494.1 615.7,494.2 616.2,494.3 616.7,494.4 617.2,494.4 617.7,494.4 618.2,494.4 618.7,494.3 619.2,494.1 619.7,494 620.2,493.8 620.7,493.7 621.2,493.6 621.7,493.7 622.2,493.8 622.7,494 623.2,494.3 623.7,494.6 624.2,495 624.7,495.4 625.2,495.8 625.7,496.1 626.2,496.4 626.7,496.7 627.2,496.8 627.7,497 628.2,497 628.7,496.9 629.2,496.8 629.7,496.5 630.2,496.3 630.7,496 631.2,495.6 631.7,495.3 632.2,495 632.7,494.8 633.2,494.6 633.7,494.5 634.2,494.4 634.7,494.3 635.2,494.2 635.7,494 636.2,493.8 636.7,493.6 637.2,493.4 637.7,493.3 638.2,493.2 638.7,493.3 639.2,493.4 639.7,493.6 640.2,493.8 640.7,494 641.2,494.1 641.7,494.1 642.2,494.1 642.7,494 643.2,494 643.7,493.9 644.2,493.8 644.7,493.7 645.2,493.7 645.7,493.6 646.2,493.5 646.7,493.4 647.2,493.2 647.7,493 648.2,492.8 648.7,492.7 649.2,492.5 649.7,492.3 650.2,492.2 650.7,492.2 651.2,492.1 651.7,492.1 652.2,492.1 652.7,492.2 653.2,492.3 653.7,492.5 654.2,492.6 654.7,492.8 655.2,493 655.7,493.1 656.2,493.2 656.7,493.2 657.2,493.2 657.7,493.2 658.2,493.1 658.7,493.1 659.2,493.1 659.7,493.1 660.2,493.2 660.7,493.3 661.2,493.4 661.7,493.5 662.2,493.6 662.7,493.6 663.2,493.6 663.7,493.5 664.2,493.4 664.7,493.4 665.2,493.3 665.7,493.3 666.2,493.2 666.7,493 667.2,492.8 667.7,492.6 668.2,492.4 668.7,492.2 669.2,492 669.7,491.9 670.2,491.9 670.7,491.9 671.2,492 671.7,492.1 672.2,492.2 672.7,492.3 673.2,492.3 673.7,492.3 674.2,492.3 674.7,492.2 675.2,492.1 675.7,492 676.2,491.8 676.7,491.7 677.2,491.7 677.7,491.7 678.2,491.7 678.7,491.7 679.2,491.8 679.7,491.9 680.2,491.9 680.7,492 681.2,492.1 681.7,492.2" fill="none" stroke="#EDB120" stroke-width="1.5" stroke-linejoin="round"/>
<polyline points="384.2,655.5 384.7,649.1 385.2,642.7 385.7,636.3 386.2,629.9 386.7,623.5 387.2,617.1 387.7,610.7 388.2,604.3 388.7,597.9 389.2,591.5 389.7,585.1 390.2,578.7 390.7,572.3 391.2,565.9 391.7,559.5 392.2,553.1 392.7,546.6 393.2,540.2 393.7,533.8 394.2,529.6 394.7,528.6 395.2,527.6 395.7,526.6 396.2,525.2 396.7,523.2 397.2,521.3 397.7,519.3 398.2,517.3 398.7,515.3 399.2,513.3 399.7,511.4 400.2,509.4 400.7,507.4 401.2,506.4 401.7,505.4 402.2,504.4 402.7,503.4 403.2,502.4 403.7,501.4 404.2,500.4 404.7,499.4 405.2,498.8 405.7,498.2 406.2,499.8 406.7,501.6 407.2,502.6 407.7,503.6 408.2,505.9 408.7,507.1 409.2,506.3 409.7,503.6 410.2,502 410.7,499.2 411.2,498.3 411.7,497.2 412.2,497 412.7,497.1 413.2,496.4 413.7,496.7 414.2,496.2 414.7,495.5 415.2,495.6 415.7,495.1 416.2,495.3 416.7,494.4 417.2,494.3 417.7,494.9 418.2,495.3 418.7,495.1 419.2,494.3 419.7,494.3 420.2,494.7 420.7,494 421.2,493.6 421.7,494 422.2,494.1 422.7,493.5 423.2,493.1 423.7,493.1 424.2,493.9 424.7,493.3 425.2,493.5 425.7,493.6 426.2,493.7 426.7,493.2 427.2,493.5 427.7,493 428.2,493.1 428.7,492.8 429.2,493.7 429.7,493.2 430.2,492.9 430.7,493 431.2,493 431.7,493.3 432.2,492.4 432.7,492.6 433.2,492.8 433.7,493.9 434.2,493.3 434.7,492.8 435.2,493.1 435.7,493.6 436.2,492.7 436.7,492.6 437.2,493.2 437.7,492.8 438.2,492.9 438.7,492.4 439.2,493.3 439.7,493.2 440.2,492.7 440.7,492.7 441.2,491.6 441.7,492.6 442.2,492.2 442.7,492.4 443.2,492.5 443.7,492 444.2,491.4 444.7,492.2 445.2,491.7 445.7,491.9 446.2,491.7 446.7,491.8 447.2,490.9 447.7,492.3 448.2,491.9 448.7,492.2 449.2,492.5 449.7,491.6 450.2,490.9 450.7,491.2 451.2,491.1 451.7,491.4 452.2,491.6 452.7,490.8 453.2,491.7 453.7,491 454.2,491.7 454.7,491.5 455.2,491.5 455.7,491.6 456.2,491.4 456.7,491.3 457.2,490.9 457.7,491.6 458.2,492.3 458.7,492.4 459.2,492.1 459.7,491.8 460.2,491.6 460.7,491.6 461.2,491.6 461.7,491.6 462.2,491.6 462.7,491.6 463.2,491.6 463.7,491.6 464.2,491.6 464.7,491.5 465.2,491.5 465.7,491.5 466.2,491.5 466.7,491.5 467.2,491.5 467.7,491.5 468.2,491.5 468.7,491.5 469.2,491.5 469.7,491.5 470.2,491.5 470.7,491.5 471.2,491.5 471.7,491.5 472.2,491.5 472.7,491.5 473.2,491.5 473.7,491.5 474.2,491.5 474.7,491.5 475.2,491.5 475.7,491.5 476.2,491.5 476.7,491.5 477.2,491.5 477.7,491.5 478.2,491.5 478.7,491.5 479.2,491.5 479.7,491.5 480.2,491.5 480.7,491.5 481.2,491.5 481.7,491.5 482.2,491.5 482.7,491.5 483.2,491.5 483.7,491.5 484.2,491.5 484.7,491.5 485.2,491.5 485.7,491.5 486.2,491.5 486.7,491.5 487.2,491.5 487.7,491.5 488.2,491.5 488.7,491.5 489.2,491.5 489.7,491.5 490.2,491.5 490.7,491.5 491.2,491.5 491.7,491.5 492.2,491.5 492.7,491.5 493.2,491.5 493.7,491.4 494.2,491.4 494.7,491.4 495.2,491.4 495.7,491.4 496.2,491.4 496.7,491.4 497.2,491.4 497.7,491.4 498.2,491.4 498.7,491.4 499.2,491.4 499.7,491.4 500.2,491.4 500.7,491.4 501.2,491.4 501.7,491.4 502.2,491.4 502.7,491.4 503.2,491.4 503.7,491.4 504.2,491.4 504.7,491.4 505.2,491.4 505.7,491.4 506.2,491.4 506.7,491.4 507.2,491.4 507.7,491.4 508.2,491.4 508.7,491.4 509.2,491.4 509.7,491.4 510.2,491.4 510.7,491.4 511.2,491.4 511.7,491.4 512.2,491.4 512.7,491.4 513.2,491.4 513.7,491.4 514.2,491.4 514.7,491.4 515.2,491.4 515.7,491.4 516.2,491.4 516.7,491.4 517.2,491.4 517.7,491.4 518.2,491.4 518.7,491.4 519.2,491.4 519.7,491.4 520.2,491.4 520.7,491.4 521.2,491.4 521.7,491.4 522.2,491.4 522.7,491.3 523.2,491.3 523.7,491.3 524.2,491.3 524.7,491.3 525.2,491.3 525.7,491.3 526.2,491.3 526.7,491.3 527.2,491.3 527.7,491.3 528.2,491.3 528.7,491.3 529.2,491.3 529.7,491.3 530.2,491.3 530.7,491.3 531.2,491.3 531.7,491.3 532.2,491.3 532.7,491.3 533.2,491.3 533.7,491.3 534.2,491.3 534.7,491.3 535.2,491.3 535.7,491.3 536.2,491.3 536.7,491.3 537.2,491.3 537.7,491.3 538.2,491.3 538.7,491.3 539.2,491.3 539.7,491.3 540.2,491.3 540.7,491.3 541.2,491.3 541.7,491.3 542.2,491.3 542.7,491.3 543.2,491.3 543.7,491.3 544.2,491.3 544.7,491.3 545.2,491.3 545.7,491.3 546.2,491.3 546.7,491.3 547.2,491.3 547.7,491.3 548.2,491.3 548.7,491.3 549.2,491.3 549.7,491.3 550.2,491.3 550.7,491.3 551.2,491.3 551.7,491.2 552.2,491.2 552.7,491.2 553.2,491.2 553.7,491.2 554.2,491.2 554.7,491.2 555.2,491.2 555.7,491.2 556.2,491.2 556.7,491.2 557.2,491.2 557.7,491.2 558.2,491.2 558.7,491.2 559.2,491.2 559.7,491.2 560.2,491.2 560.7,491.2 561.2,491.2 561.7,491.2 562.2,491.2 562.7,491.2 563.2,491.2 563.7,491.2 564.2,491.2 564.7,491.2 565.2,491.2 565.7,491.2 566.2,491.2 566.7,491.2 567.2,491.2 567.7,491.2 568.2,491.2 568.7,491.2 569.2,491.2 569.7,491.2 570.2,491.2 570.7,491.2 571.2,491.2 571.7,491.2 572.2,491.2 572.7,491.2 573.2,491.2 573.7,491.2 574.2,491.2 574.7,491.2 575.2,491.2 575.7,491.2 576.2,491.2 576.7,491.2 577.2,491.2 577.7,491.2 578.2,491.2 578.7,491.2 579.2,491.2 579.7,491.2 580.2,491.2 580.7,491.1 581.2,491.1 581.7,491.1 582.2,491.1 582.7,491.1 583.2,491.1 583.7,491.1 584.2,491.1 584.7,491.1 585.2,491.1 585.7,491.1 586.2,491.1 586.7,491.1 587.2,491.1 587.7,491.1 588.2,491.1 588.7,491.1 589.2,491.1 589.7,491.1 590.2,491.1 590.7,491.1 591.2,491.1 591.7,491.1 592.2,491.1 592.7,491.1 593.2,491.1 593.7,491.1 594.2,491.1 594.7,491.1 595.2,491.1 595.7,491.1 596.2,491.1 596.7,491.1 597.2,491.1 597.7,491.1 598.2,491.1 598.7,491.1 599.2,491.1 599.7,491.1 600.2,491.1 600.7,491.1 601.2,491.1 601.7,491.1 602.2,491.1 602.7,491.1 603.2,491.1 603.7,491.1 604.2,491.1 604.7,491.1 605.2,491.1 605.7,491.1 606.2,491.1 606.7,491.1 607.2,491.1 607.7,491.1 608.2,491.1 608.7,491.1 609.2,491.1 609.7,491 610.2,491 610.7,491 611.2,491 611.7,491 612.2,491 612.7,491 613.2,491 613.7,491 614.2,491 614.7,491 615.2,491 615.7,491 616.2,491 616.7,491 617.2,491 617.7,491 618.2,491 618.7,491 619.2,491 619.7,491 620.2,491 620.7,491 621.2,491 621.7,491 622.2,491 622.7,491 623.2,491 623.7,491 624.2,491 624.7,491 625.2,491 625.7,491 626.2,491 626.7,491 627.2,491 627.7,491 628.2,491 628.7,491 629.2,491 629.7,491 630.2,491 630.7,491 631.2,491 631.7,491 632.2,491 632.7,491 633.2,491 633.7,491 634.2,491 634.7,491 635.2,491 635.7,491 636.2,491 636.7,491 637.2,491 637.7,491 638.2,491 638.7,490.9 639.2,490.9 639.7,490.9 640.2,490.9 640.7,490.9 641.2,490.9 641.7,490.9 642.2,490.9 642.7,490.9 643.2,490.9 643.7,490.9 644.2,490.9 644.7,490.9 645.2,490.9 645.7,490.9 646.2,490.9 646.7,490.9 647.2,490.9 647.7,490.9 648.2,490.9 648.7,490.9 649.2,490.9 649.7,490.9 650.2,490.9 650.7,490.9 651.2,490.9 651.7,490.9 652.2,490.9 652.7,490.9 653.2,490.9 653.7,490.9 654.2,490.9 654.7,490.9 655.2,490.9 655.7,490.9 656.2,490.9 656.7,490.9 657.2,490.9 657.7,490.9 658.2,490.9 658.7,490.9 659.2,490.9 659.7,490.9 660.2,490.9 660.7,490.9 661.2,490.9 661.7,490.9 662.2,490.9 662.7,490.9 663.2,490.9 663.7,490.9 664.2,490.9 664.7,490.9 665.2,490.9 665.7,490.9 666.2,490.9 666.7,490.9 667.2,490.9 667.7,490.8 668.2,490.8 668.7,490.8 669.2,490.8 669.7,490.8 670.2,490.8 670.7,490.8 671.2,490.8 671.7,490.8 672.2,490.8 672.7,490.8 673.2,490.8 673.7,490.8 674.2,490.8 674.7,490.8 675.2,490.8 675.7,490.8 676.2,490.8 676.7,490.8 677.2,490.8 677.7,490.8 678.2,490.8 678.7,490.8 679.2,490.8 679.7,490.8 680.2,490.8 680.7,490.8 681.2,490.8 681.7,490.8" fill="none" stroke="#77AC30" stroke-width="1.6" stroke-linejoin="round"/>
<polyline points="384.2,655.5 384.7,652 385.2,648.6 385.7,645.1 386.2,641.6 386.7,638.2 387.2,634.7 387.7,631.2 388.2,627.8 388.7,624.3 389.2,620.8 389.7,617.4 390.2,613.9 390.7,610.4 391.2,607 391.7,603.5 392.2,600 392.7,596.6 393.2,593.1 393.7,589.6 394.2,586.2 394.7,582.7 395.2,579.2 395.7,575.8 396.2,572.3 396.7,568.8 397.2,565.3 397.7,561.9 398.2,558.4 398.7,554.9 399.2,551.5 399.7,548.6 400.2,546.8 400.7,544.9 401.2,543 401.7,541.1 402.2,539.2 402.7,537.4 403.2,535.5 403.7,533.6 404.2,531.7 404.7,529.8 405.2,528 405.7,527 406.2,526.6 406.7,526.2 407.2,525.8 407.7,525.4 408.2,525.1 408.7,524.7 409.2,524.3 409.7,523.9 410.2,523.5 410.7,523.2 411.2,522.8 411.7,522.4 412.2,522 412.7,521.6 413.2,523.1 413.7,527.3 414.2,531.5 414.7,535.8 415.2,540 415.7,544.2 416.2,545 416.7,543.6 417.2,542.2 417.7,540.8 418.2,539.4 418.7,537.9 419.2,536.5 419.7,535.1 420.2,533.7 420.7,532.3 421.2,530.8 421.7,529.4 422.2,528 422.7,526.6 423.2,525.3 423.7,524.1 424.2,522.9 424.7,521.7 425.2,520.4 425.7,519.2 426.2,518 426.7,516.8 427.2,515.6 427.7,514.4 428.2,513.2 428.7,512 429.2,510.8 429.7,509.6 430.2,508.4 430.7,507.2 431.2,506.1 431.7,505.5 432.2,505 432.7,504.4 433.2,503.8 433.7,503.3 434.2,502.7 434.7,502.1 435.2,501.6 435.7,501 436.2,500.4 436.7,499.9 437.2,499.3 437.7,498.7 438.2,498.2 438.7,497.6 439.2,497.1 439.7,496.5 440.2,495.9 440.7,495.5 441.2,495.3 441.7,495 442.2,494.8 442.7,494.5 443.2,494.3 443.7,494 444.2,493.8 444.7,493.5 445.2,493.3 445.7,493 446.2,492.8 446.7,492.5 447.2,492.3 447.7,492 448.2,491.8 448.7,491.5 449.2,491.3 449.7,491 450.2,490.8 450.7,490.5 451.2,490.3 451.7,490 452.2,489.9 452.7,489.8 453.2,489.8 453.7,489.8 454.2,489.7 454.7,489.7 455.2,489.7 455.7,489.6 456.2,489.6 456.7,489.6 457.2,489.5 457.7,489.5 458.2,489.5 458.7,489.4 459.2,489.4 459.7,489.3 460.2,489.3 460.7,489.3 461.2,489.2 461.7,489.2 462.2,489.2 462.7,489.1 463.2,489.1 463.7,489.1 464.2,489 464.7,489 465.2,488.9 465.7,488.9 466.2,488.9 466.7,488.8 467.2,488.8 467.7,488.8 468.2,488.7 468.7,488.7 469.2,488.7 469.7,488.6 470.2,488.6 470.7,488.6 471.2,488.6 471.7,488.6 472.2,488.6 472.7,488.6 473.2,488.6 473.7,488.6 474.2,488.6 474.7,488.6 475.2,488.6 475.7,488.6 476.2,488.6 476.7,488.6 477.2,488.6 477.7,488.6 478.2,488.6 478.7,488.6 479.2,488.6 479.7,488.6 480.2,488.6 480.7,488.6 481.2,488.6 481.7,488.6 482.2,488.6 482.7,488.6 483.2,488.6 483.7,488.6 484.2,488.6 484.7,488.6 485.2,488.6 485.7,488.6 486.2,488.6 486.7,488.6 487.2,488.6 487.7,488.6 488.2,488.6 488.7,488.6 489.2,488.6 489.7,488.6 490.2,488.6 490.7,488.6 491.2,488.6 491.7,488.6 492.2,488.6 492.7,488.6 493.2,488.6 493.7,488.6 494.2,488.6 494.7,488.6 495.2,488.6 495.7,488.6 496.2,488.6 496.7,488.6 497.2,488.6 497.7,488.6 498.2,488.6 498.7,488.6 499.2,488.6 499.7,488.6 500.2,488.6 500.7,488.6 501.2,488.6 501.7,488.6 502.2,488.6 502.7,488.6 503.2,488.6 503.7,488.6 504.2,488.6 504.7,488.6 505.2,488.6 505.7,488.5 506.2,488.5 506.7,488.5 507.2,488.5 507.7,488.5 508.2,488.5 508.7,488.5 509.2,488.5 509.7,488.5 510.2,488.5 510.7,488.5 511.2,488.5 511.7,488.5 512.2,488.5 512.7,488.5 513.2,488.5 513.7,488.5 514.2,488.5 514.7,488.5 515.2,488.5 515.7,488.5 516.2,488.5 516.7,488.5 517.2,488.5 517.7,488.5 518.2,488.5 518.7,488.5 519.2,488.5 519.7,488.5 520.2,488.5 520.7,488.5 521.2,488.5 521.7,488.5 522.2,488.5 522.7,488.5 523.2,488.5 523.7,488.5 524.2,488.5 524.7,488.5 525.2,488.5 525.7,488.5 526.2,488.5 526.7,488.5 527.2,488.5 527.7,488.5 528.2,488.5 528.7,488.5 529.2,488.5 529.7,488.5 530.2,488.5 530.7,488.5 531.2,488.5 531.7,488.5 532.2,488.5 532.7,488.5 533.2,488.5 533.7,488.5 534.2,488.5 534.7,488.5 535.2,488.5 535.7,488.5 536.2,488.5 536.7,488.5 537.2,488.5 537.7,488.5 538.2,488.5 538.7,488.5 539.2,488.5 539.7,488.5 540.2,488.5 540.7,488.5 541.2,488.5 541.7,488.5 542.2,488.5 542.7,488.5 543.2,488.5 543.7,488.5 544.2,488.5 544.7,488.5 545.2,488.5 545.7,488.5 546.2,488.5 546.7,488.5 547.2,488.5 547.7,488.5 548.2,488.5 548.7,488.5 549.2,488.5 549.7,488.5 550.2,488.5 550.7,488.5 551.2,488.5 551.7,488.5 552.2,488.5 552.7,488.5 553.2,488.5 553.7,488.5 554.2,488.5 554.7,488.5 555.2,488.5 555.7,488.5 556.2,488.5 556.7,488.5 557.2,488.5 557.7,488.5 558.2,488.5 558.7,488.5 559.2,488.5 559.7,488.5 560.2,488.5 560.7,488.5 561.2,488.5 561.7,488.5 562.2,488.5 562.7,488.5 563.2,488.5 563.7,488.5 564.2,488.5 564.7,488.5 565.2,488.5 565.7,488.5 566.2,488.5 566.7,488.5 567.2,488.5 567.7,488.5 568.2,488.5 568.7,488.5 569.2,488.5 569.7,488.5 570.2,488.5 570.7,488.5 571.2,488.5 571.7,488.5 572.2,488.5 572.7,488.5 573.2,488.5 573.7,488.5 574.2,488.5 574.7,488.5 575.2,488.5 575.7,488.5 576.2,488.4 576.7,488.4 577.2,488.4 577.7,488.4 578.2,488.4 578.7,488.4 579.2,488.4 579.7,488.4 580.2,488.4 580.7,488.4 581.2,488.4 581.7,488.4 582.2,488.4 582.7,488.4 583.2,488.4 583.7,488.4 584.2,488.4 584.7,488.4 585.2,488.4 585.7,488.4 586.2,488.4 586.7,488.4 587.2,488.4 587.7,488.4 588.2,488.4 588.7,488.4 589.2,488.4 589.7,488.4 590.2,488.4 590.7,488.4 591.2,488.4 591.7,488.4 592.2,488.4 592.7,488.4 593.2,488.4 593.7,488.4 594.2,488.4 594.7,488.4 595.2,488.4 595.7,488.4 596.2,488.4 596.7,488.4 597.2,488.4 597.7,488.4 598.2,488.4 598.7,488.4 599.2,488.4 599.7,488.4 600.2,488.4 600.7,488.4 601.2,488.4 601.7,488.4 602.2,488.4 602.7,488.4 603.2,488.4 603.7,488.4 604.2,488.4 604.7,488.4 605.2,488.4 605.7,488.4 606.2,488.4 606.7,488.4 607.2,488.4 607.7,488.4 608.2,488.4 608.7,488.4 609.2,488.4 609.7,488.4 610.2,488.4 610.7,488.4 611.2,488.4 611.7,488.4 612.2,488.4 612.7,488.4 613.2,488.4 613.7,488.4 614.2,488.4 614.7,488.4 615.2,488.4 615.7,488.4 616.2,488.4 616.7,488.4 617.2,488.4 617.7,488.4 618.2,488.4 618.7,488.4 619.2,488.4 619.7,488.4 620.2,488.4 620.7,488.4 621.2,488.4 621.7,488.4 622.2,488.4 622.7,488.4 623.2,488.4 623.7,488.4 624.2,488.4 624.7,488.4 625.2,488.4 625.7,488.4 626.2,488.4 626.7,488.4 627.2,488.4 627.7,488.4 628.2,488.4 628.7,488.4 629.2,488.4 629.7,488.4 630.2,488.4 630.7,488.4 631.2,488.4 631.7,488.4 632.2,488.4 632.7,488.4 633.2,488.4 633.7,488.4 634.2,488.4 634.7,488.4 635.2,488.4 635.7,488.4 636.2,488.4 636.7,488.4 637.2,488.4 637.7,488.4 638.2,488.4 638.7,488.4 639.2,488.4 639.7,488.4 640.2,488.4 640.7,488.4 641.2,488.4 641.7,488.4 642.2,488.4 642.7,488.4 643.2,488.4 643.7,488.4 644.2,488.4 644.7,488.4 645.2,488.4 645.7,488.4 646.2,488.4 646.7,488.3 647.2,488.3 647.7,488.3 648.2,488.3 648.7,488.3 649.2,488.3 649.7,488.3 650.2,488.3 650.7,488.3 651.2,488.3 651.7,488.3 652.2,488.3 652.7,488.3 653.2,488.3 653.7,488.3 654.2,488.3 654.7,488.3 655.2,488.3 655.7,488.3 656.2,488.3 656.7,488.3 657.2,488.3 657.7,488.3 658.2,488.3 658.7,488.3 659.2,488.3 659.7,488.3 660.2,488.3 660.7,488.3 661.2,488.3 661.7,488.3 662.2,488.3 662.7,488.3 663.2,488.3 663.7,488.3 664.2,488.3 664.7,488.3 665.2,488.3 665.7,488.3 666.2,488.3 666.7,488.3 667.2,488.3 667.7,488.3 668.2,488.3 668.7,488.3 669.2,488.3 669.7,488.3 670.2,488.3 670.7,488.3 671.2,488.3 671.7,488.3 672.2,488.3 672.7,488.3 673.2,488.3 673.7,488.3 674.2,488.3 674.7,488.3 675.2,488.3 675.7,488.3 676.2,488.3 676.7,488.3 677.2,488.3 677.7,488.3 678.2,488.3 678.7,488.3 679.2,488.3 679.7,488.3 680.2,488.3 680.7,488.3 681.2,488.3 681.7,488.3" fill="none" stroke="#7E2F8E" stroke-width="1.7" stroke-linejoin="round"/>
<polyline points="384.2,655.5 384.7,651.9 385.2,648.3 385.7,644.6 386.2,641 386.7,637.4 387.2,633.8 387.7,630.2 388.2,626.6 388.7,622.9 389.2,619.3 389.7,615.7 390.2,612.1 390.7,608.5 391.2,604.9 391.7,601.2 392.2,597.6 392.7,594 393.2,590.4 393.7,586.8 394.2,583.1 394.7,579.5 395.2,575.9 395.7,572.3 396.2,568.7 396.7,565.1 397.2,561.4 397.7,557.8 398.2,554.2 398.7,550.6 399.2,547 399.7,544 400.2,542.1 400.7,540.1 401.2,538.1 401.7,536.2 402.2,535.5 402.7,536.8 403.2,538 403.7,539.2 404.2,538.6 404.7,535.1 405.2,531.6 405.7,528.2 406.2,524.7 406.7,524.1 407.2,528 407.7,531.8 408.2,535.6 408.7,539.4 409.2,543.3 409.7,543.3 410.2,540.9 410.7,538.5 411.2,536 411.7,533.6 412.2,531.2 412.7,528.8 413.2,526.3 413.7,523.9 414.2,521.5 414.7,519 415.2,516.6 415.7,514.2 416.2,512.7 416.7,511.9 417.2,511 417.7,510.2 418.2,509.4 418.7,508.5 419.2,507.7 419.7,506.8 420.2,505.9 420.7,504.9 421.2,504.4 421.7,503.7 422.2,502.5 422.7,501.9 423.2,501.1 423.7,501.5 424.2,499.9 424.7,499.9 425.2,498.9 425.7,498.4 426.2,498.1 426.7,497.6 427.2,497.1 427.7,496.3 428.2,495.5 428.7,494.9 429.2,495.1 429.7,495 430.2,495.1 430.7,494.6 431.2,494.7 431.7,494.7 432.2,494.1 432.7,493.5 433.2,493.4 433.7,493.2 434.2,493.9 434.7,493.1 435.2,493.5 435.7,493.2 436.2,493.4 436.7,493 437.2,492.5 437.7,492.3 438.2,492.3 438.7,492.2 439.2,491.8 439.7,491.8 440.2,492.1 440.7,491 441.2,491.3 441.7,490.8 442.2,490.9 442.7,490.9 443.2,490.4 443.7,490.5 444.2,489.5 444.7,490.2 445.2,489.4 445.7,489.6 446.2,489.3 446.7,488.2 447.2,488.6 447.7,488.7 448.2,489 448.7,488.6 449.2,488.5 449.7,487.9 450.2,488.6 450.7,488.7 451.2,488 451.7,487.9 452.2,487.4 452.7,488 453.2,488.5 453.7,487.8 454.2,487.9 454.7,487.6 455.2,487 455.7,487.7 456.2,486.8 456.7,487 457.2,487.1 457.7,487.2 458.2,486.9 458.7,486.8 459.2,486.4 459.7,486.2 460.2,486.5 460.7,486.3 461.2,486 461.7,486 462.2,486.2 462.7,485.8 463.2,485.9 463.7,485.8 464.2,486.3 464.7,486.4 465.2,486.8 465.7,485.8 466.2,486 466.7,486.4 467.2,486.1 467.7,486 468.2,486.6 468.7,486 469.2,485.7 469.7,485.6 470.2,486 470.7,486 471.2,485.9 471.7,485.9 472.2,485.9 472.7,485.9 473.2,485.8 473.7,485.8 474.2,485.8 474.7,485.8 475.2,485.7 475.7,485.7 476.2,485.7 476.7,485.7 477.2,485.6 477.7,485.6 478.2,485.6 478.7,485.6 479.2,485.5 479.7,485.5 480.2,485.5 480.7,485.5 481.2,485.5 481.7,485.5 482.2,485.5 482.7,485.5 483.2,485.5 483.7,485.5 484.2,485.5 484.7,485.5 485.2,485.5 485.7,485.5 486.2,485.5 486.7,485.5 487.2,485.5 487.7,485.5 488.2,485.5 488.7,485.5 489.2,485.5 489.7,485.5 490.2,485.5 490.7,485.5 491.2,485.5 491.7,485.5 492.2,485.5 492.7,485.5 493.2,485.5 493.7,485.5 494.2,485.5 494.7,485.5 495.2,485.5 495.7,485.5 496.2,485.5 496.7,485.5 497.2,485.4 497.7,485.4 498.2,485.4 498.7,485.4 499.2,485.4 499.7,485.4 500.2,485.4 500.7,485.4 501.2,485.4 501.7,485.4 502.2,485.4 502.7,485.4 503.2,485.4 503.7,485.4 504.2,485.4 504.7,485.4 505.2,485.4 505.7,485.4 506.2,485.4 506.7,485.4 507.2,485.4 507.7,485.4 508.2,485.4 508.7,485.4 509.2,485.4 509.7,485.4 510.2,485.4 510.7,485.4 511.2,485.4 511.7,485.4 512.2,485.4 512.7,485.4 513.2,485.4 513.7,485.4 514.2,485.4 514.7,485.4 515.2,485.4 515.7,485.4 516.2,485.4 516.7,485.4 517.2,485.4 517.7,485.4 518.2,485.4 518.7,485.4 519.2,485.4 519.7,485.4 520.2,485.4 520.7,485.4 521.2,485.4 521.7,485.4 522.2,485.4 522.7,485.4 523.2,485.4 523.7,485.4 524.2,485.4 524.7,485.4 525.2,485.4 525.7,485.4 526.2,485.4 526.7,485.4 527.2,485.4 527.7,485.4 528.2,485.4 528.7,485.4 529.2,485.4 529.7,485.4 530.2,485.4 530.7,485.3 531.2,485.3 531.7,485.3 532.2,485.3 532.7,485.3 533.2,485.3 533.7,485.3 534.2,485.3 534.7,485.3 535.2,485.3 535.7,485.3 536.2,485.3 536.7,485.3 537.2,485.3 537.7,485.3 538.2,485.3 538.7,485.3 539.2,485.3 539.7,485.3 540.2,485.3 540.7,485.3 541.2,485.3 541.7,485.3 542.2,485.3 542.7,485.3 543.2,485.3 543.7,485.3 544.2,485.3 544.7,485.3 545.2,485.3 545.7,485.3 546.2,485.3 546.7,485.3 547.2,485.3 547.7,485.3 548.2,485.3 548.7,485.3 549.2,485.3 549.7,485.3 550.2,485.3 550.7,485.3 551.2,485.3 551.7,485.3 552.2,485.3 552.7,485.3 553.2,485.3 553.7,485.3 554.2,485.3 554.7,485.3 555.2,485.3 555.7,485.3 556.2,485.3 556.7,485.3 557.2,485.3 557.7,485.3 558.2,485.3 558.7,485.3 559.2,485.3 559.7,485.3 560.2,485.3 560.7,485.3 561.2,485.3 561.7,485.3 562.2,485.3 562.7,485.3 563.2,485.3 563.7,485.3 564.2,485.2 564.7,485.2 565.2,485.2 565.7,485.2 566.2,485.2 566.7,485.2 567.2,485.2 567.7,485.2 568.2,485.2 568.7,485.2 569.2,485.2 569.7,485.2 570.2,485.2 570.7,485.2 571.2,485.2 571.7,485.2 572.2,485.2 572.7,485.2 573.2,485.2 573.7,485.2 574.2,485.2 574.7,485.2 575.2,485.2 575.7,485.2 576.2,485.2 576.7,485.2 577.2,485.2 577.7,485.2 578.2,485.2 578.7,485.2 579.2,485.2 579.7,485.2 580.2,485.2 580.7,485.2 581.2,485.2 581.7,485.2 582.2,485.2 582.7,485.2 583.2,485.2 583.7,485.2 584.2,485.2 584.7,485.2 585.2,485.2 585.7,485.2 586.2,485.2 586.7,485.2 587.2,485.2 587.7,485.2 588.2,485.2 588.7,485.2 589.2,485.2 589.7,485.2 590.2,485.2 590.7,485.2 591.2,485.2 591.7,485.2 592.2,485.2 592.7,485.2 593.2,485.2 593.7,485.2 594.2,485.2 594.7,485.2 595.2,485.2 595.7,485.2 596.2,485.2 596.7,485.2 597.2,485.2 597.7,485.2 598.2,485.1 598.7,485.1 599.2,485.1 599.7,485.1 600.2,485.1 600.7,485.1 601.2,485.1 601.7,485.1 602.2,485.1 602.7,485.1 603.2,485.1 603.7,485.1 604.2,485.1 604.7,485.1 605.2,485.1 605.7,485.1 606.2,485.1 606.7,485.1 607.2,485.1 607.7,485.1 608.2,485.1 608.7,485.1 609.2,485.1 609.7,485.1 610.2,485.1 610.7,485.1 611.2,485.1 611.7,485.1 612.2,485.1 612.7,485.1 613.2,485.1 613.7,485.1 614.2,485.1 614.7,485.1 615.2,485.1 615.7,485.1 616.2,485.1 616.7,485.1 617.2,485.1 617.7,485.1 618.2,485.1 618.7,485.1 619.2,485.1 619.7,485.1 620.2,485.1 620.7,485.1 621.2,485.1 621.7,485.1 622.2,485.1 622.7,485.1 623.2,485.1 623.7,485.1 624.2,485.1 624.7,485.1 625.2,485.1 625.7,485.1 626.2,485.1 626.7,485.1 627.2,485.1 627.7,485.1 628.2,485.1 628.7,485.1 629.2,485.1 629.7,485.1 630.2,485.1 630.7,485.1 631.2,485.1 631.7,485 632.2,485 632.7,485 633.2,485 633.7,485 634.2,485 634.7,485 635.2,485 635.7,485 636.2,485 636.7,485 637.2,485 637.7,485 638.2,485 638.7,485 639.2,485 639.7,485 640.2,485 640.7,485 641.2,485 641.7,485 642.2,485 642.7,485 643.2,485 643.7,485 644.2,485 644.7,485 645.2,485 645.7,485 646.2,485 646.7,485 647.2,485 647.7,485 648.2,485 648.7,485 649.2,485 649.7,485 650.2,485 650.7,485 651.2,485 651.7,485 652.2,485 652.7,485 653.2,485 653.7,485 654.2,485 654.7,485 655.2,485 655.7,485 656.2,485 656.7,485 657.2,485 657.7,485 658.2,485 658.7,485 659.2,485 659.7,485 660.2,485 660.7,485 661.2,485 661.7,485 662.2,485 662.7,485 663.2,485 663.7,485 664.2,485 664.7,485 665.2,484.9 665.7,484.9 666.2,484.9 666.7,484.9 667.2,484.9 667.7,484.9 668.2,484.9 668.7,484.9 669.2,484.9 669.7,484.9 670.2,484.9 670.7,484.9 671.2,484.9 671.7,484.9 672.2,484.9 672.7,484.9 673.2,484.9 673.7,484.9 674.2,484.9 674.7,484.9 675.2,484.9 675.7,484.9 676.2,484.9 676.7,484.9 677.2,484.9 677.7,484.9 678.2,484.9 678.7,484.9 679.2,484.9 679.7,484.9 680.2,484.9 680.7,484.9 681.2,484.9 681.7,484.9" fill="none" stroke="#1a1a1a" stroke-width="1.6" stroke-linejoin="round"/>
<polyline points="384.2,655.5 384.7,639.1 385.2,622.7 385.7,606.4 386.2,590 386.7,573.6 387.2,557.2 387.7,540.8 388.2,531 388.7,531 389.2,531 389.7,531 390.2,531 390.7,531 391.2,527.9 391.7,520.2 392.2,512.5 392.7,504.8 393.2,498.6 393.7,498.5 394.2,498.4 394.7,498.3 395.2,498.2 395.7,498.1 396.2,498.1 396.7,498.2 397.2,498.3 397.7,498.5 398.2,498.6 398.7,498.7 399.2,498.8 399.7,498.8 400.2,498.7 400.7,498.7 401.2,498.6 401.7,498.6 402.2,509.9 402.7,528.7 403.2,542.8 403.7,549.7 404.2,556.7 404.7,563.7 405.2,570.6 405.7,570.3 406.2,559.1 406.7,547.9 407.2,536.7 407.7,526.7 408.2,518.4 408.7,510.2 409.2,501.9 409.7,498.6 410.2,498.6 410.7,498.6 411.2,498.5 411.7,498.5 412.2,498.5 412.7,498.5 413.2,498.5 413.7,498.5 414.2,498.5 414.7,498.5 415.2,498.4 415.7,498.4 416.2,498.4 416.7,498.4 417.2,498.4 417.7,498.4 418.2,498.4 418.7,498.3 419.2,498.3 419.7,498.3 420.2,498.3 420.7,498.3 421.2,498.3 421.7,498.3 422.2,498.3 422.7,498.3 423.2,498.4 423.7,498.4 424.2,498.4 424.7,498.4 425.2,498.4 425.7,498.4 426.2,498.4 426.7,498.4 427.2,498.4 427.7,498.4 428.2,498.4 428.7,498.5 429.2,498.5 429.7,498.5 430.2,498.5 430.7,498.5 431.2,497.3 431.7,494.3 432.2,491.2 432.7,488.2 433.2,485.2 433.7,484.1 434.2,484.3 434.7,484.5 435.2,484.7 435.7,484.9 436.2,487.2 436.7,492.8 437.2,498.4 437.7,504 438.2,505.7 438.7,501.3 439.2,497 439.7,492.6 440.2,489.6 440.7,488.4 441.2,487.3 441.7,486.2 442.2,485.1 442.7,484 443.2,484.7 443.7,485.3 444.2,486 444.7,486.6 445.2,488.2 445.7,491 446.2,493.9 446.7,496.8 447.2,496.5 447.7,495.3 448.2,494.2 448.7,493 449.2,491.9 449.7,490.7 450.2,489.7 450.7,489 451.2,488.4 451.7,487.7 452.2,487 452.7,486.3 453.2,485.6 453.7,485 454.2,484.3 454.7,484.5 455.2,485.2 455.7,486 456.2,486.8 456.7,487.5 457.2,488.9 457.7,491.1 458.2,493.4 458.7,495.6 459.2,496.3 459.7,494.4 460.2,492.6 460.7,490.8 461.2,488.9 461.7,487.1 462.2,486 462.7,485.9 463.2,485.8 463.7,485.7 464.2,485.6 464.7,485.5 465.2,485.4 465.7,485.3 466.2,485.2 466.7,485.1 467.2,485 467.7,484.9 468.2,484.8 468.7,484.7 469.2,484.6 469.7,484.6 470.2,484.7 470.7,485.1 471.2,485.6 471.7,486 472.2,486.4 472.7,486.9 473.2,487.3 473.7,487.7 474.2,490.1 474.7,495.4 475.2,500.7 475.7,506 476.2,511.3 476.7,512.2 477.2,506.5 477.7,500.8 478.2,495.1 478.7,489.4 479.2,485.9 479.7,485.8 480.2,485.6 480.7,485.4 481.2,485.3 481.7,485.1 482.2,484.9 482.7,484.8 483.2,484.6 483.7,484.4 484.2,484.3 484.7,484.1 485.2,484 485.7,484 486.2,484 486.7,484 487.2,484 487.7,484 488.2,484 488.7,484 489.2,484 489.7,484 490.2,484 490.7,484 491.2,484 491.7,484 492.2,484 492.7,484 493.2,484 493.7,484 494.2,484 494.7,484 495.2,484 495.7,484 496.2,484 496.7,484 497.2,484 497.7,484 498.2,484 498.7,484 499.2,484 499.7,484 500.2,484 500.7,484 501.2,484 501.7,484 502.2,484 502.7,484 503.2,484 503.7,484 504.2,484 504.7,484 505.2,484 505.7,484 506.2,484 506.7,484 507.2,484 507.7,484 508.2,484.5 508.7,485.7 509.2,486.9 509.7,488.1 510.2,489.3 510.7,489.5 511.2,488.3 511.7,487.1 512.2,485.9 512.7,484.7 513.2,484 513.7,484 514.2,484 514.7,484 515.2,484 515.7,484 516.2,484 516.7,484 517.2,484 517.7,484 518.2,484 518.7,484 519.2,484 519.7,484 520.2,484 520.7,484 521.2,484 521.7,484 522.2,484 522.7,484 523.2,484 523.7,484 524.2,484 524.7,484 525.2,484 525.7,484 526.2,484.4 526.7,485.3 527.2,486.3 527.7,487.3 528.2,488.2 528.7,488.8 529.2,487.7 529.7,486.7 530.2,485.7 530.7,484.6 531.2,484 531.7,484 532.2,484 532.7,484 533.2,484 533.7,484 534.2,484 534.7,484 535.2,484 535.7,484 536.2,484 536.7,484 537.2,484 537.7,484 538.2,484 538.7,484 539.2,484 539.7,484 540.2,484 540.7,484 541.2,484 541.7,484 542.2,484 542.7,484 543.2,484 543.7,484 544.2,484 544.7,484 545.2,484 545.7,484 546.2,483.9 546.7,483.9 547.2,483.9 547.7,483.9 548.2,483.9 548.7,483.9 549.2,483.9 549.7,483.9 550.2,483.9 550.7,483.9 551.2,483.9 551.7,483.9 552.2,483.9 552.7,483.9 553.2,483.9 553.7,483.9 554.2,483.9 554.7,483.9 555.2,483.9 555.7,483.9 556.2,483.9 556.7,483.9 557.2,483.9 557.7,483.9 558.2,483.9 558.7,483.9 559.2,483.9 559.7,483.9 560.2,483.9 560.7,483.9 561.2,483.9 561.7,483.9 562.2,483.9 562.7,483.9 563.2,483.9 563.7,483.9 564.2,483.9 564.7,483.9 565.2,483.9 565.7,483.9 566.2,483.9 566.7,483.9 567.2,483.9 567.7,483.9 568.2,483.9 568.7,483.9 569.2,483.9 569.7,483.9 570.2,483.9 570.7,483.9 571.2,483.9 571.7,483.9 572.2,483.9 572.7,483.9 573.2,483.9 573.7,483.9 574.2,483.9 574.7,483.9 575.2,483.9 575.7,483.9 576.2,483.9 576.7,483.8 577.2,483.8 577.7,483.8 578.2,483.8 578.7,483.8 579.2,483.8 579.7,483.8 580.2,483.8 580.7,483.8 581.2,483.8 581.7,483.8 582.2,483.8 582.7,483.8 583.2,483.8 583.7,483.8 584.2,483.8 584.7,483.8 585.2,483.8 585.7,483.8 586.2,483.8 586.7,483.8 587.2,483.8 587.7,483.8 588.2,483.8 588.7,483.8 589.2,483.8 589.7,483.8 590.2,483.8 590.7,483.8 591.2,483.8 591.7,483.8 592.2,483.8 592.7,483.8 593.2,483.8 593.7,483.8 594.2,483.8 594.7,483.8 595.2,483.8 595.7,483.8 596.2,483.8 596.7,483.8 597.2,483.8 597.7,483.8 598.2,483.8 598.7,483.8 599.2,483.8 599.7,483.8 600.2,483.8 600.7,483.8 601.2,483.8 601.7,483.8 602.2,483.8 602.7,483.8 603.2,483.8 603.7,483.8 604.2,483.8 604.7,483.8 605.2,483.8 605.7,483.8 606.2,483.8 606.7,483.7 607.2,483.7 607.7,483.7 608.2,483.7 608.7,483.7 609.2,483.7 609.7,483.7 610.2,483.7 610.7,483.7 611.2,483.7 611.7,483.7 612.2,483.7 612.7,483.7 613.2,483.7 613.7,483.7 614.2,483.7 614.7,483.7 615.2,483.7 615.7,483.7 616.2,483.7 616.7,483.7 617.2,483.7 617.7,483.7 618.2,483.7 618.7,483.7 619.2,483.7 619.7,483.7 620.2,483.7 620.7,483.7 621.2,483.7 621.7,483.7 622.2,483.7 622.7,483.7 623.2,483.7 623.7,483.7 624.2,483.7 624.7,483.7 625.2,483.7 625.7,483.7 626.2,483.7 626.7,483.7 627.2,483.7 627.7,483.7 628.2,483.7 628.7,483.7 629.2,483.7 629.7,483.7 630.2,483.7 630.7,483.7 631.2,483.7 631.7,483.7 632.2,483.7 632.7,483.7 633.2,483.7 633.7,483.7 634.2,483.7 634.7,483.7 635.2,483.7 635.7,483.7 636.2,483.7 636.7,483.6 637.2,483.6 637.7,483.6 638.2,483.6 638.7,483.6 639.2,483.6 639.7,483.6 640.2,483.6 640.7,483.6 641.2,483.6 641.7,483.6 642.2,483.6 642.7,483.6 643.2,483.6 643.7,483.6 644.2,483.6 644.7,483.6 645.2,483.6 645.7,483.6 646.2,483.6 646.7,483.6 647.2,483.6 647.7,483.6 648.2,483.6 648.7,483.6 649.2,483.6 649.7,483.6 650.2,483.6 650.7,483.6 651.2,483.6 651.7,483.6 652.2,483.6 652.7,483.6 653.2,483.6 653.7,483.6 654.2,483.6 654.7,483.6 655.2,483.6 655.7,483.6 656.2,483.6 656.7,483.6 657.2,483.6 657.7,483.6 658.2,483.6 658.7,483.6 659.2,483.6 659.7,483.6 660.2,483.6 660.7,483.6 661.2,483.6 661.7,483.6 662.2,483.6 662.7,483.6 663.2,483.6 663.7,483.6 664.2,483.6 664.7,483.6 665.2,483.6 665.7,483.6 666.2,483.6 666.7,483.6 667.2,483.5 667.7,483.5 668.2,483.5 668.7,483.5 669.2,483.5 669.7,483.5 670.2,483.5 670.7,483.5 671.2,483.5 671.7,483.5 672.2,483.5 672.7,483.5 673.2,483.5 673.7,483.5 674.2,483.5 674.7,483.5 675.2,483.5 675.7,483.5 676.2,483.5 676.7,483.5 677.2,483.5 677.7,483.5 678.2,483.5 678.7,483.5 679.2,483.5 679.7,483.5 680.2,483.5 680.7,483.5 681.2,483.5 681.7,483.5" fill="none" stroke="#0072BD" stroke-width="1.6" stroke-linejoin="round"/>
<polyline points="384.2,655.5 384.7,618.8 385.2,582 385.7,550 386.2,525 386.7,507.6 387.2,501.6 387.7,500.9 388.2,501.6 388.7,509.6 389.2,528.6 389.7,546.7 390.2,563.3 390.7,580 391.2,596.7 391.7,586.7 392.2,570 392.7,555.9 393.2,545.8 393.7,535.6 394.2,525.4 394.7,515.2 395.2,510.8 395.7,507.7 396.2,504.7 396.7,501.6 397.2,498.6 397.7,497.7 398.2,496.9 398.7,496 399.2,495.1 399.7,494.3 400.2,493.8 400.7,491.9 401.2,492.4 401.7,491.9 402.2,490.5 402.7,489.9 403.2,489.8 403.7,489.2 404.2,488.2 404.7,488.5 405.2,486.7 405.7,488.4 406.2,490.4 406.7,492.3 407.2,494.5 407.7,495.7 408.2,498.5 408.7,497.1 409.2,495.2 409.7,493.1 410.2,491.5 410.7,490.6 411.2,488.2 411.7,488.5 412.2,488.8 412.7,488.5 413.2,488.6 413.7,487.4 414.2,486.8 414.7,487.6 415.2,487 415.7,486.9 416.2,485.8 416.7,485.9 417.2,485.2 417.7,484.7 418.2,484.4 418.7,484.8 419.2,485.1 419.7,485.5 420.2,486.3 420.7,486 421.2,487.2 421.7,486 422.2,486.2 422.7,485.3 423.2,484.9 423.7,485.7 424.2,484.2 424.7,483.2 425.2,483 425.7,482.8 426.2,483.6 426.7,482.7 427.2,483.6 427.7,483.1 428.2,484.3 428.7,485 429.2,486 429.7,484.9 430.2,485.7 430.7,485.7 431.2,485.2 431.7,485.9 432.2,485.7 432.7,484.4 433.2,485.5 433.7,485.2 434.2,484.4 434.7,483.6 435.2,484.7 435.7,483.8 436.2,484.1 436.7,484.5 437.2,483.7 437.7,484.5 438.2,484.2 438.7,484.5 439.2,484.7 439.7,484.9 440.2,485.5 440.7,484.7 441.2,484.3 441.7,484 442.2,484.1 442.7,483.2 443.2,483.1 443.7,483.1 444.2,482.8 444.7,483.1 445.2,483 445.7,484.4 446.2,484.2 446.7,483.9 447.2,483.8 447.7,485 448.2,484.6 448.7,485.4 449.2,486.6 449.7,487.6 450.2,489.4 450.7,490.3 451.2,492.9 451.7,493.1 452.2,493.9 452.7,490.7 453.2,489.7 453.7,486.3 454.2,484.8 454.7,485 455.2,484.9 455.7,483.4 456.2,483.5 456.7,482.6 457.2,483.1 457.7,482.6 458.2,482.3 458.7,482.1 459.2,482.3 459.7,482.1 460.2,482.7 460.7,483.1 461.2,481.4 461.7,482.3 462.2,482.1 462.7,482.6 463.2,481.8 463.7,482.2 464.2,481.7 464.7,482.6 465.2,482.2 465.7,482.1 466.2,482.3 466.7,482 467.2,481.3 467.7,482.4 468.2,482.2 468.7,482 469.2,482.5 469.7,482.6 470.2,482 470.7,482 471.2,482 471.7,482 472.2,482 472.7,482 473.2,482 473.7,482 474.2,482 474.7,482 475.2,482 475.7,482 476.2,482 476.7,482 477.2,482 477.7,482 478.2,482 478.7,482 479.2,482 479.7,482 480.2,482 480.7,482 481.2,482 481.7,482 482.2,482 482.7,482 483.2,482 483.7,482 484.2,482 484.7,482 485.2,482 485.7,482 486.2,482 486.7,482 487.2,482 487.7,482 488.2,482 488.7,482 489.2,482 489.7,482 490.2,482 490.7,482 491.2,482 491.7,482 492.2,482 492.7,482 493.2,482 493.7,482 494.2,482 494.7,482 495.2,482 495.7,482 496.2,482 496.7,482 497.2,482 497.7,482 498.2,482 498.7,482 499.2,482 499.7,482 500.2,482 500.7,482 501.2,482 501.7,482 502.2,482 502.7,482 503.2,482 503.7,482 504.2,482 504.7,482 505.2,482 505.7,481.9 506.2,481.9 506.7,481.9 507.2,481.9 507.7,481.9 508.2,481.9 508.7,481.9 509.2,481.9 509.7,481.9 510.2,481.9 510.7,481.9 511.2,481.9 511.7,481.9 512.2,481.9 512.7,481.9 513.2,481.9 513.7,481.9 514.2,481.9 514.7,481.9 515.2,481.9 515.7,481.9 516.2,481.9 516.7,481.9 517.2,481.9 517.7,481.9 518.2,481.9 518.7,481.9 519.2,481.9 519.7,481.9 520.2,481.9 520.7,481.9 521.2,481.9 521.7,481.9 522.2,481.9 522.7,481.9 523.2,481.9 523.7,481.9 524.2,481.9 524.7,481.9 525.2,481.9 525.7,481.9 526.2,481.9 526.7,481.9 527.2,481.9 527.7,481.9 528.2,481.9 528.7,481.9 529.2,481.9 529.7,481.9 530.2,481.9 530.7,481.9 531.2,481.9 531.7,481.9 532.2,481.9 532.7,481.9 533.2,481.9 533.7,481.9 534.2,481.9 534.7,481.9 535.2,481.9 535.7,481.9 536.2,481.9 536.7,481.9 537.2,481.9 537.7,481.9 538.2,481.9 538.7,481.9 539.2,481.9 539.7,481.9 540.2,481.9 540.7,481.9 541.2,481.9 541.7,481.9 542.2,481.9 542.7,481.9 543.2,481.9 543.7,481.9 544.2,481.9 544.7,481.9 545.2,481.9 545.7,481.9 546.2,481.9 546.7,481.9 547.2,481.9 547.7,481.9 548.2,481.9 548.7,481.9 549.2,481.9 549.7,481.9 550.2,481.9 550.7,481.9 551.2,481.9 551.7,481.9 552.2,481.9 552.7,481.9 553.2,481.9 553.7,481.9 554.2,481.9 554.7,481.9 555.2,481.9 555.7,481.9 556.2,481.9 556.7,481.9 557.2,481.9 557.7,481.9 558.2,481.9 558.7,481.9 559.2,481.9 559.7,481.9 560.2,481.9 560.7,481.9 561.2,481.9 561.7,481.9 562.2,481.9 562.7,481.9 563.2,481.9 563.7,481.9 564.2,481.9 564.7,481.9 565.2,481.9 565.7,481.9 566.2,481.9 566.7,481.9 567.2,481.9 567.7,481.9 568.2,481.9 568.7,481.9 569.2,481.9 569.7,481.9 570.2,481.9 570.7,481.9 571.2,481.9 571.7,481.9 572.2,481.9 572.7,481.9 573.2,481.9 573.7,481.9 574.2,481.9 574.7,481.9 575.2,481.9 575.7,481.9 576.2,481.8 576.7,481.8 577.2,481.8 577.7,481.8 578.2,481.8 578.7,481.8 579.2,481.8 579.7,481.8 580.2,481.8 580.7,481.8 581.2,481.8 581.7,481.8 582.2,481.8 582.7,481.8 583.2,481.8 583.7,481.8 584.2,481.8 584.7,481.8 585.2,481.8 585.7,481.8 586.2,481.8 586.7,481.8 587.2,481.8 587.7,481.8 588.2,481.8 588.7,481.8 589.2,481.8 589.7,481.8 590.2,481.8 590.7,481.8 591.2,481.8 591.7,481.8 592.2,481.8 592.7,481.8 593.2,481.8 593.7,481.8 594.2,481.8 594.7,481.8 595.2,481.8 595.7,481.8 596.2,481.8 596.7,481.8 597.2,481.8 597.7,481.8 598.2,481.8 598.7,481.8 599.2,481.8 599.7,481.8 600.2,481.8 600.7,481.8 601.2,481.8 601.7,481.8 602.2,481.8 602.7,481.8 603.2,481.8 603.7,481.8 604.2,481.8 604.7,481.8 605.2,481.8 605.7,481.8 606.2,481.8 606.7,481.8 607.2,481.8 607.7,481.8 608.2,481.8 608.7,481.8 609.2,481.8 609.7,481.8 610.2,481.8 610.7,481.8 611.2,481.8 611.7,481.8 612.2,481.8 612.7,481.8 613.2,481.8 613.7,481.8 614.2,481.8 614.7,481.8 615.2,481.8 615.7,481.8 616.2,481.8 616.7,481.8 617.2,481.8 617.7,481.8 618.2,481.8 618.7,481.8 619.2,481.8 619.7,481.8 620.2,481.8 620.7,481.8 621.2,481.8 621.7,481.8 622.2,481.8 622.7,481.8 623.2,481.8 623.7,481.8 624.2,481.8 624.7,481.8 625.2,481.8 625.7,481.8 626.2,481.8 626.7,481.8 627.2,481.8 627.7,481.8 628.2,481.8 628.7,481.8 629.2,481.8 629.7,481.8 630.2,481.8 630.7,481.8 631.2,481.8 631.7,481.8 632.2,481.8 632.7,481.8 633.2,481.8 633.7,481.8 634.2,481.8 634.7,481.8 635.2,481.8 635.7,481.8 636.2,481.8 636.7,481.8 637.2,481.8 637.7,481.8 638.2,481.8 638.7,481.8 639.2,481.8 639.7,481.8 640.2,481.8 640.7,481.8 641.2,481.8 641.7,481.8 642.2,481.8 642.7,481.8 643.2,481.8 643.7,481.8 644.2,481.8 644.7,481.8 645.2,481.8 645.7,481.8 646.2,481.8 646.7,481.7 647.2,481.7 647.7,481.7 648.2,481.7 648.7,481.7 649.2,481.7 649.7,481.7 650.2,481.7 650.7,481.7 651.2,481.7 651.7,481.7 652.2,481.7 652.7,481.7 653.2,481.7 653.7,481.7 654.2,481.7 654.7,481.7 655.2,481.7 655.7,481.7 656.2,481.7 656.7,481.7 657.2,481.7 657.7,481.7 658.2,481.7 658.7,481.7 659.2,481.7 659.7,481.7 660.2,481.7 660.7,481.7 661.2,481.7 661.7,481.7 662.2,481.7 662.7,481.7 663.2,481.7 663.7,481.7 664.2,481.7 664.7,481.7 665.2,481.7 665.7,481.7 666.2,481.7 666.7,481.7 667.2,481.7 667.7,481.7 668.2,481.7 668.7,481.7 669.2,481.7 669.7,481.7 670.2,481.7 670.7,481.7 671.2,481.7 671.7,481.7 672.2,481.7 672.7,481.7 673.2,481.7 673.7,481.7 674.2,481.7 674.7,481.7 675.2,481.7 675.7,481.7 676.2,481.7 676.7,481.7 677.2,481.7 677.7,481.7 678.2,481.7 678.7,481.7 679.2,481.7 679.7,481.7 680.2,481.7 680.7,481.7 681.2,481.7 681.7,481.7" fill="none" stroke="#FF0000" stroke-width="1.6" stroke-linejoin="round"/>
</g>
<rect x="384.2" y="473.5" width="296.6" height="182" fill="none" stroke="#262626" stroke-width="1.1"/>
<path d="M443.52 655.5v-3M443.52 473.5v3M502.84 655.5v-3M502.84 473.5v3M562.16 655.5v-3M562.16 473.5v3M621.48 655.5v-3M621.48 473.5v3M384.2 655.5h3M680.8 655.5h-3M384.2 624.65h3M680.8 624.65h-3M384.2 593.8h3M680.8 593.8h-3M384.2 562.95h3M680.8 562.95h-3M384.2 532.1h3M680.8 532.1h-3M384.2 501.25h3M680.8 501.25h-3" stroke="#262626" stroke-width="1" fill="none"/>
<text x="384.2" y="671.9" font-size="10.5" text-anchor="middle" font-weight="bold" font-family="Liberation Sans" fill="#262626">0</text>
<text x="443.52" y="671.9" font-size="10.5" text-anchor="middle" font-weight="bold" font-family="Liberation Sans" fill="#262626">0.2</text>
<text x="502.84" y="671.9" font-size="10.5" text-anchor="middle" font-weight="bold" font-family="Liberation Sans" fill="#262626">0.4</text>
<text x="562.16" y="671.9" font-size="10.5" text-anchor="middle" font-weight="bold" font-family="Liberation Sans" fill="#262626">0.6</text>
<text x="621.48" y="671.9" font-size="10.5" text-anchor="middle" font-weight="bold" font-family="Liberation Sans" fill="#262626">0.8</text>
<text x="680.8" y="671.9" font-size="10.5" text-anchor="middle" font-weight="bold" font-family="Liberation Sans" fill="#262626">1</text>
<text x="378.8" y="660.88" font-size="10.5" text-anchor="end" font-weight="bold" font-family="Liberation Sans" fill="#262626">0</text>
<text x="378.8" y="630.03" font-size="10.5" text-anchor="end" font-weight="bold" font-family="Liberation Sans" fill="#262626">100</text>
<text x="378.8" y="599.18" font-size="10.5" text-anchor="end" font-weight="bold" font-family="Liberation Sans" fill="#262626">200</text>
<text x="378.8" y="568.33" font-size="10.5" text-anchor="end" font-weight="bold" font-family="Liberation Sans" fill="#262626">300</text>
<text x="378.8" y="537.48" font-size="10.5" text-anchor="end" font-weight="bold" font-family="Liberation Sans" fill="#262626">400</text>
<text x="378.8" y="506.63" font-size="10.5" text-anchor="end" font-weight="bold" font-family="Liberation Sans" fill="#262626">500</text>
<text transform="translate(356.08,560.3) rotate(-90)" font-size="11.9" text-anchor="middle" font-weight="bold" font-family="Liberation Sans" fill="#1a1a1a">Converter O/P power(W)</text>
<text x="536.4" y="682.4" font-size="12.8" text-anchor="middle" font-weight="bold" font-family="Liberation Sans" fill="#1a1a1a">time (sec)</text>
<text x="530.5" y="700.4" font-size="12.0" text-anchor="middle" font-weight="bold" font-family="Liberation Serif" fill="#111">(f)</text>
<rect x="589.5" y="527.4" width="84.8" height="94.8" fill="#fff" stroke="#34409E" stroke-width="1.1"/>
<line x1="593.5" y1="535.3" x2="618.3" y2="535.3" stroke="#0072BD" stroke-width="1.2"/>
<text x="621.7" y="538.72" font-size="9.5" text-anchor="start" font-weight="bold" font-family="Liberation Sans" fill="#1a1a1a">ACS</text>
<line x1="593.5" y1="548.47" x2="618.3" y2="548.47" stroke="#333" stroke-width="1.4"/>
<text x="621.7" y="551.89" font-size="9.5" text-anchor="start" font-weight="bold" font-family="Liberation Sans" fill="#1a1a1a">MHC-FLC</text>
<line x1="593.5" y1="561.64" x2="618.3" y2="561.64" stroke="#EDB120" stroke-width="1.2"/>
<text x="621.7" y="565.06" font-size="9.5" text-anchor="start" font-weight="bold" font-family="Liberation Sans" fill="#1a1a1a">VSS-FC</text>
<line x1="593.5" y1="574.81" x2="618.3" y2="574.81" stroke="#7E2F8E" stroke-width="1.6"/>
<text x="621.7" y="578.23" font-size="9.5" text-anchor="start" font-weight="bold" font-family="Liberation Sans" fill="#1a1a1a">VSS-RBFN</text>
<line x1="593.5" y1="587.98" x2="618.3" y2="587.98" stroke="#77AC30" stroke-width="1.4"/>
<text x="621.7" y="591.4" font-size="9.5" text-anchor="start" font-weight="bold" font-family="Liberation Sans" fill="#1a1a1a">ANFIS</text>
<line x1="593.5" y1="601.15" x2="618.3" y2="601.15" stroke="#FF0000" stroke-width="1.4"/>
<text x="621.7" y="604.57" font-size="9.5" text-anchor="start" font-weight="bold" font-family="Liberation Sans" fill="#1a1a1a">P&amp;O-PSO</text>
<line x1="593.5" y1="614.32" x2="618.3" y2="614.32" stroke="#0072BD" stroke-width="1.2"/>
<text x="621.7" y="617.74" font-size="9.5" text-anchor="start" font-weight="bold" font-family="Liberation Sans" fill="#1a1a1a">VSS-INR</text>
<text x="515.3" y="573" font-size="10.3" text-anchor="middle" font-weight="bold" font-family="Liberation Sans" fill="#1a1a1a">Partial Shading Condition-2</text>
<text x="502" y="589" font-size="10.3" text-anchor="middle" font-weight="bold" font-family="Liberation Sans" fill="#1a1a1a" letter-spacing="0.18">1000W/m<tspan font-size="7.42" dy="-5.15" dx="0.82">2</tspan><tspan dy="5.15">, 800W/m</tspan><tspan font-size="7.42" dy="-5.15" dx="0.82">2</tspan><tspan dy="5.15">, and 700W/m</tspan><tspan font-size="7.42" dy="-5.15" dx="0.82">2</tspan></text>
</svg></body></html>
